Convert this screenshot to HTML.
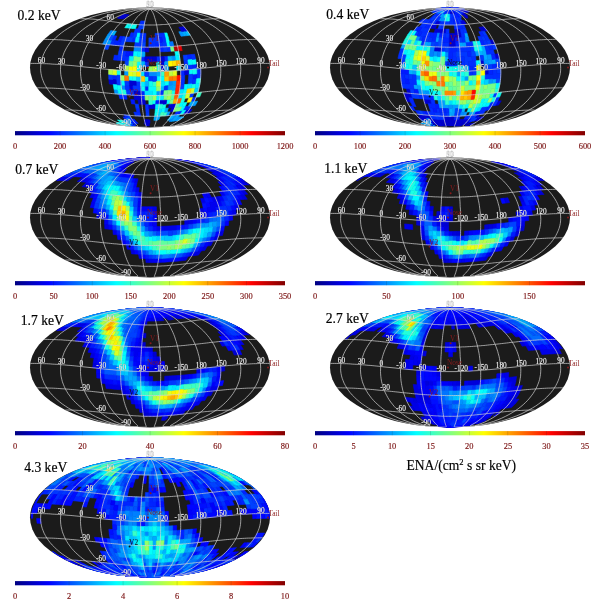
<!DOCTYPE html><html><head><meta charset="utf-8"><title>ENA maps</title><style>html,body{margin:0;padding:0;background:#fff}svg{display:block}text{font-family:"Liberation Serif","Times New Roman",serif}</style></head><body>
<svg width="600" height="600" viewBox="0 0 600 600">
<defs><linearGradient id="jet" x1="0" x2="1" y1="0" y2="0"><stop offset="0.0000" stop-color="#000080"/><stop offset="0.0312" stop-color="#00009f"/><stop offset="0.0625" stop-color="#0000bf"/><stop offset="0.0938" stop-color="#0000df"/><stop offset="0.1250" stop-color="#0000ff"/><stop offset="0.1562" stop-color="#0020ff"/><stop offset="0.1875" stop-color="#0040ff"/><stop offset="0.2188" stop-color="#0060ff"/><stop offset="0.2500" stop-color="#0080ff"/><stop offset="0.2812" stop-color="#009fff"/><stop offset="0.3125" stop-color="#00bfff"/><stop offset="0.3438" stop-color="#00dfff"/><stop offset="0.3750" stop-color="#00ffff"/><stop offset="0.4062" stop-color="#20ffdf"/><stop offset="0.4375" stop-color="#40ffbf"/><stop offset="0.4688" stop-color="#60ff9f"/><stop offset="0.5000" stop-color="#80ff80"/><stop offset="0.5312" stop-color="#9fff60"/><stop offset="0.5625" stop-color="#bfff40"/><stop offset="0.5938" stop-color="#dfff20"/><stop offset="0.6250" stop-color="#ffff00"/><stop offset="0.6562" stop-color="#ffdf00"/><stop offset="0.6875" stop-color="#ffbf00"/><stop offset="0.7188" stop-color="#ff9f00"/><stop offset="0.7500" stop-color="#ff8000"/><stop offset="0.7812" stop-color="#ff6000"/><stop offset="0.8125" stop-color="#ff4000"/><stop offset="0.8438" stop-color="#ff2000"/><stop offset="0.8750" stop-color="#ff0000"/><stop offset="0.9062" stop-color="#df0000"/><stop offset="0.9375" stop-color="#bf0000"/><stop offset="0.9688" stop-color="#9f0000"/><stop offset="1.0000" stop-color="#800000"/></linearGradient>
<clipPath id="el"><ellipse cx="0" cy="0" rx="120.0" ry="60.0"/></clipPath>
<path id="grid" d="M-24.8 58.7L-24.9 58.2L-27.3 57.3L-30.4 56.1L-33.5 54.8L-36.6 53.4L-39.5 51.8L-42.3 50.2L-44.9 48.4L-47.4 46.6L-49.7 44.8L-51.9 42.8L-54 40.8L-55.9 38.8L-57.6 36.6L-59.3 34.5L-60.8 32.3L-62.2 30.1L-63.4 27.8L-64.6 25.5L-65.6 23.2L-66.5 20.9L-67.3 18.5L-67.9 16.1L-68.5 13.7L-68.9 11.3L-69.2 8.8L-69.4 6.4L-69.5 3.9L-69.4 1.5L-69.3 -1L-69 -3.5L-68.6 -5.9L-68.1 -8.4L-67.5 -10.8L-66.7 -13.2L-65.9 -15.6L-64.9 -18L-63.8 -20.4L-62.6 -22.8L-61.2 -25.1L-59.8 -27.4L-58.2 -29.7L-56.5 -31.9L-54.6 -34.1L-52.6 -36.2L-50.5 -38.4L-48.2 -40.4L-45.8 -42.4L-43.2 -44.4L-40.4 -46.3L-37.5 -48.1L-34.4 -49.9L-31 -51.5L-27.4 -53.1L-23.6 -54.6L-19.4 -55.9L-14.8 -57.1L-9.9 -58L-4.8 -58.6L0 -58.7M-24.8 58.7L-29.1 57.8L-33.9 56.7L-38.6 55.4L-43 53.9L-47.1 52.4L-51 50.7L-54.6 49L-58 47.2L-61.3 45.3L-64.3 43.4L-67.1 41.4L-69.7 39.3L-72.1 37.2L-74.4 35.1L-76.5 32.9L-78.5 30.7L-80.2 28.4L-81.9 26.1L-83.3 23.8L-84.6 21.5L-85.7 19.1L-86.7 16.7L-87.6 14.3L-88.2 11.9L-88.8 9.4L-89.2 7L-89.4 4.5L-89.5 2.1L-89.4 -0.4L-89.2 -2.9L-88.8 -5.3L-88.3 -7.8L-87.6 -10.2L-86.7 -12.6L-85.8 -15.1L-84.6 -17.5L-83.3 -19.9L-81.9 -22.2L-80.3 -24.6L-78.5 -26.9L-76.6 -29.2L-74.5 -31.4L-72.2 -33.6L-69.8 -35.8L-67.2 -37.9L-64.4 -40L-61.4 -42L-58.2 -44L-54.8 -45.9L-51.2 -47.8L-47.3 -49.6L-43.2 -51.3L-38.7 -52.9L-33.9 -54.4L-28.7 -55.8L-23 -57.1L-16.7 -58.1L-10 -58.9L-4.1 -59.2L0 -58.7M-24.8 58.7L-32.5 57.6L-39.3 56.3L-45.5 54.9L-51.2 53.4L-56.5 51.8L-61.4 50.1L-66 48.3L-70.2 46.5L-74.2 44.6L-78 42.6L-81.5 40.6L-84.7 38.5L-87.8 36.4L-90.6 34.2L-93.2 32L-95.6 29.7L-97.8 27.5L-99.8 25.2L-101.6 22.8L-103.2 20.5L-104.6 18.1L-105.9 15.7L-106.9 13.2L-107.8 10.8L-108.5 8.4L-109 5.9L-109.3 3.4L-109.4 1L-109.3 -1.5L-109.1 -4L-108.6 -6.4L-108 -8.9L-107.2 -11.3L-106.2 -13.7L-105 -16.2L-103.6 -18.6L-102.1 -20.9L-100.3 -23.3L-98.4 -25.6L-96.2 -27.9L-93.9 -30.2L-91.3 -32.4L-88.6 -34.6L-85.6 -36.8L-82.4 -38.9L-79 -41L-75.3 -43L-71.4 -45L-67.2 -46.9L-62.8 -48.7L-58 -50.5L-52.8 -52.1L-47.3 -53.7L-41.3 -55.2L-34.6 -56.6L-27.2 -57.8L-18.5 -58.9L-8.1 -59.7L-1.7 -59.5L0 -58.7M24.8 58.7L32.7 57.6L39.6 56.3L45.9 54.9L51.7 53.4L57.1 51.8L62 50.1L66.7 48.3L71 46.5L75 44.5L78.8 42.6L82.4 40.5L85.7 38.5L88.8 36.3L91.6 34.2L94.3 32L96.7 29.7L98.9 27.4L101 25.1L102.8 22.8L104.4 20.4L105.9 18L107.1 15.6L108.2 13.2L109.1 10.8L109.8 8.3L110.3 5.9L110.6 3.4L110.7 0.9L110.6 -1.5L110.4 -4L109.9 -6.4L109.3 -8.9L108.5 -11.3L107.5 -13.8L106.3 -16.2L104.9 -18.6L103.3 -21L101.6 -23.3L99.6 -25.7L97.4 -28L95.1 -30.2L92.5 -32.5L89.7 -34.7L86.7 -36.8L83.5 -39L80 -41L76.3 -43L72.3 -45L68.1 -46.9L63.6 -48.7L58.8 -50.5L53.6 -52.2L47.9 -53.8L41.8 -55.2L35.1 -56.6L27.6 -57.9L18.8 -58.9L8 -59.7L1.5 -59.6L0 -58.7M24.8 58.7L29.4 57.8L34.3 56.6L39.1 55.3L43.6 53.9L47.8 52.3L51.7 50.7L55.4 48.9L58.9 47.1L62.2 45.2L65.2 43.3L68.1 41.3L70.7 39.3L73.2 37.2L75.5 35L77.7 32.8L79.6 30.6L81.4 28.3L83.1 26L84.5 23.7L85.9 21.4L87 19L88 16.6L88.9 14.2L89.6 11.8L90.1 9.3L90.5 6.9L90.7 4.4L90.8 2L90.7 -0.5L90.5 -3L90.1 -5.4L89.6 -7.9L88.9 -10.3L88 -12.7L87 -15.2L85.9 -17.6L84.6 -20L83.1 -22.3L81.5 -24.7L79.7 -27L77.7 -29.2L75.6 -31.5L73.3 -33.7L70.8 -35.9L68.2 -38L65.3 -40.1L62.3 -42.1L59.1 -44.1L55.6 -46L51.9 -47.9L48 -49.6L43.8 -51.3L39.3 -52.9L34.4 -54.5L29.1 -55.9L23.2 -57.1L16.8 -58.2L10 -59L4 -59.2L0 -58.7M24.8 58.7L25.2 58.2L27.8 57.2L31 56.1L34.2 54.8L37.3 53.3L40.3 51.7L43.1 50.1L45.8 48.3L48.3 46.5L50.7 44.6L52.9 42.7L55 40.7L57 38.6L58.8 36.5L60.4 34.4L62 32.2L63.4 30L64.7 27.7L65.8 25.4L66.9 23.1L67.8 20.7L68.6 18.4L69.3 16L69.8 13.5L70.2 11.1L70.6 8.7L70.7 6.2L70.8 3.8L70.8 1.3L70.6 -1.1L70.3 -3.6L69.9 -6L69.4 -8.5L68.8 -10.9L68 -13.4L67.1 -15.8L66.1 -18.2L65 -20.5L63.8 -22.9L62.4 -25.2L60.9 -27.5L59.3 -29.8L57.5 -32L55.6 -34.2L53.6 -36.4L51.4 -38.5L49.1 -40.5L46.6 -42.5L44 -44.5L41.2 -46.4L38.2 -48.2L35 -50L31.6 -51.6L27.9 -53.2L23.9 -54.6L19.7 -56L15 -57.2L10 -58.1L4.8 -58.7L0 -58.7M24.8 58.7L20.5 58.6L20.5 58L22.1 57.1L24.2 55.9L26.3 54.6L28.4 53.1L30.5 51.5L32.4 49.9L34.2 48.1L35.9 46.3L37.6 44.4L39.1 42.4L40.5 40.4L41.8 38.4L43 36.2L44.2 34.1L45.2 31.9L46.1 29.7L47 27.4L47.8 25.1L48.5 22.8L49 20.4L49.6 18L50 15.6L50.3 13.2L50.6 10.8L50.7 8.4L50.8 5.9L50.8 3.5L50.7 1L50.5 -1.5L50.3 -3.9L49.9 -6.4L49.5 -8.8L49 -11.3L48.3 -13.7L47.7 -16.1L46.9 -18.5L46 -20.9L45.1 -23.2L44 -25.5L42.9 -27.8L41.6 -30.1L40.3 -32.3L38.9 -34.5L37.4 -36.6L35.7 -38.8L34 -40.8L32.2 -42.8L30.2 -44.8L28.1 -46.6L25.9 -48.4L23.5 -50.2L20.9 -51.8L18.2 -53.4L15.2 -54.8L11.9 -56.1L8.4 -57.3L4.4 -58.2L0 -58.7M24.8 58.7L16 59.2L12.8 58.9L13 58.1L14.2 57.1L15.5 55.8L16.7 54.4L18 52.9L19.2 51.3L20.3 49.6L21.4 47.8L22.4 45.9L23.3 44L24.2 42L25 40L25.8 37.9L26.5 35.8L27.2 33.6L27.7 31.4L28.3 29.2L28.8 26.9L29.2 24.6L29.6 22.2L29.9 19.9L30.2 17.5L30.4 15.1L30.6 12.6L30.7 10.2L30.7 7.8L30.7 5.3L30.7 2.9L30.6 0.4L30.5 -2.1L30.3 -4.5L30 -7L29.7 -9.4L29.4 -11.9L29 -14.3L28.5 -16.7L28 -19.1L27.5 -21.5L26.8 -23.8L26.2 -26.1L25.4 -28.4L24.7 -30.7L23.8 -32.9L22.9 -35.1L21.9 -37.2L20.9 -39.3L19.8 -41.4L18.6 -43.4L17.4 -45.3L16.1 -47.2L14.6 -49L13.1 -50.7L11.5 -52.4L9.7 -53.9L7.7 -55.4L5.5 -56.7L3 -57.8L0 -58.7M24.8 58.7L13 59.5L4.6 59.7L4.3 58.9L4.7 57.8L5.2 56.6L5.7 55.2L6.1 53.7L6.6 52.1L7 50.5L7.3 48.7L7.7 46.9L8 45L8.4 43L8.6 41L8.9 38.9L9.2 36.8L9.4 34.6L9.6 32.4L9.8 30.2L10 27.9L10.1 25.6L10.3 23.3L10.4 20.9L10.5 18.6L10.6 16.2L10.6 13.7L10.7 11.3L10.7 8.9L10.7 6.4L10.7 4L10.7 1.5L10.6 -1L10.5 -3.4L10.5 -5.9L10.4 -8.4L10.2 -10.8L10.1 -13.2L10 -15.7L9.8 -18.1L9.6 -20.5L9.4 -22.8L9.1 -25.2L8.9 -27.5L8.6 -29.7L8.3 -32L8 -34.2L7.7 -36.4L7.3 -38.5L7 -40.6L6.6 -42.6L6.1 -44.6L5.7 -46.5L5.2 -48.3L4.6 -50.1L4.1 -51.8L3.5 -53.4L2.8 -54.9L2 -56.3L1.1 -57.6L0 -58.7M-24.8 58.7L-12.9 59.6L-4 59.7L-3.8 58.9L-4.1 57.9L-4.6 56.6L-5 55.2L-5.4 53.8L-5.7 52.2L-6.1 50.5L-6.4 48.7L-6.7 46.9L-7 45L-7.3 43L-7.6 41L-7.8 39L-8 36.8L-8.2 34.7L-8.4 32.5L-8.6 30.2L-8.7 28L-8.9 25.7L-9 23.3L-9.1 21L-9.2 18.6L-9.2 16.2L-9.3 13.8L-9.3 11.3L-9.3 8.9L-9.4 6.4L-9.3 4L-9.3 1.5L-9.3 -0.9L-9.2 -3.4L-9.2 -5.9L-9.1 -8.3L-9 -10.8L-8.8 -13.2L-8.7 -15.6L-8.6 -18L-8.4 -20.4L-8.2 -22.8L-8 -25.1L-7.8 -27.4L-7.5 -29.7L-7.3 -32L-7 -34.2L-6.7 -36.3L-6.4 -38.5L-6.1 -40.5L-5.7 -42.6L-5.4 -44.5L-5 -46.5L-4.5 -48.3L-4.1 -50.1L-3.6 -51.8L-3 -53.4L-2.4 -54.9L-1.8 -56.3L-1 -57.6L0 -58.7M-24.8 58.7L-15.7 59.2L-12.2 59L-12.4 58.2L-13.5 57.1L-14.7 55.9L-16 54.5L-17.2 52.9L-18.3 51.3L-19.4 49.6L-20.4 47.9L-21.4 46L-22.3 44.1L-23.2 42.1L-23.9 40.1L-24.7 38L-25.3 35.9L-26 33.7L-26.5 31.5L-27 29.2L-27.5 27L-27.9 24.7L-28.3 22.3L-28.6 20L-28.9 17.6L-29.1 15.2L-29.2 12.7L-29.3 10.3L-29.4 7.9L-29.4 5.4L-29.4 3L-29.3 0.5L-29.1 -2L-29 -4.4L-28.7 -6.9L-28.4 -9.3L-28.1 -11.8L-27.7 -14.2L-27.3 -16.6L-26.8 -19L-26.3 -21.4L-25.7 -23.7L-25 -26L-24.3 -28.3L-23.6 -30.6L-22.8 -32.8L-21.9 -35L-21 -37.2L-20 -39.3L-19 -41.3L-17.8 -43.3L-16.7 -45.2L-15.4 -47.1L-14 -48.9L-12.6 -50.7L-11 -52.3L-9.3 -53.9L-7.4 -55.3L-5.3 -56.6L-2.9 -57.8L0 -58.7M-24.8 58.7L-20.2 58.7L-20 58.1L-21.5 57.2L-23.5 56L-25.6 54.6L-27.7 53.2L-29.6 51.6L-31.5 50L-33.3 48.2L-35 46.4L-36.5 44.5L-38 42.5L-39.4 40.5L-40.7 38.5L-41.9 36.4L-43 34.2L-44 32L-44.9 29.8L-45.7 27.5L-46.5 25.2L-47.2 22.9L-47.7 20.5L-48.2 18.2L-48.6 15.8L-49 13.4L-49.2 10.9L-49.4 8.5L-49.5 6L-49.5 3.6L-49.4 1.1L-49.2 -1.3L-48.9 -3.8L-48.6 -6.2L-48.2 -8.7L-47.7 -11.1L-47.1 -13.5L-46.4 -16L-45.7 -18.4L-44.8 -20.7L-43.9 -23.1L-42.9 -25.4L-41.8 -27.7L-40.6 -30L-39.3 -32.2L-37.9 -34.4L-36.4 -36.5L-34.8 -38.6L-33.2 -40.7L-31.4 -42.7L-29.4 -44.6L-27.4 -46.5L-25.2 -48.3L-22.9 -50.1L-20.4 -51.7L-17.8 -53.3L-14.9 -54.8L-11.7 -56.1L-8.2 -57.2L-4.3 -58.2L0 -58.7M-84.7 42.5L-83.5 42.5L-82.2 42.5L-81 42.5L-79.7 42.5L-78.4 42.6L-77.1 42.6L-75.8 42.7L-74.4 42.7L-73.1 42.8L-71.7 42.9L-70.3 43L-68.9 43L-67.5 43.1L-66.1 43.2L-64.7 43.3L-63.3 43.5L-61.9 43.6L-60.4 43.7L-59 43.8L-57.5 44L-56.1 44.1L-54.6 44.2L-53.2 44.4L-51.7 44.5L-50.2 44.7L-48.7 44.9L-47.3 45L-45.8 45.2L-44.3 45.3L-42.8 45.5L-41.4 45.7L-39.9 45.8L-38.4 46L-36.9 46.2L-35.4 46.3L-34 46.5L-32.5 46.7L-31 46.8L-29.6 47L-28.1 47.1L-26.7 47.3L-25.2 47.4L-23.8 47.6L-22.4 47.7L-20.9 47.8L-19.5 47.9L-18.1 48.1L-16.7 48.2L-15.2 48.3L-13.8 48.4L-12.4 48.4L-11 48.5L-9.7 48.6L-8.3 48.7L-6.9 48.7L-5.5 48.8L-4.1 48.8L-2.8 48.8L-1.4 48.8L0 48.8L1.4 48.8L2.8 48.8L4.1 48.8L5.5 48.8L6.9 48.7L8.3 48.7L9.7 48.6L11 48.5L12.4 48.4L13.8 48.4L15.2 48.3L16.7 48.2L18.1 48.1L19.5 47.9L20.9 47.8L22.4 47.7L23.8 47.6L25.2 47.4L26.7 47.3L28.1 47.1L29.6 47L31 46.8L32.5 46.7L34 46.5L35.4 46.3L36.9 46.2L38.4 46L39.9 45.8L41.4 45.7L42.8 45.5L44.3 45.3L45.8 45.2L47.3 45L48.7 44.9L50.2 44.7L51.7 44.5L53.2 44.4L54.6 44.2L56.1 44.1L57.5 44L59 43.8L60.4 43.7L61.9 43.6L63.3 43.5L64.7 43.3L66.1 43.2L67.5 43.1L68.9 43L70.3 43L71.7 42.9L73.1 42.8L74.4 42.7L75.8 42.7L77.1 42.6L78.4 42.6L79.7 42.5L81 42.5L82.2 42.5L83.5 42.5L84.7 42.5M-112.9 20.3L-111.1 20.3L-109.3 20.3L-107.5 20.4L-105.7 20.4L-103.8 20.4L-102 20.5L-100.2 20.6L-98.3 20.6L-96.5 20.7L-94.6 20.8L-92.7 20.9L-90.9 21L-89 21.2L-87.1 21.3L-85.2 21.4L-83.3 21.6L-81.5 21.7L-79.6 21.9L-77.7 22L-75.8 22.2L-73.9 22.4L-72 22.6L-70.1 22.8L-68.1 22.9L-66.2 23.1L-64.3 23.3L-62.4 23.5L-60.5 23.7L-58.6 23.9L-56.7 24.1L-54.8 24.3L-52.9 24.5L-51 24.7L-49 25L-47.1 25.2L-45.2 25.3L-43.3 25.5L-41.4 25.7L-39.5 25.9L-37.6 26.1L-35.7 26.3L-33.8 26.4L-31.9 26.6L-30 26.8L-28.1 26.9L-26.3 27.1L-24.4 27.2L-22.5 27.3L-20.6 27.4L-18.7 27.6L-16.8 27.7L-15 27.7L-13.1 27.8L-11.2 27.9L-9.3 28L-7.5 28L-5.6 28L-3.7 28.1L-1.9 28.1L0 28.1L1.9 28.1L3.7 28.1L5.6 28L7.5 28L9.3 28L11.2 27.9L13.1 27.8L15 27.7L16.8 27.7L18.7 27.6L20.6 27.4L22.5 27.3L24.4 27.2L26.3 27.1L28.1 26.9L30 26.8L31.9 26.6L33.8 26.4L35.7 26.3L37.6 26.1L39.5 25.9L41.4 25.7L43.3 25.5L45.2 25.3L47.1 25.2L49 25L51 24.7L52.9 24.5L54.8 24.3L56.7 24.1L58.6 23.9L60.5 23.7L62.4 23.5L64.3 23.3L66.2 23.1L68.1 22.9L70.1 22.8L72 22.6L73.9 22.4L75.8 22.2L77.7 22L79.6 21.9L81.5 21.7L83.3 21.6L85.2 21.4L87.1 21.3L89 21.2L90.9 21L92.7 20.9L94.6 20.8L96.5 20.7L98.3 20.6L100.2 20.6L102 20.5L103.8 20.4L105.7 20.4L107.5 20.4L109.3 20.3L111.1 20.3L112.9 20.3M-119.7 -4.1L-117.7 -4.1L-115.7 -4.1L-113.7 -4.1L-111.7 -4L-109.7 -4L-107.7 -3.9L-105.7 -3.8L-103.7 -3.8L-101.7 -3.7L-99.8 -3.6L-97.8 -3.4L-95.8 -3.3L-93.8 -3.2L-91.8 -3.1L-89.8 -2.9L-87.8 -2.7L-85.8 -2.6L-83.9 -2.4L-81.9 -2.2L-79.9 -2.1L-77.9 -1.9L-75.9 -1.7L-73.9 -1.5L-71.9 -1.3L-69.9 -1.1L-68 -0.9L-66 -0.6L-64 -0.4L-62 -0.2L-60 0L-58 0.2L-56 0.4L-54 0.6L-52 0.9L-50 1.1L-48 1.3L-46 1.5L-44 1.7L-42 1.9L-40 2.1L-38 2.2L-36 2.4L-34 2.6L-32 2.7L-30 2.9L-28 3.1L-26 3.2L-24 3.3L-22 3.4L-20 3.6L-18 3.7L-16 3.8L-14 3.8L-12 3.9L-10 4L-8 4L-6 4.1L-4 4.1L-2 4.1L0 4.1L2 4.1L4 4.1L6 4.1L8 4L10 4L12 3.9L14 3.8L16 3.8L18 3.7L20 3.6L22 3.4L24 3.3L26 3.2L28 3.1L30 2.9L32 2.7L34 2.6L36 2.4L38 2.2L40 2.1L42 1.9L44 1.7L46 1.5L48 1.3L50 1.1L52 0.9L54 0.6L56 0.4L58 0.2L60 0L62 -0.2L64 -0.4L66 -0.6L68 -0.9L69.9 -1.1L71.9 -1.3L73.9 -1.5L75.9 -1.7L77.9 -1.9L79.9 -2.1L81.9 -2.2L83.9 -2.4L85.8 -2.6L87.8 -2.7L89.8 -2.9L91.8 -3.1L93.8 -3.2L95.8 -3.3L97.8 -3.4L99.8 -3.6L101.7 -3.7L103.7 -3.8L105.7 -3.8L107.7 -3.9L109.7 -4L111.7 -4L113.7 -4.1L115.7 -4.1L117.7 -4.1L119.7 -4.1M-106 -28.1L-104.2 -28.1L-102.3 -28.1L-100.5 -28L-98.6 -28L-96.8 -28L-95 -27.9L-93.2 -27.8L-91.4 -27.7L-89.6 -27.7L-87.9 -27.6L-86.1 -27.4L-84.3 -27.3L-82.6 -27.2L-80.8 -27.1L-79.1 -26.9L-77.4 -26.8L-75.6 -26.6L-73.9 -26.4L-72.2 -26.3L-70.4 -26.1L-68.7 -25.9L-67 -25.7L-65.3 -25.5L-63.5 -25.3L-61.8 -25.1L-60.1 -25L-58.4 -24.7L-56.6 -24.5L-54.9 -24.3L-53.2 -24.1L-51.4 -23.9L-49.7 -23.7L-48 -23.5L-46.2 -23.3L-44.5 -23.1L-42.7 -22.9L-41 -22.8L-39.2 -22.6L-37.5 -22.4L-35.7 -22.2L-33.9 -22L-32.2 -21.9L-30.4 -21.7L-28.6 -21.6L-26.9 -21.4L-25.1 -21.3L-23.3 -21.2L-21.5 -21L-19.7 -20.9L-17.9 -20.8L-16.2 -20.7L-14.4 -20.6L-12.6 -20.6L-10.8 -20.5L-9 -20.4L-7.2 -20.4L-5.4 -20.4L-3.6 -20.3L-1.8 -20.3L0 -20.3L1.8 -20.3L3.6 -20.3L5.4 -20.4L7.2 -20.4L9 -20.4L10.8 -20.5L12.6 -20.6L14.4 -20.6L16.2 -20.7L17.9 -20.8L19.7 -20.9L21.5 -21L23.3 -21.2L25.1 -21.3L26.9 -21.4L28.6 -21.6L30.4 -21.7L32.2 -21.9L33.9 -22L35.7 -22.2L37.5 -22.4L39.2 -22.6L41 -22.8L42.7 -22.9L44.5 -23.1L46.2 -23.3L48 -23.5L49.7 -23.7L51.4 -23.9L53.2 -24.1L54.9 -24.3L56.6 -24.5L58.4 -24.7L60.1 -25L61.8 -25.1L63.5 -25.3L65.3 -25.5L67 -25.7L68.7 -25.9L70.4 -26.1L72.2 -26.3L73.9 -26.4L75.6 -26.6L77.4 -26.8L79.1 -26.9L80.8 -27.1L82.6 -27.2L84.3 -27.3L86.1 -27.4L87.9 -27.6L89.6 -27.7L91.4 -27.7L93.2 -27.8L95 -27.9L96.8 -28L98.6 -28L100.5 -28L102.3 -28.1L104.2 -28.1L106 -28.1M-69.7 -48.8L-68.4 -48.8L-67 -48.8L-65.7 -48.8L-64.4 -48.8L-63.2 -48.7L-61.9 -48.7L-60.7 -48.6L-59.5 -48.5L-58.3 -48.4L-57.2 -48.4L-56 -48.3L-54.9 -48.2L-53.8 -48.1L-52.7 -47.9L-51.6 -47.8L-50.5 -47.7L-49.4 -47.6L-48.3 -47.4L-47.2 -47.3L-46.2 -47.1L-45.1 -47L-44 -46.8L-42.9 -46.7L-41.9 -46.5L-40.8 -46.3L-39.7 -46.2L-38.6 -46L-37.6 -45.8L-36.5 -45.7L-35.4 -45.5L-34.3 -45.3L-33.2 -45.2L-32.1 -45L-30.9 -44.9L-29.8 -44.7L-28.7 -44.5L-27.6 -44.4L-26.4 -44.2L-25.3 -44.1L-24.1 -44L-23 -43.8L-21.8 -43.7L-20.6 -43.6L-19.4 -43.5L-18.2 -43.3L-17.1 -43.2L-15.9 -43.1L-14.7 -43L-13.5 -43L-12.2 -42.9L-11 -42.8L-9.8 -42.7L-8.6 -42.7L-7.4 -42.6L-6.1 -42.6L-4.9 -42.5L-3.7 -42.5L-2.5 -42.5L-1.2 -42.5L0 -42.5L1.2 -42.5L2.5 -42.5L3.7 -42.5L4.9 -42.5L6.1 -42.6L7.4 -42.6L8.6 -42.7L9.8 -42.7L11 -42.8L12.2 -42.9L13.5 -43L14.7 -43L15.9 -43.1L17.1 -43.2L18.2 -43.3L19.4 -43.5L20.6 -43.6L21.8 -43.7L23 -43.8L24.1 -44L25.3 -44.1L26.4 -44.2L27.6 -44.4L28.7 -44.5L29.8 -44.7L30.9 -44.9L32.1 -45L33.2 -45.2L34.3 -45.3L35.4 -45.5L36.5 -45.7L37.6 -45.8L38.6 -46L39.7 -46.2L40.8 -46.3L41.9 -46.5L42.9 -46.7L44 -46.8L45.1 -47L46.2 -47.1L47.2 -47.3L48.3 -47.4L49.4 -47.6L50.5 -47.7L51.6 -47.8L52.7 -47.9L53.8 -48.1L54.9 -48.2L56 -48.3L57.2 -48.4L58.3 -48.4L59.5 -48.5L60.7 -48.6L61.9 -48.7L63.2 -48.7L64.4 -48.8L65.7 -48.8L67 -48.8L68.4 -48.8L69.7 -48.8"/>
</defs>
<rect width="600" height="600" fill="#fff"/>
<g transform="translate(150 67.5)">
<ellipse cx="0" cy="0" rx="120.0" ry="60.0" fill="#1b1b1b"/>
<g clip-path="url(#el)"><g transform="scale(0.1)" stroke-width="6" stroke-linejoin="round">
<path fill="#0000c7" stroke="#0000c7" d="M-249 -494l-23 0 14-12 15-11 15-11 19 0-14 11-14 11zM-15 558l-14 0 3 9 3 9 4 7 10 0-2-7-2-9z"/>
<path fill="#0000d1" stroke="#0000d1" d="M-272 -494l-23 0 15-12 16-11 17-11 19 0-15 11-15 11zM-295 -494l-23 0 17-12 17-11 18-11 19 0-17 11-16 11zM0 528l-19 0 1 11 2 10 1 9 15 0 0-9 0-10zM-19 528l-19 0 3 11 3 10 3 9 14 0-1-9-2-10zM-38 528l-19 0 4 11 4 10 5 9 15 0-3-9-3-10z"/>
<path fill="#00a8ff" stroke="#00a8ff" d="M340 494l-22 0-17 12-17 11-18 11 19 0 19-11 19-11zM295 494l-23 0-14 12-15 11-15 11 19 0 17-11 16-11zM91 494l-23 0-3 12-4 11-4 11 19 0 5-11 5-11zM68 494l-23 0-2 12-2 11-3 11 19 0 4-11 4-11z"/>
<path fill="#0094ff" stroke="#0094ff" d="M318 494l-23 0-15 12-16 11-17 11 19 0 18-11 17-11zM-247 528l-19 0 19 11 20 10 22 9 14 0-20-9-18-10zM-235 558l-14 0 27 9 30 9 33 7 10 0-31-7-29-9zM-249 558l-15 0 29 9 32 9 35 7 9 0-33-7-30-9z"/>
<path fill="#008aff" stroke="#008aff" d="M272 494l-23 0-12 12-14 11-14 11 19 0 15-11 15-11zM249 494l-22 0-12 12-12 11-13 11 19 0 14-11 14-11zM-264 558l-15 0 31 9 34 9 37 7 9 0-35-7-32-9z"/>
<path fill="#00b2ff" stroke="#00b2ff" d="M227 494l-23 0-10 12-11 11-12 11 19 0 13-11 12-11z"/>
<path fill="#0042ff" stroke="#0042ff" d="M-204 494l-23 0 12 12 12 11 13 11 19 0-12-11-11-11z"/>
<path fill="#009eff" stroke="#009eff" d="M-227 494l-22 0 12 12 14 11 14 11 19 0-13-11-12-11zM-228 528l-19 0 18 11 18 10 20 9 15 0-18-9-18-10zM-266 528l-19 0 20 11 22 10 23 9 15 0-22-9-20-10z"/>
<path fill="#0024ff" stroke="#0024ff" d="M-249 494l-23 0 14 12 15 11 15 11 19 0-14-11-14-11zM-152 528l-19 0 12 11 13 10 14 9 15 0-13-9-11-10zM-171 528l-19 0 14 11 14 10 15 9 15 0-14-9-13-10zM-220 558l-15 0 26 9 29 9 31 7 9 0-29-7-27-9z"/>
<path fill="#002eff" stroke="#002eff" d="M-190 528l-19 0 15 11 16 10 17 9 14 0-15-9-14-10z"/>
<path fill="#001aff" stroke="#001aff" d="M-209 528l-19 0 16 11 18 10 18 9 15 0-17-9-16-10z"/>
<path fill="#38ffc7" stroke="#38ffc7" d="M-285 528l-19 0 22 11 23 10 24 9 15 0-23-9-22-10z"/>
<path fill="#0ffff0" stroke="#0ffff0" d="M-304 528l-19 0 23 11 25 10 26 9 14 0-24-9-23-10z"/>
<path fill="#0000db" stroke="#0000db" d="M-29 558l-15 0 5 9 5 9 6 7 9 0-4-7-3-9zM-44 558l-15 0 7 9 7 9 8 7 9 0-6-7-5-9z"/>
<path fill="#00bdff" stroke="#00bdff" d="M-279 558l-14 0 32 9 36 9 38 7 10 0-37-7-34-9z"/>
<path fill="#1affe5" stroke="#1affe5" d="M-293 558l-15 0 34 9 37 9 41 7 9 0-38-7-36-9z"/>
<path fill="#00dbff" stroke="#00dbff" d="M-308 558l-15 0 36 9 39 9 43 7 9 0-41-7-37-9z"/>
<path fill="#05fffa" stroke="#05fffa" d="M-323 558l-14 0 37 9 41 9 44 7 10 0-43-7-39-9z"/>
<path fill="#0024ff" stroke="#0024ff" d="M-169 584l-5 0-6-1-5 0-7-6-11-7-12-8 7 1 7 1 6 1 11 7 10 7zM-137 547l-8-1-7-1-8 0-8-10-8-11-7-11 8 1 9 1 8 1 7 10 7 11zM-160 545l-7-1-8-1-8-1-9-10-9-10-8-11 8 1 9 1 9 0 7 11 8 11zM-206 540l-8-1-7-1-8-1-11-10-11-11-11-11 9 1 9 1 9 1 9 11 10 11zM-209 511l-26-3-27-35 29 3zM301 469l-29 3 24-38 31-3zM-101 449l-30-2-10-39 33 1zM-48 326l-36-1-3-45 37 1zM-229 318l-36-3-10-45 38 2zM-50 281l-37-1-3-47 39 1zM-13 235l-38-1-1-47 39 0zM-332 124l-40-3-2-49 40 4zM347 74l-40 4 0-49 40-4zM467 14l-40 4-3-49 39-4zM417 -80l-39 3-8-48 38-4zM183 -62l-39 2-3-49 38-2zM-52 -58l-40-1 2-49 39 1zM-326 -72l-39-3 8-49 38 3zM-166 -111l-39-2 6-48 37 2zM137 -158l-37 1-4-48 36-1zM-50 -156l-37 0 3-48 36 1zM-273 -166l-37-3 12-48 35 3zM96 -205l-36 1-3-47 34-1zM-298 -217l-36-3 16-46 34 3zM-334 -220l-35-3 18-47 33 4zM-148 -254l-35-2 11-45 32 1zM-351 -270l-34-3 23-45 31 3zM-172 -301l-32-3 14-44 30 2z"/>
<path fill="#0094ff" stroke="#0094ff" d="M-185 583l-5-1-5 0-5-1-9-6-12-7-14-8 7 1 6 0 7 1 12 8 11 7zM-195 565l-6-1-7-1-7-1-13-8-12-10-13-9 8 1 8 0 8 1 11 10 12 9zM261 534l-8 1-8 1-8 0 12-10 11-10 11-12 8 0 9-1 9-1-12 11-12 10zM244 507l-26 3 25-35 29-3zM100 279l-38 1 2-46 39-1zM-313 267l-38-4-9-46 38 3zM261 -67l-39 3-5-49 39-3zM341 -316l-31 3-22-44 28-3z"/>
<path fill="#008aff" stroke="#008aff" d="M-200 581l-5-1-5 0-5-1-11-6-14-7-15-9 6 1 7 1 7 1 14 8 12 7zM214 539l-8 1-8 1-8 1 10-11 9-10 9-11 9-1 8-1 9-1-10 11-10 11zM-244 226l-39-3-6-47 40 3zM223 180l-40 2 3-48 40-2zM67 90l-40 0 0-49 40-1zM27 90l-40 0 0-49 40 0zM387 22l-40 3-3-49 40-3zM-87 -156l-37-2 4-47 36 1zM-124 -158l-38-1 6-48 36 2zM-439 -231l-35-4 23-46 33 4zM-393 -322l-31-4 31-43 29 4z"/>
<path fill="#00bdff" stroke="#00bdff" d="M-215 579l-5 0-5-1-5 0-13-7-16-8-16-8 6 1 7 1 7 0 15 9 14 7zM141 232l-38 1 2-47 39-2zM403 -323l-31 4-27-44 29-3z"/>
<path fill="#1affe5" stroke="#1affe5" d="M-230 578l-5-1-5-1-5 0-15-7-18-8-18-8 7 1 7 0 7 1 16 8 16 8zM152 407l-33 2 7-42 35-2zM335 352l-35 3 14-44 37-3zM351 308l-37 3 12-45 37-4zM250 272l-38 2 6-46 39-3zM451 208l-39 4 8-48 40-4z"/>
<path fill="#00dbff" stroke="#00dbff" d="M-245 576l-4-1-5 0-5-1-18-7-19-8-20-9 7 1 7 1 6 1 18 8 18 8zM101 486l-28 1 7-37 31-2zM-53 90l-40-1 0-49 40 1z"/>
<path fill="#05fffa" stroke="#05fffa" d="M-259 574l-5 0-4-1-5 0-20-8-21-8-21-9 6 1 7 1 6 0 20 9 19 8zM80 450l-30 0 4-39 32-1zM351 391l-34 3 18-42 36-4zM195 363l-34 2 7-44 37-2zM57 369l-34 0 1-43 36-1zM363 262l-37 4 9-47 38-3zM62 280l-37 1 1-47 38 0zM-275 270l-38-3-9-47 39 3zM64 234l-38 0 0-47 39 0zM26 234l-39 1 0-48 39 0zM183 182l-39 2 2-48 40-2zM-249 179l-40-3-3-49 40 3zM-13 139l-40 0 0-49 40 0zM-173 135l-39-2-2-49 40 2zM428 67l-40 4-1-49 40-4zM-93 40l-41-1 1-50 40 2zM463 -35l-39 4-7-49 39-4zM106 -10l-40 1-1-49 40-1zM294 -119l-38 3-8-48 37-3zM194 -256l-34 2-9-46 32-2zM183 -302l-32 2-11-45 30-1z"/>
<path fill="#0000c7" stroke="#0000c7" d="M-6 580l-6 0-6-1-6 0-1-8-2-9-1-9 7 0 7 0 7 0 0 10 1 9zM-125 278l-37-1-5-47 39 2zM-328 173l-40-4-4-48 40 3zM-271 -486l-6-1-7-1-6-1 18-12 19-11 20-11 4 1 5 1 5 1-18 11-18 11z"/>
<path fill="#0000db" stroke="#0000db" d="M-24 579l-5 0-6 0-6 0-3-8-3-9-3-10 7 1 8 0 7 0 1 9 2 9zM-167 230l-38-2-5-47 40 2zM147 38l-40 2-1-50 40-1zM146 -11l-40 1-1-49 39-1zM26 -58l-39 0 0-49 39 0zM374 -366l-29 3-31-42 26-3z"/>
<path fill="#002eff" stroke="#002eff" d="M-135 571l-7 0-6-1-7-1-9-8-9-9-10-10 8 1 8 1 7 1 8 9 9 9zM272 472l-29 3 22-38 31-3zM-92 486l-28-1-11-38 30 2zM-120 485l-28-2-14-37 31 1zM391 424l-32 4 25-41 34-3zM359 428l-32 3 24-40 33-4zM-10 451l-30 0-3-40 32 0zM-11 411l-32 0-3-42 35 1zM442 341l-36 4 18-45 37-3zM-265 315l-37-3-11-45 38 3zM137 278l-37 1 3-46 38-1zM180 230l-39 2 3-48 39-2zM-205 228l-39-2-5-47 39 2zM460 160l-40 4 5-48 41-4zM341 171l-39 4 4-49 40-3zM506 108l-40 4 2-49 40-4zM346 123l-40 3 1-48 40-4zM27 139l-40 0 0-49 40 0zM508 59l-40 4-1-49 40-4zM427 18l-40 4-3-49 40-4zM384 -27l-40 3-5-49 39-4zM-13 -8l-40-1 1-49 39 0zM456 -84l-39 4-9-49 38-4zM105 -59l-40 1-1-49 38-1zM-209 -64l-39-2 5-49 38 2zM-248 -66l-39-3 6-49 38 3zM-287 -69l-39-3 7-49 38 3zM-243 -115l-38-3 8-48 37 3zM211 -162l-37 2-6-48 35-2zM132 -206l-36 1-5-47 35-1zM60 -204l-36 1-1-47 34-1zM24 -203l-36 0 1-47 34 0zM-369 -223l-35-4 19-46 34 3zM160 -254l-34 1-7-46 32-1zM57 -251l-34 1-1-46 32-1zM-46 -251l-34 0 5-46 32 1zM151 -300l-32 1-9-44 30-2zM119 -299l-33 2-6-45 30-1zM-43 -296l-32-1 5-45 30 1zM-75 -297l-33-1 8-45 30 1zM-100 -343l-30-1 11-43 27 1zM-130 -344l-30-2 14-42 27 1zM-57 -426l-25-1 11-38 21 0zM-82 -427l-24-1 14-38 21 1z"/>
<path fill="#001aff" stroke="#001aff" d="M-155 569l-6-1-7 0-7-1-10-8-11-10-10-9 8 1 8 1 7 0 10 10 9 9zM92 368l-35 1 3-44 36-1zM-149 366l-35-2-9-44 37 2zM466 112l-41 4 3-49 40-4zM-205 -113l-38-2 7-48 37 2zM126 -253l-35 1-5-45 33-2zM-284 -263l-34-3 19-46 31 3z"/>
<path fill="#009eff" stroke="#009eff" d="M-175 567l-6-1-7-1-7 0-11-9-12-9-11-10 8 1 7 1 8 1 10 9 11 10zM-215 562l-7-1-6 0-7-1-14-9-14-9-14-10 8 1 8 1 8 1 13 9 12 10zM-183 542l-7 0-8-1-8-1-10-10-10-11-9-11 8 1 9 1 9 1 8 11 9 10zM185 480l-28 2 15-37 30-2zM452 380l-34 4 24-43 35-4zM218 228l-38 2 3-48 40-2zM262 178l-39 2 3-48 40-3zM-214 84l-40-2 0-50 40 3zM186 -13l-40 2-2-49 39-2zM-404 -227l-35-4 21-46 33 4zM-418 -277l-33-4 27-45 31 4z"/>
<path fill="#38ffc7" stroke="#38ffc7" d="M-235 560l-7-1-7-1-6-1-15-8-16-10-14-10 8 1 8 1 7 1 14 10 14 9zM157 482l-28 2 12-37 31-2zM498 293l-37 4 17-46 38-4zM65 187l-39 0 1-48 39-1zM147 87l-40 2 0-49 40-2z"/>
<path fill="#0ffff0" stroke="#0ffff0" d="M-255 557l-7 0-7-1-6-1-17-9-16-10-16-10 8 1 8 1 8 1 14 10 16 10zM73 487l-27 1 4-38 30 0zM-51 234l-39-1-2-47 40 1zM-283 223l-39-3-6-47 39 3zM500 156l-40 4 6-48 40-4zM26 187l-39 0 0-48 40 0zM-133 137l-40-2-1-49 40 2zM468 63l-40 4-1-49 40-4zM-294 79l-40-3 0-50 40 4zM-146 -388l-27-2 18-41 24 2zM-173 -390l-27-3 22-40 23 2zM-227 -395l-26-3 27-40 24 3z"/>
<path fill="#00a8ff" stroke="#00a8ff" d="M284 531l-7 1-8 1-8 1 12-11 12-10 12-11 9-1 9-1 9-1-13 11-13 11zM237 536l-8 1-8 1-7 1 10-10 10-11 10-11 9-1 9-1 9-1-11 12-11 10zM271 504l-27 3 28-35 29-3zM90 520l-24 1 7-34 28-1zM66 521l-25 1 5-34 27-1zM172 445l-31 2 11-40 32-2zM418 384l-34 3 22-42 36-4zM257 225l-39 3 5-48 39-2zM107 89l-40 1 0-50 40 0zM187 36l-40 2-1-49 40-2zM-51 -107l-39-1 3-48 37 0zM372 -319l-31 3-25-44 29-3z"/>
<path fill="#0000d1" stroke="#0000d1" d="M-7 553l-7 0-7 0-7 0-2-10-1-10-2-11 8 0 9 1 8 0 0 10 1 11zM-28 553l-7 0-8 0-7-1-2-9-3-11-2-10 8 0 8 0 8 0 2 11 1 10zM389 459l-30 4 32-39 32-3zM359 463l-29 3 29-38 32-4zM233 440l-31 3 15-40 33-3zM250 400l-33 3 13-42 35-3zM217 403l-33 2 11-42 35-2zM54 411l-32 0 1-42 34 0zM22 411l-33 0 0-41 34-1zM161 365l-35 2 6-44 36-2zM126 367l-34 1 4-44 36-1zM-46 369l-34-1-4-43 36 1zM-80 368l-35-1-5-43 36 1zM-84 325l-36-1-5-46 38 2zM-120 324l-36-2-6-45 37 1zM-87 280l-38-2-3-46 38 1zM-131 185l-39-2-3-48 40 2zM-170 183l-40-2-2-48 39 2zM-368 169l-39-3-5-49 40 4zM388 71l-41 3 0-49 40-3zM144 -60l-39 1-3-49 39-1zM65 -58l-39 0 0-49 38 0zM-13 -58l-39 0 1-49 38 0zM-12 -155l-38-1 2-47 36 0zM345 -363l-29 3-28-42 26-3zM-290 -489l-6-1-6-1-6-1 19-12 20-11 22-10 4 1 5 0 5 1-20 11-19 11zM-308 -492l-6-1-6-1-6-1 21-12 21-11 23-10 4 1 5 1 5 1-22 10-20 11z"/>
<path fill="#00b2ff" stroke="#00b2ff" d="M218 510l-26 3 22-35 29-3zM-13 187l-39 0-1-48 40 0zM-53 -9l-40 0 1-50 40 1zM222 -64l-39 2-4-49 38-2zM-362 -318l-31-4 29-43 28 3z"/>
<path fill="#0042ff" stroke="#0042ff" d="M-183 513l-26-2-24-35 29 3zM-212 -14l-40-3 4-49 39 2zM-420 -180l-37-4 18-47 35 4zM-48 -203l-36-1 4-47 34 0zM-64 -385l-28-1 10-41 25 1z"/>
<path fill="#00faff" stroke="#00faff" d="M330 466l-29 3 26-38 32-3zM327 431l-31 3 21-40 34-3zM141 447l-30 1 8-39 33-2zM317 394l-33 3 16-42 35-3zM373 216l-38 3 6-48 40-3zM-322 220l-38-3-8-48 40 4zM146 136l-40 1 1-48 40-2zM106 137l-40 1 1-48 40-1zM424 -31l-40 4-6-50 39-3zM-93 -9l-40-2 2-49 39 1zM-128 -109l-38-2 4-48 38 1zM203 -210l-35 2-8-46 34-2zM-108 -298l-32-2 10-44 30 1zM-200 -393l-27-2 25-40 24 2z"/>
<path fill="#42ffbd" stroke="#42ffbd" d="M129 484l-28 2 10-38 30-1z"/>
<path fill="#0038ff" stroke="#0038ff" d="M-9 488l-28 0-3-37 30 0zM-108 409l-33-1-8-42 34 1zM424 300l-36 4 13-45 39-4zM-162 277l-38-2-5-47 38 2zM-200 275l-37-3-7-46 39 2zM335 219l-39 3 6-47 39-4zM-90 233l-38-1-3-47 39 1zM-128 232l-39-2-3-47 39 2zM420 164l-39 4 4-48 40-4zM-92 186l-39-1-2-48 40 1zM-210 181l-39-2-3-49 40 3zM-289 176l-39-3-4-49 40 3zM425 116l-40 4 3-49 40-4zM66 138l-39 1 0-49 40 0zM-292 127l-40-3-2-48 40 3zM-372 121l-40-4-2-49 40 4zM-13 90l-40 0 0-49 40 0zM378 -77l-39 4-7-49 38-3zM-281 -118l-38-3 9-48 37 3zM174 -160l-37 2-5-48 36-2zM168 -208l-36 2-6-47 34-1zM-84 -204l-36-1 6-47 34 1zM-120 -205l-36-2 8-47 34 2zM-263 -214l-35-3 14-46 34 3zM91 -252l-34 1-3-46 32 0zM23 -250l-34 0 0-46 33 0zM-80 -251l-34-1 6-46 33 1zM-183 -256l-34-2 13-46 32 3zM-217 -258l-33-2 14-46 32 2zM-250 -260l-34-3 16-46 32 3zM86 -297l-32 0-4-44 30-1zM-140 -300l-32-1 12-45 30 2zM-92 -386l-27-1 13-41 24 1z"/>
<path fill="#80ff80" stroke="#80ff80" d="M296 434l-31 3 19-40 33-3zM265 437l-32 3 17-40 34-3zM230 361l-35 2 10-44 36-2zM168 321l-36 2 5-45 38-2zM-92 -59l-39-1 3-49 38 1zM-131 -60l-39-2 4-49 38 2z"/>
<path fill="#00e5ff" stroke="#00e5ff" d="M111 448l-31 2 6-40 33-1zM314 311l-37 3 11-45 38-3zM326 266l-38 3 8-47 39-3zM25 281l-37 0-1-46 39-1zM-12 281l-38 0-1-47 38 1zM144 184l-39 2 1-49 40-1zM-114 -252l-34-2 8-46 32 2z"/>
<path fill="#57ffa8" stroke="#57ffa8" d="M284 397l-34 3 15-42 35-3zM241 317l-36 2 7-45 38-2z"/>
<path fill="#24ffdb" stroke="#24ffdb" d="M119 409l-33 1 6-42 34-1zM-237 272l-38-2-8-47 39 3zM107 40l-40 0-1-49 40-1z"/>
<path fill="#00f0ff" stroke="#00f0ff" d="M86 410l-32 1 3-42 35-1zM132 323l-36 1 4-45 37-1zM96 324l-36 1 2-45 38-1zM490 204l-39 4 9-48 40-4zM412 212l-39 4 8-48 39-4zM-52 187l-40-1-1-48 40 1zM307 29l-40 2-2-49 40-3zM300 -70l-39 3-5-49 38-3zM-170 -62l-39-2 4-49 39 2zM-90 -108l-38-1 4-49 37 2z"/>
<path fill="#fffa00" stroke="#fffa00" d="M406 345l-35 3 17-44 36-4zM-174 37l-40-2 2-49 40 2zM225 -15l-39 2-3-49 39-2z"/>
<path fill="#ff6100" stroke="#ff6100" d="M300 355l-35 3 12-44 37-3zM277 314l-36 3 9-45 38-3z"/>
<path fill="#ffa800" stroke="#ffa800" d="M265 358l-35 3 11-44 36-3z"/>
<path fill="#2effd1" stroke="#2effd1" d="M23 369l-34 1-1-44 36 0z"/>
<path fill="#d1ff2e" stroke="#d1ff2e" d="M388 304l-37 4 12-46 38-3zM440 255l-39 4 11-47 39-4z"/>
<path fill="#a8ff57" stroke="#a8ff57" d="M205 319l-37 2 7-45 37-2z"/>
<path fill="#9eff61" stroke="#9eff61" d="M60 325l-36 1 1-45 37-1zM-252 130l-40-3-2-48 40 3zM27 41l-40 0 0-49 40 0zM-133 -11l-39-1 2-50 39 2z"/>
<path fill="#61ff9e" stroke="#61ff9e" d="M24 326l-36 0 0-45 37 0z"/>
<path fill="#8aff75" stroke="#8aff75" d="M-12 326l-36 0-2-45 38 0zM212 274l-37 2 5-46 38-2z"/>
<path fill="#00d1ff" stroke="#00d1ff" d="M478 251l-38 4 11-47 39-4z"/>
<path fill="#ffdb00" stroke="#ffdb00" d="M401 259l-38 3 10-46 39-4z"/>
<path fill="#ff2400" stroke="#ff2400" d="M288 269l-38 3 7-47 39-3zM296 222l-39 3 5-47 40-3z"/>
<path fill="#75ff8a" stroke="#75ff8a" d="M175 276l-38 2 4-46 39-2zM248 -164l-37 2-8-48 36-2z"/>
<path fill="#94ff6b" stroke="#94ff6b" d="M103 233l-39 1 1-47 40-1z"/>
<path fill="#ff2e00" stroke="#ff2e00" d="M302 175l-40 3 4-49 40-3z"/>
<path fill="#c7ff38" stroke="#c7ff38" d="M105 186l-40 1 1-49 40-1zM-134 88l-40-2 0-49 40 2z"/>
<path fill="#ff0f00" stroke="#ff0f00" d="M306 126l-40 3 1-48 40-3z"/>
<path fill="#ff8000" stroke="#ff8000" d="M266 129l-40 3 1-49 40-2z"/>
<path fill="#ff7500" stroke="#ff7500" d="M226 132l-40 2 1-49 40-2zM-212 133l-40-3-2-48 40 2z"/>
<path fill="#ffc700" stroke="#ffc700" d="M186 134l-40 2 1-49 40-2zM-53 139l-40-1 0-49 40 1z"/>
<path fill="#00c7ff" stroke="#00c7ff" d="M-93 138l-40-1-1-49 41 1z"/>
<path fill="#e5ff1a" stroke="#e5ff1a" d="M267 81l-40 2 0-49 40-3zM-174 86l-40-2 0-49 40 2z"/>
<path fill="#bdff42" stroke="#bdff42" d="M227 83l-40 2 0-49 40-2zM67 40l-40 1 0-49 39-1z"/>
<path fill="#ff9e00" stroke="#ff9e00" d="M187 85l-40 2 0-49 40-2z"/>
<path fill="#ffe500" stroke="#ffe500" d="M-93 89l-41-1 0-49 41 1zM265 -18l-40 3-3-49 39-3z"/>
<path fill="#dbff24" stroke="#dbff24" d="M-334 76l-40-4 0-49 40 3z"/>
<path fill="#b3ff4c" stroke="#b3ff4c" d="M-374 72l-40-4 0-49 40 4zM-214 35l-40-3 2-49 40 3z"/>
<path fill="#faff05" stroke="#faff05" d="M-134 39l-40-2 2-49 39 1z"/>
<path fill="#ffb300" stroke="#ffb300" d="M305 -21l-40 3-4-49 39-3z"/>
<path fill="#6bff94" stroke="#6bff94" d="M-172 -12l-40-2 3-50 39 2z"/>
<path fill="#e50000" stroke="#e50000" d="M322 -170l-37 3-10-48 35-3z"/>
<path fill="#b30000" stroke="#b30000" d="M285 -167l-37 3-9-48 36-3z"/>
<path fill="#0075ff" stroke="#0075ff" d="M239 -212l-36 2-9-46 34-3z"/>
<path fill="#004dff" stroke="#004dff" d="M-385 -273l-33-4 25-45 31 4z"/>
</g></g>
<use href="#grid" fill="none" stroke="#d6d6d6" stroke-width="0.7" clip-path="url(#el)"/>
<g font-size="7.3"><text x="-108.5" y="-4.2" text-anchor="middle" fill="#fff" stroke="#666" stroke-width="0.3" paint-order="stroke">60</text>
<text x="-88.6" y="-3.1" text-anchor="middle" fill="#fff" stroke="#666" stroke-width="0.3" paint-order="stroke">30</text>
<text x="-68.7" y="-1.2" text-anchor="middle" fill="#fff" stroke="#666" stroke-width="0.3" paint-order="stroke">0</text>
<text x="-48.8" y="0.9" text-anchor="middle" fill="#fff" stroke="#666" stroke-width="0.3" paint-order="stroke">-30</text>
<text x="-28.8" y="2.8" text-anchor="middle" fill="#fff" stroke="#666" stroke-width="0.3" paint-order="stroke">-60</text>
<text x="-8.7" y="3.8" text-anchor="middle" fill="#fff" stroke="#666" stroke-width="0.3" paint-order="stroke">-90</text>
<text x="11.3" y="3.8" text-anchor="middle" fill="#fff" stroke="#666" stroke-width="0.3" paint-order="stroke">-120</text>
<text x="31.3" y="2.7" text-anchor="middle" fill="#fff" stroke="#666" stroke-width="0.3" paint-order="stroke">-150</text>
<text x="51.3" y="0.8" text-anchor="middle" fill="#fff" stroke="#666" stroke-width="0.3" paint-order="stroke">180</text>
<text x="71.2" y="-1.3" text-anchor="middle" fill="#fff" stroke="#666" stroke-width="0.3" paint-order="stroke">150</text>
<text x="91.1" y="-3.2" text-anchor="middle" fill="#fff" stroke="#666" stroke-width="0.3" paint-order="stroke">120</text>
<text x="111" y="-4.2" text-anchor="middle" fill="#fff" stroke="#666" stroke-width="0.3" paint-order="stroke">90</text>
<text x="-39.8" y="-47.3" text-anchor="middle" fill="#fff" stroke="#666" stroke-width="0.3" paint-order="stroke">60</text>
<text x="-60.6" y="-26.1" text-anchor="middle" fill="#fff" stroke="#666" stroke-width="0.3" paint-order="stroke">30</text>
<text x="-65" y="22.2" text-anchor="middle" fill="#fff" stroke="#666" stroke-width="0.3" paint-order="stroke">-30</text>
<text x="-49.1" y="43.8" text-anchor="middle" fill="#fff" stroke="#666" stroke-width="0.3" paint-order="stroke">-60</text>
<text x="0" y="-60.2" text-anchor="middle" fill="#fff" stroke="#666" stroke-width="0.3" paint-order="stroke">90</text>
<text x="-24" y="57.8" text-anchor="middle" fill="#fff" stroke="#666" stroke-width="0.3" paint-order="stroke">-90</text>
<circle cx="0.6" cy="-24.2" r="1" fill="#8b1a1a"/>
<text x="0.1" y="-26.2" text-anchor="start" fill="#8b1a1a">V1</text>
<circle cx="-2" cy="0" r="1" fill="#8b1a1a"/>
<text x="-3" y="-2.5" text-anchor="start" fill="#8b1a1a">Nose</text>
<circle cx="-20.4" cy="29" r="1" fill="#8b1a1a"/>
<text x="-20.9" y="27.5" text-anchor="start" fill="#8b1a1a">V2</text>
<circle cx="118" cy="0" r="1" fill="#8b1a1a"/>
<text x="118.2" y="-2" text-anchor="start" fill="#8b1a1a">Tail</text></g>
</g>
<text x="17.5" y="19.5" font-size="13.6" fill="#000" stroke="#000" stroke-width="0.2">0.2 keV</text>
<rect x="15" y="131.1" width="270" height="4.2" fill="url(#jet)"/>
<rect x="59.8" y="131.1" width="0.5" height="4.2" fill="#222" fill-opacity="0.3"/>
<rect x="104.8" y="131.1" width="0.5" height="4.2" fill="#222" fill-opacity="0.3"/>
<rect x="149.8" y="131.1" width="0.5" height="4.2" fill="#222" fill-opacity="0.3"/>
<rect x="194.8" y="131.1" width="0.5" height="4.2" fill="#222" fill-opacity="0.3"/>
<rect x="239.8" y="131.1" width="0.5" height="4.2" fill="#222" fill-opacity="0.3"/>
<g font-size="8.4" fill="#7a1212" stroke="#7a1212" stroke-width="0.15"><text x="15" y="148.5" text-anchor="middle">0</text><text x="60" y="148.5" text-anchor="middle">200</text><text x="105" y="148.5" text-anchor="middle">400</text><text x="150" y="148.5" text-anchor="middle">600</text><text x="195" y="148.5" text-anchor="middle">800</text><text x="240" y="148.5" text-anchor="middle">1000</text><text x="285" y="148.5" text-anchor="middle">1200</text></g>
<g transform="translate(450 67.5)">
<ellipse cx="0" cy="0" rx="120.0" ry="60.0" fill="#1b1b1b"/>
<g clip-path="url(#el)"><g transform="scale(0.1)" stroke-width="6" stroke-linejoin="round">
<path fill="#0000d1" stroke="#0000d1" d="M181 -494l-22 0-8-12-9-11-9-11 19 0 10 11 10 11zM57 -528l-19 0-3-11-3-10-3-9 15 0 5 9 4 10zM38 -528l-19 0-1-11-2-10-1-9 14 0 3 9 3 10zM19 -528l-19 0 0-11 0-10 0-9 15 0 1 9 2 10zM176 -558l-15 0-18-9-19-9-21-7 9 0 23 7 21 9zM161 -558l-14 0-17-9-17-9-20-7 10 0 21 7 19 9zM132 -558l-15 0-13-9-14-9-15-7 9 0 17 7 16 9zM117 -558l-14 0-12-9-12-9-14-7 10 0 15 7 14 9zM318 494l-23 0-15 12-16 11-17 11 19 0 18-11 17-11zM23 494l-23 0 0 12 0 11 0 11 19 0 1-11 2-11zM0 494l-23 0 1 12 2 11 1 11 19 0 0-11 0-11zM-23 494l-22 0 2 12 2 11 3 11 19 0-1-11-2-11zM-45 494l-23 0 3 12 4 11 4 11 19 0-3-11-2-11zM-249 494l-23 0 14 12 15 11 15 11 19 0-14-11-14-11zM-295 494l-23 0 17 12 17 11 18 11 19 0-17-11-16-11zM228 528l-19 0-15 11-16 10-17 9 15 0 18-9 18-10zM209 528l-19 0-14 11-14 10-15 9 14 0 17-9 16-10zM190 528l-19 0-12 11-13 10-14 9 15 0 15-9 14-10zM171 528l-19 0-11 11-11 10-13 9 15 0 14-9 13-10zM152 528l-19 0-10 11-10 10-10 9 14 0 13-9 11-10zM133 528l-19 0-8 11-9 10-9 9 15 0 10-9 10-10zM114 528l-19 0-7 11-7 10-8 9 15 0 9-9 9-10zM95 528l-19 0-5 11-6 10-6 9 14 0 8-9 7-10zM76 528l-19 0-4 11-4 10-5 9 15 0 6-9 6-10zM57 528l-19 0-3 11-3 10-3 9 15 0 5-9 4-10zM38 528l-19 0-1 11-2 10-1 9 14 0 3-9 3-10zM19 528l-19 0 0 11 0 10 0 9 15 0 1-9 2-10zM-38 528l-19 0 4 11 4 10 5 9 15 0-3-9-3-10zM-57 528l-19 0 5 11 6 10 6 9 15 0-5-9-4-10zM-76 528l-19 0 7 11 7 10 8 9 14 0-6-9-6-10zM-95 528l-19 0 8 11 9 10 9 9 15 0-8-9-7-10zM-114 528l-19 0 10 11 10 10 10 9 15 0-9-9-9-10zM-133 528l-19 0 11 11 11 10 13 9 14 0-10-9-10-10zM-152 528l-19 0 12 11 13 10 14 9 15 0-13-9-11-10zM-171 528l-19 0 14 11 14 10 15 9 15 0-14-9-13-10zM-190 528l-19 0 15 11 16 10 17 9 14 0-15-9-14-10zM161 558l-14 0-17 9-17 9-20 7 10 0 21-7 19-9zM132 558l-15 0-13 9-14 9-15 7 9 0 17-7 16-9zM117 558l-14 0-12 9-12 9-14 7 10 0 15-7 14-9zM103 558l-15 0-10 9-10 9-12 7 9 0 14-7 12-9zM88 558l-15 0-8 9-9 9-9 7 9 0 12-7 10-9zM73 558l-14 0-7 9-7 9-8 7 10 0 9-7 9-9zM59 558l-15 0-5 9-5 9-6 7 9 0 8-7 7-9zM44 558l-15 0-3 9-3 9-4 7 9 0 6-7 5-9zM29 558l-14 0-2 9-2 9-2 7 10 0 4-7 3-9zM15 558l-15 0 0 9 0 9 0 7 9 0 2-7 2-9zM0 558l-15 0 2 9 2 9 2 7 9 0 0-7 0-9zM-29 558l-15 0 5 9 5 9 6 7 9 0-4-7-3-9zM-44 558l-15 0 7 9 7 9 8 7 9 0-6-7-5-9zM-117 558l-15 0 15 9 16 9 17 7 9 0-15-7-14-9zM-132 558l-15 0 17 9 17 9 20 7 9 0-17-7-16-9zM-147 558l-14 0 18 9 19 9 21 7 10 0-20-7-17-9zM-220 558l-15 0 26 9 29 9 31 7 9 0-29-7-27-9z"/>
<path fill="#0038ff" stroke="#0038ff" d="M113 -494l-22 0-5-12-5-11-5-11 19 0 6 11 7 11zM45 -494l-22 0-1-12-2-11-1-11 19 0 3 11 2 11zM-113 -494l-23 0 7-12 7-11 8-11 19 0-6 11-7 11zM95 -528l-19 0-5-11-6-10-6-9 14 0 8 9 7 10zM-19 -528l-19 0 3-11 3-10 3-9 14 0-1 9-2 10zM-57 -528l-19 0 5-11 6-10 6-9 15 0-5 9-4 10zM-15 -558l-14 0 3-9 3-9 4-7 10 0-2 7-2 9zM-73 -558l-15 0 10-9 10-9 12-7 9 0-9 7-9 9zM-117 -558l-15 0 15-9 16-9 17-7 9 0-15 7-14 9zM-132 -558l-15 0 17-9 17-9 20-7 9 0-17 7-16 9zM-147 -558l-14 0 18-9 19-9 21-7 10 0-20 7-17 9zM131 -583l-10 0-28-7-34-6-59-4 63 4 37 6zM121 -583l-9 0-26-7-32-6-54-4 59 4 34 6zM112 -583l-9 0-24-7-29-6-50-4 54 4 32 6zM103 -583l-10 0-22-7-26-6-45-4 50 4 29 6zM93 -583l-9 0-20-7-23-6-41-4 45 4 26 6zM84 -583l-9 0-18-7-21-6-36-4 41 4 23 6zM75 -583l-10 0-15-7-18-6-32-4 36 4 21 6zM65 -583l-9 0-13-7-16-6-27-4 32 4 18 6zM56 -583l-9 0-11-7-13-6-23-4 27 4 16 6zM9 -583l-9 0 0-7 0-6 0-4 5 4 2 6zM-28 -583l-9 0 8-7 11-6 18-4-14 4-7 6zM-56 -583l-9 0 15-7 18-6 32-4-27 4-16 6zM-65 -583l-10 0 18-7 21-6 36-4-32 4-18 6zM-75 -583l-9 0 20-7 23-6 41-4-36 4-21 6zM-84 -583l-9 0 22-7 26-6 45-4-41 4-23 6zM-93 -583l-10 0 24-7 29-6 50-4-45 4-26 6zM-103 -583l-9 0 26-7 32-6 54-4-50 4-29 6zM-112 -583l-9 0 28-7 34-6 59-4-54 4-32 6zM295 494l-23 0-14 12-15 11-15 11 19 0 17-11 16-11zM204 494l-23 0-9 12-10 11-10 11 19 0 12-11 11-11zM-68 494l-23 0 5 12 5 11 5 11 19 0-4-11-4-11zM-113 494l-23 0 7 12 7 11 8 11 19 0-6-11-7-11zM-181 494l-23 0 10 12 11 11 12 11 19 0-10-11-10-11z"/>
<path fill="#002eff" stroke="#002eff" d="M91 -494l-23 0-3-12-4-11-4-11 19 0 5 11 5 11zM-136 -494l-23 0 8-12 9-11 9-11 19 0-8 11-7 11zM-159 -494l-22 0 9-12 10-11 10-11 19 0-9 11-9 11zM152 -528l-19 0-10-11-10-10-10-9 14 0 13 9 11 10zM133 -528l-19 0-8-11-9-10-9-9 15 0 10 9 10 10zM0 -528l-19 0 1-11 2-10 1-9 15 0 0 9 0 10zM103 -558l-15 0-10-9-10-9-12-7 9 0 14 7 12 9zM73 -558l-14 0-7-9-7-9-8-7 10 0 9 7 9 9zM59 -558l-15 0-5-9-5-9-6-7 9 0 8 7 7 9zM44 -558l-15 0-3-9-3-9-4-7 9 0 6 7 5 9zM0 -558l-15 0 2-9 2-9 2-7 9 0 0 7 0 9zM-29 -558l-15 0 5-9 5-9 6-7 9 0-4 7-3 9zM-44 -558l-15 0 7-9 7-9 8-7 9 0-6 7-5 9zM-88 -558l-15 0 12-9 12-9 14-7 9 0-12 7-10 9zM-103 -558l-14 0 13-9 14-9 15-7 10 0-14 7-12 9zM-161 -558l-15 0 20-9 21-9 23-7 9 0-21 7-19 9zM28 -583l-9 0-5-7-5-6-9-4 14 4 7 6zM0 -583l-9 0 2-7 2-6 5-4 0 4 0 6zM-19 -583l-9 0 7-7 7-6 14-4-9 4-5 6zM-37 -583l-10 0 11-7 13-6 23-4-18 4-11 6zM-47 -583l-9 0 13-7 16-6 27-4-23 4-13 6zM-121 -583l-10 0 31-7 37-6 63-4-59 4-34 6zM-131 -583l-9 0 33-7 39-6 68-4-63 4-37 6zM-140 -583l-9 0 35-7 42-6 72-4-68 4-39 6zM272 494l-23 0-12 12-14 11-14 11 19 0 15-11 15-11zM249 494l-22 0-12 12-12 11-13 11 19 0 14-11 14-11zM227 494l-23 0-10 12-11 11-12 11 19 0 13-11 12-11zM-91 494l-22 0 5 12 7 11 6 11 19 0-5-11-5-11zM-136 494l-23 0 8 12 9 11 9 11 19 0-8-11-7-11zM-159 494l-22 0 9 12 10 11 10 11 19 0-9-11-9-11z"/>
<path fill="#0024ff" stroke="#0024ff" d="M68 -494l-23 0-2-12-2-11-3-11 19 0 4 11 4 11zM76 -528l-19 0-4-11-4-10-5-9 15 0 6 9 6 10zM-38 -528l-19 0 4-11 4-10 5-9 15 0-3 9-3 10zM88 -558l-15 0-8-9-9-9-9-7 9 0 12 7 10 9zM29 -558l-14 0-2-9-2-9-2-7 10 0 4 7 3 9zM149 -583l-9 0-33-7-39-6-68-4 72 4 42 6zM140 -583l-9 0-31-7-37-6-63-4 68 4 39 6zM47 -583l-10 0-8-7-11-6-18-4 23 4 13 6zM37 -583l-9 0-7-7-7-6-14-4 18 4 11 6zM-9 -583l-10 0 5-7 5-6 9-4-5 4-2 6zM91 494l-23 0-3 12-4 11-4 11 19 0 5-11 5-11zM68 494l-23 0-2 12-2 11-3 11 19 0 4-11 4-11z"/>
<path fill="#0042ff" stroke="#0042ff" d="M23 -494l-23 0 0-12 0-11 0-11 19 0 1 11 2 11zM114 -528l-19 0-7-11-7-10-8-9 15 0 9 9 9 10zM15 -558l-15 0 0-9 0-9 0-7 9 0 2 7 2 9z"/>
<path fill="#00dbff" stroke="#00dbff" d="M0 -494l-23 0 1-12 2-11 1-11 19 0 0 11 0 11z"/>
<path fill="#1affe5" stroke="#1affe5" d="M-23 -494l-22 0 2-12 2-11 3-11 19 0-1 11-2 11zM-45 -494l-23 0 3-12 4-11 4-11 19 0-3 11-2 11z"/>
<path fill="#009eff" stroke="#009eff" d="M-68 -494l-23 0 5-12 5-11 5-11 19 0-4 11-4 11zM-266 528l-19 0 20 11 22 10 23 9 15 0-22-9-20-10zM-235 558l-14 0 27 9 30 9 33 7 10 0-31-7-29-9zM-249 558l-15 0 29 9 32 9 35 7 9 0-33-7-30-9z"/>
<path fill="#00a8ff" stroke="#00a8ff" d="M-91 -494l-22 0 5-12 7-11 6-11 19 0-5 11-5 11zM-76 -528l-19 0 7-11 7-10 8-9 14 0-6 9-6 10zM-95 -528l-19 0 8-11 9-10 9-9 15 0-8 9-7 10zM-114 -528l-19 0 10-11 10-10 10-9 15 0-9 9-9 10zM-247 528l-19 0 19 11 20 10 22 9 14 0-20-9-18-10zM-264 558l-15 0 31 9 34 9 37 7 9 0-35-7-32-9zM-279 558l-14 0 32 9 36 9 38 7 10 0-37-7-34-9z"/>
<path fill="#0094ff" stroke="#0094ff" d="M-133 -528l-19 0 11-11 11-10 13-9 14 0-10 9-10 10z"/>
<path fill="#0000db" stroke="#0000db" d="M147 -558l-15 0-15-9-16-9-17-7 9 0 20 7 17 9zM-272 494l-23 0 15 12 16 11 17 11 19 0-15-11-15-11zM-209 528l-19 0 16 11 18 10 18 9 15 0-17-9-16-10zM249 558l-14 0-26 9-29 9-31 7 10 0 33-7 30-9zM-103 558l-14 0 13 9 14 9 15 7 10 0-14-7-12-9z"/>
<path fill="#001aff" stroke="#001aff" d="M-59 -558l-14 0 8-9 9-9 9-7 10 0-8 7-7 9zM19 -583l-10 0-2-7-2-6-5-4 9 4 5 6zM181 494l-22 0-8 12-9 11-9 11 19 0 10-11 10-11z"/>
<path fill="#0000c7" stroke="#0000c7" d="M340 494l-22 0-17 12-17 11-18 11 19 0 19-11 19-11zM45 494l-22 0-1 12-2 11-1 11 19 0 3-11 2-11zM-204 494l-23 0 12 12 12 11 13 11 19 0-12-11-11-11zM0 528l-19 0 1 11 2 10 1 9 15 0 0-9 0-10zM-19 528l-19 0 3 11 3 10 3 9 14 0-1-9-2-10zM147 558l-15 0-15 9-16 9-17 7 9 0 20-7 17-9zM-15 558l-14 0 3 9 3 9 4 7 10 0-2-7-2-9zM-59 558l-14 0 8 9 9 9 9 7 10 0-8-7-7-9zM-73 558l-15 0 10 9 10 9 12 7 9 0-9-7-9-9zM-88 558l-15 0 12 9 12 9 14 7 9 0-12-7-10-9z"/>
<path fill="#008aff" stroke="#008aff" d="M-227 494l-22 0 12 12 14 11 14 11 19 0-13-11-12-11z"/>
<path fill="#00b2ff" stroke="#00b2ff" d="M-228 528l-19 0 18 11 18 10 20 9 15 0-18-9-18-10z"/>
<path fill="#0000db" stroke="#0000db" d="M190 582l-5 1-5 0-6 1 6-6 10-6 11-8 7-1 7-1 7-1-13 8-11 7zM-78 576l-6 0-6-1-7 0-6-8-6-9-6-9 7 0 8 1 7 0 5 10 5 8zM-155 569l-6-1-7 0-7-1-10-8-11-10-10-9 8 1 8 1 7 0 10 10 9 9zM-229 537l-8-1-8 0-8-1-12-11-12-10-11-11 9 1 8 0 9 1 11 11 11 11zM163 -432l-24 2-19-38 20-2zM139 -430l-25 2-15-39 21-1zM180 -555l-3 1-3 0-3 1-25-8-26-8-28-7 1 0 1-1 1-1 30 7 28 8zM47 -535l-4 1-4 0-4 0-5-10-5-10-5-9 3 0 2-1 3 0 7 9 6 10z"/>
<path fill="#0000d1" stroke="#0000d1" d="M-169 584l-5 0-6-1-5 0-7-6-11-7-12-8 7 1 7 1 6 1 11 7 10 7zM181 566l-6 1-7 1-7 0 10-8 10-9 9-9 8-1 8-1 8-1-11 10-11 9zM161 568l-6 1-7 1-6 1 8-9 9-9 8-9 8-1 8-1 7 0-9 9-10 9zM142 571l-7 0-6 1-7 1 8-9 7-9 8-9 7-1 8 0 7-1-8 9-9 9zM103 574l-6 1-7 0-6 1 5-8 6-9 5-9 8-1 7 0 7-1-6 9-7 9zM84 576l-6 0-6 1-6 0 4-8 4-9 4-9 8 0 7-1 7 0-5 9-6 9zM66 577l-7 1-6 0-6 0 4-8 3-8 3-10 7 0 7-1 7 0-4 9-4 9zM47 578l-6 1-6 0-6 0 2-8 2-9 2-9 8 0 7-1 7 0-3 10-3 8zM29 579l-5 0-6 0-6 1 1-9 0-8 1-10 7 0 7 0 7 0-2 9-2 9zM12 580l-6 0-6 0-6 0 0-8-1-9 0-10 7 0 7 0 7 0-1 10 0 8zM-24 579l-5 0-6 0-6 0-3-8-3-9-3-10 7 1 8 0 7 0 1 9 2 9zM-97 575l-6-1-6 0-7-1-7-8-7-9-7-9 7 0 8 1 7 1 6 9 6 9zM-116 573l-6 0-7-1-6-1-8-8-9-9-8-9 8 0 7 1 8 1 7 9 7 9zM-135 571l-7 0-6-1-7-1-9-8-9-9-10-10 8 1 8 1 7 1 8 9 9 9zM261 534l-8 1-8 1-8 0 12-10 11-10 11-12 8 0 9-1 9-1-12 11-12 10zM190 542l-7 0-8 1-8 1 9-10 8-11 8-10 9-1 8-1 9-1-9 11-9 10zM167 544l-7 1-8 0-7 1 7-10 7-10 7-11 9-1 8-1 9 0-8 10-8 11zM145 546l-8 1-7 0-8 1 7-10 6-10 6-11 8-1 9 0 8-1-7 11-7 10zM122 548l-7 1-7 0-8 1 6-10 5-11 5-10 8-1 8 0 9-1-6 11-6 10zM100 550l-7 0-7 1-8 0 5-10 4-10 3-11 9 0 8-1 9 0-5 10-5 11zM78 551l-7 0-7 1-7 0 3-10 3-10 3-11 8 0 8 0 8-1-3 11-4 10zM57 552l-7 0-7 1-8 0 2-10 2-10 2-11 8 0 8 0 9-1-3 11-3 10zM35 553l-7 0-7 0-7 0 1-9 1-11 0-10 9-1 8 0 8 0-2 11-2 10zM14 553l-7 0-7 0-7 0 0-9-1-11 0-10 8 0 8 0 8 0 0 10-1 11zM-28 553l-7 0-8 0-7-1-2-9-3-11-2-10 8 0 8 0 8 0 2 11 1 10zM-50 552l-7 0-7 0-7-1-4-9-4-11-3-10 8 0 8 0 9 1 2 10 3 11zM-71 551l-7 0-8 0-7-1-5-10-5-10-4-11 8 1 9 0 8 1 3 10 4 11zM-93 550l-7 0-8-1-7 0-6-10-6-11-5-10 8 0 8 1 9 0 4 11 5 10zM-115 549l-7-1-8-1-7 0-7-10-7-11-7-10 9 0 8 1 9 1 5 10 6 11zM-137 547l-8-1-7-1-8 0-8-10-8-11-7-11 8 1 9 1 8 1 7 10 7 11zM-160 545l-7-1-8-1-8-1-9-10-9-10-8-11 8 1 9 1 9 0 7 11 8 11zM-206 540l-8-1-7-1-8-1-11-10-11-11-11-11 9 1 9 1 9 1 9 11 10 11zM-253 535l-8-1-8-1-8-1-13-10-13-11-12-11 9 1 9 1 9 1 11 11 12 10zM271 504l-27 3 28-35 29-3zM16 523l-24 0-1-35 27 0zM-8 523l-25-1-4-34 28 0zM-33 522l-24 0-7-35 27 1zM-209 511l-26-3-27-35 29 3zM-235 508l-27-3-29-35 29 3zM-262 505l-26-2-32-36 29 3zM486 376l-34 4 25-43 36-4zM-184 364l-35-3-10-43 36 2zM-219 361l-34-2-12-44 36 3zM-394 346l-36-4-19-44 37 4zM-375 305l-37-3-15-46 38 4zM-412 302l-37-4-16-46 38 4zM-389 260l-38-4-11-47 39 4zM388 71l-41 3 0-49 40-3zM344 -24l-39 3-5-49 39-3zM495 -88l-39 4-10-49 37-4zM-87 -156l-37-2 4-47 36 1zM-124 -158l-38-1 6-48 36 2zM60 -204l-36 1-1-47 34-1zM24 -203l-36 0 1-47 34 0zM57 -251l-34 1-1-46 32-1zM23 -250l-34 0 0-46 33 0zM119 -299l-33 2-6-45 30-1zM86 -297l-32 0-4-44 30-1zM54 -297l-32 1-2-45 30 0zM374 -366l-29 3-31-42 26-3zM80 -342l-30 1-4-43 27-1zM-40 -341l-30-1 6-43 27 1zM-70 -342l-30-1 8-43 28 1zM-100 -343l-30-1 11-43 27 1zM-130 -344l-30-2 14-42 27 1zM-146 -388l-27-2 18-41 24 2zM-173 -390l-27-3 22-40 23 2zM-106 -428l-25-1 18-39 21 2zM-131 -429l-24-2 22-38 20 1zM179 -513l-5 0-5 1-6 1-13-11-15-10-15-10 4-1 3-1 4 0 17 10 16 10zM163 -511l-5 1-5 0-6 1-12-11-13-11-13-10 3 0 4-1 4 0 15 10 15 10zM197 -560l-3 1-3 1-2 1-29-9-30-7-32-6 1-1 1-1 34 6 32 7zM189 -557l-3 0-3 1-3 1-27-8-28-8-30-7 1 0 1-1 1 0 32 6 30 7zM171 -553l-3 1-3 1-3 1-23-9-25-8-26-7 1-1 2 0 1-1 28 7 26 8zM162 -550l-3 0-4 1-3 1-21-9-23-8-24-8 1 0 2-1 1 0 26 7 25 8zM152 -548l-3 0-4 1-3 1-20-9-21-9-22-7 1-1 2 0 2-1 24 8 23 8zM142 -546l-4 0-3 1-4 1-18-10-19-8-20-8 1-1 2 0 2 0 22 7 21 9zM60 -536l-4 1-4 0-5 0-6-10-6-10-7-9 2 0 2 0 3 0 9 9 8 9zM35 -534l-5 0-4 0-4 0-3-10-3-10-3-9 2 0 3 0 2 0 5 9 5 10zM22 -534l-5 0-4 1-4 0-1-11-2-9-1-10 3 0 2 0 3 0 3 9 3 10zM9 -533l-5 0-4 0-4 0 0-11 1-9 0-10 3 0 3 0 2 0 1 10 2 9z"/>
<path fill="#009eff" stroke="#009eff" d="M-185 583l-5-1-5 0-5-1-9-6-12-7-14-8 7 1 6 0 7 1 12 8 11 7zM-215 562l-7-1-6 0-7-1-14-9-14-9-14-10 8 1 8 1 8 1 13 9 12 10zM46 488l-28 0 2-37 30-1zM50 450l-30 1 2-40 32 0zM86 410l-32 1 3-42 35-1zM54 411l-32 0 1-42 34 0zM-11 411l-32 0-3-42 35 1zM-43 411l-33-1-4-42 34 1zM-76 410l-32-1-7-42 35 1zM-46 369l-34-1-4-43 36 1zM-80 368l-35-1-5-43 36 1zM-237 272l-38-2-8-47 39 3zM-283 223l-39-3-6-47 39 3zM107 89l-40 1 0-50 40 0zM-334 76l-40-4 0-49 40 3zM424 -31l-40 4-6-50 39-3zM294 -119l-38 3-8-48 37-3zM168 -208l-36 2-6-47 34-1zM-191 -209l-36-2 10-47 34 2zM-114 -252l-34-2 8-46 32 2zM-92 -466l-21-2 21-36 17 2zM-58 -501l-6-1-6 0-5 0 6-12 6-11 7-10 4 0 5 0 4 1-5 10-5 11zM-75 -502l-6-1-6 0-5-1 7-11 8-11 9-10 4 0 4 0 4 1-7 10-6 11z"/>
<path fill="#00a8ff" stroke="#00a8ff" d="M-200 581l-5-1-5 0-5-1-11-6-14-7-15-9 6 1 7 1 7 1 14 8 12 7zM-215 579l-5 0-5-1-5 0-13-7-16-8-16-8 6 1 7 1 7 0 15 9 14 7zM-195 565l-6-1-7-1-7-1-13-8-12-10-13-9 8 1 8 0 8 1 11 10 12 9zM243 475l-29 3 19-38 32-3zM214 478l-29 2 17-37 31-3zM18 488l-27 0-1-37 30 0zM-322 220l-38-3-8-48 40 4zM460 160l-40 4 5-48 41-4zM463 -35l-39 4-7-49 39-4zM106 -10l-40 1-1-49 40-1zM378 -77l-39 4-7-49 38-3zM370 -125l-38 3-10-48 37-4zM359 -174l-37 4-12-48 35-3zM-457 -184l-36-4 19-47 35 4zM132 -206l-36 1-5-47 35-1zM-227 -211l-36-3 13-46 33 2zM183 -302l-32 2-11-45 30-1zM-92 -504l-6 0-6-1-5 0 9-11 9-11 10-10 4 0 4 0 5 1-9 10-8 11zM-68 -536l-5-1-4 0-4 0 11-10 11-10 12-8 3 0 2 0 2 0-10 9-10 10zM-81 -537l-4-1-4 0-4-1 12-9 13-10 15-8 2 0 2 0 2 1-12 8-11 10zM-93 -539l-4 0-4-1-4 0 14-10 15-9 16-8 2 0 3 0 2 1-15 8-13 10zM-105 -540l-4-1-3 0-4-1 15-9 17-9 18-8 2 0 2 0 2 1-16 8-15 9z"/>
<path fill="#0000c7" stroke="#0000c7" d="M122 573l-6 0-7 1-6 0 6-8 7-9 6-9 8-1 7 0 8-1-8 9-7 9zM-6 580l-6 0-6-1-6 0-1-8-2-9-1-9 7 0 7 0 7 0 0 10 1 9zM-41 579l-6-1-6 0-6 0-4-8-4-9-4-10 7 1 7 0 7 0 3 10 3 9zM-59 578l-7-1-6 0-6-1-5-8-5-8-5-10 7 1 8 0 7 0 4 10 4 9zM284 531l-7 1-8 1-8 1 12-11 12-10 12-11 9-1 9-1 9-1-13 11-13 11zM-7 553l-7 0-7 0-7 0-2-10-1-10-2-11 8 0 9 1 8 0 0 10 1 11zM41 522l-25 1 2-35 28 0zM-183 513l-26-2-24-35 29 3zM451 -232l-35 4-20-46 33-4zM22 -296l-33 0 1-45 30 0zM345 -363l-29 3-28-42 26-3zM110 -343l-30 1-7-43 28-1z"/>
<path fill="#00b2ff" stroke="#00b2ff" d="M-175 567l-6-1-7-1-7 0-11-9-12-9-11-10 8 1 7 1 8 1 10 9 11 10zM141 447l-30 1 8-39 33-2zM20 451l-30 0-1-40 33 0zM-374 72l-40-4 0-49 40 4zM-454 15l-40-4 5-49 39 4zM-13 -58l-39 0 1-49 38 0zM332 -122l-38 3-9-48 37-3z"/>
<path fill="#0038ff" stroke="#0038ff" d="M237 536l-8 1-8 1-7 1 10-10 10-11 10-11 9-1 9-1 9-1-11 12-11 10zM244 507l-26 3 25-35 29-3zM192 513l-26 2 19-35 29-2zM-57 522l-25-1-10-35 28 1zM-107 519l-25-1-16-35 28 2zM-158 516l-25-3-21-34 28 2zM101 486l-28 1 7-37 31-2zM73 487l-27 1 4-38 30 0zM-9 488l-28 0-3-37 30 0zM-92 486l-28-1-11-38 30 2zM-120 485l-28-2-14-37 31 1zM111 448l-31 2 6-40 33-1zM461 297l-37 3 16-45 38-4zM-302 312l-37-3-12-46 38 4zM-339 309l-36-4-14-45 38 3zM-351 263l-38-3-10-47 39 4zM-372 121l-40-4-2-49 40 4zM508 59l-40 4-1-49 40-4zM267 81l-40 2 0-49 40-3zM427 18l-40 4-3-49 40-4zM387 22l-40 3-3-49 40-3zM186 -13l-40 2-2-49 39-2zM-450 -34l-39-4 7-49 39 4zM339 -73l-39 3-6-49 38-3zM222 -64l-39 2-4-49 38-2zM183 -62l-39 2-3-49 38-2zM105 -59l-40 1-1-49 38-1zM-443 -83l-39-4 11-48 38 4zM179 -111l-38 2-4-49 37-2zM141 -109l-39 1-2-49 37-1zM469 -185l-37 4-16-47 35-4zM248 -164l-37 2-8-48 36-2zM416 -228l-35 4-19-47 34-3zM-120 -205l-36-2 8-47 34 2zM362 -271l-33 4-19-46 31-3zM126 -253l-35 1-5-45 33-2zM-217 -258l-33-2 14-46 32 2zM-284 -263l-34-3 19-46 31 3zM372 -319l-31 3-25-44 29-3zM-11 -296l-32 0 3-45 30 0zM-331 -315l-31-3 26-44 29 3zM170 -346l-30 1-12-42 27-2zM-92 -386l-27-1 13-41 24 1zM114 -428l-24 1-12-39 21-1zM-8 -425l-25 0 5-39 21 0zM-33 -425l-24-1 7-39 22 1zM-226 -438l-23-3 35-37 20 2zM99 -467l-21 1-14-36 17-1zM14 -464l-21 0 1-36 18 0zM115 -506l-6 1-5 0-6 1-8-11-8-11-9-11 4 0 4 0 4-1 10 11 10 10zM46 -501l-5 0-6 0-6 1-2-12-3-11-2-11 4 0 4 0 5 0 4 11 4 11zM-109 -505l-6-1-5 0-6-1 11-11 11-10 11-11 4 1 4 0 4 1-10 10-9 11zM85 -538l-4 1-4 0-4 0-10-10-10-9-11-9 2 0 3 0 2-1 13 9 12 9zM-17 -534l-5 0-4 0-4 0 4-10 4-10 4-9 3 0 2 0 3 0-3 9-2 10zM-30 -534l-5 0-4 0-4 0 5-11 6-9 7-10 2 1 3 0 2 0-4 9-4 10zM-56 -535l-4-1-4 0-4 0 8-10 10-10 10-9 3 1 2 0 3 0-9 9-8 10zM-138 -546l-4 0-3-1-4-1 21-9 22-8 24-7 2 0 1 1 2 0-22 8-20 8zM-159 -550l-3 0-3-1-3-1 24-9 26-7 27-7 2 0 1 1 1 0-25 7-24 8zM-168 -552l-3-1-3-1-3 0 26-9 28-7 29-7 1 1 1 0 1 1-27 7-26 7zM-177 -554l-3-1-3-1-3-1 28-8 30-7 31-7 1 1 1 0 1 1-29 7-28 7zM-102 -586l0-1 41-3 34 0 27 3-29-2-34 0zM-100 -589l0-1 1 0 1-1 43-2 32 2 23 4-25-4-33-1zM-98 -591l1 0 1-1 1 0 45-2 30 2 20 5-23-4-32-2zM-91 -594l2 0 1-1 2 0 49-1 23 3 14 6-17-5-27-3zM81 -598l-3 0-1 0-1 0-61 0-10 5-5 6 1-6 3-5zM94 -593l1 1 1 0 1 1-44-2-31 1-22 5 19-5 29-2zM97 -591l1 0 1 1 1 0-43-2-32 1-25 4 22-5 31-1zM49 -566l-2 1-3 0-2 0-12-8-14-8-16-6 19 6 16 7zM-18 -563l-2 0-3 0-2-1 7-8 8-8 10-7-7 7-6 8zM-72 -570l-2 0-1-1-2 0 23-7 26-5 28-4-26 4-24 6zM-97 -579l-1 0-1-1 34-5 33-2 32 0-32 0-33 3z"/>
<path fill="#002eff" stroke="#002eff" d="M214 539l-8 1-8 1-8 1 10-11 9-10 9-11 9-1 8-1 9-1-10 11-10 11zM218 510l-26 3 22-35 29-3zM-82 521l-25-2-13-34 28 1zM-132 518l-26-2-18-35 28 2zM330 466l-29 3 26-38 32-3zM301 469l-29 3 24-38 31-3zM-37 488l-27-1-6-37 30 1zM-64 487l-28-1-9-37 31 1zM-148 483l-28-2-16-38 30 3zM-176 481l-28-2-19-38 31 2zM359 428l-32 3 24-40 33-4zM327 431l-31 3 21-40 34-3zM-10 451l-30 0-3-40 32 0zM-101 449l-30-2-10-39 33 1zM-162 446l-30-3-14-40 33 3zM452 380l-34 4 24-43 35-4zM477 337l-35 4 19-44 37-4zM-149 366l-35-2-9-44 37 2zM-193 320l-36-2-8-46 37 3zM-229 318l-36-3-10-45 38 2zM-265 315l-37-3-11-45 38 3zM-360 217l-39-4-8-47 39 3zM-399 213l-39-4-9-47 40 4zM-438 209l-39-4-9-47 39 4zM-328 173l-40-4-4-48 40 3zM-368 169l-39-3-5-49 40 4zM506 108l-40 4 2-49 40-4zM466 112l-41 4 3-49 40-4zM425 116l-40 4 3-49 40-4zM385 120l-39 3 1-49 41-3zM-332 124l-40-3-2-49 40 4zM-412 117l-40-4-2-49 40 4zM468 63l-40 4-1-49 40-4zM227 83l-40 2 0-49 40-2zM507 10l-40 4-4-49 40-4zM267 31l-40 3-2-49 40-3zM265 -18l-40 3-3-49 39-3zM225 -15l-39 2-3-49 39-2zM146 -11l-40 1-1-49 39-1zM66 -9l-39 1-1-50 39 0zM27 -8l-40 0 0-50 39 0zM-13 -8l-40-1 1-49 39 0zM261 -67l-39 3-5-49 39-3zM144 -60l-39 1-3-49 39-1zM65 -58l-39 0 0-49 38 0zM-482 -87l-39-4 12-49 38 5zM446 -133l-38 4-12-48 36-4zM408 -129l-38 4-11-49 37-3zM64 -107l-38 0-1-48 37-1zM-471 -135l-38-5 16-48 36 4zM396 -177l-37 3-14-47 36-3zM211 -162l-37 2-6-48 35-2zM174 -160l-37 2-5-48 36-2zM137 -158l-37 1-4-48 36-1zM100 -157l-38 1-2-48 36-1zM-50 -156l-37 0 3-48 36 1zM381 -224l-36 3-16-46 33-4zM239 -212l-36 2-9-46 34-3zM203 -210l-35 2-8-46 34-2zM-12 -203l-36 0 2-48 35 1zM-48 -203l-36-1 4-47 34 0zM-263 -214l-35-3 14-46 34 3zM396 -274l-34 3-21-45 31-3zM329 -267l-34 3-17-46 32-3zM160 -254l-34 1-7-46 32-1zM-183 -256l-34-2 13-46 32 3zM151 -300l-32 1-9-44 30-2zM-43 -296l-32-1 5-45 30 1zM-204 -304l-32-2 17-44 29 2zM-236 -306l-32-3 19-44 30 3zM-268 -309l-31-3 21-44 29 3zM140 -345l-30 2-9-43 27-1zM-10 -341l-30 0 3-43 28 0zM-219 -350l-30-3 22-42 27 2zM-249 -353l-29-3 25-42 26 3zM-278 -356l-29-3 27-42 27 3zM-336 -362l-28-3 32-42 26 3zM155 -389l-27 2-14-41 25-2zM73 -385l-27 1-5-41 25-1zM-64 -385l-28-1 10-41 25 1zM-253 -398l-27-3 31-40 23 3zM-280 -401l-26-3 34-39 23 2zM41 -425l-25 0-2-39 21 0zM16 -425l-24 0 1-39 21 0zM-57 -426l-25-1 11-38 21 0zM-82 -427l-24-1 14-38 21 1zM-155 -431l-23-2 24-38 21 2zM-178 -433l-24-2 28-38 20 2zM-249 -441l-23-2 39-38 19 3zM-272 -443l-22-3 42-37 19 2zM120 -468l-21 1-18-36 17-1zM35 -464l-21 0-2-36 17 0zM-113 -468l-20-1 24-36 17 1zM-133 -469l-21-2 28-36 17 2zM-154 -471l-20-2 32-35 16 1zM81 -503l-6 1-5 0-6 0-5-11-6-11-6-11 5 0 4 0 4-1 7 11 7 11zM29 -500l-6 0-6 0-5 0-1-12-1-11-1-10 4 0 4-1 5 0 2 11 3 11zM-126 -507l-5 0-6-1-5 0 12-11 12-11 13-10 4 0 4 1 4 0-11 11-11 10zM-142 -508l-5-1-6-1-5 0 13-11 14-11 15-10 4 1 3 0 4 1-13 10-12 11zM-158 -510l-5-1-6-1-5-1 15-10 15-11 17-10 3 1 4 1 4 0-15 10-14 11zM131 -544l-4 0-3 1-4 1-16-10-17-9-19-8 2 0 2-1 2 0 20 8 19 8zM120 -542l-4 0-4 1-3 0-15-9-15-9-17-9 2 0 2 0 2-1 19 8 17 9zM-4 -533l-5 0-4 0-4-1 2-10 2-10 3-9 2 0 3 0 2 0 0 10-1 9zM-149 -548l-3 0-3-1-4-1 23-9 24-8 25-7 2 1 1 0 2 1-24 7-22 8zM-186 -557l-3 0-2-1-3-1 30-8 32-7 33-6 1 1 1 0-31 7-30 7zM-99 -580l-1-1-1-1 36-4 34-2 31 1-32 0-33 2zM-101 -582l0-1-1 0 0-1 37-4 35-1 30 2-31-1-34 2zM-95 -592l1-1 2 0 1-1 47-1 27 3 17 5-20-5-30-2zM-86 -595l1-1 2 0 2-1 53 0 18 4 10 6-14-6-23-3zM-77 -598l1 0-1 0-1 0 70 0 5 5 3 6-7-6-11-5zM80 -597l1 0 2 1 2 0-51-1-21 4-13 6 9-6 16-4zM85 -596l1 1 2 0 1 1-47-2-26 4-16 5 13-6 21-4zM100 -590l0 1 1 0 0 1-40-3-34 1-27 3 25-4 32-1zM101 -588l1 1 0 1-39-3-34-1-29 3 27-3 34-1zM102 -584l0 1-1 0-36-4-34-1-31 1 30-2 34 1zM101 -583l0 1-1 1-35-4-33-3-32 1 31-1 34 1zM100 -581l-1 1-1 1-33-5-33-3-32 0 32-1 33 3zM98 -579l-1 0-1 1-1 0-31-5-32-3-32-1 32 0 33 3zM95 -578l-1 1-1 1-1 0-30-6-31-3-31-2 32 1 32 3zM92 -576l-1 1-2 0-1 1-28-6-29-5-31-2 31 2 31 3zM88 -574l-1 0-2 1-1 0-26-6-28-5-30-3 31 2 29 5zM84 -573l-2 1-2 0-1 1-24-7-27-5-28-4 30 3 28 5zM79 -571l-2 0-2 0-1 1-23-7-24-6-27-4 28 4 27 5zM68 -569l-2 1-2 0-2 0-19-7-20-7-23-5 25 5 23 6zM62 -568l-2 1-2 0-3 0-16-7-18-7-21-6 23 5 20 7zM55 -567l-2 1-2 0-2 0-14-8-16-7-19-6 21 6 18 7zM42 -565l-2 0-3 1-2 0-10-9-12-7-13-7 16 6 14 8zM20 -563l-2 0-3 0-2 0-4-9-4-8-5-7 8 7 6 8zM-3 -563l-2 0-3 0-2 0 3-9 3-8 4-7-1 7-1 8zM-25 -564l-3 0-2 0-2 0 9-9 10-7 13-7-10 7-8 8zM-40 -565l-2 0-2 0-3 0 14-9 15-7 18-6-15 6-13 8zM-47 -565l-2-1-2 0-2 0 15-8 18-7 20-6-18 6-15 7zM-53 -566l-2-1-3 0-2 0 18-8 20-7 22-5-20 6-18 7zM-66 -568l-2-1-2 0-2-1 22-7 24-6 26-4-24 5-22 6zM-77 -571l-2 0-1-1-2 0 25-7 28-5 29-3-28 4-26 5zM-82 -572l-2-1-1 0-2-1 28-6 29-5 30-2-29 3-28 5zM-91 -575l-1-1-1 0-1-1 31-5 31-4 32-1-31 2-31 4z"/>
<path fill="#008aff" stroke="#008aff" d="M-183 542l-7 0-8-1-8-1-10-10-10-11-9-11 8 1 9 1 9 1 8 11 9 10zM129 484l-28 2 10-38 30-1zM-275 270l-38-3-9-47 39 3zM-292 127l-40-3-2-48 40 3zM-13 -107l-38 0 1-49 38 1zM-318 -266l-33-4 20-45 32 3zM-108 -298l-32-2 10-44 30 1z"/>
<path fill="#001aff" stroke="#001aff" d="M166 515l-25 2 16-35 28-2zM272 472l-29 3 22-38 31-3zM-204 479l-29-3-21-38 31 3zM-131 447l-31-1-11-40 32 2zM-108 409l-33-1-8-42 34 1zM-313 267l-38-4-9-46 38 3zM-407 166l-40-4-5-49 40 4zM-414 68l-40-4 0-49 40 4zM-454 64l-41-4 1-49 40 4zM91 -252l-34 1-3-46 32 0zM-75 -297l-33-1 8-45 30 1zM-307 -359l-29-3 30-42 26 3zM90 -427l-24 1-9-39 21-1zM98 -504l-6 0-5 1-6 0-7-11-7-11-7-11 4 0 4 0 5-1 9 11 8 11zM76 -598l1 0 1 1 2 0-55 0-16 4-9 6 5-6 10-5zM-60 -567l-2-1-2 0-2 0 20-8 22-6 24-5-22 5-20 7z"/>
<path fill="#0024ff" stroke="#0024ff" d="M90 520l-24 1 7-34 28-1zM66 521l-25 1 5-34 27-1zM-233 476l-29-3-23-38 31 3zM-291 470l-29-3-28-38 31 3zM391 424l-32 4 25-41 34-3zM-40 451l-30-1-6-40 33 1zM-70 450l-31-1-7-40 32 1zM-348 429l-32-4-27-40 34 3zM418 384l-34 3 22-42 36-4zM-141 408l-32-2-11-42 35 2zM-173 406l-33-3-13-42 35 3zM-339 392l-34-4-21-42 35 3zM-359 349l-35-3-18-44 37 3zM-156 322l-37-2-7-45 38 2zM-447 162l-39-4-6-49 40 4zM-452 113l-40-4-3-49 41 4zM428 67l-40 4-1-49 40-4zM467 14l-40 4-3-49 39-4zM227 34l-40 2-1-49 39-2zM456 -84l-39 4-9-49 38-4zM26 -58l-39 0 0-49 39 0zM217 -113l-38 2-5-49 37-2zM26 -107l-39 0 1-48 37 0zM432 -181l-36 4-15-47 35-4zM62 -156l-37 1-1-48 36-1zM25 -155l-37 0 0-48 36 0zM345 -221l-35 3-15-46 34-3zM96 -205l-36 1-3-47 34-1zM-11 -250l-35-1 3-45 32 0zM-46 -251l-34 0 5-46 32 1zM-148 -254l-35-2 11-45 32 1zM-250 -260l-34-3 16-46 32 3zM341 -316l-31 3-22-44 28-3zM-140 -300l-32-1 12-45 30 2zM-172 -301l-32-3 14-44 30 2zM-299 -312l-32-3 24-44 29 3zM128 -387l-27 1-11-41 24-1zM101 -386l-28 1-7-41 24-1zM-200 -393l-27-2 25-40 24 2zM-227 -395l-26-3 27-40 24 3zM66 -426l-25 1-6-39 22-1zM-202 -435l-24-3 32-38 20 3zM-294 -446l-23-4 46-36 19 3zM78 -466l-21 1-11-36 18-1zM57 -465l-22 1-6-36 17-1zM-194 -476l-20-2 40-35 16 3zM64 -502l-6 1-6 0-6 0-3-11-4-11-4-11 4 0 4 0 4-1 6 11 6 11zM97 -539l-4 0-4 1-4 0-11-10-12-9-13-9 2 0 2 0 2-1 15 9 14 9zM73 -537l-5 1-4 0-4 0-8-10-8-9-9-9 2 0 3-1 2 0 11 9 10 9zM-43 -534l-4-1-5 0-4 0 7-10 8-10 9-9 2 0 2 0 3 0-7 10-6 9zM-127 -544l-4 0-4-1-3-1 19-9 20-8 22-8 2 0 1 1 2 0-20 8-18 9zM-102 -584l0-1 0-1 39-3 34 0 29 2-30-2-35 1zM-81 -597l1 0 2 0 1-1 59 0 11 5 7 6-10-6-18-4zM-78 -598l-3 0 166 0-4 0-77 0-3 5-1 6-3-6-5-5zM89 -594l2 0 1 1 2 0-46-1-29 2-19 5 16-5 26-4zM102 -586l0 1 0 1-38-4-34-1-30 2 29-3 34 1zM74 -570l-2 0-2 1-2 0-20-7-23-6-25-5 27 4 24 6zM35 -564l-3 0-2 0-2 0-8-8-9-8-11-7 13 7 12 7zM28 -564l-3 0-2 1-3 0-6-9-6-8-8-7 11 7 9 8zM5 -563l-2 0-3 0-3 0 1-9 1-8 1-7 2 7 2 8zM-10 -563l-3 0-2 0-3 0 5-9 6-8 7-7-4 7-3 8zM-87 -574l-1 0-1-1-2 0 29-6 31-4 31-2-30 2-29 5zM-94 -577l-1-1-1 0-1-1 32-5 33-3 32 0-32 1-31 4z"/>
<path fill="#0094ff" stroke="#0094ff" d="M157 482l-28 2 12-37 31-2zM22 411l-33 0 0-41 34-1zM-200 275l-37-3-7-46 39 2zM420 164l-39 4 4-48 40-4zM186 134l-40 2 1-49 40-2zM384 -27l-40 3-5-49 39-4zM417 -80l-39 3-8-48 38-4zM-128 -109l-38-2 4-48 38 1zM194 -256l-34 2-9-46 32-2zM-50 -465l-21 0 13-36 17 0zM-71 -465l-21-1 17-36 17 1zM-116 -542l-4 0-4-1-3-1 17-9 18-9 20-8 2 1 2 0 2 1-18 8-17 9z"/>
<path fill="#0042ff" stroke="#0042ff" d="M-262 473l-29-3-26-38 32 3zM80 450l-30 0 4-39 32-1zM500 156l-40 4 6-48 40-4zM503 -39l-40 4-7-49 39-4zM256 -116l-39 3-6-49 37-2zM102 -108l-38 1-2-49 38-1zM-12 -155l-38-1 2-47 36 0zM-156 -207l-35-2 8-47 35 2zM-174 -473l-20-3 36-34 16 2zM12 -500l-6 0-6 0-6 0 1-12 0-11 1-10 4 0 4 0 5 0 1 10 1 11zM109 -541l-4 1-4 0-4 1-13-10-14-9-15-9 3 0 2 0 2-1 17 9 15 9zM-102 -587l1-1 0-1 1 0 42-3 33 1 25 4-27-3-34 0zM13 -563l-3 0-2 0-3 0-1-9-2-8-2-7 5 7 4 8zM-32 -564l-3 0-2 0-3-1 12-8 13-8 15-6-13 7-10 7z"/>
<path fill="#00dbff" stroke="#00dbff" d="M296 434l-31 3 19-40 33-3zM23 369l-34 1-1-44 36 0zM-334 -220l-35-3 18-47 33 4zM-6 -500l-6 0-5 0-6 0 2-12 2-11 2-11 4 1 4 0 5 0-1 10 0 11z"/>
<path fill="#00faff" stroke="#00faff" d="M265 437l-32 3 17-40 34-3zM351 391l-34 3 18-42 36-4zM184 405l-32 2 9-42 34-2zM335 352l-35 3 14-44 37-3zM-205 228l-39-2-5-47 39 2zM27 90l-40 0 0-49 40 0zM305 -21l-40 3-4-49 39-3zM-170 -62l-39-2 4-49 39 2zM-404 -79l-39-4 10-48 38 3zM-51 -107l-39-1 3-48 37 0zM-357 -124l-38-4 12-48 36 4zM322 -170l-37 3-10-48 35-3zM-362 -318l-31-4 29-43 28 3z"/>
<path fill="#80ff80" stroke="#80ff80" d="M233 440l-31 3 15-40 33-3zM351 308l-37 3 12-45 37-4zM-50 281l-37-1-3-47 39 1zM103 233l-39 1 1-47 40-1zM226 132l-40 2 1-49 40-2zM-53 90l-40-1 0-49 40 1zM-174 37l-40-2 2-49 40 2zM-294 30l-40-4 3-49 40 3zM-93 -9l-40-2 2-49 39 1zM-133 -11l-39-1 2-50 39 2zM-383 -176l-37-4 16-47 35 4zM-351 -270l-34-3 23-45 31 3zM-385 -273l-33-4 25-45 31 4z"/>
<path fill="#00f0ff" stroke="#00f0ff" d="M202 443l-30 2 12-40 33-2zM384 387l-33 4 20-43 35-3zM341 171l-39 4 4-49 40-3zM223 180l-40 2 3-48 40-2zM-289 176l-39-3-4-49 40 3zM-433 -131l-38-4 14-49 37 4zM-236 -163l-37-3 10-48 36 3zM-310 -169l-37-3 13-48 36 3zM310 -218l-35 3-13-46 33-3zM-393 -322l-31-4 31-43 29 4zM-28 -464l-22-1 9-36 18 1z"/>
<path fill="#0ffff0" stroke="#0ffff0" d="M317 394l-33 3 16-42 35-3zM442 341l-36 4 18-45 37-3zM498 293l-37 4 17-46 38-4zM-87 280l-38-2-3-46 38 1zM-244 226l-39-3-6-47 40 3zM-249 179l-40-3-3-49 40 3zM147 87l-40 2 0-49 40-2zM-294 79l-40-3 0-50 40 4zM147 38l-40 2-1-50 40-1zM67 40l-40 1 0-49 39-1zM-205 -113l-38-2 7-48 37 2zM-395 -128l-38-3 13-49 37 4z"/>
<path fill="#38ffc7" stroke="#38ffc7" d="M284 397l-34 3 15-42 35-3z"/>
<path fill="#61ff9e" stroke="#61ff9e" d="M250 400l-33 3 13-42 35-3zM-291 -20l-40-3 5-49 39 3zM-369 -223l-35-4 19-46 34 3z"/>
<path fill="#b3ff4c" stroke="#b3ff4c" d="M217 403l-33 2 11-42 35-2z"/>
<path fill="#24ffdb" stroke="#24ffdb" d="M152 407l-33 2 7-42 35-2zM-120 324l-36-2-6-45 37 1zM-374 23l-40-4 4-49 39 4zM-410 -30l-40-4 7-49 39 4zM275 -215l-36 3-11-47 34-2zM-298 -217l-36-3 16-46 34 3zM-418 -277l-33-4 27-45 31 4z"/>
<path fill="#00e5ff" stroke="#00e5ff" d="M119 409l-33 1 6-42 34-1zM146 136l-40 1 1-48 40-2zM-131 -60l-39-2 4-49 38 2zM-404 -227l-35-4 21-46 33 4z"/>
<path fill="#9eff61" stroke="#9eff61" d="M406 345l-35 3 17-44 36-4zM230 361l-35 2 10-44 36-2zM161 365l-35 2 6-44 36-2zM65 187l-39 0 1-48 39-1zM-170 183l-40-2-2-48 39 2zM66 138l-39 1 0-49 40 0zM-252 130l-40-3-2-48 40 3zM-172 -12l-40-2 3-50 39 2z"/>
<path fill="#1affe5" stroke="#1affe5" d="M371 348l-36 4 16-44 37-4zM424 300l-36 4 13-45 39-4zM-48 326l-36-1-3-45 37 1zM-167 230l-38-2-5-47 40 2zM346 123l-40 3 1-48 40-4zM67 90l-40 0 0-49 40-1zM27 41l-40 0 0-49 40 0zM-13 41l-40 0 0-50 40 1zM-371 -26l-39-4 6-49 39 4zM-365 -75l-39-4 9-49 38 4zM285 -167l-37 3-9-48 36-3zM-439 -231l-35-4 23-46 33 4zM-7 -464l-21 0 5-36 17 0zM-23 -500l-6 0-6-1-6 0 4-11 3-11 4-11 4 0 4 0 5 0-2 11-2 11zM-41 -501l-5 0-6 0-6 0 5-12 5-11 5-10 4 0 4 0 5 0-4 11-3 11z"/>
<path fill="#bdff42" stroke="#bdff42" d="M300 355l-35 3 12-44 37-3zM-13 235l-38-1-1-47 39 0z"/>
<path fill="#d1ff2e" stroke="#d1ff2e" d="M265 358l-35 3 11-44 36-3zM-209 -64l-39-2 5-49 38 2zM-326 -72l-39-3 8-49 38 3z"/>
<path fill="#6bff94" stroke="#6bff94" d="M195 363l-34 2 7-44 37-2zM326 266l-38 3 8-47 39-3zM335 219l-39 3 6-47 39-4zM64 234l-38 0 0-47 39 0zM-51 234l-39-1-2-47 40 1zM26 187l-39 0 0-48 40 0zM266 129l-40 3 1-49 40-2zM-134 39l-40-2 2-49 39 1z"/>
<path fill="#94ff6b" stroke="#94ff6b" d="M126 367l-34 1 4-44 36-1zM288 269l-38 3 7-47 39-3zM373 216l-38 3 6-48 40-3zM183 182l-39 2 2-48 40-2zM27 139l-40 0 0-49 40 0zM-93 138l-40-1-1-49 41 1zM-93 40l-41-1 1-50 40 2z"/>
<path fill="#2effd1" stroke="#2effd1" d="M92 368l-35 1 3-44 36-1zM-11 370l-35-1-2-43 36 0zM478 251l-38 4 11-47 39-4zM262 178l-39 2 3-48 40-3zM187 85l-40 2 0-49 40-2zM-199 -161l-37-2 9-48 36 2z"/>
<path fill="#05fffa" stroke="#05fffa" d="M57 369l-34 0 1-43 36-1zM-125 278l-37-1-5-47 39 2zM-162 277l-38-2-5-47 38 2zM490 204l-39 4 9-48 40-4zM106 137l-40 1 1-48 40-1zM107 40l-40 0-1-49 40-1zM-414 19l-40-4 4-49 40 4zM-92 -59l-39-1 3-49 38 1zM-273 -166l-37-3 12-48 35 3z"/>
<path fill="#8aff75" stroke="#8aff75" d="M388 304l-37 4 12-46 38-3zM440 255l-39 4 11-47 39-4zM-131 185l-39-2-3-48 40 2zM-13 90l-40 0 0-49 40 0zM-214 35l-40-3 2-49 40 3z"/>
<path fill="#a8ff57" stroke="#a8ff57" d="M314 311l-37 3 11-45 38-3zM96 324l-36 1 2-45 38-1zM24 326l-36 0 0-45 37 0zM-53 41l-40-1 0-49 40 0zM-319 -121l-38-3 10-48 37 3z"/>
<path fill="#dbff24" stroke="#dbff24" d="M277 314l-36 3 9-45 38-3z"/>
<path fill="#ff2400" stroke="#ff2400" d="M241 317l-36 2 7-45 38-2z"/>
<path fill="#ffa800" stroke="#ffa800" d="M205 319l-37 2 7-45 37-2zM175 276l-38 2 4-46 39-2z"/>
<path fill="#ffc700" stroke="#ffc700" d="M168 321l-36 2 5-45 38-2z"/>
<path fill="#ffb300" stroke="#ffb300" d="M132 323l-36 1 4-45 37-1zM302 175l-40 3 4-49 40-3z"/>
<path fill="#57ffa8" stroke="#57ffa8" d="M60 325l-36 1 1-45 37-1zM-12 326l-36 0-2-45 38 0zM26 234l-39 1 0-48 39 0zM144 184l-39 2 1-49 40-1zM-13 187l-39 0-1-48 40 0zM307 78l-40 3 0-50 40-2z"/>
<path fill="#00d1ff" stroke="#00d1ff" d="M-84 325l-36-1-5-46 38 2zM381 168l-40 3 5-48 39-3z"/>
<path fill="#75ff8a" stroke="#75ff8a" d="M401 259l-38 3 10-46 39-4zM363 262l-37 4 9-47 38-3zM451 208l-39 4 8-48 40-4zM412 212l-39 4 8-48 39-4zM257 225l-39 3 5-48 39-2zM218 228l-38 2 3-48 40-2zM180 230l-39 2 3-48 39-2zM-90 233l-38-1-3-47 39 1zM-128 232l-39-2-3-47 39 2zM105 186l-40 1 1-49 40-1zM-210 181l-39-2-3-49 40 3zM-93 89l-41-1 0-49 41 1zM-53 -9l-40 0 1-50 40 1zM-331 -23l-40-3 6-49 39 3zM-52 -58l-40-1 2-49 39 1zM-347 -172l-36-4 14-47 35 3zM-420 -180l-37-4 18-47 35 4z"/>
<path fill="#ff0500" stroke="#ff0500" d="M250 272l-38 2 6-46 39-3z"/>
<path fill="#ff9e00" stroke="#ff9e00" d="M212 274l-37 2 5-46 38-2zM62 280l-37 1 1-47 38 0z"/>
<path fill="#ffe500" stroke="#ffe500" d="M137 278l-37 1 3-46 38-1z"/>
<path fill="#4dffb2" stroke="#4dffb2" d="M100 279l-38 1 2-46 39-1z"/>
<path fill="#ff8a00" stroke="#ff8a00" d="M25 281l-37 0-1-46 39-1zM-12 281l-38 0-1-47 38 1zM-254 82l-40-3 0-49 40 2z"/>
<path fill="#f0ff0f" stroke="#f0ff0f" d="M296 222l-39 3 5-47 40-3zM-134 88l-40-2 0-49 40 2zM307 29l-40 2-2-49 40-3zM-252 -17l-39-3 4-49 39 3zM-287 -69l-39-3 7-49 38 3z"/>
<path fill="#c7ff38" stroke="#c7ff38" d="M141 232l-38 1 2-47 39-2z"/>
<path fill="#ff7500" stroke="#ff7500" d="M-52 187l-40-1-1-48 40 1zM-173 135l-39-2-2-49 40 2z"/>
<path fill="#ff8000" stroke="#ff8000" d="M-92 186l-39-1-2-48 40 1zM-53 139l-40-1 0-49 40 1z"/>
<path fill="#faff05" stroke="#faff05" d="M306 126l-40 3 1-48 40-3zM347 74l-40 4 0-49 40-4z"/>
<path fill="#e5ff1a" stroke="#e5ff1a" d="M-13 139l-40 0 0-49 40 0zM-174 86l-40-2 0-49 40 2zM-254 32l-40-2 3-50 39 3zM-281 -118l-38-3 9-48 37 3z"/>
<path fill="#ff6b00" stroke="#ff6b00" d="M-133 137l-40-2-1-49 40 2z"/>
<path fill="#ffdb00" stroke="#ffdb00" d="M-212 133l-40-3-2-48 40 2z"/>
<path fill="#ff6100" stroke="#ff6100" d="M-214 84l-40-2 0-50 40 3z"/>
<path fill="#00bdff" stroke="#00bdff" d="M187 36l-40 2-1-49 40-2z"/>
<path fill="#00c7ff" stroke="#00c7ff" d="M-334 26l-40-3 3-49 40 3z"/>
<path fill="#ff9400" stroke="#ff9400" d="M-212 -14l-40-3 4-49 39 2z"/>
<path fill="#ffd100" stroke="#ffd100" d="M-248 -66l-39-3 6-49 38 3z"/>
<path fill="#0080ff" stroke="#0080ff" d="M-90 -108l-38-1 4-49 37 2zM-166 -111l-39-2 6-48 37 2zM-162 -159l-37-2 8-48 35 2z"/>
<path fill="#fffa00" stroke="#fffa00" d="M-243 -115l-38-3 8-48 37 3z"/>
<path fill="#004dff" stroke="#004dff" d="M-84 -204l-36-1 6-47 34 1zM-80 -251l-34-1 6-46 33 1z"/>
</g></g>
<use href="#grid" fill="none" stroke="#d6d6d6" stroke-width="0.7" clip-path="url(#el)"/>
<g font-size="7.3"><text x="-108.5" y="-4.2" text-anchor="middle" fill="#fff" stroke="#666" stroke-width="0.3" paint-order="stroke">60</text>
<text x="-88.6" y="-3.1" text-anchor="middle" fill="#fff" stroke="#666" stroke-width="0.3" paint-order="stroke">30</text>
<text x="-68.7" y="-1.2" text-anchor="middle" fill="#fff" stroke="#666" stroke-width="0.3" paint-order="stroke">0</text>
<text x="-48.8" y="0.9" text-anchor="middle" fill="#fff" stroke="#666" stroke-width="0.3" paint-order="stroke">-30</text>
<text x="-28.8" y="2.8" text-anchor="middle" fill="#fff" stroke="#666" stroke-width="0.3" paint-order="stroke">-60</text>
<text x="-8.7" y="3.8" text-anchor="middle" fill="#fff" stroke="#666" stroke-width="0.3" paint-order="stroke">-90</text>
<text x="11.3" y="3.8" text-anchor="middle" fill="#fff" stroke="#666" stroke-width="0.3" paint-order="stroke">-120</text>
<text x="31.3" y="2.7" text-anchor="middle" fill="#fff" stroke="#666" stroke-width="0.3" paint-order="stroke">-150</text>
<text x="51.3" y="0.8" text-anchor="middle" fill="#fff" stroke="#666" stroke-width="0.3" paint-order="stroke">180</text>
<text x="71.2" y="-1.3" text-anchor="middle" fill="#fff" stroke="#666" stroke-width="0.3" paint-order="stroke">150</text>
<text x="91.1" y="-3.2" text-anchor="middle" fill="#fff" stroke="#666" stroke-width="0.3" paint-order="stroke">120</text>
<text x="111" y="-4.2" text-anchor="middle" fill="#fff" stroke="#666" stroke-width="0.3" paint-order="stroke">90</text>
<text x="-39.8" y="-47.3" text-anchor="middle" fill="#fff" stroke="#666" stroke-width="0.3" paint-order="stroke">60</text>
<text x="-60.6" y="-26.1" text-anchor="middle" fill="#fff" stroke="#666" stroke-width="0.3" paint-order="stroke">30</text>
<text x="-65" y="22.2" text-anchor="middle" fill="#fff" stroke="#666" stroke-width="0.3" paint-order="stroke">-30</text>
<text x="-49.1" y="43.8" text-anchor="middle" fill="#fff" stroke="#666" stroke-width="0.3" paint-order="stroke">-60</text>
<text x="0" y="-60.2" text-anchor="middle" fill="#fff" stroke="#666" stroke-width="0.3" paint-order="stroke">90</text>
<text x="-24" y="57.8" text-anchor="middle" fill="#fff" stroke="#666" stroke-width="0.3" paint-order="stroke">-90</text>
<circle cx="0.6" cy="-24.2" r="1" fill="#8b1a1a"/>
<text x="0.1" y="-26.2" text-anchor="start" fill="#8b1a1a">V1</text>
<circle cx="-2" cy="0" r="1" fill="#111"/>
<text x="-3" y="-2.5" text-anchor="start" fill="#111">Nose</text>
<circle cx="-20.4" cy="29" r="1" fill="#111"/>
<text x="-20.9" y="27.5" text-anchor="start" fill="#111">V2</text>
<circle cx="118" cy="0" r="1" fill="#8b1a1a"/>
<text x="118.2" y="-2" text-anchor="start" fill="#8b1a1a">Tail</text></g>
</g>
<text x="326.3" y="18.8" font-size="13.6" fill="#000" stroke="#000" stroke-width="0.2">0.4 keV</text>
<rect x="315" y="131.1" width="270" height="4.2" fill="url(#jet)"/>
<rect x="359.8" y="131.1" width="0.5" height="4.2" fill="#222" fill-opacity="0.3"/>
<rect x="404.8" y="131.1" width="0.5" height="4.2" fill="#222" fill-opacity="0.3"/>
<rect x="449.8" y="131.1" width="0.5" height="4.2" fill="#222" fill-opacity="0.3"/>
<rect x="494.8" y="131.1" width="0.5" height="4.2" fill="#222" fill-opacity="0.3"/>
<rect x="539.8" y="131.1" width="0.5" height="4.2" fill="#222" fill-opacity="0.3"/>
<g font-size="8.4" fill="#7a1212" stroke="#7a1212" stroke-width="0.15"><text x="315" y="148.5" text-anchor="middle">0</text><text x="360" y="148.5" text-anchor="middle">100</text><text x="405" y="148.5" text-anchor="middle">200</text><text x="450" y="148.5" text-anchor="middle">300</text><text x="495" y="148.5" text-anchor="middle">400</text><text x="540" y="148.5" text-anchor="middle">500</text><text x="585" y="148.5" text-anchor="middle">600</text></g>
<g transform="translate(150 217.5)">
<ellipse cx="0" cy="0" rx="120.0" ry="60.0" fill="#1b1b1b"/>
<g clip-path="url(#el)"><g transform="scale(0.1)" stroke-width="6" stroke-linejoin="round">
<path fill="#0038ff" stroke="#0038ff" d="M680 -494l-22 0-34-12-36-11-37-11 19 0 38 11 37 11zM658 -494l-23 0-33-12-34-11-36-11 19 0 37 11 36 11zM-352 -558l-15 0 41-9 44-9 49-7 9 0-47 7-42 9zM-367 -558l-14 0 42-9 46-9 50-7 10 0-49 7-44 9z"/>
<path fill="#001aff" stroke="#001aff" d="M635 -494l-23 0-31-12-33-11-35-11 19 0 36 11 34 11zM570 -528l-19 0-40-11-41-10-45-9 15 0 46 9 43 10zM551 -528l-19 0-38-11-40-10-43-9 14 0 45 9 41 10zM-381 -558l-15 0 44-9 48-9 52-7 9 0-50 7-46 9z"/>
<path fill="#0000fa" stroke="#0000fa" d="M612 -494l-22 0-31-12-32-11-33-11 19 0 35 11 33 11zM-272 -494l-23 0 15-12 16-11 17-11 19 0-15 11-15 11zM532 -528l-19 0-37-11-39-10-41-9 15 0 43 9 40 10zM-247 -528l-19 0 19-11 20-10 22-9 14 0-20 9-18 10zM-264 -558l-15 0 31-9 34-9 37-7 9 0-35 7-32 9z"/>
<path fill="#0000e6" stroke="#0000e6" d="M590 -494l-23 0-29-12-31-11-32-11 19 0 33 11 32 11zM513 -528l-19 0-36-11-37-10-40-9 15 0 41 9 39 10zM-228 -528l-19 0 18-11 18-10 20-9 15 0-18 9-18 10zM425 -558l-14 0-46-9-49-9-55-7 10 0 56 7 51 9zM-205 -558l-15 0 24-9 27-9 29-7 9 0-27 7-25 9zM-220 -558l-15 0 26-9 29-9 31-7 9 0-29 7-27 9zM-187 -583l-9 0 46-7 55-6 95-4-90 4-53 6zM-196 -583l-9 0 48-7 58-6 99-4-95 4-55 6zM-205 -583l-10 0 51-7 60-6 104-4-99 4-58 6z"/>
<path fill="#0000db" stroke="#0000db" d="M-249 -494l-23 0 14-12 15-11 15-11 19 0-14 11-14 11zM-209 -528l-19 0 16-11 18-10 18-9 15 0-17 9-16 10zM411 -558l-15 0-44-9-48-9-52-7 9 0 55 7 49 9zM396 -558l-15 0-42-9-46-9-50-7 9 0 52 7 48 9zM-176 -558l-15 0 22-9 22-9 26-7 9 0-23 7-21 9zM-191 -558l-14 0 22-9 25-9 27-7 10 0-26 7-22 9zM-235 -558l-14 0 27-9 30-9 33-7 10 0-31 7-29 9zM-215 -583l-9 0 53-7 63-6 108-4-104 4-60 6zM-224 -583l-9 0 55-7 65-6 113-4-108 4-63 6zM-233 -583l-10 0 57-7 69-6 117-4-113 4-65 6zM-243 -583l-9 0 59-7 71-6 122-4-117 4-69 6zM-252 -583l-9 0 61-7 74-6 126-4-122 4-71 6z"/>
<path fill="#0005ff" stroke="#0005ff" d="M-295 -494l-23 0 17-12 17-11 18-11 19 0-17 11-16 11zM-266 -528l-19 0 20-11 22-10 23-9 15 0-22 9-20 10zM440 -558l-15 0-47-9-51-9-56-7 9 0 58 7 53 9zM-425 -558l-15 0 49-9 53-9 58-7 9 0-56 7-51 9z"/>
<path fill="#002eff" stroke="#002eff" d="M-318 -494l-22 0 17-12 19-11 19-11 19 0-18 11-17 11zM-342 -528l-19 0 26-11 27-10 29-9 15 0-28 9-25 10z"/>
<path fill="#004dff" stroke="#004dff" d="M-340 -494l-23 0 19-12 19-11 21-11 19 0-19 11-19 11zM-361 -528l-19 0 27-11 29-10 31-9 14 0-29 9-27 10zM-279 -558l-14 0 32-9 36-9 38-7 10 0-37 7-34 9zM-308 -558l-15 0 36-9 39-9 43-7 9 0-41 7-37 9zM-323 -558l-14 0 37-9 41-9 44-7 10 0-43 7-39 9z"/>
<path fill="#0061ff" stroke="#0061ff" d="M-363 -494l-23 0 20-12 21-11 22-11 19 0-21 11-19 11zM-658 -494l-22 0 35-12 37-11 38-11 19 0-37 11-36 11zM-494 -528l-19 0 37-11 39-10 41-9 15 0-40 9-37 10zM-513 -528l-19 0 38-11 40-10 43-9 15 0-41 9-39 10z"/>
<path fill="#006bff" stroke="#006bff" d="M-386 -494l-22 0 21-12 22-11 23-11 19 0-22 11-21 11z"/>
<path fill="#0080ff" stroke="#0080ff" d="M-408 -494l-23 0 22-12 24-11 24-11 19 0-23 11-22 11zM-431 -494l-23 0 24-12 24-11 26-11 19 0-24 11-24 11zM-590 -494l-22 0 31-12 33-11 35-11 19 0-33 11-32 11zM-612 -494l-23 0 33-12 34-11 36-11 19 0-35 11-33 11z"/>
<path fill="#00bdff" stroke="#00bdff" d="M-454 -494l-22 0 24-12 26-11 27-11 19 0-26 11-24 11zM-476 -494l-23 0 26-12 27-11 28-11 19 0-27 11-26 11z"/>
<path fill="#00a8ff" stroke="#00a8ff" d="M-499 -494l-23 0 27-12 29-11 29-11 19 0-28 11-27 11zM-380 -528l-19 0 29-11 30-10 32-9 15 0-31 9-29 10zM-399 -528l-19 0 30-11 32-10 33-9 15 0-32 9-30 10zM-418 -528l-19 0 31-11 33-10 36-9 14 0-33 9-32 10zM-437 -528l-19 0 33-11 34-10 37-9 15 0-36 9-33 10z"/>
<path fill="#009eff" stroke="#009eff" d="M-522 -494l-22 0 28-12 29-11 31-11 19 0-29 11-29 11zM-544 -494l-23 0 29-12 31-11 32-11 19 0-31 11-29 11zM-567 -494l-23 0 31-12 32-11 33-11 19 0-32 11-31 11z"/>
<path fill="#0075ff" stroke="#0075ff" d="M-635 -494l-23 0 34-12 36-11 37-11 19 0-36 11-34 11zM-475 -528l-19 0 36-11 37-10 40-9 14 0-38 9-36 10z"/>
<path fill="#000fff" stroke="#000fff" d="M-285 -528l-19 0 22-11 23-10 24-9 15 0-23 9-22 10zM-304 -528l-19 0 23-11 25-10 26-9 14 0-24 9-23 10zM-396 -558l-15 0 46-9 49-9 55-7 9 0-52 7-48 9zM-411 -558l-14 0 47-9 51-9 56-7 10 0-55 7-49 9z"/>
<path fill="#0024ff" stroke="#0024ff" d="M-323 -528l-19 0 25-11 25-10 28-9 15 0-26 9-25 10z"/>
<path fill="#0094ff" stroke="#0094ff" d="M-456 -528l-19 0 34-11 36-10 38-9 15 0-37 9-34 10z"/>
<path fill="#0057ff" stroke="#0057ff" d="M-532 -528l-19 0 40-11 41-10 45-9 14 0-43 9-40 10z"/>
<path fill="#0042ff" stroke="#0042ff" d="M-551 -528l-19 0 41-11 43-10 46-9 15 0-45 9-41 10zM-293 -558l-15 0 34-9 37-9 41-7 9 0-38 7-36 9zM-337 -558l-15 0 39-9 42-9 47-7 9 0-44 7-41 9z"/>
<path fill="#0000f0" stroke="#0000f0" d="M-249 -558l-15 0 29-9 32-9 35-7 9 0-33 7-30 9zM-149 -583l-10 0 38-7 44-6 77-4-72 4-42 6zM-159 -583l-9 0 40-7 47-6 81-4-77 4-44 6zM-168 -583l-9 0 41-7 50-6 86-4-81 4-47 6zM-177 -583l-10 0 44-7 53-6 90-4-86 4-50 6z"/>
<path fill="#0000db" stroke="#0000db" d="M359 428l-32 3 24-40 33-4zM-10 451l-30 0-3-40 32 0zM486 376l-34 4 25-43 36-4zM549 329l-36 4 23-44 37-4zM-149 366l-35-2-9-44 37 2zM610 281l-37 4 19-46 39-4zM669 231l-38 4 16-47 39-4zM725 180l-39 4 12-49 40-4zM-412 117l-40-4-2-49 40 4zM388 71l-41 3 0-49 40-3zM547 6l-40 4-4-49 39-4zM-494 11l-40-4 5-49 40 4zM542 -43l-39 4-8-49 38-4zM973 -183l-39 2-30-47 37-2zM709 -162l-38 4-21-47 36-4zM978 -232l-12 0-13 1-12 1-12-16-13-16-14-15 12 0 12-1 12 0 14 15 14 15zM-566 -196l-36-4 24-47 35 4zM974 -280l-12 1-12 0-12 1-15-16-16-15-17-15 12 0 11 0 12-1 17 15 17 15zM-84 -204l-36-1 6-47 34 1zM-647 -304l-33-4 43-44 30 4zM995 -326l-11 0-12 0-12 0-19-14-20-15-21-14 11 0 12 0 11-1 21 15 21 14zM-698 -358l-31-3 57-42 28 3zM-824 -367l-10 0-11-1-11 0 21-14 22-14 23-14 10 0 10 1 10 0-22 14-21 14zM-130 -344l-30-2 14-42 27 1zM669 -447l-9 0-9 1-9 0-25-12-26-13-27-12 8-1 8 0 7-1 29 12 27 13zM-271 -486l-6-1-7-1-6-1 18-12 19-11 20-11 4 1 5 1 5 1-18 11-18 11zM437 -553l-7 0-6 0-6 1-44-10-47-9-51-8 4 0 4 0 5 0 53 8 49 9zM-233 -523l-5-1-5 0-4-1 22-11 23-9 25-9 3 0 3 1 3 1-23 9-22 10zM-194 -559l-3-1-2-1-3 0 32-8 34-7 35-6 1 1 1 1-33 6-32 7zM-202 -561l-2-1-3-1-2-1 34-8 36-6 37-6 0 1 1 0 0 1-35 6-34 7zM-216 -566l-3-1-2-1-2 0 38-8 41-6 42-5 0 1-40 6-38 6zM-272 -578l-4-1-4 0-4 0 59-8 67-6 81-5-1 1-2 0-1 0-72 5-63 6zM-284 -579l-5 0-5 0-5-1 61-7 70-6 90-5 1 0 1 0-1 0-81 5-67 6z"/>
<path fill="#0000e6" stroke="#0000e6" d="M327 431l-31 3 21-40 34-3zM20 451l-30 0-1-40 33 0zM452 380l-34 4 24-43 35-4zM-76 410l-32-1-7-42 35 1zM-193 320l-36-2-8-46 37 3zM-328 173l-40-4-4-48 40 3zM266 129l-40 3 1-49 40-2zM226 132l-40 2 1-49 40-2zM186 134l-40 2 1-49 40-2zM106 137l-40 1 1-48 40-1zM428 67l-40 4-1-49 40-4zM865 -26l-40 3-8-49 39-4zM896 -79l-40 3-14-48 38-3zM65 -58l-39 0 0-49 38 0zM671 -158l-37 4-20-47 36-4zM559 -145l-38 4-16-48 37-4zM-114 -252l-34-2 8-46 32 2zM-667 -355l-31-3 54-42 28 3zM-856 -368l-11 0-11-1-11 0 22-14 22-14 24-14 11 0 10 1 10 0-23 14-22 14zM-889 -369l-11 0-11 0-12 0 23-15 23-14 25-13 10 0 11 0 10 0-24 14-22 14zM711 -406l-10 1-10 1-9 1-21-14-22-13-23-13 9-1 9-1 8-1 24 14 23 13zM611 -486l-8 0-8 1-8 0-29-12-31-11-33-11 7-1 7 0 6-1 34 12 32 11zM-272 -443l-22-3 42-37 19 2zM536 -522l-8 1-7 0-7 0-35-10-38-11-40-9 6-1 6 0 5 0 42 9 39 11zM456 -553l-6 0-7 0-6 0-46-9-49-9-53-8 5 0 5-1 5 0 55 8 50 9zM-247 -525l-5-1-5-1-4-1 24-10 25-10 26-9 3 1 3 1 3 1-25 9-23 9zM-209 -564l-3-1-2 0-2-1 36-8 38-6 40-6 0 1 0 1-37 6-36 6zM-261 -577l-4-1-3 0-4 0 56-8 63-6 72-5-2 1-2 0-1 1-64 4-58 6z"/>
<path fill="#0000fa" stroke="#0000fa" d="M296 434l-31 3 19-40 33-3zM111 448l-31 2 6-40 33-1zM513 333l-36 4 21-44 38-4zM-115 367l-34-1-7-44 36 2zM573 285l-37 4 18-46 38-4zM785 79l-40 4 3-49 40-4zM-372 121l-40-4-2-49 40 4zM468 63l-40 4-1-49 40-4zM587 1l-40 5-5-49 39-5zM67 40l-40 1 0-49 39-1zM726 -113l-38 4-17-49 38-4zM26 -58l-39 0 0-49 39 0zM-92 -59l-39-1 3-49 38 1zM746 -166l-37 4-23-47 36-4zM-546 -144l-38-4 18-48 37 4zM941 -230l-37 2-37-47 35-2zM578 -197l-36 4-22-47 35-4zM-87 -156l-37-2 4-47 36 1zM-578 -247l-34-4 30-46 33 4zM-582 -297l-32-3 38-45 30 4zM960 -326l-12 1-11 0-12 0-18-15-20-14-20-14 11-1 11 0 11 0 21 14 20 15zM-923 -369l-11-1 23-14 11 0zM-900 -384l-11 0 23-14 11 0zM-877 -398l-11 0 25-13 11 0zM945 -370l-11 0-23-14 12 0zM923 -384l-12 0-23-14 11 0zM899 -398l-11 0-25-13 11 0zM-140 -300l-32-1 12-45 30 2zM740 -408l-10 1-10 1-9 0-22-13-23-13-24-14 9 0 9-1 9 0 25 13 23 13zM-200 -393l-27-2 25-40 24 2zM-227 -395l-26-3 27-40 24 3zM-253 -398l-27-3 31-40 23 3zM636 -487l-8 0-9 0-8 1-31-12-32-11-34-12 7 0 7 0 8-1 35 11 33 12zM558 -522l-8 0-7 0-7 0-37-10-39-11-42-9 6-1 6 0 7 0 42 10 41 10zM-290 -489l-6-1-6-1-6-1 19-12 20-11 22-10 4 1 5 0 5 1-20 11-19 11zM-261 -528l-5-1-4-1-4-1 25-10 27-9 28-9 3 1 2 1 3 0-26 9-25 10zM-230 -571l-2 0-3-1-2-1 44-7 47-6 48-5-1 1-1 0 0 1-45 5-44 6zM-237 -573l-2 0-3-1-2 0 47-8 50-6 52-4-1 0-1 1-1 0-48 5-47 6z"/>
<path fill="#0005ff" stroke="#0005ff" d="M265 437l-32 3 17-40 34-3zM202 443l-30 2 12-40 33-2zM172 445l-31 2 11-40 32-2zM141 447l-30 1 8-39 33-2zM418 384l-34 3 22-42 36-4zM-43 411l-33-1-4-42 34 1zM686 184l-39 4 11-48 40-5zM738 131l-40 4 8-48 39-4zM306 126l-40 3 1-48 40-3zM66 138l-39 1 0-49 40 0zM27 90l-40 0 0-49 40 0zM825 -23l-39 4-8-49 39-4zM856 -76l-39 4-14-49 39-3zM581 -48l-39 5-9-49 39-5zM66 -9l-39 1-1-50 39 0zM-529 -42l-39-4 9-49 38 4zM611 -101l-39 4-13-48 37-4zM634 -154l-38 5-18-48 36-4zM-529 -192l-37-4 23-47 34 4zM762 -267l-35 4-37-46 33-3zM925 -325l-12 1-11 0-12 0-17-14-19-15-20-14 11-1 11 0 11 0 20 14 20 14zM934 -370l-11 1-12 0-11 0-22-14-23-14-24-14 11 0 10 0 11 0 25 13 23 14zM-672 -403l-10 0-9-1-10-1 21-13 23-14 23-13 9 1 9 1 8 0-22 14-22 13zM-730 -407l-10-1-10 0-10-1 24-13 24-13 25-13 9 0 9 1 9 0-24 13-24 14zM770 -409l-10 0-10 1-10 0-23-13-23-13-25-13 9-1 9 0 9-1 26 13 24 13zM-160 -346l-30-2 17-42 27 2zM723 -450l-9 0-9 1-9 0-27-13-28-12-30-12 8-1 9 0 8 0 30 12 30 12zM-280 -401l-26-3 34-39 23 2zM-308 -492l-6-1-6-1-6-1 21-12 21-11 23-10 4 1 5 1 5 1-22 10-20 11zM-274 -531l-5-1-4-1-5-1 28-10 28-9 30-8 3 0 2 1 3 1-28 9-27 9zM-450 -553l-6 0 47-10 6 0zM-403 -563l-6 0 50-9 6 1zM-353 -571l-6-1 55-8 5 0zM463 -553l-7 0-47-10 7 0zM416 -563l-7 0-50-9 6 0zM365 -572l-6 0-55-8 6 0z"/>
<path fill="#000fff" stroke="#000fff" d="M233 440l-31 3 15-40 33-3zM-156 322l-37-2-7-45 38 2zM631 235l-39 4 16-47 39-4zM346 123l-40 3 1-48 40-4zM508 59l-40 4-1-49 40-4zM-414 19l-40-4 4-49 40 4zM699 -60l-39 4-11-49 39-4zM880 -127l-38 3-21-49 38-3zM572 -97l-39 5-12-49 38-4zM897 -179l-38 3-28-47 37-3zM596 -149l-37 4-17-48 36-4zM902 -277l-11 1-12 0-12 1-14-15-15-15-15-15 11-1 11 0 11-1 17 15 15 15zM-120 -205l-36-2 8-47 34 2zM890 -324l-11 1-11 0-12 1-17-15-18-14-19-15 11 0 11-1 10 0 20 14 19 15zM789 -318l-33 3-48-44 31-2zM-148 -254l-35-2 11-45 32 1zM-607 -348l-30-4 49-42 28 3zM771 -364l-11 1-10 1-11 1-18-15-19-14-20-13 9-1 10-1 10-1 21 14 20 14zM-644 -400l-9-1-10-1-9-1 20-13 22-13 22-14 9 1 8 1 9 1-22 13-20 13zM-701 -405l-10-1-9 0-10-1 22-13 24-14 24-13 9 1 9 0 8 1-23 13-23 14zM-760 -409l-10 0-10-1-10 0 24-13 25-14 27-13 9 1 9 0 9 1-25 13-24 13zM800 -410l-10 0-10 0-10 1-24-14-24-13-26-13 9 0 9-1 9 0 27 13 26 13zM-317 -450l-22-3 49-36 19 3zM-288 -534l-4-1-4-1-5 0 29-10 31-9 32-9 2 1 3 1 2 1-30 8-28 9zM-430 -553l-7 0-6 0-7 0 47-10 50-8 54-9 5 1 5 0 5 0-53 8-48 9z"/>
<path fill="#0000f0" stroke="#0000f0" d="M80 450l-30 0 4-39 32-1zM50 450l-30 1 2-40 32 0zM-237 272l-38-2-8-47 39 3zM-283 223l-39-3-6-47 39 3zM146 136l-40 1 1-48 40-2zM828 26l-40 4-2-49 39-4zM67 90l-40 0 0-49 40-1zM-414 68l-40-4 0-49 40 4zM-454 15l-40-4 5-49 39 4zM660 -56l-39 4-10-49 38-4zM621 -52l-40 4-9-49 39-4zM919 -130l-39 3-21-49 38-3zM688 -109l-39 4-15-49 37-4zM649 -105l-38 4-15-48 38-5zM-13 -58l-39 0 1-49 38 0zM-52 -58l-40-1 2-49 39 1zM-559 -95l-39-4 14-49 38 4zM934 -181l-37 2-29-47 36-2zM-90 -108l-38-1 4-49 37 2zM758 -217l-36 4-29-47 34-3zM614 -201l-36 4-23-47 34-4zM938 -278l-12 0-12 1-12 0-14-15-15-15-17-15 12-1 11 0 11-1 17 15 16 15zM-614 -300l-33-4 40-44 31 3zM756 -315l-33 3-45-44 30-3zM-637 -352l-30-3 51-42 28 3zM739 -361l-31 2-55-42 29-2zM696 -449l-9 1-9 0-9 1-26-13-27-13-29-12 8 0 8-1 8 0 30 12 28 12zM-173 -390l-27-3 22-40 23 2zM-294 -446l-23-4 46-36 19 3zM-223 -568l-2-1-3-1-2-1 41-7 44-6 45-5-1 0 0 1-1 1-42 5-41 6zM-244 -574l-3-1-3 0-2-1 50-7 54-6 57-5-1 1-2 0-1 1-52 4-50 6zM-252 -576l-3 0-3-1-3 0 53-8 58-6 64-4-2 0-1 1-2 0-57 5-54 6z"/>
<path fill="#001aff" stroke="#001aff" d="M384 387l-33 4 20-43 35-3zM-11 411l-32 0-3-42 35 1zM-80 368l-35-1-5-43 36 1zM-200 275l-37-3-7-46 39 2zM-289 176l-39-3-4-49 40 3zM385 120l-39 3 1-49 41-3zM627 -3l-40 4-6-49 40-4zM27 41l-40 0 0-49 40 0zM-53 -9l-40 0 1-50 40 1zM-93 -9l-40-2 2-49 39 1zM-489 -38l-40-4 8-49 39 4zM765 -117l-39 4-17-49 37-4zM795 -220l-37 3-31-46 35-4zM797 -270l-35 3-39-45 33-3zM-543 -243l-35-4 29-46 33 4zM900 -369l-11 0-11 0-11 1-21-15-23-14-23-13 10-1 11 0 10 0 24 14 23 14zM834 -367l-10 0-11 1-11 0-20-14-20-14-22-14 10 0 10-1 10 0 22 14 22 14zM-306 -404l-26-3 38-39 22 3zM662 -488l-9 0-9 0-8 1-32-12-33-12-35-11 7 0 7 0 8 0 36 11 35 11zM581 -523l-8 0-8 1-7 0-38-11-41-10-42-10 6 0 7 0 6 0 44 9 42 11zM-413 -552l-5 0-6-1-6 0 45-9 48-9 53-8 4 0 4 0 4 1-50 8-47 8z"/>
<path fill="#002eff" stroke="#002eff" d="M351 391l-34 3 18-42 36-4zM22 411l-33 0 0-41 34-1zM745 83l-39 4 2-49 40-4zM-332 124l-40-3-2-49 40 4zM-374 72l-40-4 0-49 40 4zM778 -68l-39 4-13-49 39-4zM739 -64l-40 4-11-49 38-4zM27 -8l-40 0 0-50 39 0zM842 -124l-39 3-19-48 37-4zM859 -176l-38 3-26-47 36-3zM868 -226l-37 3-34-47 35-2zM831 -223l-36 3-33-47 35-3zM856 -322l-11 1-11 0-11 1-17-15-17-14-18-15 10 0 11-1 10-1 19 15 18 14zM-576 -345l-31-3 47-43 27 4zM-172 -301l-32-3 14-44 30 2zM-821 -411l-10 0-11 0-10 0 26-14 26-13 29-13 9 0 10 0 10 1-28 12-26 14zM831 -411l-10 0-11 0-10 1-24-14-26-13-27-13 10 0 9 0 10-1 28 13 26 14zM-190 -348l-29-2 19-43 27 3zM-332 -407l-25-3 40-40 23 4zM-326 -495l-6-1-6-1-6-2 22-11 23-11 25-10 4 1 4 1 5 1-23 10-21 11zM-313 -539l-5-1-4-1-4-1 32-9 34-9 37-8 2 0 2 1 3 1-34 8-33 9z"/>
<path fill="#004dff" stroke="#004dff" d="M317 394l-33 3 16-42 35-3zM-120 324l-36-2-6-45 37 1zM592 239l-38 4 15-47 39-4zM647 188l-39 4 11-48 39-4zM698 135l-40 5 8-49 40-4zM183 182l-39 2 2-48 40-2zM144 184l-39 2 1-49 40-1zM-13 139l-40 0 0-49 40 0zM748 34l-40 4-2-49 40-4zM-131 -60l-39-2 4-49 38 2zM-204 -304l-32-2 17-44 29 2zM-344 -499l-6-1-6-1-5-1 23-11 25-10 25-11 5 1 4 1 5 1-25 10-23 11zM-326 -542l-5 0-4-1-4-1 34-9 36-9 39-9 2 1 3 1 2 1-37 8-34 9zM-339 -544l-5-1-4 0-5-1 37-9 38-9 41-9 2 1 3 1 2 0-39 9-36 9zM-366 -548l-5-1-5 0-5-1 40-9 43-9 46-8 2 1 3 0 3 1-44 8-40 9z"/>
<path fill="#0061ff" stroke="#0061ff" d="M284 397l-34 3 15-42 35-3zM119 409l-33 1 6-42 34-1zM-11 370l-35-1-2-43 36 0zM-162 277l-38-2-5-47 38 2zM-205 228l-39-2-5-47 39 2zM302 175l-40 3 4-49 40-3zM65 187l-39 0 1-48 39-1zM-249 179l-40-3-3-49 40 3zM466 112l-41 4 3-49 40-4zM628 46l-40 5-1-50 40-4zM-53 90l-40-1 0-49 40 1zM-93 40l-41-1 1-50 40 2zM-482 -87l-39-4 12-49 38 5zM-191 -209l-36-2 10-47 34 2zM-516 -289l-33-4 33-44 31 4zM-236 -306l-32-3 19-44 30 3zM-336 -362l-28-3 32-42 26 3zM-608 -443l-8 0-9-1-9-1 25-13 26-12 26-12 8 0 7 1 8 1-26 12-24 13zM-660 -447l-9 0-9-1-9 0 27-13 28-13 29-12 8 1 8 0 7 1-28 12-26 12zM-742 -450l-10-1-10 0-9 0 29-13 31-12 32-12 9 0 8 0 9 0-31 12-30 13zM-771 -451l-10 0 29-13 10 0zM-742 -464l-10 0 31-12 10 0zM-711 -476l-10 0 33-12 9 0zM791 -451l-10 0-29-13 9 0zM761 -464l-9 0-31-12 9 0zM730 -476l-9 0-33-12 9 0zM-679 -488l-9 0 34-12 8 0zM-646 -500l-8 0 35-12 9 1zM-610 -511l-9-1 38-11 8 0zM697 -488l-9 0-34-12 9 0zM663 -500l-9 0-35-12 8 0zM627 -512l-8 0-38-11 8 0zM-361 -502l-6-1-6-1-6 0 25-12 26-10 27-10 5 0 4 1 4 1-25 11-25 10zM-528 -521l-8-1-7 0-7 0 38-11 39-10 43-10 6 0 6 1 5 0-40 10-39 10z"/>
<path fill="#006bff" stroke="#006bff" d="M250 400l-33 3 13-42 35-3zM668 42l-40 4-1-49 39-4zM-374 23l-40-4 4-49 39 4zM-133 -11l-39-1 2-50 39 2zM-162 -159l-37-2 8-48 35 2zM-516 -337l-30-4 41-43 28 4zM-582 -440l-9-1-8-1-9-1 24-12 24-13 26-12 7 1 8 0 7 1-24 13-24 12zM-634 -445l-8-1-9 0-9-1 26-13 26-12 28-12 8 0 8 1 7 1-26 12-26 12zM-383 -414l-25-3 47-39 22 3zM-408 -417l-25-4 50-38 22 3zM-379 -504l-6-1-6-1-5-1 26-11 28-11 29-10 4 1 4 1 4 1-27 10-26 10z"/>
<path fill="#0075ff" stroke="#0075ff" d="M217 403l-33 2 11-42 35-2zM498 293l-37 4 17-46 38-4zM554 243l-38 4 14-47 39-4zM-292 127l-40-3-2-48 40 3zM708 38l-40 4-2-49 40-4zM-443 -83l-39-4 11-48 38 4zM-471 -135l-38-5 16-48 36 4zM-268 -309l-31-3 21-44 29 3zM-364 -365l-29-4 36-41 25 3zM-653 -488l-9 0-8 0-9 0 33-12 36-11 37-12 8 1 7 0 8 0-36 11-34 11zM-383 -459l-21-4 60-36 18 4zM-508 -520l-6-1-7 0-7 0 36-11 39-10 40-10 6 0 6 1 5 0-39 10-37 10z"/>
<path fill="#0080ff" stroke="#0080ff" d="M184 405l-32 2 9-42 34-2zM152 407l-33 2 7-42 35-2zM658 140l-39 4 7-49 40-4zM341 171l-39 4 4-49 40-3zM706 87l-40 4 2-49 40-4zM506 108l-40 4 2-49 40-4zM-334 76l-40-4 0-49 40 3zM-474 -235l-35-4 25-46 33 4zM-250 -260l-34-3 16-46 32 3zM-533 -387l-27-4 53-40 24 3zM-557 -437l-9-1-8-1-8-1 22-13 24-12 24-13 7 1 7 1 8 1-24 12-22 13zM-603 -486l-8 0-8-1-9 0 32-12 33-11 35-11 7 0 7 0 6 1-33 11-32 11zM-628 -487l-8 0-8-1-9 0 33-12 34-11 36-11 7 0 7 0 8 1-35 11-33 11zM-396 -507l-6-1-6-1-6-1 28-11 29-10 31-11 4 1 4 1 5 1-29 10-28 11z"/>
<path fill="#0057ff" stroke="#0057ff" d="M86 410l-32 1 3-42 35-1zM442 341l-36 4 18-45 37-3zM746 -15l-40 4-7-49 40-4zM-410 -30l-40-4 7-49 39 4zM-493 -188l-36-4 20-47 35 4zM-217 -258l-33-2 14-46 32 2zM-546 -341l-30-4 43-42 28 3zM-560 -391l-28-3 56-40 25 3zM-714 -450l-9 0-10 0-9 0 28-13 30-13 31-12 9 0 8 1 8 0-30 12-29 13zM-357 -410l-26-4 44-39 22 3zM-550 -522l-8 0-7 0-8-1 39-10 41-11 43-9 7 0 6 0 7 0-43 10-39 10z"/>
<path fill="#0042ff" stroke="#0042ff" d="M54 411l-32 0 1-42 34 0zM-46 369l-34-1-4-43 36 1zM262 178l-39 2 3-48 40-3zM105 186l-40 1 1-49 40-1zM425 116l-40 4 3-49 40-4zM706 -11l-40 4-6-49 39-4zM-509 -140l-37-4 17-48 36 4zM-156 -207l-35-2 8-47 35 2zM-509 -239l-34-4 27-46 32 4zM-307 -359l-29-3 30-42 26 3zM-687 -448l-9-1-9 0-9-1 27-12 29-13 30-12 9 0 8 1 8 0-29 12-28 13zM781 -451l-10 0-9 0-10 0-29-12-30-13-31-12 8 0 9 0 9 0 33 12 31 12zM-361 -456l-22-3 57-36 18 3zM-573 -523l-8 0 39-10 8 0zM-534 -533l-8 0 42-11 7 0zM-493 -544l-7 0 44-9 6 0zM589 -523l-8 0-39-10 8 0zM550 -533l-8 0-42-11 8 0zM508 -544l-8 0-44-9 7 0zM-353 -546l-4-1-5 0-4-1 38-9 40-9 44-8 2 0 3 1 2 0-41 9-38 9zM-381 -550l-5 0-5-1-5 0 42-9 44-9 49-8 3 0 3 1 3 0-46 8-43 9z"/>
<path fill="#0024ff" stroke="#0024ff" d="M477 337l-35 4 19-44 37-4zM536 289l-38 4 18-46 38-4zM-244 226l-39-3-6-47 40 3zM27 139l-40 0 0-49 40 0zM788 30l-40 4-2-49 40-4zM548 55l-40 4-1-49 40-4zM-13 90l-40 0 0-49 40 0zM666 -7l-39 4-6-49 39-4zM-13 41l-40 0 0-50 40 1zM817 -72l-39 4-13-49 38-4zM-13 -8l-40-1 1-49 39 0zM-450 -34l-39-4 7-49 39 4zM784 -169l-38 3-24-47 36-4zM904 -228l-36 2-36-46 35-3zM867 -275l-35 3-43-46 34-2zM832 -272l-35 2-41-45 33-3zM823 -320l-34 2-50-43 32-3zM-549 -293l-33-4 36-44 30 4zM867 -368l-11 0-11 0-11 1-20-14-22-14-22-14 10-1 10 0 10 0 23 13 23 14zM802 -366l-10 1-11 1-10 0-19-14-20-14-21-14 9 0 10-1 10-1 22 14 20 14zM-616 -397l-28-3 62-40 25 3zM-790 -410l-10 0-10-1-11 0 25-13 26-14 28-12 9 0 10 0 9 0-27 13-25 14zM752 -451l-10 1-9 0-10 0-27-13-30-12-30-12 8-1 9 0 9 0 31 12 30 13zM-301 -536l-4-1-4-1-4-1 30-10 33-9 34-8 2 1 2 0 3 1-32 9-31 9z"/>
<path fill="#0094ff" stroke="#0094ff" d="M406 345l-35 3 17-44 36-4zM546 104l-40 4 2-49 40-4zM-457 -184l-36-4 19-47 35 4zM-331 -315l-31-3 26-44 29 3zM-485 -333l-31-4 39-43 28 4zM-449 -376l-28-4 44-41 25 4zM-488 -519l-6 0-7-1-7 0 36-11 37-10 39-10 5 0 5 1 5 0-37 10-36 11z"/>
<path fill="#00b2ff" stroke="#00b2ff" d="M371 348l-36 4 16-44 37-4zM461 297l-37 3 16-45 38-4zM516 247l-38 4 12-47 40-4zM626 95l-40 4 2-48 40-5zM-93 89l-41-1 0-49 41 1zM-371 -26l-39-4 6-49 39 4zM-404 -79l-39-4 10-48 38 3zM-284 -263l-34-3 19-46 31 3zM-362 -318l-31-4 29-43 28 3zM-458 -424l-25-4 57-38 22 3zM-469 -472l-7-1-7-1-7-1 24-12 25-12 27-11 6 1 6 1 6 1-26 11-24 12z"/>
<path fill="#00d1ff" stroke="#00d1ff" d="M335 352l-35 3 14-44 37-3zM569 196l-39 4 9-48 40-4zM141 232l-38 1 2-47 39-2zM619 144l-40 4 7-49 40-4zM-170 -62l-39-2 4-49 39 2zM-420 -180l-37-4 18-47 35 4zM-263 -214l-35-3 14-46 34 3zM-451 -281l-33-4 30-44 30 3z"/>
<path fill="#0ffff0" stroke="#0ffff0" d="M300 355l-35 3 12-44 37-3zM24 326l-36 0 0-45 37 0zM-87 280l-38-2-3-46 38 1zM500 156l-40 4 6-48 40-4zM-365 -75l-39-4 9-49 38 4zM-298 -217l-36-3 16-46 34 3z"/>
<path fill="#05fffa" stroke="#05fffa" d="M265 358l-35 3 11-44 36-3zM230 361l-35 2 10-44 36-2zM161 365l-35 2 6-44 36-2zM126 367l-34 1 4-44 36-1zM478 251l-38 4 11-47 39-4zM26 234l-39 1 0-48 39 0zM460 160l-40 4 5-48 41-4zM-205 -113l-38-2 7-48 37 2zM-404 -227l-35-4 21-46 33 4zM-351 -270l-34-3 23-45 31 3z"/>
<path fill="#1affe5" stroke="#1affe5" d="M195 363l-34 2 7-44 37-2zM-93 138l-40-1-1-49 41 1zM-172 -12l-40-2 3-50 39 2z"/>
<path fill="#00e5ff" stroke="#00e5ff" d="M92 368l-35 1 3-44 36-1zM-236 -163l-37-3 10-48 36 3z"/>
<path fill="#00bdff" stroke="#00bdff" d="M57 369l-34 0 1-43 36-1zM-48 326l-36-1-3-45 37 1zM-252 130l-40-3-2-48 40 3zM-483 -428l-24-3 60-38 21 3zM-490 -475l-8-1-7-1-7-1 25-12 27-11 28-12 6 1 6 1 6 1-27 11-25 12zM-512 -478l-7-1-8 0-7-1 27-12 28-12 29-11 6 1 6 1 6 0-28 12-27 11z"/>
<path fill="#009eff" stroke="#009eff" d="M23 369l-34 1-1-44 36 0zM608 192l-39 4 10-48 40-4zM381 168l-40 3 5-48 39-3zM666 91l-40 4 2-49 40-4zM586 99l-40 5 2-49 40-4zM-166 -111l-39-2 6-48 37 2zM-433 -131l-38-4 14-49 37 4zM-199 -161l-37-2 9-48 36 2zM-505 -384l-28-3 50-41 25 4zM-477 -380l-28-4 47-40 25 3zM-507 -431l-25-3 63-38 22 3zM-433 -421l-25-3 54-39 21 4zM-426 -466l-7-1-7-1-7-1 21-12 23-12 24-11 6 0 6 1 6 1-23 12-21 12zM-447 -469l-7-1-8-1-7-1 23-12 24-12 26-11 5 1 6 1 6 1-24 11-23 12zM-557 -482l-7-1-8-1-8 0 30-12 30-12 32-11 7 1 6 0 7 1-31 11-30 12zM-580 -484l-7-1-8 0-8-1 30-12 32-11 33-11 7 0 7 1 6 0-32 11-30 12zM-414 -510l-6-1-6-1-6-1 30-10 30-11 33-10 4 1 4 1 5 0-31 11-29 10z"/>
<path fill="#2effd1" stroke="#2effd1" d="M424 300l-36 4 13-45 39-4zM-383 -176l-37-4 16-47 35 4z"/>
<path fill="#57ffa8" stroke="#57ffa8" d="M388 304l-37 4 12-46 38-3zM96 324l-36 1 2-45 38-1zM250 272l-38 2 6-46 39-3zM212 274l-37 2 5-46 38-2zM25 281l-37 0-1-46 39-1zM-254 82l-40-3 0-49 40 2zM-174 37l-40-2 2-49 40 2zM-331 -23l-40-3 6-49 39 3zM-243 -115l-38-3 8-48 37 3z"/>
<path fill="#61ff9e" stroke="#61ff9e" d="M351 308l-37 3 12-45 37-4zM175 276l-38 2 4-46 39-2zM137 278l-37 1 3-46 38-1zM412 212l-39 4 8-48 39-4zM373 216l-38 3 6-48 40-3zM-357 -124l-38-4 12-48 36 4z"/>
<path fill="#9eff61" stroke="#9eff61" d="M314 311l-37 3 11-45 38-3zM401 259l-38 3 10-46 39-4zM-214 84l-40-2 0-50 40 3zM-294 30l-40-4 3-49 40 3z"/>
<path fill="#a8ff57" stroke="#a8ff57" d="M277 314l-36 3 9-45 38-3zM326 266l-38 3 8-47 39-3zM-310 -169l-37-3 13-48 36 3z"/>
<path fill="#80ff80" stroke="#80ff80" d="M241 317l-36 2 7-45 38-2zM168 321l-36 2 5-45 38-2zM132 323l-36 1 4-45 37-1zM440 255l-39 4 11-47 39-4zM288 269l-38 3 7-47 39-3zM-131 185l-39-2-3-48 40 2zM-347 -172l-36-4 14-47 35 3z"/>
<path fill="#94ff6b" stroke="#94ff6b" d="M205 319l-37 2 7-45 37-2zM-174 86l-40-2 0-49 40 2zM-209 -64l-39-2 5-49 38 2z"/>
<path fill="#38ffc7" stroke="#38ffc7" d="M60 325l-36 1 1-45 37-1zM490 204l-39 4 9-48 40-4zM335 219l-39 3 6-47 39-4zM-170 183l-40-2-2-48 39 2zM-212 133l-40-3-2-48 40 2zM-134 88l-40-2 0-49 40 2z"/>
<path fill="#00dbff" stroke="#00dbff" d="M-12 326l-36 0-2-45 38 0zM257 225l-39 3 5-48 39-2zM103 233l-39 1 1-47 40-1zM579 148l-40 4 7-48 40-5zM420 164l-39 4 4-48 40-4z"/>
<path fill="#008aff" stroke="#008aff" d="M-84 325l-36-1-5-46 38 2zM26 187l-39 0 0-48 40 0zM-227 -211l-36-3 13-46 33 2zM-484 -285l-32-4 31-44 31 4zM-299 -312l-32-3 24-44 29 3zM-532 -434l-9-1-8-1-8-1 21-13 22-13 24-12 7 1 7 1 7 1-22 12-21 13zM-404 -463l-8-1-7-1-7-1 21-12 21-12 23-12 5 1 6 1 6 1-21 12-20 12z"/>
<path fill="#dbff24" stroke="#dbff24" d="M363 262l-37 4 9-47 38-3zM-212 -14l-40-3 4-49 39 2z"/>
<path fill="#6bff94" stroke="#6bff94" d="M100 279l-38 1 2-46 39-1zM62 280l-37 1 1-47 38 0zM451 208l-39 4 8-48 40-4zM-92 186l-39-1-2-48 40 1zM-273 -166l-37-3 12-48 35 3z"/>
<path fill="#42ffbd" stroke="#42ffbd" d="M-12 281l-38 0-1-47 38 1zM-50 281l-37-1-3-47 39 1zM-334 -220l-35-3 18-47 33 4zM-369 -223l-35-4 19-46 34 3z"/>
<path fill="#00c7ff" stroke="#00c7ff" d="M-125 278l-37-1-5-47 39 2zM218 228l-38 2 3-48 40-2zM180 230l-39 2 3-48 39-2zM-167 230l-38-2-5-47 40 2zM-210 181l-39-2-3-49 40 3zM-134 39l-40-2 2-49 39 1zM-439 -231l-35-4 23-46 33 4zM-393 -322l-31-4 31-43 29 4zM-424 -326l-30-3 33-43 28 3z"/>
<path fill="#00f0ff" stroke="#00f0ff" d="M530 200l-40 4 10-48 39-4zM64 234l-38 0 0-47 39 0zM539 152l-39 4 6-48 40-4zM-334 26l-40-3 3-49 40 3zM-395 -128l-38-3 13-49 37 4z"/>
<path fill="#00faff" stroke="#00faff" d="M296 222l-39 3 5-47 40-3zM-52 187l-40-1-1-48 40 1zM-294 79l-40-3 0-50 40 4zM-318 -266l-33-4 20-45 32 3zM-385 -273l-33-4 25-45 31 4zM-418 -277l-33-4 27-45 31 4z"/>
<path fill="#24ffdb" stroke="#24ffdb" d="M-13 235l-38-1-1-47 39 0zM-128 232l-39-2-3-47 39 2z"/>
<path fill="#4dffb2" stroke="#4dffb2" d="M-51 234l-39-1-2-47 40 1zM-90 233l-38-1-3-47 39 1z"/>
<path fill="#0038ff" stroke="#0038ff" d="M223 180l-40 2 3-48 40-2zM588 51l-40 4-1-49 40-5zM786 -19l-40 4-7-49 39-4zM-53 41l-40-1 0-49 40 0zM803 -121l-38 4-19-49 38-3zM-521 -91l-38-4 13-49 37 4zM821 -173l-37 4-26-48 37-3zM-128 -109l-38-2 4-48 38 1zM-124 -158l-38-1 6-48 36 2zM-183 -256l-34-2 13-46 32 3zM-588 -394l-28-3 59-40 25 3zM-852 -411l-11 0 26-14 11 0zM-826 -425l-11 0 27-13 10 0zM-800 -438l-10 0 29-13 10 0zM874 -411l-11 0-26-14 10 0zM847 -425l-10 0-27-13 10 0zM820 -438l-10 0-29-13 10 0zM863 -411l-11 0-10 0-11 0-25-13-26-14-28-13 10 0 9 0 10 0 29 13 27 13zM-219 -350l-30-3 22-42 27 2zM-249 -353l-29-3 25-42 26 3zM-278 -356l-29-3 27-42 27 3zM688 -488l-9 0-9 0-8 0-33-12-35-11-36-11 7 0 8-1 8 0 38 11 35 12zM-339 -453l-22-3 53-36 18 3zM-396 -551l-5 0-6-1-6 0 44-10 47-8 50-8 4 0 3 0 4 1-49 8-44 9z"/>
<path fill="#00a8ff" stroke="#00a8ff" d="M-13 187l-39 0-1-48 40 0zM-53 139l-40-1 0-49 40 1zM-454 -329l-31-4 36-43 28 4zM-393 -369l-28-3 38-42 26 4zM-421 -372l-28-4 41-41 25 3zM-534 -480l-8-1-7-1-8 0 28-12 30-12 31-11 6 1 6 0 6 1-29 11-28 12zM-432 -513l-6 0-6-1-6-1 31-11 32-10 34-10 5 1 4 0 5 1-33 10-30 11zM-450 -515l-6-1-6 0-6-1 32-11 34-10 36-10 4 1 5 0 4 1-34 10-32 10zM-468 -517l-7-1-6 0-7-1 34-10 36-11 37-10 5 1 5 0 5 1-36 10-34 10z"/>
<path fill="#8aff75" stroke="#8aff75" d="M-133 137l-40-2-1-49 40 2zM-173 135l-39-2-2-49 40 2z"/>
<path fill="#faff05" stroke="#faff05" d="M-214 35l-40-3 2-49 40 3z"/>
<path fill="#f0ff0f" stroke="#f0ff0f" d="M-254 32l-40-2 3-50 39 3z"/>
<path fill="#ffb300" stroke="#ffb300" d="M-252 -17l-39-3 4-49 39 3z"/>
<path fill="#ffdb00" stroke="#ffdb00" d="M-291 -20l-40-3 5-49 39 3z"/>
<path fill="#fff000" stroke="#fff000" d="M-248 -66l-39-3 6-49 38 3z"/>
<path fill="#ffc700" stroke="#ffc700" d="M-287 -69l-39-3 7-49 38 3z"/>
<path fill="#b3ff4c" stroke="#b3ff4c" d="M-326 -72l-39-3 8-49 38 3z"/>
<path fill="#c7ff38" stroke="#c7ff38" d="M-281 -118l-38-3 9-48 37 3z"/>
<path fill="#bdff42" stroke="#bdff42" d="M-319 -121l-38-3 10-48 37 3z"/>
</g></g>
<use href="#grid" fill="none" stroke="#d6d6d6" stroke-width="0.7" clip-path="url(#el)"/>
<g font-size="7.3"><text x="-108.5" y="-4.2" text-anchor="middle" fill="#fff" stroke="#666" stroke-width="0.3" paint-order="stroke">60</text>
<text x="-88.6" y="-3.1" text-anchor="middle" fill="#fff" stroke="#666" stroke-width="0.3" paint-order="stroke">30</text>
<text x="-68.7" y="-1.2" text-anchor="middle" fill="#fff" stroke="#666" stroke-width="0.3" paint-order="stroke">0</text>
<text x="-48.8" y="0.9" text-anchor="middle" fill="#fff" stroke="#666" stroke-width="0.3" paint-order="stroke">-30</text>
<text x="-28.8" y="2.8" text-anchor="middle" fill="#fff" stroke="#666" stroke-width="0.3" paint-order="stroke">-60</text>
<text x="-8.7" y="3.8" text-anchor="middle" fill="#fff" stroke="#666" stroke-width="0.3" paint-order="stroke">-90</text>
<text x="11.3" y="3.8" text-anchor="middle" fill="#fff" stroke="#666" stroke-width="0.3" paint-order="stroke">-120</text>
<text x="31.3" y="2.7" text-anchor="middle" fill="#fff" stroke="#666" stroke-width="0.3" paint-order="stroke">-150</text>
<text x="51.3" y="0.8" text-anchor="middle" fill="#fff" stroke="#666" stroke-width="0.3" paint-order="stroke">180</text>
<text x="71.2" y="-1.3" text-anchor="middle" fill="#fff" stroke="#666" stroke-width="0.3" paint-order="stroke">150</text>
<text x="91.1" y="-3.2" text-anchor="middle" fill="#fff" stroke="#666" stroke-width="0.3" paint-order="stroke">120</text>
<text x="111" y="-4.2" text-anchor="middle" fill="#fff" stroke="#666" stroke-width="0.3" paint-order="stroke">90</text>
<text x="-39.8" y="-47.3" text-anchor="middle" fill="#fff" stroke="#666" stroke-width="0.3" paint-order="stroke">60</text>
<text x="-60.6" y="-26.1" text-anchor="middle" fill="#fff" stroke="#666" stroke-width="0.3" paint-order="stroke">30</text>
<text x="-65" y="22.2" text-anchor="middle" fill="#fff" stroke="#666" stroke-width="0.3" paint-order="stroke">-30</text>
<text x="-49.1" y="43.8" text-anchor="middle" fill="#fff" stroke="#666" stroke-width="0.3" paint-order="stroke">-60</text>
<text x="0" y="-60.2" text-anchor="middle" fill="#fff" stroke="#666" stroke-width="0.3" paint-order="stroke">90</text>
<text x="-24" y="57.8" text-anchor="middle" fill="#fff" stroke="#666" stroke-width="0.3" paint-order="stroke">-90</text>
<circle cx="0.6" cy="-24.2" r="1" fill="#8b1a1a"/>
<text x="0.1" y="-26.2" text-anchor="start" fill="#8b1a1a">V1</text>
<circle cx="-2" cy="0" r="1" fill="#8b1a1a"/>
<text x="-3" y="-2.5" text-anchor="start" fill="#8b1a1a">Nose</text>
<circle cx="-20.4" cy="29" r="1" fill="#111"/>
<text x="-20.9" y="27.5" text-anchor="start" fill="#111">V2</text>
<circle cx="118" cy="0" r="1" fill="#8b1a1a"/>
<text x="118.2" y="-2" text-anchor="start" fill="#8b1a1a">Tail</text></g>
</g>
<text x="15.3" y="174.2" font-size="13.6" fill="#000" stroke="#000" stroke-width="0.2">0.7 keV</text>
<rect x="15" y="281.1" width="270" height="4.2" fill="url(#jet)"/>
<rect x="53.3" y="281.1" width="0.5" height="4.2" fill="#222" fill-opacity="0.3"/>
<rect x="91.9" y="281.1" width="0.5" height="4.2" fill="#222" fill-opacity="0.3"/>
<rect x="130.5" y="281.1" width="0.5" height="4.2" fill="#222" fill-opacity="0.3"/>
<rect x="169" y="281.1" width="0.5" height="4.2" fill="#222" fill-opacity="0.3"/>
<rect x="207.6" y="281.1" width="0.5" height="4.2" fill="#222" fill-opacity="0.3"/>
<rect x="246.2" y="281.1" width="0.5" height="4.2" fill="#222" fill-opacity="0.3"/>
<g font-size="8.4" fill="#7a1212" stroke="#7a1212" stroke-width="0.15"><text x="15" y="298.5" text-anchor="middle">0</text><text x="53.6" y="298.5" text-anchor="middle">50</text><text x="92.1" y="298.5" text-anchor="middle">100</text><text x="130.7" y="298.5" text-anchor="middle">150</text><text x="169.3" y="298.5" text-anchor="middle">200</text><text x="207.9" y="298.5" text-anchor="middle">250</text><text x="246.4" y="298.5" text-anchor="middle">300</text><text x="285" y="298.5" text-anchor="middle">350</text></g>
<g transform="translate(450 217.5)">
<ellipse cx="0" cy="0" rx="120.0" ry="60.0" fill="#1b1b1b"/>
<g clip-path="url(#el)"><g transform="scale(0.1)" stroke-width="6" stroke-linejoin="round">
<path fill="#0005ff" stroke="#0005ff" d="M680 -494l-22 0-34-12-36-11-37-11 19 0 38 11 37 11zM658 -494l-23 0-33-12-34-11-36-11 19 0 37 11 36 11zM-551 -528l-19 0 41-11 43-10 46-9 15 0-45 9-41 10zM-352 -558l-15 0 41-9 44-9 49-7 9 0-47 7-42 9zM-367 -558l-14 0 42-9 46-9 50-7 10 0-49 7-44 9z"/>
<path fill="#0000f0" stroke="#0000f0" d="M635 -494l-23 0-31-12-33-11-35-11 19 0 36 11 34 11zM-249 -494l-23 0 14-12 15-11 15-11 19 0-14 11-14 11zM-381 -558l-15 0 44-9 48-9 52-7 9 0-50 7-46 9z"/>
<path fill="#0000db" stroke="#0000db" d="M-227 -494l-22 0 12-12 14-11 14-11 19 0-13 11-12 11zM-209 -528l-19 0 16-11 18-10 18-9 15 0-17 9-16 10zM-205 -558l-15 0 24-9 27-9 29-7 9 0-27 7-25 9zM-220 -558l-15 0 26-9 29-9 31-7 9 0-29 7-27 9zM-235 -558l-14 0 27-9 30-9 33-7 10 0-31 7-29 9zM-249 -558l-15 0 29-9 32-9 35-7 9 0-33 7-30 9zM-264 -558l-15 0 31-9 34-9 37-7 9 0-35 7-32 9z"/>
<path fill="#000fff" stroke="#000fff" d="M-272 -494l-23 0 15-12 16-11 17-11 19 0-15 11-15 11zM-266 -528l-19 0 20-11 22-10 23-9 15 0-22 9-20 10z"/>
<path fill="#0024ff" stroke="#0024ff" d="M-295 -494l-23 0 17-12 17-11 18-11 19 0-17 11-16 11zM-285 -528l-19 0 22-11 23-10 24-9 15 0-23 9-22 10zM-304 -528l-19 0 23-11 25-10 26-9 14 0-24 9-23 10z"/>
<path fill="#004dff" stroke="#004dff" d="M-318 -494l-22 0 17-12 19-11 19-11 19 0-18 11-17 11zM-279 -558l-14 0 32-9 36-9 38-7 10 0-37 7-34 9zM-293 -558l-15 0 34-9 37-9 41-7 9 0-38 7-36 9z"/>
<path fill="#008aff" stroke="#008aff" d="M-340 -494l-23 0 19-12 19-11 21-11 19 0-19 11-19 11zM-590 -494l-22 0 31-12 33-11 35-11 19 0-33 11-32 11z"/>
<path fill="#0094ff" stroke="#0094ff" d="M-363 -494l-23 0 20-12 21-11 22-11 19 0-21 11-19 11z"/>
<path fill="#009eff" stroke="#009eff" d="M-386 -494l-22 0 21-12 22-11 23-11 19 0-22 11-21 11z"/>
<path fill="#00b2ff" stroke="#00b2ff" d="M-408 -494l-23 0 22-12 24-11 24-11 19 0-23 11-22 11zM-431 -494l-23 0 24-12 24-11 26-11 19 0-24 11-24 11z"/>
<path fill="#0080ff" stroke="#0080ff" d="M-454 -494l-22 0 24-12 26-11 27-11 19 0-26 11-24 11zM-476 -494l-23 0 26-12 27-11 28-11 19 0-27 11-26 11zM-544 -494l-23 0 29-12 31-11 32-11 19 0-31 11-29 11zM-567 -494l-23 0 31-12 32-11 33-11 19 0-32 11-31 11zM-437 -528l-19 0 33-11 34-10 37-9 15 0-36 9-33 10z"/>
<path fill="#0075ff" stroke="#0075ff" d="M-499 -494l-23 0 27-12 29-11 29-11 19 0-28 11-27 11zM-612 -494l-23 0 33-12 34-11 36-11 19 0-35 11-33 11z"/>
<path fill="#006bff" stroke="#006bff" d="M-522 -494l-22 0 28-12 29-11 31-11 19 0-29 11-29 11zM-456 -528l-19 0 34-11 36-10 38-9 15 0-37 9-34 10z"/>
<path fill="#0061ff" stroke="#0061ff" d="M-635 -494l-23 0 34-12 36-11 37-11 19 0-36 11-34 11z"/>
<path fill="#002eff" stroke="#002eff" d="M-658 -494l-22 0 35-12 37-11 38-11 19 0-37 11-36 11zM-532 -528l-19 0 40-11 41-10 45-9 14 0-43 9-40 10zM-308 -558l-15 0 36-9 39-9 43-7 9 0-41 7-37 9zM-323 -558l-14 0 37-9 41-9 44-7 10 0-43 7-39 9z"/>
<path fill="#0000e6" stroke="#0000e6" d="M570 -528l-19 0-40-11-41-10-45-9 15 0 46 9 43 10zM551 -528l-19 0-38-11-40-10-43-9 14 0 45 9 41 10zM-228 -528l-19 0 18-11 18-10 20-9 15 0-18 9-18 10zM-396 -558l-15 0 46-9 49-9 55-7 9 0-52 7-48 9zM-411 -558l-14 0 47-9 51-9 56-7 10 0-55 7-49 9z"/>
<path fill="#0000fa" stroke="#0000fa" d="M-247 -528l-19 0 19-11 20-10 22-9 14 0-20 9-18 10z"/>
<path fill="#0038ff" stroke="#0038ff" d="M-323 -528l-19 0 25-11 25-10 28-9 15 0-26 9-25 10zM-342 -528l-19 0 26-11 27-10 29-9 15 0-28 9-25 10z"/>
<path fill="#0057ff" stroke="#0057ff" d="M-361 -528l-19 0 27-11 29-10 31-9 14 0-29 9-27 10zM-475 -528l-19 0 36-11 37-10 40-9 14 0-38 9-36 10z"/>
<path fill="#00bdff" stroke="#00bdff" d="M-380 -528l-19 0 29-11 30-10 32-9 15 0-31 9-29 10z"/>
<path fill="#00a8ff" stroke="#00a8ff" d="M-399 -528l-19 0 30-11 32-10 33-9 15 0-32 9-30 10zM-418 -528l-19 0 31-11 33-10 36-9 14 0-33 9-32 10z"/>
<path fill="#0042ff" stroke="#0042ff" d="M-494 -528l-19 0 37-11 39-10 41-9 15 0-40 9-37 10zM-513 -528l-19 0 38-11 40-10 43-9 15 0-41 9-39 10z"/>
<path fill="#0000d1" stroke="#0000d1" d="M-191 -558l-14 0 22-9 25-9 27-7 10 0-26 7-22 9z"/>
<path fill="#001aff" stroke="#001aff" d="M-337 -558l-15 0 39-9 42-9 47-7 9 0-44 7-41 9z"/>
<path fill="#0000d1" stroke="#0000d1" d="M359 428l-32 3 24-40 33-4zM-40 451l-30-1-6-40 33 1zM738 131l-40 4 8-48 39-4zM105 186l-40 1 1-49 40-1zM385 120l-39 3 1-49 41-3zM-13 90l-40 0 0-49 40 0zM-294 79l-40-3 0-50 40 4zM-93 -9l-40-2 2-49 39 1zM-371 -26l-39-4 6-49 39 4zM-170 -62l-39-2 4-49 39 2zM762 -267l-35 4-37-46 33-3zM-923 -369l-11-1 23-14 11 0zM-900 -384l-11 0 23-14 11 0zM-877 -398l-11 0 25-13 11 0zM945 -370l-11 0-23-14 12 0zM923 -384l-12 0-23-14 11 0zM899 -398l-11 0-25-13 11 0zM-701 -405l-10-1-9 0-10-1 22-13 24-14 24-13 9 1 9 0 8 1-23 13-23 14zM-730 -407l-10-1-10 0-10-1 24-13 24-13 25-13 9 0 9 1 9 0-24 13-24 14zM-202 -561l-2-1-3-1-2-1 34-8 36-6 37-6 0 1 1 0 0 1-35 6-34 7z"/>
<path fill="#0000e6" stroke="#0000e6" d="M327 431l-31 3 21-40 34-3zM296 434l-31 3 19-40 33-3zM20 451l-30 0-1-40 33 0zM-76 410l-32-1-7-42 35 1zM513 333l-36 4 21-44 38-4zM-115 367l-34-1-7-44 36 2zM573 285l-37 4 18-46 38-4zM-156 322l-37-2-7-45 38 2zM-249 179l-40-3-3-49 40 3zM745 83l-39 4 2-49 40-4zM466 112l-41 4 3-49 40-4zM-372 121l-40-4-2-49 40 4zM-412 117l-40-4-2-49 40 4zM628 46l-40 5-1-50 40-4zM-93 89l-41-1 0-49 41 1zM825 -23l-39 4-8-49 39-4zM-134 39l-40-2 2-49 39 1zM856 -76l-39 4-14-49 39-3zM739 -64l-40 4-11-49 38-4zM-404 -79l-39-4 10-48 38 3zM925 -325l-12 1-11 0-12 0-17-14-19-15-20-14 11-1 11 0 11 0 20 14 20 14zM-549 -293l-33-4 36-44 30 4zM-576 -345l-31-3 47-43 27 4zM934 -370l-11 1-12 0-11 0-22-14-23-14-24-14 11 0 10 0 11 0 25 13 23 14zM771 -364l-11 1-10 1-11 1-18-15-19-14-20-13 9-1 10-1 10-1 21 14 20 14zM-760 -409l-10 0-10-1-10 0 24-13 25-14 27-13 9 1 9 0 9 1-25 13-24 13zM-272 -443l-22-3 42-37 19 2zM581 -523l-8 0-8 1-7 0-38-11-41-10-42-10 6 0 7 0 6 0 44 9 42 11zM-430 -553l-7 0-6 0-7 0 47-10 50-8 54-9 5 1 5 0 5 0-53 8-48 9zM-247 -525l-5-1-5-1-4-1 24-10 25-10 26-9 3 1 3 1 3 1-25 9-23 9z"/>
<path fill="#0000fa" stroke="#0000fa" d="M265 437l-32 3 17-40 34-3zM233 440l-31 3 15-40 33-3zM202 443l-30 2 12-40 33-2zM172 445l-31 2 11-40 32-2zM111 448l-31 2 6-40 33-1zM384 387l-33 4 20-43 35-3zM477 337l-35 4 19-44 37-4zM698 135l-40 5 8-49 40-4zM223 180l-40 2 3-48 40-2zM-53 139l-40-1 0-49 40 1zM-252 130l-40-3-2-48 40 3zM-53 41l-40-1 0-49 40 0zM897 -179l-38 3-28-47 37-3zM-433 -131l-38-4 14-49 37 4zM904 -228l-36 2-36-46 35-3zM902 -277l-11 1-12 0-12 1-14-15-15-15-15-15 11-1 11 0 11-1 17 15 15 15zM797 -270l-35 3-39-45 33-3zM-509 -239l-34-4 27-46 32 4zM-588 -394l-28-3 59-40 25 3zM-280 -401l-26-3 34-39 23 2zM-261 -528l-5-1-4-1-4-1 25-10 27-9 28-9 3 1 2 1 3 0-26 9-25 10z"/>
<path fill="#0000f0" stroke="#0000f0" d="M141 447l-30 1 8-39 33-2zM-200 275l-37-3-7-46 39 2zM26 187l-39 0 0-48 40 0zM788 30l-40 4-2-49 40-4zM706 -11l-40 4-6-49 39-4zM-294 30l-40-4 3-49 40 3zM27 -8l-40 0 0-50 39 0zM880 -127l-38 3-21-49 38-3zM765 -117l-39 4-17-49 37-4zM-52 -58l-40-1 2-49 39 1zM-205 -113l-38-2 7-48 37 2zM758 -217l-36 4-29-47 34-3zM-227 -211l-36-3 13-46 33 2zM789 -318l-33 3-48-44 31-2zM900 -369l-11 0-11 0-11 1-21-15-23-14-23-13 10-1 11 0 10 0 24 14 23 14zM-790 -410l-10 0-10-1-11 0 25-13 26-14 28-12 9 0 10 0 9 0-27 13-25 14zM770 -409l-10 0-10 1-10 0-23-13-23-13-25-13 9-1 9 0 9-1 26 13 24 13zM723 -450l-9 0-9 1-9 0-27-13-28-12-30-12 8-1 9 0 8 0 30 12 30 12zM662 -488l-9 0-9 0-8 1-32-12-33-12-35-11 7 0 7 0 8 0 36 11 35 11zM-271 -486l-6-1-7-1-6-1 18-12 19-11 20-11 4 1 5 1 5 1-18 11-18 11zM-413 -552l-5 0-6-1-6 0 45-9 48-9 53-8 4 0 4 0 4 1-50 8-47 8z"/>
<path fill="#0005ff" stroke="#0005ff" d="M80 450l-30 0 4-39 32-1zM50 450l-30 1 2-40 32 0zM-43 411l-33-1-4-42 34 1zM302 175l-40 3 4-49 40-3zM262 178l-39 2 3-48 40-3zM748 34l-40 4-2-49 40-4zM668 42l-40 4-1-49 39-4zM746 -15l-40 4-7-49 40-4zM-13 41l-40 0 0-50 40 1zM-172 -12l-40-2 3-50 39 2zM559 -145l-38 4-16-48 37-4zM-457 -184l-36-4 19-47 35 4zM890 -324l-11 1-11 0-12 1-17-15-18-14-19-15 11 0 11-1 10 0 20 14 19 15zM-546 -341l-30-4 43-42 28 3zM802 -366l-10 1-11 1-10 0-19-14-20-14-21-14 9 0 10-1 10-1 22 14 20 14zM-821 -411l-10 0-11 0-10 0 26-14 26-13 29-13 9 0 10 0 10 1-28 12-26 14zM800 -410l-10 0-10 0-10 1-24-14-24-13-26-13 9 0 9-1 9 0 27 13 26 13zM688 -488l-9 0-9 0-8 0-33-12-35-11-36-11 7 0 8-1 8 0 38 11 35 12zM-573 -523l-8 0 39-10 8 0zM-534 -533l-8 0 42-11 7 0zM-493 -544l-7 0 44-9 6 0zM589 -523l-8 0-39-10 8 0zM550 -533l-8 0-42-11 8 0zM508 -544l-8 0-44-9 7 0zM-396 -551l-5 0-6-1-6 0 44-10 47-8 50-8 4 0 3 0 4 1-49 8-44 9z"/>
<path fill="#0000db" stroke="#0000db" d="M-10 451l-30 0-3-40 32 0zM418 384l-34 3 22-42 36-4zM631 235l-39 4 16-47 39-4zM686 184l-39 4 11-48 40-5zM-244 226l-39-3-6-47 40 3zM183 182l-39 2 2-48 40-2zM65 187l-39 0 1-48 39-1zM425 116l-40 4 3-49 40-4zM-13 139l-40 0 0-49 40 0zM-53 90l-40-1 0-49 40 1zM27 41l-40 0 0-49 40 0zM-93 40l-41-1 1-50 40 2zM26 -58l-39 0 0-49 39 0zM746 -166l-37 4-23-47 36-4zM596 -149l-37 4-17-48 36-4zM-471 -135l-38-5 16-48 36 4zM941 -230l-37 2-37-47 35-2zM-493 -188l-36-4 20-47 35 4zM938 -278l-12 0-12 1-12 0-14-15-15-15-17-15 12-1 11 0 11-1 17 15 16 15zM-543 -243l-35-4 29-46 33 4zM-607 -348l-30-4 49-42 28 3zM-236 -306l-32-3 19-44 30 3zM-616 -397l-28-3 62-40 25 3zM740 -408l-10 1-10 1-9 0-22-13-23-13-24-14 9 0 9-1 9 0 25 13 23 13zM-249 -353l-29-3 25-42 26 3zM-253 -398l-27-3 31-40 23 3zM-252 -483l-7-1-6-1-6-1 16-12 18-11 18-11 5 1 5 1 5 1-17 11-16 11zM-233 -523l-5-1-5 0-4-1 22-11 23-9 25-9 3 0 3 1 3 1-23 9-22 10zM-209 -564l-3-1-2 0-2-1 36-8 38-6 40-6 0 1 0 1-37 6-36 6zM-216 -566l-3-1-2-1-2 0 38-8 41-6 42-5 0 1-40 6-38 6zM-223 -568l-2-1-3-1-2-1 41-7 44-6 45-5-1 0 0 1-1 1-42 5-41 6zM-230 -571l-2 0-3-1-2-1 44-7 47-6 48-5-1 1-1 0 0 1-45 5-44 6zM-237 -573l-2 0-3-1-2 0 47-8 50-6 52-4-1 0-1 1-1 0-48 5-47 6z"/>
<path fill="#0024ff" stroke="#0024ff" d="M351 391l-34 3 18-42 36-4zM-11 411l-32 0-3-42 35 1zM442 341l-36 4 18-45 37-3zM-120 324l-36-2-6-45 37 1zM-205 228l-39-2-5-47 39 2zM-93 138l-40-1-1-49 41 1zM-254 82l-40-3 0-49 40 2zM-13 -8l-40-1 1-49 39 0zM803 -121l-38 4-19-49 38-3zM784 -169l-38 3-24-47 36-4zM868 -226l-37 3-34-47 35-2zM831 -223l-36 3-33-47 35-3zM-474 -235l-35-4 25-46 33 4zM-516 -337l-30-4 41-43 28 4zM863 -411l-11 0-10 0-11 0-25-13-26-14-28-13 10 0 9 0 10 0 29 13 27 13zM-634 -445l-8-1-9 0-9-1 26-13 26-12 28-12 8 0 8 1 7 1-26 12-26 12zM-306 -404l-26-3 38-39 22 3zM-308 -492l-6-1-6-1-6-1 21-12 21-11 23-10 4 1 5 1 5 1-22 10-20 11zM-288 -534l-4-1-4-1-5 0 29-10 31-9 32-9 2 1 3 1 2 1-30 8-28 9z"/>
<path fill="#0038ff" stroke="#0038ff" d="M317 394l-33 3 16-42 35-3zM-162 277l-38-2-5-47 38 2zM-291 -20l-40-3 5-49 39 3zM821 -173l-37 4-26-48 37-3zM-395 -128l-38-3 13-49 37 4zM-557 -437l-9-1-8-1-8-1 22-13 24-12 24-13 7 1 7 1 8 1-24 12-22 13zM-301 -536l-4-1-4-1-4-1 30-10 33-9 34-8 2 1 2 0 3 1-32 9-31 9zM-313 -539l-5-1-4-1-4-1 32-9 34-9 37-8 2 0 2 1 3 1-34 8-33 9z"/>
<path fill="#006bff" stroke="#006bff" d="M284 397l-34 3 15-42 35-3zM217 403l-33 2 11-42 35-2zM498 293l-37 4 17-46 38-4zM460 160l-40 4 5-48 41-4zM-212 133l-40-3-2-48 40 2zM-326 -72l-39-3 8-49 38 3zM-284 -263l-34-3 19-46 31 3zM-557 -482l-7-1-8-1-8 0 30-12 30-12 32-11 7 1 6 0 7 1-31 11-30 12zM-488 -519l-6 0-7-1-7 0 36-11 37-10 39-10 5 0 5 1 5 0-37 10-36 11z"/>
<path fill="#0075ff" stroke="#0075ff" d="M250 400l-33 3 13-42 35-3zM54 411l-32 0 1-42 34 0zM-84 325l-36-1-5-46 38 2zM-133 137l-40-2-1-49 40 2zM-248 -66l-39-3 6-49 38 3zM-299 -312l-32-3 24-44 29 3zM-332 -407l-25-3 40-40 23 4zM-534 -480l-8-1-7-1-8 0 28-12 30-12 31-11 6 1 6 0 6 1-29 11-28 12zM-628 -487l-8 0-8-1-9 0 33-12 34-11 36-11 7 0 7 0 8 1-35 11-33 11z"/>
<path fill="#0057ff" stroke="#0057ff" d="M184 405l-32 2 9-42 34-2zM-52 187l-40-1-1-48 40 1zM-263 -214l-35-3 14-46 34 3zM-439 -231l-35-4 23-46 33 4zM-307 -359l-29-3 30-42 26 3zM-508 -520l-6-1-7 0-7 0 36-11 39-10 40-10 6 0 6 1 5 0-39 10-37 10zM-326 -542l-5 0-4-1-4-1 34-9 36-9 39-9 2 1 3 1 2 1-37 8-34 9z"/>
<path fill="#004dff" stroke="#004dff" d="M152 407l-33 2 7-42 35-2zM22 411l-33 0 0-41 34-1zM64 234l-38 0 0-47 39 0zM420 164l-39 4 4-48 40-4zM-210 181l-39-2-3-49 40 3zM-212 -14l-40-3 4-49 39 2zM-243 -115l-38-3 8-48 37 3zM-420 -180l-37-4 18-47 35 4zM-687 -448l-9-1-9 0-9-1 27-12 29-13 30-12 9 0 8 1 8 0-29 12-28 13zM-742 -450l-10-1-10 0-9 0 29-13 31-12 32-12 9 0 8 0 9 0-31 12-30 13zM-326 -495l-6-1-6-1-6-2 22-11 23-11 25-10 4 1 4 1 5 1-23 10-21 11zM-339 -544l-5-1-4 0-5-1 37-9 38-9 41-9 2 1 3 1 2 0-39 9-36 9zM-353 -546l-4-1-5 0-4-1 38-9 40-9 44-8 2 0 3 1 2 0-41 9-38 9z"/>
<path fill="#0080ff" stroke="#0080ff" d="M119 409l-33 1 6-42 34-1zM554 243l-38 4 14-47 39-4zM608 192l-39 4 10-48 40-4zM218 228l-38 2 3-48 40-2zM26 234l-39 1 0-48 39 0zM-505 -384l-28-3 50-41 25 4zM-507 -431l-25-3 63-38 22 3zM-490 -475l-8-1-7-1-7-1 25-12 27-11 28-12 6 1 6 1 6 1-27 11-25 12zM-512 -478l-7-1-8 0-7-1 27-12 28-12 29-11 6 1 6 1 6 0-28 12-27 11zM-580 -484l-7-1-8 0-8-1 30-12 32-11 33-11 7 0 7 1 6 0-32 11-30 12zM-468 -517l-7-1-6 0-7-1 34-10 36-11 37-10 5 1 5 0 5 1-36 10-34 10z"/>
<path fill="#0094ff" stroke="#0094ff" d="M86 410l-32 1 3-42 35-1zM-11 370l-35-1-2-43 36 0zM296 222l-39 3 5-47 40-3zM-357 -124l-38-4 12-48 36 4zM-336 -362l-28-3 32-42 26 3zM-469 -472l-7-1-7-1-7-1 24-12 25-12 27-11 6 1 6 1 6 1-26 11-24 12zM-361 -502l-6-1-6-1-6 0 25-12 26-10 27-10 5 0 4 1 4 1-25 11-25 10z"/>
<path fill="#0061ff" stroke="#0061ff" d="M406 345l-35 3 17-44 36-4zM-46 369l-34-1-4-43 36 1zM-174 86l-40-2 0-49 40 2zM-214 84l-40-2 0-50 40 3zM-214 35l-40-3 2-49 40 3zM-252 -17l-39-3 4-49 39 3zM-485 -333l-31-4 39-43 28 4zM-532 -434l-9-1-8-1-8-1 21-13 22-13 24-12 7 1 7 1 7 1-22 12-21 13zM-653 -488l-9 0-8 0-9 0 33-12 36-11 37-12 8 1 7 0 8 0-36 11-34 11zM-339 -453l-22-3 53-36 18 3z"/>
<path fill="#00a8ff" stroke="#00a8ff" d="M371 348l-36 4 16-44 37-4zM579 148l-40 4 7-48 40-5zM-483 -428l-24-3 60-38 21 3zM-357 -410l-26-4 44-39 22 3zM-450 -515l-6-1-6 0-6-1 32-11 34-10 36-10 4 1 5 0 4 1-34 10-32 10z"/>
<path fill="#00dbff" stroke="#00dbff" d="M335 352l-35 3 14-44 37-3zM373 216l-38 3 6-48 40-3zM-131 185l-39-2-3-48 40 2zM-319 -121l-38-3 10-48 37 3zM-418 -277l-33-4 27-45 31 4zM-404 -463l-8-1-7-1-7-1 21-12 21-12 23-12 5 1 6 1 6 1-21 12-20 12z"/>
<path fill="#38ffc7" stroke="#38ffc7" d="M300 355l-35 3 12-44 37-3zM265 358l-35 3 11-44 36-3zM-12 281l-38 0-1-47 38 1zM530 200l-40 4 10-48 39-4zM490 204l-39 4 9-48 40-4z"/>
<path fill="#2effd1" stroke="#2effd1" d="M230 361l-35 2 10-44 36-2zM-12 326l-36 0-2-45 38 0zM25 281l-37 0-1-46 39-1zM-50 281l-37-1-3-47 39 1z"/>
<path fill="#24ffdb" stroke="#24ffdb" d="M195 363l-34 2 7-44 37-2zM161 365l-35 2 6-44 36-2zM-90 233l-38-1-3-47 39 1zM-334 -220l-35-3 18-47 33 4z"/>
<path fill="#75ff8a" stroke="#75ff8a" d="M126 367l-34 1 4-44 36-1zM92 368l-35 1 3-44 36-1zM24 326l-36 0 0-45 37 0z"/>
<path fill="#42ffbd" stroke="#42ffbd" d="M57 369l-34 0 1-43 36-1z"/>
<path fill="#00faff" stroke="#00faff" d="M23 369l-34 1-1-44 36 0zM100 279l-38 1 2-46 39-1zM-310 -169l-37-3 13-48 36 3zM-347 -172l-36-4 14-47 35 3zM-408 -417l-25-4 50-38 22 3z"/>
<path fill="#001aff" stroke="#001aff" d="M-80 368l-35-1-5-43 36 1zM536 289l-38 4 18-46 38-4zM592 239l-38 4 15-47 39-4zM647 188l-39 4 11-48 39-4zM141 232l-38 1 2-47 39-2zM-13 187l-39 0-1-48 40 0zM546 104l-40 4 2-49 40-4zM-134 88l-40-2 0-49 40 2zM-209 -64l-39-2 5-49 38 2zM-365 -75l-39-4 9-49 38 4zM795 -220l-37 3-31-46 35-4zM-236 -163l-37-3 10-48 36 3zM867 -275l-35 3-43-46 34-2zM832 -272l-35 2-41-45 33-3zM856 -322l-11 1-11 0-11 1-17-15-17-14-18-15 10 0 11-1 10-1 19 15 18 14zM823 -320l-34 2-50-43 32-3zM-268 -309l-31-3 21-44 29 3zM-560 -391l-28-3 56-40 25 3zM-852 -411l-11 0 26-14 11 0zM-826 -425l-11 0 27-13 10 0zM-800 -438l-10 0 29-13 10 0zM874 -411l-11 0-26-14 10 0zM847 -425l-10 0-27-13 10 0zM820 -438l-10 0-29-13 10 0zM-582 -440l-9-1-8-1-9-1 24-12 24-13 26-12 7 1 8 0 7 1-24 13-24 12zM-608 -443l-8 0-9-1-9-1 25-13 26-12 26-12 8 0 7 1 8 1-26 12-24 13zM-381 -550l-5 0-5-1-5 0 42-9 44-9 49-8 3 0 3 1 3 0-46 8-43 9z"/>
<path fill="#00b2ff" stroke="#00b2ff" d="M461 297l-37 3 16-45 38-4zM-13 235l-38-1-1-47 39 0zM-92 186l-39-1-2-48 40 1zM-383 -176l-37-4 16-47 35 4zM-477 -380l-28-4 47-40 25 3zM-383 -459l-21-4 60-36 18 4zM-396 -507l-6-1-6-1-6-1 28-11 29-10 31-11 4 1 4 1 5 1-29 10-28 11zM-414 -510l-6-1-6-1-6-1 30-10 30-11 33-10 4 1 4 1 5 0-31 11-29 10z"/>
<path fill="#0ffff0" stroke="#0ffff0" d="M424 300l-36 4 13-45 39-4zM175 276l-38 2 4-46 39-2zM62 280l-37 1 1-47 38 0zM-351 -270l-34-3 23-45 31 3z"/>
<path fill="#6bff94" stroke="#6bff94" d="M388 304l-37 4 12-46 38-3zM212 274l-37 2 5-46 38-2z"/>
<path fill="#a8ff57" stroke="#a8ff57" d="M351 308l-37 3 12-45 37-4zM168 321l-36 2 5-45 38-2zM326 266l-38 3 8-47 39-3z"/>
<path fill="#faff05" stroke="#faff05" d="M314 311l-37 3 11-45 38-3z"/>
<path fill="#dbff24" stroke="#dbff24" d="M277 314l-36 3 9-45 38-3z"/>
<path fill="#f0ff0f" stroke="#f0ff0f" d="M241 317l-36 2 7-45 38-2z"/>
<path fill="#e5ff1a" stroke="#e5ff1a" d="M205 319l-37 2 7-45 37-2z"/>
<path fill="#bdff42" stroke="#bdff42" d="M132 323l-36 1 4-45 37-1z"/>
<path fill="#b3ff4c" stroke="#b3ff4c" d="M96 324l-36 1 2-45 38-1zM363 262l-37 4 9-47 38-3z"/>
<path fill="#8aff75" stroke="#8aff75" d="M60 325l-36 1 1-45 37-1z"/>
<path fill="#00f0ff" stroke="#00f0ff" d="M-48 326l-36-1-3-45 37 1zM412 212l-39 4 8-48 39-4zM-51 234l-39-1-2-47 40 1zM-364 -365l-29-4 36-41 25 3zM-449 -376l-28-4 44-41 25 4z"/>
<path fill="#05fffa" stroke="#05fffa" d="M516 247l-38 4 12-47 40-4zM451 208l-39 4 8-48 40-4zM-393 -322l-31-4 31-43 29 4zM-393 -369l-28-3 38-42 26 4zM-421 -372l-28-4 41-41 25 3z"/>
<path fill="#61ff9e" stroke="#61ff9e" d="M478 251l-38 4 11-47 39-4z"/>
<path fill="#94ff6b" stroke="#94ff6b" d="M440 255l-39 4 11-47 39-4z"/>
<path fill="#9eff61" stroke="#9eff61" d="M401 259l-38 3 10-46 39-4z"/>
<path fill="#57ffa8" stroke="#57ffa8" d="M288 269l-38 3 7-47 39-3z"/>
<path fill="#4dffb2" stroke="#4dffb2" d="M250 272l-38 2 6-46 39-3z"/>
<path fill="#00e5ff" stroke="#00e5ff" d="M137 278l-37 1 3-46 38-1zM-87 280l-38-2-3-46 38 1zM-331 -315l-31-3 26-44 29 3zM-383 -414l-25-3 47-39 22 3zM-433 -421l-25-3 54-39 21 4z"/>
<path fill="#008aff" stroke="#008aff" d="M-125 278l-37-1-5-47 39 2zM257 225l-39 3 5-48 39-2zM-167 230l-38-2-5-47 40 2zM-451 -281l-33-4 30-44 30 3zM-603 -486l-8 0-8-1-9 0 32-12 33-11 35-11 7 0 7 0 6 1-33 11-32 11zM-361 -456l-22-3 57-36 18 3zM-344 -499l-6-1-6-1-5-1 23-11 25-10 25-11 5 1 4 1 5 1-25 10-23 11z"/>
<path fill="#00d1ff" stroke="#00d1ff" d="M569 196l-39 4 9-48 40-4zM-128 232l-39-2-3-47 39 2zM-318 -266l-33-4 20-45 32 3zM-424 -326l-30-3 33-43 28 3z"/>
<path fill="#00bdff" stroke="#00bdff" d="M335 219l-39 3 6-47 39-4zM539 152l-39 4 6-48 40-4zM-170 183l-40-2-2-48 39 2zM-404 -227l-35-4 21-46 33 4zM-458 -424l-25-4 57-38 22 3zM-432 -513l-6 0-6-1-6-1 31-11 32-10 34-10 5 1 4 0 5 1-33 10-30 11z"/>
<path fill="#0042ff" stroke="#0042ff" d="M180 230l-39 2 3-48 39-2zM658 140l-39 4 7-49 40-4zM666 91l-40 4 2-49 40-4zM626 95l-40 4 2-48 40-5zM-254 32l-40-2 3-50 39 3zM-484 -285l-32-4 31-44 31 4zM-533 -387l-27-4 53-40 24 3zM-714 -450l-9 0-10 0-9 0 28-13 30-13 31-12 9 0 8 1 8 0-30 12-29 13zM-771 -451l-10 0 29-13 10 0zM-742 -464l-10 0 31-12 10 0zM-711 -476l-10 0 33-12 9 0zM791 -451l-10 0-29-13 9 0zM761 -464l-9 0-31-12 9 0zM730 -476l-9 0-33-12 9 0zM-528 -521l-8-1-7 0-7 0 38-11 39-10 43-10 6 0 6 1 5 0-40 10-39 10z"/>
<path fill="#002eff" stroke="#002eff" d="M103 233l-39 1 1-47 40-1zM381 168l-40 3 5-48 39-3zM586 99l-40 5 2-49 40-4zM-174 37l-40-2 2-49 40 2zM859 -176l-38 3-26-47 36-3zM-660 -447l-9 0-9-1-9 0 27-13 28-13 29-12 8 1 8 0 7 1-28 12-26 12zM781 -451l-10 0-9 0-10 0-29-12-30-13-31-12 8 0 9 0 9 0 33 12 31 12zM-679 -488l-9 0 34-12 8 0zM-646 -500l-8 0 35-12 9 1zM-610 -511l-9-1 38-11 8 0zM697 -488l-9 0-34-12 9 0zM663 -500l-9 0-35-12 8 0zM627 -512l-8 0-38-11 8 0zM-317 -450l-22-3 49-36 19 3zM-550 -522l-8 0-7 0-8-1 39-10 41-11 43-9 7 0 6 0 7 0-43 10-39 10zM-366 -548l-5-1-5 0-5-1 40-9 43-9 46-8 2 1 3 0 3 1-44 8-40 9z"/>
<path fill="#009eff" stroke="#009eff" d="M619 144l-40 4 7-49 40-4zM500 156l-40 4 6-48 40-4zM-173 135l-39-2-2-49 40 2zM-287 -69l-39-3 7-49 38 3zM-273 -166l-37-3 12-48 35 3zM-454 -329l-31-4 36-43 28 4zM-447 -469l-7-1-8-1-7-1 23-12 24-12 26-11 5 1 6 1 6 1-24 11-23 12zM-379 -504l-6-1-6-1-5-1 26-11 28-11 29-10 4 1 4 1 4 1-27 10-26 10z"/>
<path fill="#000fff" stroke="#000fff" d="M341 171l-39 4 4-49 40-3zM706 87l-40 4 2-49 40-4zM506 108l-40 4 2-49 40-4zM708 38l-40 4-2-49 40-4zM786 -19l-40 4-7-49 39-4zM817 -72l-39 4-13-49 38-4zM778 -68l-39 4-13-49 39-4zM-53 -9l-40 0 1-50 40 1zM-331 -23l-40-3 6-49 39 3zM842 -124l-39 3-19-48 37-4zM-13 -58l-39 0 1-49 38 0zM-250 -260l-34-3 16-46 32 3zM-516 -289l-33-4 33-44 31 4zM867 -368l-11 0-11 0-11 1-20-14-22-14-22-14 10-1 10 0 10 0 23 13 23 14zM834 -367l-10 0-11 1-11 0-20-14-20-14-22-14 10 0 10-1 10 0 22 14 22 14zM831 -411l-10 0-11 0-10 1-24-14-26-13-27-13 10 0 9 0 10-1 28 13 26 14zM-278 -356l-29-3 27-42 27 3zM752 -451l-10 1-9 0-10 0-27-13-30-12-30-12 8-1 9 0 9 0 31 12 30 13zM-294 -446l-23-4 46-36 19 3zM-290 -489l-6-1-6-1-6-1 19-12 20-11 22-10 4 1 5 0 5 1-20 11-19 11zM-274 -531l-5-1-4-1-5-1 28-10 28-9 30-8 3 0 2 1 3 1-28 9-27 9z"/>
<path fill="#00c7ff" stroke="#00c7ff" d="M-281 -118l-38-3 9-48 37 3zM-298 -217l-36-3 16-46 34 3zM-426 -466l-7-1-7-1-7-1 21-12 23-12 24-11 6 0 6 1 6 1-23 12-21 12z"/>
<path fill="#1affe5" stroke="#1affe5" d="M-369 -223l-35-4 19-46 34 3zM-385 -273l-33-4 25-45 31 4zM-362 -318l-31-4 29-43 28 3z"/>
</g></g>
<use href="#grid" fill="none" stroke="#d6d6d6" stroke-width="0.7" clip-path="url(#el)"/>
<g font-size="7.3"><text x="-108.5" y="-4.2" text-anchor="middle" fill="#fff" stroke="#666" stroke-width="0.3" paint-order="stroke">60</text>
<text x="-88.6" y="-3.1" text-anchor="middle" fill="#fff" stroke="#666" stroke-width="0.3" paint-order="stroke">30</text>
<text x="-68.7" y="-1.2" text-anchor="middle" fill="#fff" stroke="#666" stroke-width="0.3" paint-order="stroke">0</text>
<text x="-48.8" y="0.9" text-anchor="middle" fill="#fff" stroke="#666" stroke-width="0.3" paint-order="stroke">-30</text>
<text x="-28.8" y="2.8" text-anchor="middle" fill="#fff" stroke="#666" stroke-width="0.3" paint-order="stroke">-60</text>
<text x="-8.7" y="3.8" text-anchor="middle" fill="#fff" stroke="#666" stroke-width="0.3" paint-order="stroke">-90</text>
<text x="11.3" y="3.8" text-anchor="middle" fill="#fff" stroke="#666" stroke-width="0.3" paint-order="stroke">-120</text>
<text x="31.3" y="2.7" text-anchor="middle" fill="#fff" stroke="#666" stroke-width="0.3" paint-order="stroke">-150</text>
<text x="51.3" y="0.8" text-anchor="middle" fill="#fff" stroke="#666" stroke-width="0.3" paint-order="stroke">180</text>
<text x="71.2" y="-1.3" text-anchor="middle" fill="#fff" stroke="#666" stroke-width="0.3" paint-order="stroke">150</text>
<text x="91.1" y="-3.2" text-anchor="middle" fill="#fff" stroke="#666" stroke-width="0.3" paint-order="stroke">120</text>
<text x="111" y="-4.2" text-anchor="middle" fill="#fff" stroke="#666" stroke-width="0.3" paint-order="stroke">90</text>
<text x="-39.8" y="-47.3" text-anchor="middle" fill="#fff" stroke="#666" stroke-width="0.3" paint-order="stroke">60</text>
<text x="-60.6" y="-26.1" text-anchor="middle" fill="#fff" stroke="#666" stroke-width="0.3" paint-order="stroke">30</text>
<text x="-65" y="22.2" text-anchor="middle" fill="#fff" stroke="#666" stroke-width="0.3" paint-order="stroke">-30</text>
<text x="-49.1" y="43.8" text-anchor="middle" fill="#fff" stroke="#666" stroke-width="0.3" paint-order="stroke">-60</text>
<text x="0" y="-60.2" text-anchor="middle" fill="#fff" stroke="#666" stroke-width="0.3" paint-order="stroke">90</text>
<text x="-24" y="57.8" text-anchor="middle" fill="#fff" stroke="#666" stroke-width="0.3" paint-order="stroke">-90</text>
<circle cx="0.6" cy="-24.2" r="1" fill="#8b1a1a"/>
<text x="0.1" y="-26.2" text-anchor="start" fill="#8b1a1a">V1</text>
<circle cx="-2" cy="0" r="1" fill="#8b1a1a"/>
<text x="-3" y="-2.5" text-anchor="start" fill="#8b1a1a">Nose</text>
<circle cx="-20.4" cy="29" r="1" fill="#8b1a1a"/>
<text x="-20.9" y="27.5" text-anchor="start" fill="#8b1a1a">V2</text>
<circle cx="118" cy="0" r="1" fill="#8b1a1a"/>
<text x="118.2" y="-2" text-anchor="start" fill="#8b1a1a">Tail</text></g>
</g>
<text x="324.2" y="173.4" font-size="13.6" fill="#000" stroke="#000" stroke-width="0.2">1.1 keV</text>
<rect x="315" y="281.1" width="270" height="4.2" fill="url(#jet)"/>
<rect x="386.2" y="281.1" width="0.5" height="4.2" fill="#222" fill-opacity="0.3"/>
<rect x="457.6" y="281.1" width="0.5" height="4.2" fill="#222" fill-opacity="0.3"/>
<rect x="529" y="281.1" width="0.5" height="4.2" fill="#222" fill-opacity="0.3"/>
<g font-size="8.4" fill="#7a1212" stroke="#7a1212" stroke-width="0.15"><text x="315" y="298.5" text-anchor="middle">0</text><text x="386.4" y="298.5" text-anchor="middle">50</text><text x="457.9" y="298.5" text-anchor="middle">100</text><text x="529.3" y="298.5" text-anchor="middle">150</text></g>
<g transform="translate(150 367.5)">
<ellipse cx="0" cy="0" rx="120.0" ry="60.0" fill="#1b1b1b"/>
<g clip-path="url(#el)"><g transform="scale(0.1)" stroke-width="6" stroke-linejoin="round">
<path fill="#008aff" stroke="#008aff" d="M680 -494l-22 0-34-12-36-11-37-11 19 0 38 11 37 11zM658 -494l-23 0-33-12-34-11-36-11 19 0 37 11 36 11zM-658 -494l-22 0 35-12 37-11 38-11 19 0-37 11-36 11zM-381 -558l-15 0 44-9 48-9 52-7 9 0-50 7-46 9z"/>
<path fill="#006bff" stroke="#006bff" d="M635 -494l-23 0-31-12-33-11-35-11 19 0 36 11 34 11zM-152 -528l-19 0 12-11 13-10 14-9 15 0-13 9-11 10zM-147 -558l-14 0 18-9 19-9 21-7 10 0-20 7-17 9zM-264 -558l-15 0 31-9 34-9 37-7 9 0-35 7-32 9zM-149 -583l-10 0 38-7 44-6 77-4-72 4-42 6z"/>
<path fill="#0038ff" stroke="#0038ff" d="M612 -494l-22 0-31-12-32-11-33-11 19 0 35 11 33 11zM-68 -494l-23 0 5-12 5-11 5-11 19 0-4 11-4 11zM-57 -528l-19 0 5-11 6-10 6-9 15 0-5 9-4 10zM-76 -528l-19 0 7-11 7-10 8-9 14 0-6 9-6 10zM-95 -528l-19 0 8-11 9-10 9-9 15 0-8 9-7 10zM-114 -528l-19 0 10-11 10-10 10-9 15 0-9 9-9 10zM411 -558l-15 0-44-9-48-9-52-7 9 0 55 7 49 9zM396 -558l-15 0-42-9-46-9-50-7 9 0 52 7 48 9zM0 -583l-9 0 2-7 2-6 5-4 0 4 0 6zM-9 -583l-10 0 5-7 5-6 9-4-5 4-2 6zM-19 -583l-9 0 7-7 7-6 14-4-9 4-5 6zM-37 -583l-10 0 11-7 13-6 23-4-18 4-11 6zM-47 -583l-9 0 13-7 16-6 27-4-23 4-13 6zM-121 -583l-10 0 31-7 37-6 63-4-59 4-34 6zM-131 -583l-9 0 33-7 39-6 68-4-63 4-37 6zM-140 -583l-9 0 35-7 42-6 72-4-68 4-39 6z"/>
<path fill="#0005ff" stroke="#0005ff" d="M590 -494l-23 0-29-12-31-11-32-11 19 0 33 11 32 11zM91 -494l-23 0-3-12-4-11-4-11 19 0 5 11 5 11zM45 -494l-22 0-1-12-2-11-1-11 19 0 3 11 2 11zM342 -528l-19 0-23-11-25-10-26-9 15 0 28 9 25 10zM247 -528l-19 0-16-11-18-10-18-9 15 0 20 9 18 10zM228 -528l-19 0-15-11-16-10-17-9 15 0 18 9 18 10zM152 -528l-19 0-10-11-10-10-10-9 14 0 13 9 11 10zM133 -528l-19 0-8-11-9-10-9-9 15 0 10 9 10 10zM205 -558l-14 0-22-9-22-9-26-7 10 0 27 7 25 9zM191 -558l-15 0-20-9-21-9-23-7 9 0 26 7 22 9zM176 -558l-15 0-18-9-19-9-21-7 9 0 23 7 21 9zM132 -558l-15 0-13-9-14-9-15-7 9 0 17 7 16 9zM29 -558l-14 0-2-9-2-9-2-7 10 0 4 7 3 9z"/>
<path fill="#0000f0" stroke="#0000f0" d="M567 -494l-23 0-28-12-29-11-31-11 19 0 32 11 31 11zM136 -494l-23 0-5-12-7-11-6-11 19 0 8 11 7 11zM399 -528l-19 0-27-11-29-10-31-9 15 0 32 9 30 10zM304 -528l-19 0-20-11-22-10-23-9 15 0 24 9 23 10zM285 -528l-19 0-19-11-20-10-22-9 15 0 23 9 22 10zM209 -528l-19 0-14-11-14-10-15-9 14 0 17 9 16 10zM190 -528l-19 0-12-11-13-10-14-9 15 0 15 9 14 10z"/>
<path fill="#0000db" stroke="#0000db" d="M544 -494l-22 0-27-12-29-11-29-11 19 0 31 11 29 11zM522 -494l-23 0-26-12-27-11-28-11 19 0 29 11 29 11zM386 -494l-23 0-19-12-19-11-21-11 19 0 22 11 21 11zM340 -494l-22 0-17-12-17-11-18-11 19 0 19 11 19 11zM318 -494l-23 0-15-12-16-11-17-11 19 0 18 11 17 11zM295 -494l-23 0-14-12-15-11-15-11 19 0 17 11 16 11zM272 -494l-23 0-12-12-14-11-14-11 19 0 15 11 15 11zM159 494l-23 0-7 12-7 11-8 11 19 0 9-11 9-11z"/>
<path fill="#0000d1" stroke="#0000d1" d="M499 -494l-23 0-24-12-26-11-27-11 19 0 28 11 27 11zM227 -494l-23 0-10-12-11-11-12-11 19 0 13 11 12 11zM204 -494l-23 0-9-12-10-11-10-11 19 0 12 11 11 11zM181 494l-22 0-8 12-9 11-9 11 19 0 10-11 10-11z"/>
<path fill="#0000e6" stroke="#0000e6" d="M454 -494l-23 0-22-12-24-11-24-11 19 0 26 11 24 11zM431 -494l-23 0-21-12-22-11-23-11 19 0 24 11 24 11zM408 -494l-22 0-20-12-21-11-22-11 19 0 23 11 22 11zM363 -494l-23 0-17-12-19-11-19-11 19 0 21 11 19 11z"/>
<path fill="#0000fa" stroke="#0000fa" d="M181 -494l-22 0-8-12-9-11-9-11 19 0 10 11 10 11zM159 -494l-23 0-7-12-7-11-8-11 19 0 9 11 9 11zM113 -494l-22 0-5-12-5-11-5-11 19 0 6 11 7 11zM68 -494l-23 0-2-12-2-11-3-11 19 0 4 11 4 11zM437 -528l-19 0-30-11-32-10-33-9 14 0 36 9 33 10zM418 -528l-19 0-29-11-30-10-32-9 15 0 33 9 32 10zM323 -528l-19 0-22-11-23-10-24-9 14 0 26 9 25 10zM266 -528l-19 0-18-11-18-10-20-9 14 0 22 9 20 10zM171 -528l-19 0-11-11-11-10-13-9 15 0 14 9 13 10z"/>
<path fill="#000fff" stroke="#000fff" d="M23 -494l-23 0 0-12 0-11 0-11 19 0 1 11 2 11zM0 -494l-23 0 1-12 2-11 1-11 19 0 0 11 0 11zM-23 -494l-22 0 2-12 2-11 3-11 19 0-1 11-2 11zM456 -528l-19 0-31-11-33-10-36-9 15 0 37 9 34 10zM380 -528l-19 0-26-11-27-10-29-9 14 0 31 9 29 10zM361 -528l-19 0-25-11-25-10-28-9 15 0 29 9 27 10zM114 -528l-19 0-7-11-7-10-8-9 15 0 9 9 9 10zM57 -528l-19 0-3-11-3-10-3-9 15 0 5 9 4 10zM38 -528l-19 0-1-11-2-10-1-9 14 0 3 9 3 10zM323 -558l-15 0-34-9-37-9-41-7 9 0 43 7 39 9zM308 -558l-15 0-32-9-36-9-38-7 9 0 41 7 37 9zM293 -558l-14 0-31-9-34-9-37-7 10 0 38 7 36 9zM279 -558l-15 0-29-9-32-9-35-7 9 0 37 7 34 9zM220 -558l-15 0-22-9-25-9-27-7 9 0 29 7 27 9zM161 -558l-14 0-17-9-17-9-20-7 10 0 21 7 19 9zM147 -558l-15 0-15-9-16-9-17-7 9 0 20 7 17 9zM196 -583l-9 0-44-7-53-6-90-4 95 4 55 6zM187 -583l-10 0-41-7-50-6-86-4 90 4 53 6zM177 -583l-9 0-40-7-47-6-81-4 86 4 50 6zM28 -583l-9 0-5-7-5-6-9-4 14 4 7 6z"/>
<path fill="#0024ff" stroke="#0024ff" d="M-45 -494l-23 0 3-12 4-11 4-11 19 0-3 11-2 11zM494 -528l-19 0-34-11-36-10-38-9 14 0 40 9 37 10zM475 -528l-19 0-33-11-34-10-37-9 15 0 38 9 36 10zM337 -558l-14 0-36-9-39-9-43-7 10 0 44 7 41 9zM235 -558l-15 0-24-9-27-9-29-7 9 0 31 7 29 9zM103 -558l-15 0-10-9-10-9-12-7 9 0 14 7 12 9zM44 -558l-15 0-3-9-3-9-4-7 9 0 6 7 5 9zM15 -558l-15 0 0-9 0-9 0-7 9 0 2 7 2 9zM-15 -558l-14 0 3-9 3-9 4-7 10 0-2 7-2 9zM-59 -558l-14 0 8-9 9-9 9-7 10 0-8 7-7 9zM-73 -558l-15 0 10-9 10-9 12-7 9 0-9 7-9 9zM-88 -558l-15 0 12-9 12-9 14-7 9 0-12 7-10 9zM9 -583l-9 0 0-7 0-6 0-4 5 4 2 6z"/>
<path fill="#0042ff" stroke="#0042ff" d="M-91 -494l-22 0 5-12 7-11 6-11 19 0-5 11-5 11zM513 -528l-19 0-36-11-37-10-40-9 15 0 41 9 39 10zM-103 -558l-14 0 13-9 14-9 15-7 10 0-14 7-12 9zM280 -583l-9 0-64-7-76-6-131-4 135 4 79 6zM271 -583l-10 0-61-7-74-6-126-4 131 4 76 6zM261 -583l-9 0-59-7-71-6-122-4 126 4 74 6zM252 -583l-9 0-57-7-69-6-117-4 122 4 71 6zM-56 -583l-9 0 15-7 18-6 32-4-27 4-16 6zM-65 -583l-10 0 18-7 21-6 36-4-32 4-18 6zM-75 -583l-9 0 20-7 23-6 41-4-36 4-21 6zM-84 -583l-9 0 22-7 26-6 45-4-41 4-23 6zM-93 -583l-10 0 24-7 29-6 50-4-45 4-26 6zM-103 -583l-9 0 26-7 32-6 54-4-50 4-29 6zM-112 -583l-9 0 28-7 34-6 59-4-54 4-32 6zM-261 -583l-10 0 64-7 76-6 131-4-126 4-74 6zM-271 -583l-9 0 66-7 79-6 135-4-131 4-76 6z"/>
<path fill="#0057ff" stroke="#0057ff" d="M-113 -494l-23 0 7-12 7-11 8-11 19 0-6 11-7 11zM-159 -494l-22 0 9-12 10-11 10-11 19 0-9 11-9 11zM532 -528l-19 0-37-11-39-10-41-9 15 0 43 9 40 10zM440 -558l-15 0-47-9-51-9-56-7 9 0 58 7 53 9zM-117 -558l-15 0 15-9 16-9 17-7 9 0-15 7-14 9zM-161 -558l-15 0 20-9 21-9 23-7 9 0-21 7-19 9zM-176 -558l-15 0 22-9 22-9 26-7 9 0-23 7-21 9zM-235 -558l-14 0 27-9 30-9 33-7 10 0-31 7-29 9zM-249 -558l-15 0 29-9 32-9 35-7 9 0-33 7-30 9zM-425 -558l-15 0 49-9 53-9 58-7 9 0-56 7-51 9zM-215 -583l-9 0 53-7 63-6 108-4-104 4-60 6zM-224 -583l-9 0 55-7 65-6 113-4-108 4-63 6zM-233 -583l-10 0 57-7 69-6 117-4-113 4-65 6z"/>
<path fill="#0061ff" stroke="#0061ff" d="M-136 -494l-23 0 8-12 9-11 9-11 19 0-8 11-7 11zM570 -528l-19 0-40-11-41-10-45-9 15 0 46 9 43 10zM551 -528l-19 0-38-11-40-10-43-9 14 0 45 9 41 10zM-132 -558l-15 0 17-9 17-9 20-7 9 0-17 7-16 9zM-191 -558l-14 0 22-9 25-9 27-7 10 0-26 7-22 9zM-205 -558l-15 0 24-9 27-9 29-7 9 0-27 7-25 9zM-220 -558l-15 0 26-9 29-9 31-7 9 0-29 7-27 9zM-159 -583l-9 0 40-7 47-6 81-4-77 4-44 6zM-168 -583l-9 0 41-7 50-6 86-4-81 4-47 6zM-177 -583l-10 0 44-7 53-6 90-4-86 4-50 6zM-187 -583l-9 0 46-7 55-6 95-4-90 4-53 6zM-196 -583l-9 0 48-7 58-6 99-4-95 4-55 6zM-205 -583l-10 0 51-7 60-6 104-4-99 4-58 6z"/>
<path fill="#0075ff" stroke="#0075ff" d="M-181 -494l-23 0 10-12 11-11 12-11 19 0-10 11-10 11zM-171 -528l-19 0 14-11 14-10 15-9 15 0-14 9-13 10zM-551 -528l-19 0 41-11 43-10 46-9 15 0-45 9-41 10zM-396 -558l-15 0 46-9 49-9 55-7 9 0-52 7-48 9zM-411 -558l-14 0 47-9 51-9 56-7 10 0-55 7-49 9z"/>
<path fill="#0094ff" stroke="#0094ff" d="M-204 -494l-23 0 12-12 12-11 13-11 19 0-12 11-11 11zM-227 -494l-22 0 12-12 14-11 14-11 19 0-13 11-12 11zM-190 -528l-19 0 15-11 16-10 17-9 14 0-15 9-14 10zM-352 -558l-15 0 41-9 44-9 49-7 9 0-47 7-42 9zM-367 -558l-14 0 42-9 46-9 50-7 10 0-49 7-44 9z"/>
<path fill="#00d1ff" stroke="#00d1ff" d="M-249 -494l-23 0 14-12 15-11 15-11 19 0-14 11-14 11zM-285 -528l-19 0 22-11 23-10 24-9 15 0-23 9-22 10zM-304 -528l-19 0 23-11 25-10 26-9 14 0-24 9-23 10zM-323 -528l-19 0 25-11 25-10 28-9 15 0-26 9-25 10zM-279 -558l-14 0 32-9 36-9 38-7 10 0-37 7-34 9z"/>
<path fill="#1affe5" stroke="#1affe5" d="M-272 -494l-23 0 15-12 16-11 17-11 19 0-15 11-15 11zM-399 -528l-19 0 30-11 32-10 33-9 15 0-32 9-30 10zM-418 -528l-19 0 31-11 33-10 36-9 14 0-33 9-32 10z"/>
<path fill="#38ffc7" stroke="#38ffc7" d="M-295 -494l-23 0 17-12 17-11 18-11 19 0-17 11-16 11z"/>
<path fill="#57ffa8" stroke="#57ffa8" d="M-318 -494l-22 0 17-12 19-11 19-11 19 0-18 11-17 11z"/>
<path fill="#8aff75" stroke="#8aff75" d="M-340 -494l-23 0 19-12 19-11 21-11 19 0-19 11-19 11z"/>
<path fill="#80ff80" stroke="#80ff80" d="M-363 -494l-23 0 20-12 21-11 22-11 19 0-21 11-19 11z"/>
<path fill="#61ff9e" stroke="#61ff9e" d="M-386 -494l-22 0 21-12 22-11 23-11 19 0-22 11-21 11zM-454 -494l-22 0 24-12 26-11 27-11 19 0-26 11-24 11z"/>
<path fill="#6bff94" stroke="#6bff94" d="M-408 -494l-23 0 22-12 24-11 24-11 19 0-23 11-22 11zM-431 -494l-23 0 24-12 24-11 26-11 19 0-24 11-24 11z"/>
<path fill="#0ffff0" stroke="#0ffff0" d="M-476 -494l-23 0 26-12 27-11 28-11 19 0-27 11-26 11z"/>
<path fill="#00c7ff" stroke="#00c7ff" d="M-499 -494l-23 0 27-12 29-11 29-11 19 0-28 11-27 11zM-544 -494l-23 0 29-12 31-11 32-11 19 0-31 11-29 11zM-567 -494l-23 0 31-12 32-11 33-11 19 0-32 11-31 11z"/>
<path fill="#00a8ff" stroke="#00a8ff" d="M-522 -494l-22 0 28-12 29-11 31-11 19 0-29 11-29 11zM-247 -528l-19 0 19-11 20-10 22-9 14 0-20 9-18 10zM-337 -558l-15 0 39-9 42-9 47-7 9 0-44 7-41 9z"/>
<path fill="#00e5ff" stroke="#00e5ff" d="M-590 -494l-22 0 31-12 33-11 35-11 19 0-33 11-32 11zM-612 -494l-23 0 33-12 34-11 36-11 19 0-35 11-33 11z"/>
<path fill="#009eff" stroke="#009eff" d="M-635 -494l-23 0 34-12 36-11 37-11 19 0-36 11-34 11z"/>
<path fill="#001aff" stroke="#001aff" d="M95 -528l-19 0-5-11-6-10-6-9 14 0 8 9 7 10zM76 -528l-19 0-4-11-4-10-5-9 15 0 6 9 6 10zM19 -528l-19 0 0-11 0-10 0-9 15 0 1 9 2 10zM0 -528l-19 0 1-11 2-10 1-9 15 0 0 9 0 10zM-19 -528l-19 0 3-11 3-10 3-9 14 0-1 9-2 10zM264 -558l-15 0-27-9-30-9-33-7 9 0 35 7 32 9zM249 -558l-14 0-26-9-29-9-31-7 10 0 33 7 30 9zM117 -558l-14 0-12-9-12-9-14-7 10 0 15 7 14 9zM88 -558l-15 0-8-9-9-9-9-7 9 0 12 7 10 9zM73 -558l-14 0-7-9-7-9-8-7 10 0 9 7 9 9zM59 -558l-15 0-5-9-5-9-6-7 9 0 8 7 7 9zM224 -583l-9 0-51-7-60-6-104-4 108 4 63 6zM215 -583l-10 0-48-7-58-6-99-4 104 4 60 6zM205 -583l-9 0-46-7-55-6-95-4 99 4 58 6zM168 -583l-9 0-38-7-44-6-77-4 81 4 47 6zM159 -583l-10 0-35-7-42-6-72-4 77 4 44 6zM149 -583l-9 0-33-7-39-6-68-4 72 4 42 6zM140 -583l-9 0-31-7-37-6-63-4 68 4 39 6zM131 -583l-10 0-28-7-34-6-59-4 63 4 37 6zM121 -583l-9 0-26-7-32-6-54-4 59 4 34 6zM112 -583l-9 0-24-7-29-6-50-4 54 4 32 6zM103 -583l-10 0-22-7-26-6-45-4 50 4 29 6zM93 -583l-9 0-20-7-23-6-41-4 45 4 26 6zM84 -583l-9 0-18-7-21-6-36-4 41 4 23 6zM75 -583l-10 0-15-7-18-6-32-4 36 4 21 6zM65 -583l-9 0-13-7-16-6-27-4 32 4 18 6zM56 -583l-9 0-11-7-13-6-23-4 27 4 16 6zM47 -583l-10 0-8-7-11-6-18-4 23 4 13 6zM37 -583l-9 0-7-7-7-6-14-4 18 4 11 6zM19 -583l-10 0-2-7-2-6-5-4 9 4 5 6z"/>
<path fill="#002eff" stroke="#002eff" d="M-38 -528l-19 0 4-11 4-10 5-9 15 0-3 9-3 10zM381 -558l-14 0-41-9-44-9-49-7 10 0 50 7 46 9zM367 -558l-15 0-39-9-42-9-47-7 9 0 49 7 44 9zM352 -558l-15 0-37-9-41-9-44-7 9 0 47 7 42 9zM0 -558l-15 0 2-9 2-9 2-7 9 0 0 7 0 9zM-29 -558l-15 0 5-9 5-9 6-7 9 0-4 7-3 9zM-44 -558l-15 0 7-9 7-9 8-7 9 0-6 7-5 9zM243 -583l-10 0-55-7-65-6-113-4 117 4 69 6zM233 -583l-9 0-53-7-63-6-108-4 113 4 65 6zM-28 -583l-9 0 8-7 11-6 18-4-14 4-7 6z"/>
<path fill="#004dff" stroke="#004dff" d="M-133 -528l-19 0 11-11 11-10 13-9 14 0-10 9-10 10zM425 -558l-14 0-46-9-49-9-55-7 10 0 56 7 51 9zM-243 -583l-9 0 59-7 71-6 122-4-117 4-69 6zM-252 -583l-9 0 61-7 74-6 126-4-122 4-71 6z"/>
<path fill="#00b2ff" stroke="#00b2ff" d="M-209 -528l-19 0 16-11 18-10 18-9 15 0-17 9-16 10zM-228 -528l-19 0 18-11 18-10 20-9 15 0-18 9-18 10zM-342 -528l-19 0 26-11 27-10 29-9 15 0-28 9-25 10zM-494 -528l-19 0 37-11 39-10 41-9 15 0-40 9-37 10zM-513 -528l-19 0 38-11 40-10 43-9 15 0-41 9-39 10zM-308 -558l-15 0 36-9 39-9 43-7 9 0-41 7-37 9zM-323 -558l-14 0 37-9 41-9 44-7 10 0-43 7-39 9z"/>
<path fill="#00bdff" stroke="#00bdff" d="M-266 -528l-19 0 20-11 22-10 23-9 15 0-22 9-20 10zM-361 -528l-19 0 27-11 29-10 31-9 14 0-29 9-27 10zM-475 -528l-19 0 36-11 37-10 40-9 14 0-38 9-36 10zM-293 -558l-15 0 34-9 37-9 41-7 9 0-38 7-36 9z"/>
<path fill="#2effd1" stroke="#2effd1" d="M-380 -528l-19 0 29-11 30-10 32-9 15 0-31 9-29 10z"/>
<path fill="#05fffa" stroke="#05fffa" d="M-437 -528l-19 0 33-11 34-10 37-9 15 0-36 9-33 10z"/>
<path fill="#00dbff" stroke="#00dbff" d="M-456 -528l-19 0 34-11 36-10 38-9 15 0-37 9-34 10z"/>
<path fill="#0080ff" stroke="#0080ff" d="M-532 -528l-19 0 40-11 41-10 45-9 14 0-43 9-40 10z"/>
<path fill="#0000d1" stroke="#0000d1" d="M166 515l-25 2 16-35 28-2zM-9 488l-28 0-3-37 30 0zM-37 488l-27-1-6-37 30 1zM610 281l-37 4 19-46 39-4zM186 134l-40 2 1-49 40-2zM748 34l-40 4-2-49 40-4zM880 -127l-38 3-21-49 38-3zM64 -107l-38 0-1-48 37-1zM-48 -203l-36-1 4-47 34 0zM-43 -296l-32-1 5-45 30 1zM682 -403l-10 0-9 1-10 1-20-13-20-14-22-13 8-1 9-1 8 0 23 13 22 13zM642 -446l-8 1-9 1-9 1-24-13-24-13-26-12 7-1 8 0 7-1 27 12 26 13zM542 -481l-8 1-7 1-8 0-26-12-27-11-28-11 6-1 6-1 6-1 30 12 28 11zM240 -482l-20 3-41-34 15-3zM220 -479l-19 3-38-35 16-2zM201 -476l-20 2-34-35 16-2zM140 -470l-20 2-22-36 17-2z"/>
<path fill="#0000db" stroke="#0000db" d="M141 517l-25 2 13-35 28-2zM330 466l-29 3 26-38 32-3zM423 421l-32 3 27-40 34-4zM-70 450l-31-1-7-40 32 1zM-108 409l-33-1-8-42 34 1zM-149 366l-35-2-9-44 37 2zM-193 320l-36-2-8-46 37 3zM-237 272l-38-2-8-47 39 3zM-399 213l-39-4-9-47 40 4zM346 123l-40 3 1-48 40-4zM266 129l-40 3 1-49 40-2zM226 132l-40 2 1-49 40-2zM27 139l-40 0 0-49 40 0zM508 59l-40 4-1-49 40-4zM67 40l-40 1 0-49 39-1zM-534 7l-39-4 5-49 39 4zM105 -59l-40 1-1-49 38-1zM-559 -95l-39-4 14-49 38 4zM25 -155l-37 0 0-48 36 0zM-716 -262l-35-4 39-45 32 3zM-712 -311l-33-3 47-44 31 3zM995 -326l-11 0-12 0-12 0-19-14-20-15-21-14 11 0 12 0 11-1 21 15 21 14zM756 -315l-33 3-45-44 30-3zM-856 -368l-11 0-11-1-11 0 22-14 22-14 24-14 11 0 10 1 10 0-23 14-22 14zM564 -483l-7 1-8 0-7 1-28-12-28-11-30-12 6 0 6-1 7-1 31 12 30 11zM-33 -425l-24-1 7-39 22 1zM367 -503l-6 1-5 1-6 1-23-11-23-11-25-10 4-1 5-1 4-1 26 11 25 10zM332 -496l-6 1-6 1-6 1-20-12-20-11-22-10 5-1 4-1 5-1 23 10 22 11zM314 -493l-6 1-6 1-6 1-19-12-19-11-20-11 5 0 4-1 5-1 22 10 20 11zM296 -490l-6 1-6 1-7 1-17-12-17-11-19-11 5-1 4-1 5-1 20 11 19 11zM99 -467l-21 1-14-36 17-1zM78 -466l-21 1-11-36 18-1z"/>
<path fill="#0000e6" stroke="#0000e6" d="M301 469l-29 3 24-38 31-3zM18 488l-27 0-1-37 30 0zM391 424l-32 4 25-41 34-3zM-40 451l-30-1-6-40 33 1zM486 376l-34 4 25-43 36-4zM549 329l-36 4 23-44 37-4zM669 231l-38 4 16-47 39-4zM631 235l-39 4 16-47 39-4zM-283 223l-39-3-6-47 39 3zM-322 220l-38-3-8-48 40 4zM-360 217l-39-4-8-47 39 3zM-447 162l-39-4-6-49 40 4zM306 126l-40 3 1-48 40-3zM-492 109l-40-4-3-49 40 4zM-13 90l-40 0 0-49 40 0zM147 38l-40 2-1-50 40-1zM27 41l-40 0 0-49 40 0zM66 -9l-39 1-1-50 39 0zM-529 -42l-39-4 9-49 38 4zM65 -58l-39 0 0-49 38 0zM934 -181l-37 2-29-47 36-2zM-584 -148l-37-4 19-48 36 4zM-638 -204l-36-4 27-47 35 4zM941 -230l-37 2-37-47 35-2zM758 -217l-36 4-29-47 34-3zM-647 -255l-34-4 34-45 33 4zM-681 -259l-35-3 36-46 33 4zM974 -280l-12 1-12 0-12 1-15-16-16-15-17-15 12 0 11 0 12-1 17 15 17 15zM-84 -204l-36-1 6-47 34 1zM-698 -358l-31-3 57-42 28 3zM-889 -369l-11 0-11 0-12 0 23-15 23-14 25-13 10 0 11 0 10 0-24 14-22 14zM-923 -369l-11-1 23-14 11 0zM-900 -384l-11 0 23-14 11 0zM-877 -398l-11 0 25-13 11 0zM945 -370l-11 0-23-14 12 0zM923 -384l-12 0-23-14 11 0zM899 -398l-11 0-25-13 11 0zM739 -361l-31 2-55-42 29-2zM-701 -405l-10-1-9 0-10-1 22-13 24-14 24-13 9 1 9 0 8 1-23 13-23 14zM420 -511l-6 1-6 1-6 1-27-11-28-11-29-10 4-1 4-1 5 0 31 10 30 10zM402 -508l-6 1-5 1-6 1-26-11-26-11-28-10 4-1 4-1 5-1 29 10 28 11zM385 -505l-6 1-6 0-6 1-24-11-25-10-26-11 4-1 5 0 4-1 28 10 26 11zM350 -500l-6 1-6 2-6 1-21-12-22-11-23-10 4-1 4-1 5-1 25 10 23 11zM120 -468l-21 1-18-36 17-1zM57 -465l-22 1-6-36 17-1zM35 -464l-21 0-2-36 17 0z"/>
<path fill="#0000f0" stroke="#0000f0" d="M272 472l-29 3 22-38 31-3zM73 487l-27 1 4-38 30 0zM46 488l-28 0 2-37 30-1zM359 428l-32 3 24-40 33-4zM-10 451l-30 0-3-40 32 0zM-76 410l-32-1-7-42 35 1zM-156 322l-37-2-7-45 38 2zM-200 275l-37-3-7-46 39 2zM-244 226l-39-3-6-47 40 3zM385 120l-39 3 1-49 41-3zM-495 60l-40-4 1-49 40 4zM107 40l-40 0-1-49 40-1zM-13 41l-40 0 0-50 40 1zM-53 41l-40-1 0-49 40 0zM919 -130l-39 3-21-49 38-3zM-128 -109l-38-2 4-48 38 1zM-12 -155l-38-1 2-47 36 0zM-50 -156l-37 0 3-48 36 1zM-87 -156l-37-2 4-47 36 1zM-124 -158l-38-1 6-48 36 2zM-602 -200l-36-4 26-47 34 4zM-80 -251l-34-1 6-46 33 1zM-672 -403l-10 0-9-1-10-1 21-13 23-14 23-13 9 1 9 1 8 0-22 14-22 13zM-730 -407l-10-1-10 0-10-1 24-13 24-13 25-13 9 0 9 1 9 0-24 13-24 14zM711 -406l-10 1-10 1-9 1-21-14-22-13-23-13 9-1 9-1 8-1 24 14 23 13zM669 -447l-9 0-9 1-9 0-25-12-26-13-27-12 8-1 8 0 7-1 29 12 27 13zM-64 -385l-28-1 10-41 25 1zM587 -485l-7 1-8 0-8 1-28-12-30-11-31-12 6 0 7-1 6 0 33 11 31 11zM438 -513l-6 0-6 1-6 1-28-11-30-10-31-10 4-1 4-1 5-1 33 10 31 11zM14 -464l-21 0 1-36 18 0zM292 -535l-4 1-5 1-4 1-26-10-28-9-28-9 2-1 3 0 2-1 31 8 29 10zM279 -532l-5 1-4 1-4 1-25-10-25-10-27-8 2-1 3-1 3-1 28 9 28 9zM224 -521l-5 1-5 1-5 1-18-11-19-10-20-9 3-1 4-1 3 0 22 9 20 10zM209 -518l-5 1-5 0-5 1-16-10-18-11-18-9 3-1 4-1 3 0 20 9 19 10zM131 -507l-5 0-6 1-5 0-10-11-10-10-10-11 4 0 4-1 4 0 12 10 11 11z"/>
<path fill="#0000fa" stroke="#0000fa" d="M243 475l-29 3 19-38 32-3zM214 478l-29 2 17-37 31-3zM129 484l-28 2 10-38 30-1zM101 486l-28 1 7-37 31-2zM327 431l-31 3 21-40 34-3zM452 380l-34 4 24-43 35-4zM-43 411l-33-1-4-42 34 1zM-115 367l-34-1-7-44 36 2zM573 285l-37 4 18-46 38-4zM647 188l-39 4 11-48 39-4zM698 135l-40 5 8-49 40-4zM-407 166l-40-4-5-49 40 4zM425 116l-40 4 3-49 40-4zM708 38l-40 4-2-49 40-4zM548 55l-40 4-1-49 40-4zM-53 90l-40-1 0-49 40 1zM-93 40l-41-1 1-50 40 2zM-494 11l-40-4 5-49 40 4zM146 -11l-40 1-1-49 39-1zM-93 -9l-40-2 2-49 39 1zM-131 -60l-39-2 4-49 38 2zM-521 -91l-38-4 13-49 37 4zM821 -173l-37 4-26-48 37-3zM-90 -108l-38-1 4-49 37 2zM-546 -144l-38-4 18-48 37 4zM-162 -159l-37-2 8-48 35 2zM797 -270l-35 3-39-45 33-3zM762 -267l-35 4-37-46 33-3zM-120 -205l-36-2 8-47 34 2zM-680 -308l-32-3 45-44 30 3zM960 -326l-12 1-11 0-12 0-18-15-20-14-20-14 11-1 11 0 11 0 21 14 20 15zM789 -318l-33 3-48-44 31-2zM-70 -342l-30-1 8-43 28 1zM-57 -426l-25-1 11-38 21 0zM475 -518l-7 1-6 1-6 0-31-10-33-11-35-10 5 0 4-1 5-1 36 10 35 11zM456 -516l-6 1-6 1-6 1-30-11-31-11-33-10 4 0 5-1 4-1 35 10 33 11zM-7 -464l-21 0 5-36 17 0zM305 -537l-4 1-5 0-4 1-28-9-29-10-31-8 3-1 2-1 3-1 32 9 31 9zM266 -529l-5 1-4 1-5 1-23-10-24-10-25-9 3-1 3-1 3 0 27 8 25 10zM238 -524l-5 1-4 1-5 1-20-10-20-10-22-9 3-1 3-1 3-1 24 9 22 10zM194 -516l-5 1-5 1-5 1-15-11-16-10-17-10 4-1 3-1 4 0 18 9 18 11zM179 -513l-5 0-5 1-6 1-13-11-15-10-15-10 4-1 3-1 4 0 17 10 16 10zM163 -511l-5 1-5 0-6 1-12-11-13-11-13-10 3 0 4-1 4 0 15 10 15 10zM147 -509l-5 1-5 0-6 1-11-11-11-11-12-10 4-1 4 0 4-1 13 10 13 11zM115 -506l-6 1-5 0-6 1-8-11-8-11-9-11 4 0 4 0 4-1 10 11 10 10zM98 -504l-6 0-5 1-6 0-7-11-7-11-7-11 4 0 4 0 5-1 9 11 8 11zM64 -502l-6 1-6 0-6 0-3-11-4-11-4-11 4 0 4 0 4-1 6 11 6 11z"/>
<path fill="#0005ff" stroke="#0005ff" d="M185 480l-28 2 15-37 30-2zM418 384l-34 3 22-42 36-4zM384 387l-33 4 20-43 35-3zM513 333l-36 4 21-44 38-4zM725 180l-39 4 12-49 40-4zM144 184l-39 2 1-49 40-1zM105 186l-40 1 1-49 40-1zM-289 176l-39-3-4-49 40 3zM-368 169l-39-3-5-49 40 4zM706 87l-40 4 2-49 40-4zM-13 139l-40 0 0-49 40 0zM-452 113l-40-4-3-49 41 4zM106 -10l-40 1-1-49 40-1zM27 -8l-40 0 0-50 39 0zM-53 -9l-40 0 1-50 40 1zM-133 -11l-39-1 2-50 39 2zM-489 -38l-40-4 8-49 39 4zM-92 -59l-39-1 3-49 38 1zM26 -107l-39 0 1-48 37 0zM-51 -107l-39-1 3-48 37 0zM904 -228l-36 2-36-46 35-3zM938 -278l-12 0-12 1-12 0-14-15-15-15-17-15 12-1 11 0 11-1 17 15 16 15zM832 -272l-35 2-41-45 33-3zM-114 -252l-34-2 8-46 32 2zM-667 -355l-31-3 54-42 28 3zM-75 -297l-33-1 8-45 30 1zM-760 -409l-10 0-10-1-10 0 24-13 25-14 27-13 9 1 9 0 9 1-25 13-24 13zM740 -408l-10 1-10 1-9 0-22-13-23-13-24-14 9 0 9-1 9 0 25 13 23 13zM611 -486l-8 0-8 1-8 0-29-12-31-11-33-11 7-1 7 0 6-1 34 12 32 11zM-28 -464l-22-1 9-36 18 1zM318 -540l-5 1-4 1-4 1-30-10-31-9-32-9 2 0 2-1 3-1 34 8 33 10zM252 -526l-5 1-4 1-5 0-21-10-22-10-24-9 3-1 3 0 3-1 25 9 24 10zM81 -503l-6 1-5 0-6 0-5-11-6-11-6-11 5 0 4 0 4-1 7 11 7 11zM46 -501l-5 0-6 0-6 1-2-12-3-11-2-11 4 0 4 0 5 0 4 11 4 11zM29 -500l-6 0-6 0-5 0-1-12-1-11-1-10 4 0 4-1 5 0 2 11 3 11zM204 -562l-2 1-3 0-2 1-31-8-32-7-34-6 1-1 0-1 36 6 35 7zM197 -560l-3 1-3 1-2 1-29-9-30-7-32-6 1-1 1-1 34 6 32 7zM171 -553l-3 1-3 1-3 1-23-9-25-8-26-7 1-1 2 0 1-1 28 7 26 8zM142 -546l-4 0-3 1-4 1-18-10-19-8-20-8 1-1 2 0 2 0 22 7 21 9zM131 -544l-4 0-3 1-4 1-16-10-17-9-19-8 2 0 2-1 2 0 20 8 19 8zM120 -542l-4 0-4 1-3 0-15-9-15-9-17-9 2 0 2 0 2-1 19 8 17 9zM47 -535l-4 1-4 0-4 0-5-10-5-10-5-9 3 0 2-1 3 0 7 9 6 10zM28 -564l-3 0-2 1-3 0-6-9-6-8-8-7 11 7 9 8z"/>
<path fill="#000fff" stroke="#000fff" d="M157 482l-28 2 12-37 31-2zM296 434l-31 3 19-40 33-3zM20 451l-30 0-1-40 33 0zM-80 368l-35-1-5-43 36 1zM686 184l-39 4 11-48 40-5zM-205 228l-39-2-5-47 39 2zM-328 173l-40-4-4-48 40 3zM466 112l-41 4 3-49 40-4zM588 51l-40 4-1-49 40-5zM26 -58l-39 0 0-49 39 0zM-482 -87l-39-4 12-49 38 5zM-166 -111l-39-2 6-48 37 2zM-509 -140l-37-4 17-48 36 4zM868 -226l-37 3-34-47 35-2zM-612 -251l-35-4 33-45 32 3zM902 -277l-11 1-12 0-12 1-14-15-15-15-15-15 11-1 11 0 11-1 17 15 15 15zM-647 -304l-33-4 43-44 30 4zM934 -370l-11 1-12 0-11 0-22-14-23-14-24-14 11 0 10 0 11 0 25 13 23 14zM771 -364l-11 1-10 1-11 1-18-15-19-14-20-13 9-1 10-1 10-1 21 14 20 14zM-92 -386l-27-1 13-41 24 1zM-82 -427l-24-1 14-38 21 1zM494 -519l-6 0-7 1-6 0-33-10-35-11-36-10 5 0 5-1 5 0 38 10 36 10zM371 -549l-5 1-4 1-5 0-37-9-39-9-42-8 3-1 2 0 3-1 44 8 41 9zM357 -547l-4 1-5 1-4 0-35-9-37-9-40-8 3-1 2-1 2 0 42 8 39 9zM344 -545l-5 1-4 1-4 1-33-10-35-9-38-8 3-1 2-1 2 0 40 8 37 9zM331 -542l-5 0-4 1-4 1-32-9-33-10-34-8 2-1 2 0 2-1 38 8 35 9zM12 -500l-6 0-6 0-6 0 1-12 0-11 1-10 4 0 4 0 5 0 1 10 1 11zM-6 -500l-6 0-5 0-6 0 2-12 2-11 2-11 4 1 4 0 5 0-1 10 0 11zM-23 -500l-6 0-6-1-6 0 4-11 3-11 4-11 4 0 4 0 5 0-2 11-2 11zM265 -578l-4 1-3 0-3 1-51-8-56-6-59-4-1-1-2 0-1-1 65 5 61 6zM232 -571l-2 0-2 1-3 1-39-8-42-6-43-5 0-1-1 0 0-1 46 5 44 6zM212 -565l-3 1-2 1-3 1-32-8-35-7-36-6 1 0 0-1 38 5 37 7zM189 -557l-3 0-3 1-3 1-27-8-28-8-30-7 1 0 1-1 1 0 32 6 30 7zM180 -555l-3 1-3 0-3 1-25-8-26-8-28-7 1 0 1-1 1-1 30 7 28 8zM152 -548l-3 0-4 1-3 1-20-9-21-9-22-7 1-1 2 0 2-1 24 8 23 8zM109 -541l-4 1-4 0-4 1-13-10-14-9-15-9 3 0 2 0 2-1 17 9 15 9zM97 -539l-4 0-4 1-4 0-11-10-12-9-13-9 2 0 2 0 2-1 15 9 14 9zM60 -536l-4 1-4 0-5 0-6-10-6-10-7-9 2 0 2 0 3 0 9 9 8 9zM35 -534l-5 0-4 0-4 0-3-10-3-10-3-9 2 0 3 0 2 0 5 9 5 10zM85 -596l1 1 2 0 1 1-47-2-26 4-16 5 13-6 21-4zM100 -590l0 1 1 0 0 1-40-3-34 1-27 3 25-4 32-1zM102 -584l0 1-1 0-36-4-34-1-31 1 30-2 34 1zM92 -576l-1 1-2 0-1 1-28-6-29-5-31-2 31 2 31 3zM-25 -564l-3 0-2 0-2 0 9-9 10-7 13-7-10 7-8 8z"/>
<path fill="#0024ff" stroke="#0024ff" d="M265 437l-32 3 17-40 34-3zM233 440l-31 3 15-40 33-3zM80 450l-30 0 4-39 32-1zM50 450l-30 1 2-40 32 0zM477 337l-35 4 19-44 37-4zM-120 324l-36-2-6-45 37 1zM-249 179l-40-3-3-49 40 3zM628 46l-40 5-1-50 40-4zM-93 89l-41-1 0-49 41 1zM-13 -107l-38 0 1-49 38 1zM925 -325l-12 1-11 0-12 0-17-14-19-15-20-14 11-1 11 0 11 0 20 14 20 14zM823 -320l-34 2-50-43 32-3zM-148 -254l-35-2 11-45 32 1zM-108 -298l-32-2 10-44 30 1zM-100 -343l-30-1 11-43 27 1zM514 -521l-6 1-7 0-7 1-34-11-36-10-38-10 5-1 5 0 5 0 40 9 38 11zM-71 -465l-21-1 17-36 17 1zM386 -550l-5 0-5 1-5 0-39-9-41-9-44-8 3 0 2-1 3 0 47 8 43 8zM-41 -501l-5 0-6 0-6 0 5-12 5-11 5-10 4 0 4 0 5 0-4 11-3 11zM219 -567l-3 1-2 1-2 0-35-7-37-7-38-5 0-1 0-1 40 5 40 7zM9 -533l-5 0-4 0-4 0 0-11 1-9 0-10 3 0 3 0 2 0 1 10 2 9zM-30 -534l-5 0-4 0-4 0 5-11 6-9 7-10 2 1 3 0 2 0-4 9-4 10zM-102 -584l0-1 0-1 39-3 34 0 29 2-30-2-35 1zM-102 -586l0-1 41-3 34 0 27 3-29-2-34 0zM81 -598l-3 0-1 0-1 0-61 0-10 5-5 6 1-6 3-5zM97 -591l1 0 1 1 1 0-43-2-32 1-25 4 22-5 31-1zM95 -578l-1 1-1 1-1 0-30-6-31-3-31-2 32 1 32 3zM84 -573l-2 1-2 0-1 1-24-7-27-5-28-4 30 3 28 5zM79 -571l-2 0-2 0-1 1-23-7-24-6-27-4 28 4 27 5zM49 -566l-2 1-3 0-2 0-12-8-14-8-16-6 19 6 16 7zM42 -565l-2 0-3 1-2 0-10-9-12-7-13-7 16 6 14 8zM20 -563l-2 0-3 0-2 0-4-9-4-8-5-7 8 7 6 8zM13 -563l-3 0-2 0-3 0-1-9-2-8-2-7 5 7 4 8zM5 -563l-2 0-3 0-3 0 1-9 1-8 1-7 2 7 2 8zM-18 -563l-2 0-3 0-2-1 7-8 8-8 10-7-7 7-6 8zM-60 -567l-2-1-2 0-2 0 20-8 22-6 24-5-22 5-20 7zM-72 -570l-2 0-1-1-2 0 23-7 26-5 28-4-26 4-24 6zM-77 -571l-2 0-1-1-2 0 25-7 28-5 29-3-28 4-26 5zM-97 -579l-1 0-1-1 34-5 33-2 32 0-32 0-33 3z"/>
<path fill="#0038ff" stroke="#0038ff" d="M202 443l-30 2 12-40 33-2zM172 445l-31 2 11-40 32-2zM111 448l-31 2 6-40 33-1zM536 289l-38 4 18-46 38-4zM262 178l-39 2 3-48 40-3zM223 180l-40 2 3-48 40-2zM666 91l-40 4 2-49 40-4zM506 108l-40 4 2-49 40-4zM-292 127l-40-3-2-48 40 3zM-450 -34l-39-4 7-49 39 4zM-13 -58l-39 0 1-49 38 0zM-471 -135l-38-5 16-48 36 4zM-191 -209l-36-2 10-47 34 2zM-543 -243l-35-4 29-46 33 4zM-582 -297l-32-3 38-45 30 4zM890 -324l-11 1-11 0-12 1-17-15-18-14-19-15 11 0 11-1 10 0 20 14 19 15zM856 -322l-11 1-11 0-11 1-17-15-17-14-18-15 10 0 11-1 10-1 19 15 18 14zM-183 -256l-34-2 13-46 32 3zM900 -369l-11 0-11 0-11 1-21-15-23-14-23-13 10-1 11 0 10 0 24 14 23 14zM770 -409l-10 0-10 1-10 0-23-13-23-13-25-13 9-1 9 0 9-1 26 13 24 13zM-130 -344l-30-2 14-42 27 1zM-634 -445l-8-1-9 0-9-1 26-13 26-12 28-12 8 0 8 1 7 1-26 12-26 12zM723 -450l-9 0-9 1-9 0-27-13-28-12-30-12 8-1 9 0 8 0 30 12 30 12zM-119 -387l-27-1 15-41 25 1zM636 -487l-8 0-9 0-8 1-31-12-32-11-34-12 7 0 7 0 8-1 35 11 33 12zM-92 -466l-21-2 21-36 17 2zM437 -553l-7 0-6 0-6 1-44-10-47-9-51-8 4 0 4 0 5 0 53 8 49 9zM-75 -502l-6-1-6 0-5-1 7-11 8-11 9-10 4 0 4 0 4 1-7 10-6 11zM-56 -535l-4-1-4 0-4 0 8-10 10-10 10-9 3 1 2 0 3 0-9 9-8 10zM-81 -537l-4-1-4 0-4-1 12-9 13-10 15-8 2 0 2 0 2 1-12 8-11 10zM-93 -539l-4 0-4-1-4 0 14-10 15-9 16-8 2 0 3 0 2 1-15 8-13 10zM-105 -540l-4-1-3 0-4-1 15-9 17-9 18-8 2 0 2 0 2 1-16 8-15 9zM-99 -580l-1-1-1-1 36-4 34-2 31 1-32 0-33 2zM-101 -582l0-1-1 0 0-1 37-4 35-1 30 2-31-1-34 2zM-95 -592l1-1 2 0 1-1 47-1 27 3 17 5-20-5-30-2zM-86 -595l1-1 2 0 2-1 53 0 18 4 10 6-14-6-23-3zM-81 -597l1 0 2 0 1-1 59 0 11 5 7 6-10-6-18-4zM-77 -598l1 0-1 0-1 0 70 0 5 5 3 6-7-6-11-5zM-78 -598l-3 0 166 0-4 0-77 0-3 5-1 6-3-6-5-5zM102 -586l0 1 0 1-38-4-34-1-30 2 29-3 34 1zM-87 -574l-1 0-1-1-2 0 29-6 31-4 31-2-30 2-29 5z"/>
<path fill="#002eff" stroke="#002eff" d="M141 447l-30 1 8-39 33-2zM351 391l-34 3 18-42 36-4zM-11 411l-32 0-3-42 35 1zM-46 369l-34-1-4-43 36 1zM26 187l-39 0 0-48 40 0zM-53 139l-40-1 0-49 40 1zM-332 124l-40-3-2-49 40 4zM-372 121l-40-4-2-49 40 4zM-412 117l-40-4-2-49 40 4zM-454 64l-41-4 1-49 40 4zM-134 39l-40-2 2-49 39 1zM-454 15l-40-4 5-49 39 4zM-170 -62l-39-2 4-49 39 2zM897 -179l-38 3-28-47 37-3zM795 -220l-37 3-31-46 35-4zM-529 -192l-37-4 23-47 34 4zM-637 -352l-30-3 51-42 28 3zM802 -366l-10 1-11 1-10 0-19-14-20-14-21-14 9 0 10-1 10-1 22 14 20 14zM-821 -411l-10 0-11 0-10 0 26-14 26-13 29-13 9 0 10 0 10 1-28 12-26 14zM-852 -411l-11 0 26-14 11 0zM-826 -425l-11 0 27-13 10 0zM-800 -438l-10 0 29-13 10 0zM874 -411l-11 0-26-14 10 0zM847 -425l-10 0-27-13 10 0zM820 -438l-10 0-29-13 10 0zM-106 -428l-25-1 18-39 21 2zM418 -552l-5 0-6 0-6 1-42-10-45-9-49-8 3 0 4 0 4-1 51 8 47 9zM401 -551l-5 0-5 0-5 1-41-10-43-8-47-8 3-1 3 0 4-1 49 8 45 9zM-58 -501l-6-1-6 0-5 0 6-12 6-11 7-10 4 0 5 0 4 1-5 10-5 11zM289 -579l-5 0-4 0-4 0-57-7-65-6-74-5-2 0-1-1-1 0 85 5 68 6zM-43 -534l-4-1-5 0-4 0 7-10 8-10 9-9 2 0 2 0 3 0-7 10-6 9zM-68 -536l-5-1-4 0-4 0 11-10 11-10 12-8 3 0 2 0 2 0-10 9-10 10zM-102 -587l1-1 0-1 1 0 42-3 33 1 25 4-27-3-34 0zM-91 -594l2 0 1-1 2 0 49-1 23 3 14 6-17-5-27-3zM98 -579l-1 0-1 1-1 0-31-5-32-3-32-1 32 0 33 3zM88 -574l-1 0-2 1-1 0-26-6-28-5-30-3 31 2 29 5zM-3 -563l-2 0-3 0-2 0 3-9 3-8 4-7-1 7-1 8zM-10 -563l-3 0-2 0-3 0 5-9 6-8 7-7-4 7-3 8zM-40 -565l-2 0-2 0-3 0 14-9 15-7 18-6-15 6-13 8zM-47 -565l-2-1-2 0-2 0 15-8 18-7 20-6-18 6-15 7zM-53 -566l-2-1-3 0-2 0 18-8 20-7 22-5-20 6-18 7zM-66 -568l-2-1-2 0-2-1 22-7 24-6 26-4-24 5-22 6zM-82 -572l-2-1-1 0-2-1 28-6 29-5 30-2-29 3-28 5zM-91 -575l-1-1-1 0-1-1 31-5 31-4 32-1-31 2-31 4zM-94 -577l-1-1-1 0-1-1 32-5 33-3 32 0-32 1-31 4z"/>
<path fill="#0057ff" stroke="#0057ff" d="M317 394l-33 3 16-42 35-3zM22 411l-33 0 0-41 34-1zM608 192l-39 4 10-48 40-4zM-210 181l-39-2-3-49 40 3zM-334 76l-40-4 0-49 40 3zM-374 72l-40-4 0-49 40 4zM-414 68l-40-4 0-49 40 4zM-414 19l-40-4 4-49 40 4zM-410 -30l-40-4 7-49 39 4zM867 -368l-11 0-11 0-11 1-20-14-22-14-22-14 10-1 10 0 10 0 23 13 23 14zM831 -411l-10 0-11 0-10 1-24-14-26-13-27-13 10 0 9 0 10-1 28 13 26 14zM800 -410l-10 0-10 0-10 1-24-14-24-13-26-13 9 0 9-1 9 0 27 13 26 13zM-660 -447l-9 0-9-1-9 0 27-13 28-13 29-12 8 1 8 0 7 1-28 12-26 12zM752 -451l-10 1-9 0-10 0-27-13-30-12-30-12 8-1 9 0 9 0 31 12 30 13zM-227 -395l-26-3 27-40 24 3zM-226 -438l-23-3 35-37 20 2zM558 -522l-8 0-7 0-7 0-37-10-39-11-42-9 6-1 6 0 7 0 42 10 41 10zM-113 -468l-20-1 24-36 17 1zM-133 -469l-21-2 28-36 17 2zM-450 -553l-6 0 47-10 6 0zM-403 -563l-6 0 50-9 6 1zM-353 -571l-6-1 55-8 5 0zM463 -553l-7 0-47-10 7 0zM416 -563l-7 0-50-9 6 0zM365 -572l-6 0-55-8 6 0zM-109 -505l-6-1-5 0-6-1 11-11 11-10 11-11 4 1 4 0 4 1-10 10-9 11zM-142 -508l-5-1-6-1-5 0 13-11 14-11 15-10 4 1 3 0 4 1-13 10-12 11zM-174 -513l-5 0-5-1-5-1 16-11 17-10 18-10 3 1 4 1 4 0-17 10-15 11zM-194 -559l-3-1-2-1-3 0 32-8 34-7 35-6 1 1 1 1-33 6-32 7zM-216 -566l-3-1-2-1-2 0 38-8 41-6 42-5 0 1-40 6-38 6zM-223 -568l-2-1-3-1-2-1 41-7 44-6 45-5-1 0 0 1-1 1-42 5-41 6zM-272 -578l-4-1-4 0-4 0 59-8 67-6 81-5-1 1-2 0-1 0-72 5-63 6zM-159 -550l-3 0-3-1-3-1 24-9 26-7 27-7 2 0 1 1 1 0-25 7-24 8zM-186 -557l-3 0-2-1-3-1 30-8 32-7 33-6 1 1 1 0-31 7-30 7z"/>
<path fill="#0075ff" stroke="#0075ff" d="M284 397l-34 3 15-42 35-3zM406 345l-35 3 17-44 36-4zM554 243l-38 4 14-47 39-4zM-174 37l-40-2 2-49 40 2zM-404 -79l-39-4 10-48 38 3zM-509 -239l-34-4 27-46 32 4zM-771 -451l-10 0 29-13 10 0zM-742 -464l-10 0 31-12 10 0zM-711 -476l-10 0 33-12 9 0zM791 -451l-10 0-29-13 9 0zM761 -464l-9 0-31-12 9 0zM730 -476l-9 0-33-12 9 0zM-573 -523l-8 0 39-10 8 0zM-534 -533l-8 0 42-11 7 0zM-493 -544l-7 0 44-9 6 0zM589 -523l-8 0-39-10 8 0zM550 -533l-8 0-42-11 8 0zM508 -544l-8 0-44-9 7 0zM-214 -478l-19-3 44-34 15 2zM-430 -553l-7 0-6 0-7 0 47-10 50-8 54-9 5 1 5 0 5 0-53 8-48 9zM-204 -517l-5-1-5-1-5-1 19-10 20-10 21-10 4 1 3 1 3 0-19 10-19 10z"/>
<path fill="#008aff" stroke="#008aff" d="M250 400l-33 3 13-42 35-3zM-457 -184l-36-4 19-47 35 4zM-516 -289l-33-4 33-44 31 4zM-714 -450l-9 0-10 0-9 0 28-13 30-13 31-12 9 0 8 1 8 0-30 12-29 13zM-280 -401l-26-3 34-39 23 2zM-679 -488l-9 0 34-12 8 0zM-646 -500l-8 0 35-12 9 1zM-610 -511l-9-1 38-11 8 0zM697 -488l-9 0-34-12 9 0zM663 -500l-9 0-35-12 8 0zM627 -512l-8 0-38-11 8 0zM688 -488l-9 0-9 0-8 0-33-12-35-11-36-11 7 0 8-1 8 0 38 11 35 12zM-413 -552l-5 0-6-1-6 0 45-9 48-9 53-8 4 0 4 0 4 1-50 8-47 8z"/>
<path fill="#00b2ff" stroke="#00b2ff" d="M217 403l-33 2 11-42 35-2zM119 409l-33 1 6-42 34-1zM335 352l-35 3 14-44 37-3zM180 230l-39 2 3-48 39-2zM-294 30l-40-4 3-49 40 3zM-250 -260l-34-3 16-46 32 3zM-557 -437l-9-1-8-1-8-1 22-13 24-12 24-13 7 1 7 1 8 1-24 12-22 13zM-272 -443l-22-3 42-37 19 2zM-528 -521l-8-1-7 0-7 0 38-11 39-10 43-10 6 0 6 1 5 0-40 10-39 10zM-313 -539l-5-1-4-1-4-1 32-9 34-9 37-8 2 0 2 1 3 1-34 8-33 9zM-366 -548l-5-1-5 0-5-1 40-9 43-9 46-8 2 1 3 0 3 1-44 8-40 9zM-233 -523l-5-1-5 0-4-1 22-11 23-9 25-9 3 0 3 1 3 1-23 9-22 10zM-247 -525l-5-1-5-1-4-1 24-10 25-10 26-9 3 1 3 1 3 1-25 9-23 9z"/>
<path fill="#00a8ff" stroke="#00a8ff" d="M184 405l-32 2 9-42 34-2zM461 297l-37 3 16-45 38-4zM-173 135l-39-2-2-49 40 2zM-474 -235l-35-4 25-46 33 4zM-268 -309l-31-3 21-44 29 3zM-557 -482l-7-1-8-1-8 0 30-12 30-12 32-11 7 1 6 0 7 1-31 11-30 12zM-381 -550l-5 0-5-1-5 0 42-9 44-9 49-8 3 0 3 1 3 0-46 8-43 9zM-261 -528l-5-1-4-1-4-1 25-10 27-9 28-9 3 1 2 1 3 0-26 9-25 10z"/>
<path fill="#00bdff" stroke="#00bdff" d="M152 407l-33 2 7-42 35-2zM23 369l-34 1-1-44 36 0zM-48 326l-36-1-3-45 37 1zM500 156l-40 4 6-48 40-4zM-131 185l-39-2-3-48 40 2zM-254 82l-40-3 0-49 40 2zM-278 -356l-29-3 27-42 27 3zM-508 -520l-6-1-7 0-7 0 36-11 39-10 40-10 6 0 6 1 5 0-39 10-37 10zM-274 -531l-5-1-4-1-5-1 28-10 28-9 30-8 3 0 2 1 3 1-28 9-27 9zM-326 -542l-5 0-4-1-4-1 34-9 36-9 39-9 2 1 3 1 2 1-37 8-34 9zM-353 -546l-4-1-5 0-4-1 38-9 40-9 44-8 2 0 3 1 2 0-41 9-38 9z"/>
<path fill="#0080ff" stroke="#0080ff" d="M86 410l-32 1 3-42 35-1zM619 144l-40 4 7-49 40-4zM420 164l-39 4 4-48 40-4zM586 99l-40 5 2-49 40-4zM-294 79l-40-3 0-50 40 4zM-371 -26l-39-4 6-49 39 4zM-433 -131l-38-4 14-49 37 4zM-588 -394l-28-3 59-40 25 3zM-742 -450l-10-1-10 0-9 0 29-13 31-12 32-12 9 0 8 0 9 0-31 12-30 13zM781 -451l-10 0-9 0-10 0-29-12-30-13-31-12 8 0 9 0 9 0 33 12 31 12zM-249 -441l-23-2 39-38 19 3zM-550 -522l-8 0-7 0-8-1 39-10 41-11 43-9 7 0 6 0 7 0-43 10-39 10z"/>
<path fill="#006bff" stroke="#006bff" d="M54 411l-32 0 1-42 34 0zM-11 370l-35-1-2-43 36 0zM498 293l-37 4 17-46 38-4zM546 104l-40 4 2-49 40-4zM-134 88l-40-2 0-49 40 2zM-334 26l-40-3 3-49 40 3zM-374 23l-40-4 4-49 39 4zM-227 -211l-36-3 13-46 33 2zM-576 -345l-31-3 47-43 27 4zM-249 -353l-29-3 25-42 26 3zM-582 -440l-9-1-8-1-9-1 24-12 24-13 26-12 7 1 8 0 7 1-24 13-24 12zM-687 -448l-9-1-9 0-9-1 27-12 29-13 30-12 9 0 8 1 8 0-29 12-28 13zM-253 -398l-27-3 31-40 23 3zM662 -488l-9 0-9 0-8 1-32-12-33-12-35-11 7 0 7 0 8 0 36 11 35 11zM-174 -473l-20-3 36-34 16 2zM-194 -476l-20-2 40-35 16 3zM-189 -515l-5-1-5-1-5 0 17-11 19-10 19-10 4 1 3 1 4 0-18 10-17 10zM-230 -571l-2 0-3-1-2-1 44-7 47-6 48-5-1 1-1 0 0 1-45 5-44 6zM-237 -573l-2 0-3-1-2 0 47-8 50-6 52-4-1 0-1 1-1 0-48 5-47 6zM-244 -574l-3-1-3 0-2-1 50-7 54-6 57-5-1 1-2 0-1 1-52 4-50 6zM-177 -554l-3-1-3-1-3-1 28-8 30-7 31-7 1 1 1 0 1 1-29 7-28 7z"/>
<path fill="#0042ff" stroke="#0042ff" d="M442 341l-36 4 18-45 37-3zM-167 230l-38-2-5-47 40 2zM341 171l-39 4 4-49 40-3zM-443 -83l-39-4 11-48 38 4zM-199 -161l-37-2 9-48 36 2zM-493 -188l-36-4 20-47 35 4zM834 -367l-10 0-11 1-11 0-20-14-20-14-22-14 10 0 10-1 10 0 22 14 22 14zM-140 -300l-32-1 12-45 30 2zM-172 -301l-32-3 14-44 30 2zM-204 -304l-32-2 17-44 29 2zM-616 -397l-28-3 62-40 25 3zM-160 -346l-30-2 17-42 27 2zM-608 -443l-8 0-9-1-9-1 25-13 26-12 26-12 8 0 7 1 8 1-26 12-24 13zM536 -522l-8 1-7 0-7 0-35-10-38-11-40-9 6-1 6 0 5 0 42 9 39 11zM-92 -504l-6 0-6-1-5 0 9-11 9-11 10-10 4 0 4 0 5 1-9 10-8 11zM-299 -580l-5 0 61-7 5 0zM-238 -587l-5 0 71-6 4 0zM-168 -593l-4 0 91-5 3 0zM-172 -593l349 0-92-5-166 0zM310 -580l-6 0-61-7 5 0zM248 -587l-5 0-71-6 5 0zM177 -593l-5 0-91-5 4 0zM304 -580l-5 0-5 1-5 0-60-8-68-6-85-5 1 0 1 0 3 0 91 5 71 6zM-138 -546l-4 0-3-1-4-1 21-9 22-8 24-7 2 0 1 1 2 0-22 8-20 8zM-149 -548l-3 0-3-1-4-1 23-9 24-8 25-7 2 1 1 0 2 1-24 7-22 8zM-100 -589l0-1 1 0 1-1 43-2 32 2 23 4-25-4-33-1zM-98 -591l1 0 1-1 1 0 45-2 30 2 20 5-23-4-32-2z"/>
<path fill="#0094ff" stroke="#0094ff" d="M371 348l-36 4 16-44 37-4zM141 232l-38 1 2-47 39-2zM103 233l-39 1 1-47 40-1zM-128 232l-39-2-3-47 39 2zM460 160l-40 4 5-48 41-4zM-52 187l-40-1-1-48 40 1zM-170 183l-40-2-2-48 39 2zM-209 -64l-39-2 5-49 38 2zM-546 -341l-30-4 43-42 28 3zM-233 -481l-19-2 48-34 15 2zM-252 -483l-7-1-6-1-6-1 16-12 18-11 18-11 5 1 5 1 5 1-17 11-16 11zM-396 -551l-5 0-6-1-6 0 44-10 47-8 50-8 4 0 3 0 4 1-49 8-44 9zM-219 -520l-5-1-5-1-4-1 20-10 22-10 23-9 3 1 3 1 3 0-21 10-20 10z"/>
<path fill="#05fffa" stroke="#05fffa" d="M300 355l-35 3 12-44 37-3zM-12 326l-36 0-2-45 38 0zM-291 -20l-40-3 5-49 39 3zM-248 -66l-39-3 6-49 38 3zM-307 -359l-29-3 30-42 26 3zM-468 -517l-7-1-6 0-7-1 34-10 36-11 37-10 5 1 5 0 5 1-36 10-34 10z"/>
<path fill="#4dffb2" stroke="#4dffb2" d="M265 358l-35 3 11-44 36-3zM388 304l-37 4 12-46 38-3zM-451 -281l-33-4 30-44 30 3zM-485 -333l-31-4 39-43 28 4z"/>
<path fill="#75ff8a" stroke="#75ff8a" d="M230 361l-35 2 10-44 36-2zM137 278l-37 1 3-46 38-1zM-287 -69l-39-3 7-49 38 3z"/>
<path fill="#8aff75" stroke="#8aff75" d="M195 363l-34 2 7-44 37-2zM-339 -453l-22-3 53-36 18 3zM-344 -499l-6-1-6-1-5-1 23-11 25-10 25-11 5 1 4 1 5 1-25 10-23 11z"/>
<path fill="#9eff61" stroke="#9eff61" d="M161 365l-35 2 6-44 36-2zM351 308l-37 3 12-45 37-4zM-281 -118l-38-3 9-48 37 3zM-447 -469l-7-1-8-1-7-1 23-12 24-12 26-11 5 1 6 1 6 1-24 11-23 12z"/>
<path fill="#6bff94" stroke="#6bff94" d="M126 367l-34 1 4-44 36-1zM25 281l-37 0-1-46 39-1zM-273 -166l-37-3 12-48 35 3zM-383 -176l-37-4 16-47 35 4zM-396 -507l-6-1-6-1-6-1 28-11 29-10 31-11 4 1 4 1 5 1-29 10-28 11z"/>
<path fill="#38ffc7" stroke="#38ffc7" d="M92 368l-35 1 3-44 36-1zM478 251l-38 4 11-47 39-4zM-12 281l-38 0-1-47 38 1zM451 208l-39 4 8-48 40-4zM-505 -384l-28-3 50-41 25 4zM-317 -450l-22-3 49-36 19 3zM-308 -492l-6-1-6-1-6-1 21-12 21-11 23-10 4 1 5 1 5 1-22 10-20 11z"/>
<path fill="#0ffff0" stroke="#0ffff0" d="M57 369l-34 0 1-43 36-1zM-90 233l-38-1-3-47 39 1zM-512 -478l-7-1-8 0-7-1 27-12 28-12 29-11 6 1 6 1 6 0-28 12-27 11z"/>
<path fill="#1affe5" stroke="#1affe5" d="M424 300l-36 4 13-45 39-4zM530 200l-40 4 10-48 39-4zM335 219l-39 3 6-47 39-4zM-252 -17l-39-3 4-49 39 3zM-420 -180l-37-4 18-47 35 4zM-439 -231l-35-4 23-46 33 4zM-299 -312l-32-3 24-44 29 3zM-450 -515l-6-1-6 0-6-1 32-11 34-10 36-10 4 1 5 0 4 1-34 10-32 10zM-290 -489l-6-1-6-1-6-1 19-12 20-11 22-10 4 1 5 0 5 1-20 11-19 11z"/>
<path fill="#f0ff0f" stroke="#f0ff0f" d="M314 311l-37 3 11-45 38-3zM132 323l-36 1 4-45 37-1zM-362 -318l-31-4 29-43 28 3zM-383 -459l-21-4 60-36 18 4z"/>
<path fill="#ffc700" stroke="#ffc700" d="M277 314l-36 3 9-45 38-3zM-385 -273l-33-4 25-45 31 4z"/>
<path fill="#ffa800" stroke="#ffa800" d="M241 317l-36 2 7-45 38-2zM-393 -369l-28-3 38-42 26 4z"/>
<path fill="#ffbd00" stroke="#ffbd00" d="M205 319l-37 2 7-45 37-2z"/>
<path fill="#fff000" stroke="#fff000" d="M168 321l-36 2 5-45 38-2zM250 272l-38 2 6-46 39-3zM-310 -169l-37-3 13-48 36 3zM-334 -220l-35-3 18-47 33 4zM-351 -270l-34-3 23-45 31 3zM-393 -322l-31-4 31-43 29 4zM-364 -365l-29-4 36-41 25 3z"/>
<path fill="#d1ff2e" stroke="#d1ff2e" d="M96 324l-36 1 2-45 38-1zM-361 -456l-22-3 57-36 18 3z"/>
<path fill="#b3ff4c" stroke="#b3ff4c" d="M60 325l-36 1 1-45 37-1zM-469 -472l-7-1-7-1-7-1 24-12 25-12 27-11 6 1 6 1 6 1-26 11-24 12z"/>
<path fill="#61ff9e" stroke="#61ff9e" d="M24 326l-36 0 0-45 37 0zM-326 -72l-39-3 8-49 38 3zM-284 -263l-34-3 19-46 31 3zM-490 -475l-8-1-7-1-7-1 25-12 27-11 28-12 6 1 6 1 6 1-27 11-25 12zM-379 -504l-6-1-6-1-5-1 26-11 28-11 29-10 4 1 4 1 4 1-27 10-26 10z"/>
<path fill="#0061ff" stroke="#0061ff" d="M-84 325l-36-1-5-46 38 2zM-125 278l-37-1-5-47 39 2zM381 168l-40 3 5-48 39-3zM-13 187l-39 0-1-48 40 0zM626 95l-40 4 2-48 40-5zM-93 138l-40-1-1-49 41 1zM-252 130l-40-3-2-48 40 3zM-205 -113l-38-2 7-48 37 2zM-236 -306l-32-3 19-44 30 3zM863 -411l-11 0-10 0-11 0-25-13-26-14-28-13 10 0 9 0 10 0 29 13 27 13zM-155 -431l-23-2 24-38 21 2zM-178 -433l-24-2 28-38 20 2zM-202 -435l-24-3 32-38 20 3zM581 -523l-8 0-8 1-7 0-38-11-41-10-42-10 6 0 7 0 6 0 44 9 42 11zM-154 -471l-20-2 32-35 16 1zM-126 -507l-5 0-6-1-5 0 12-11 12-11 13-10 4 0 4 1 4 0-11 11-11 10zM-158 -510l-5-1-6-1-5-1 15-10 15-11 17-10 3 1 4 1 4 0-15 10-14 11zM-202 -561l-2-1-3-1-2-1 34-8 36-6 37-6 0 1 1 0 0 1-35 6-34 7zM-209 -564l-3-1-2 0-2-1 36-8 38-6 40-6 0 1 0 1-37 6-36 6zM-252 -576l-3 0-3-1-3 0 53-8 58-6 64-4-2 0-1 1-2 0-57 5-54 6zM-261 -577l-4-1-3 0-4 0 56-8 63-6 72-5-2 1-2 0-1 1-64 4-58 6zM-168 -552l-3-1-3-1-3 0 26-9 28-7 29-7 1 1 1 0 1 1-27 7-26 7z"/>
<path fill="#001aff" stroke="#001aff" d="M592 239l-38 4 15-47 39-4zM-162 277l-38-2-5-47 38 2zM658 140l-39 4 7-49 40-4zM183 182l-39 2 2-48 40-2zM65 187l-39 0 1-48 39-1zM668 42l-40 4-1-49 39-4zM-13 -8l-40-1 1-49 39 0zM-52 -58l-40-1 2-49 39 1zM859 -176l-38 3-26-47 36-3zM831 -223l-36 3-33-47 35-3zM-566 -196l-36-4 24-47 35 4zM867 -275l-35 3-43-46 34-2zM-156 -207l-35-2 8-47 35 2zM-578 -247l-34-4 30-46 33 4zM-614 -300l-33-4 40-44 31 3zM-644 -400l-9-1-10-1-9-1 20-13 22-13 22-14 9 1 8 1 9 1-22 13-20 13zM-790 -410l-10 0-10-1-11 0 25-13 26-14 28-12 9 0 10 0 9 0-27 13-25 14zM696 -449l-9 1-9 0-9 1-26-13-27-13-29-12 8 0 8-1 8 0 30 12 28 12zM-50 -465l-21 0 13-36 17 0zM276 -579l-4 1-4 0-3 0-54-7-61-6-65-5-2 0-2-1-1 0 74 5 65 6zM255 -576l-3 0-2 1-3 0-48-7-52-6-53-5-2 0-1-1-2 0 59 4 56 6zM247 -575l-3 1-2 0-3 1-45-7-48-7-49-4-1-1-1 0-1-1 53 5 52 6zM239 -573l-2 0-2 1-3 1-42-8-44-6-46-5-1 0-1-1-1 0 49 4 48 7zM225 -569l-2 1-2 0-2 1-37-7-40-7-40-5 0-1-1-1 43 5 42 6zM162 -550l-3 0-4 1-3 1-21-9-23-8-24-8 1 0 2-1 1 0 26 7 25 8zM85 -538l-4 1-4 0-4 0-10-10-10-9-11-9 2 0 3 0 2-1 13 9 12 9zM73 -537l-5 1-4 0-4 0-8-10-8-9-9-9 2 0 3-1 2 0 11 9 10 9zM22 -534l-5 0-4 1-4 0-1-11-2-9-1-10 3 0 2 0 3 0 3 9 3 10zM-4 -533l-5 0-4 0-4-1 2-10 2-10 3-9 2 0 3 0 2 0 0 10-1 9zM-17 -534l-5 0-4 0-4 0 4-10 4-10 4-9 3 0 2 0 3 0-3 9-2 10zM76 -598l1 0 1 1 2 0-55 0-16 4-9 6 5-6 10-5zM80 -597l1 0 2 1 2 0-51-1-21 4-13 6 9-6 16-4zM89 -594l2 0 1 1 2 0-46-1-29 2-19 5 16-5 26-4zM94 -593l1 1 1 0 1 1-44-2-31 1-22 5 19-5 29-2zM101 -588l1 1 0 1-39-3-34-1-29 3 27-3 34-1zM101 -583l0 1-1 1-35-4-33-3-32 1 31-1 34 1zM100 -581l-1 1-1 1-33-5-33-3-32 0 32-1 33 3zM74 -570l-2 0-2 1-2 0-20-7-23-6-25-5 27 4 24 6zM68 -569l-2 1-2 0-2 0-19-7-20-7-23-5 25 5 23 6zM62 -568l-2 1-2 0-3 0-16-7-18-7-21-6 23 5 20 7zM55 -567l-2 1-2 0-2 0-14-8-16-7-19-6 21 6 18 7zM35 -564l-3 0-2 0-2 0-8-8-9-8-11-7 13 7 12 7zM-32 -564l-3 0-2 0-3-1 12-8 13-8 15-6-13 7-10 7z"/>
<path fill="#00dbff" stroke="#00dbff" d="M516 247l-38 4 12-47 40-4zM539 152l-39 4 6-48 40-4zM-212 -14l-40-3 4-49 39 2zM-516 -337l-30-4 41-43 28 4zM-560 -391l-28-3 56-40 25 3zM-488 -519l-6 0-7-1-7 0 36-11 37-10 39-10 5 0 5 1 5 0-37 10-36 11z"/>
<path fill="#80ff80" stroke="#80ff80" d="M440 255l-39 4 11-47 39-4zM-331 -315l-31-3 26-44 29 3zM-336 -362l-28-3 32-42 26 3zM-477 -380l-28-4 47-40 25 3zM-507 -431l-25-3 63-38 22 3zM-332 -407l-25-3 40-40 23 4zM-361 -502l-6-1-6-1-6 0 25-12 26-10 27-10 5 0 4 1 4 1-25 11-25 10z"/>
<path fill="#94ff6b" stroke="#94ff6b" d="M401 259l-38 3 10-46 39-4zM175 276l-38 2 4-46 39-2z"/>
<path fill="#e5ff1a" stroke="#e5ff1a" d="M363 262l-37 4 9-47 38-3zM212 274l-37 2 5-46 38-2zM-369 -223l-35-4 19-46 34 3zM-318 -266l-33-4 20-45 32 3zM-357 -410l-26-4 44-39 22 3zM-433 -421l-25-3 54-39 21 4z"/>
<path fill="#fffa00" stroke="#fffa00" d="M326 266l-38 3 8-47 39-3zM288 269l-38 3 7-47 39-3zM-424 -326l-30-3 33-43 28 3zM-404 -463l-8-1-7-1-7-1 21-12 21-12 23-12 5 1 6 1 6 1-21 12-20 12z"/>
<path fill="#57ffa8" stroke="#57ffa8" d="M100 279l-38 1 2-46 39-1zM62 280l-37 1 1-47 38 0zM-357 -124l-38-4 12-48 36 4zM-326 -495l-6-1-6-1-6-2 22-11 23-11 25-10 4 1 4 1 5 1-23 10-21 11z"/>
<path fill="#2effd1" stroke="#2effd1" d="M-50 281l-37-1-3-47 39 1zM-432 -513l-6 0-6-1-6-1 31-11 32-10 34-10 5 1 4 0 5 1-33 10-30 11z"/>
<path fill="#00c7ff" stroke="#00c7ff" d="M-87 280l-38-2-3-46 38 1zM579 148l-40 4 7-48 40-5zM-214 84l-40-2 0-50 40 3zM-331 -23l-40-3 6-49 39 3zM-236 -163l-37-3 10-48 36 3zM-534 -480l-8-1-7-1-8 0 28-12 30-12 31-11 6 1 6 0 6 1-29 11-28 12zM-580 -484l-7-1-8 0-8-1 30-12 32-11 33-11 7 0 7 1 6 0-32 11-30 12z"/>
<path fill="#00d1ff" stroke="#00d1ff" d="M569 196l-39 4 9-48 40-4zM26 234l-39 1 0-48 39 0zM-13 235l-38-1-1-47 39 0zM-92 186l-39-1-2-48 40 1zM-365 -75l-39-4 9-49 38 4zM-395 -128l-38-3 13-49 37 4zM-271 -486l-6-1-7-1-6-1 18-12 19-11 20-11 4 1 5 1 5 1-18 11-18 11zM-288 -534l-4-1-4-1-5 0 29-10 31-9 32-9 2 1 3 1 2 1-30 8-28 9zM-301 -536l-4-1-4-1-4-1 30-10 33-9 34-8 2 1 2 0 3 1-32 9-31 9zM-339 -544l-5-1-4 0-5-1 37-9 38-9 41-9 2 1 3 1 2 0-39 9-36 9z"/>
<path fill="#42ffbd" stroke="#42ffbd" d="M490 204l-39 4 9-48 40-4zM412 212l-39 4 8-48 39-4zM373 216l-38 3 6-48 40-3zM-414 -510l-6-1-6-1-6-1 30-10 30-11 33-10 4 1 4 1 5 0-31 11-29 10z"/>
<path fill="#00f0ff" stroke="#00f0ff" d="M296 222l-39 3 5-47 40-3zM218 228l-38 2 3-48 40-2zM-294 -446l-23-4 46-36 19 3z"/>
<path fill="#00e5ff" stroke="#00e5ff" d="M257 225l-39 3 5-48 39-2zM-214 35l-40-3 2-49 40 3zM-306 -404l-26-3 38-39 22 3zM-603 -486l-8 0-8-1-9 0 32-12 33-11 35-11 7 0 7 0 6 1-33 11-32 11zM-628 -487l-8 0-8-1-9 0 33-12 34-11 36-11 7 0 7 0 8 1-35 11-33 11z"/>
<path fill="#009eff" stroke="#009eff" d="M64 234l-38 0 0-47 39 0zM-133 137l-40-2-1-49 40 2zM-212 133l-40-3-2-48 40 2zM-174 86l-40-2 0-49 40 2zM-653 -488l-9 0-8 0-9 0 33-12 36-11 37-12 8 1 7 0 8 0-36 11-34 11z"/>
<path fill="#00faff" stroke="#00faff" d="M-51 234l-39-1-2-47 40 1zM-254 32l-40-2 3-50 39 3zM-243 -115l-38-3 8-48 37 3zM-263 -214l-35-3 14-46 34 3zM-484 -285l-32-4 31-44 31 4z"/>
<path fill="#004dff" stroke="#004dff" d="M302 175l-40 3 4-49 40-3zM-172 -12l-40-2 3-50 39 2zM-217 -258l-33-2 14-46 32 2zM-549 -293l-33-4 36-44 30 4zM-607 -348l-30-4 49-42 28 3zM-190 -348l-29-2 19-43 27 3zM-219 -350l-30-3 22-42 27 2zM-146 -388l-27-2 18-41 24 2zM-173 -390l-27-3 22-40 23 2zM-200 -393l-27-2 25-40 24 2zM-131 -429l-24-2 22-38 20 1zM456 -553l-6 0-7 0-6 0-46-9-49-9-53-8 5 0 5-1 5 0 55 8 50 9zM-284 -579l-5 0-5 0-5-1 61-7 70-6 90-5 1 0 1 0-1 0-81 5-67 6zM-116 -542l-4 0-4-1-3-1 17-9 18-9 20-8 2 1 2 0 2 1-18 8-17 9zM-127 -544l-4 0-4-1-3-1 19-9 20-8 22-8 2 0 1 1 2 0-20 8-18 9z"/>
<path fill="#dbff24" stroke="#dbff24" d="M-319 -121l-38-3 10-48 37 3zM-426 -466l-7-1-7-1-7-1 21-12 23-12 24-11 6 0 6 1 6 1-23 12-21 12z"/>
<path fill="#faff05" stroke="#faff05" d="M-347 -172l-36-4 14-47 35 3z"/>
<path fill="#c7ff38" stroke="#c7ff38" d="M-298 -217l-36-3 16-46 34 3zM-404 -227l-35-4 21-46 33 4z"/>
<path fill="#bdff42" stroke="#bdff42" d="M-418 -277l-33-4 27-45 31 4zM-454 -329l-31-4 36-43 28 4zM-483 -428l-24-3 60-38 21 3z"/>
<path fill="#24ffdb" stroke="#24ffdb" d="M-533 -387l-27-4 53-40 24 3zM-532 -434l-9-1-8-1-8-1 21-13 22-13 24-12 7 1 7 1 7 1-22 12-21 13z"/>
<path fill="#ff8a00" stroke="#ff8a00" d="M-421 -372l-28-4 41-41 25 3z"/>
<path fill="#ffdb00" stroke="#ffdb00" d="M-449 -376l-28-4 44-41 25 4z"/>
<path fill="#a8ff57" stroke="#a8ff57" d="M-458 -424l-25-4 57-38 22 3z"/>
<path fill="#ffd100" stroke="#ffd100" d="M-383 -414l-25-3 47-39 22 3z"/>
<path fill="#ffb300" stroke="#ffb300" d="M-408 -417l-25-4 50-38 22 3z"/>
</g></g>
<use href="#grid" fill="none" stroke="#d6d6d6" stroke-width="0.7" clip-path="url(#el)"/>
<g font-size="7.3"><text x="-108.5" y="-4.2" text-anchor="middle" fill="#fff" stroke="#666" stroke-width="0.3" paint-order="stroke">60</text>
<text x="-88.6" y="-3.1" text-anchor="middle" fill="#fff" stroke="#666" stroke-width="0.3" paint-order="stroke">30</text>
<text x="-68.7" y="-1.2" text-anchor="middle" fill="#fff" stroke="#666" stroke-width="0.3" paint-order="stroke">0</text>
<text x="-48.8" y="0.9" text-anchor="middle" fill="#fff" stroke="#666" stroke-width="0.3" paint-order="stroke">-30</text>
<text x="-28.8" y="2.8" text-anchor="middle" fill="#fff" stroke="#666" stroke-width="0.3" paint-order="stroke">-60</text>
<text x="-8.7" y="3.8" text-anchor="middle" fill="#fff" stroke="#666" stroke-width="0.3" paint-order="stroke">-90</text>
<text x="11.3" y="3.8" text-anchor="middle" fill="#fff" stroke="#666" stroke-width="0.3" paint-order="stroke">-120</text>
<text x="31.3" y="2.7" text-anchor="middle" fill="#fff" stroke="#666" stroke-width="0.3" paint-order="stroke">-150</text>
<text x="51.3" y="0.8" text-anchor="middle" fill="#fff" stroke="#666" stroke-width="0.3" paint-order="stroke">180</text>
<text x="71.2" y="-1.3" text-anchor="middle" fill="#fff" stroke="#666" stroke-width="0.3" paint-order="stroke">150</text>
<text x="91.1" y="-3.2" text-anchor="middle" fill="#fff" stroke="#666" stroke-width="0.3" paint-order="stroke">120</text>
<text x="111" y="-4.2" text-anchor="middle" fill="#fff" stroke="#666" stroke-width="0.3" paint-order="stroke">90</text>
<text x="-39.8" y="-47.3" text-anchor="middle" fill="#fff" stroke="#666" stroke-width="0.3" paint-order="stroke">60</text>
<text x="-60.6" y="-26.1" text-anchor="middle" fill="#fff" stroke="#666" stroke-width="0.3" paint-order="stroke">30</text>
<text x="-65" y="22.2" text-anchor="middle" fill="#fff" stroke="#666" stroke-width="0.3" paint-order="stroke">-30</text>
<text x="-49.1" y="43.8" text-anchor="middle" fill="#fff" stroke="#666" stroke-width="0.3" paint-order="stroke">-60</text>
<text x="0" y="-60.2" text-anchor="middle" fill="#fff" stroke="#666" stroke-width="0.3" paint-order="stroke">90</text>
<text x="-24" y="57.8" text-anchor="middle" fill="#fff" stroke="#666" stroke-width="0.3" paint-order="stroke">-90</text>
<circle cx="0.6" cy="-24.2" r="1" fill="#8b1a1a"/>
<text x="0.1" y="-26.2" text-anchor="start" fill="#8b1a1a">V1</text>
<circle cx="-2" cy="0" r="1" fill="#8b1a1a"/>
<text x="-3" y="-2.5" text-anchor="start" fill="#8b1a1a">Nose</text>
<circle cx="-20.4" cy="29" r="1" fill="#111"/>
<text x="-20.9" y="27.5" text-anchor="start" fill="#111">V2</text>
<circle cx="118" cy="0" r="1" fill="#8b1a1a"/>
<text x="118.2" y="-2" text-anchor="start" fill="#8b1a1a">Tail</text></g>
</g>
<text x="20.8" y="325.3" font-size="13.6" fill="#000" stroke="#000" stroke-width="0.2">1.7 keV</text>
<rect x="15" y="431.1" width="270" height="4.2" fill="url(#jet)"/>
<rect x="82.2" y="431.1" width="0.5" height="4.2" fill="#222" fill-opacity="0.3"/>
<rect x="149.8" y="431.1" width="0.5" height="4.2" fill="#222" fill-opacity="0.3"/>
<rect x="217.2" y="431.1" width="0.5" height="4.2" fill="#222" fill-opacity="0.3"/>
<g font-size="8.4" fill="#7a1212" stroke="#7a1212" stroke-width="0.15"><text x="15" y="448.5" text-anchor="middle">0</text><text x="82.5" y="448.5" text-anchor="middle">20</text><text x="150" y="448.5" text-anchor="middle">40</text><text x="217.5" y="448.5" text-anchor="middle">60</text><text x="285" y="448.5" text-anchor="middle">80</text></g>
<g transform="translate(450 367.5)">
<ellipse cx="0" cy="0" rx="120.0" ry="60.0" fill="#1b1b1b"/>
<g clip-path="url(#el)"><g transform="scale(0.1)" stroke-width="6" stroke-linejoin="round">
<path fill="#009eff" stroke="#009eff" d="M680 -494l-22 0-34-12-36-11-37-11 19 0 38 11 37 11zM658 -494l-23 0-33-12-34-11-36-11 19 0 37 11 36 11zM-475 -528l-19 0 36-11 37-10 40-9 14 0-38 9-36 10zM-279 -558l-14 0 32-9 36-9 38-7 10 0-37 7-34 9z"/>
<path fill="#0094ff" stroke="#0094ff" d="M635 -494l-23 0-31-12-33-11-35-11 19 0 36 11 34 11zM-228 -528l-19 0 18-11 18-10 20-9 15 0-18 9-18 10z"/>
<path fill="#0057ff" stroke="#0057ff" d="M612 -494l-22 0-31-12-32-11-33-11 19 0 35 11 33 11zM590 -494l-23 0-29-12-31-11-32-11 19 0 33 11 32 11zM-171 -528l-19 0 14-11 14-10 15-9 15 0-14 9-13 10zM-361 -528l-19 0 27-11 29-10 31-9 14 0-29 9-27 10zM-147 -558l-14 0 18-9 19-9 21-7 10 0-20 7-17 9z"/>
<path fill="#0042ff" stroke="#0042ff" d="M567 -494l-23 0-28-12-29-11-31-11 19 0 32 11 31 11zM544 -494l-22 0-27-12-29-11-29-11 19 0 31 11 29 11zM522 -494l-23 0-26-12-27-11-28-11 19 0 29 11 29 11zM437 -528l-19 0-30-11-32-10-33-9 14 0 36 9 33 10zM367 -558l-15 0-39-9-42-9-47-7 9 0 49 7 44 9zM352 -558l-15 0-37-9-41-9-44-7 9 0 47 7 42 9zM337 -558l-14 0-36-9-39-9-43-7 10 0 44 7 41 9zM323 -558l-15 0-34-9-37-9-41-7 9 0 43 7 39 9zM308 -558l-15 0-32-9-36-9-38-7 9 0 41 7 37 9zM-205 -558l-15 0 24-9 27-9 29-7 9 0-27 7-25 9zM-220 -558l-15 0 26-9 29-9 31-7 9 0-29 7-27 9zM-235 -558l-14 0 27-9 30-9 33-7 10 0-31 7-29 9zM-264 -558l-15 0 31-9 34-9 37-7 9 0-35 7-32 9zM-37 -583l-10 0 11-7 13-6 23-4-18 4-11 6zM-47 -583l-9 0 13-7 16-6 27-4-23 4-13 6zM-56 -583l-9 0 15-7 18-6 32-4-27 4-16 6zM-65 -583l-10 0 18-7 21-6 36-4-32 4-18 6zM-75 -583l-9 0 20-7 23-6 41-4-36 4-21 6zM-84 -583l-9 0 22-7 26-6 45-4-41 4-23 6zM-93 -583l-10 0 24-7 29-6 50-4-45 4-26 6zM-103 -583l-9 0 26-7 32-6 54-4-50 4-29 6zM-112 -583l-9 0 28-7 34-6 59-4-54 4-32 6zM-121 -583l-10 0 31-7 37-6 63-4-59 4-34 6zM-131 -583l-9 0 33-7 39-6 68-4-63 4-37 6zM-140 -583l-9 0 35-7 42-6 72-4-68 4-39 6zM-149 -583l-10 0 38-7 44-6 77-4-72 4-42 6zM91 494l-23 0-3 12-4 11-4 11 19 0 5-11 5-11z"/>
<path fill="#0038ff" stroke="#0038ff" d="M499 -494l-23 0-24-12-26-11-27-11 19 0 28 11 27 11zM408 -494l-22 0-20-12-21-11-22-11 19 0 23 11 22 11zM-181 -494l-23 0 10-12 11-11 12-11 19 0-10 11-10 11zM456 -528l-19 0-31-11-33-10-36-9 15 0 37 9 34 10zM381 -558l-14 0-41-9-44-9-49-7 10 0 50 7 46 9zM-249 -558l-15 0 29-9 32-9 35-7 9 0-33 7-30 9zM280 -583l-9 0-64-7-76-6-131-4 135 4 79 6zM-187 -583l-9 0 46-7 55-6 95-4-90 4-53 6zM-196 -583l-9 0 48-7 58-6 99-4-95 4-55 6zM-205 -583l-10 0 51-7 60-6 104-4-99 4-58 6zM-243 -583l-9 0 59-7 71-6 122-4-117 4-69 6zM-252 -583l-9 0 61-7 74-6 126-4-122 4-71 6zM-261 -583l-10 0 64-7 76-6 131-4-126 4-74 6zM-271 -583l-9 0 66-7 79-6 135-4-131 4-76 6zM59 558l-15 0-5 9-5 9-6 7 9 0 8-7 7-9zM44 558l-15 0-3 9-3 9-4 7 9 0 6-7 5-9zM29 558l-14 0-2 9-2 9-2 7 10 0 4-7 3-9z"/>
<path fill="#002eff" stroke="#002eff" d="M476 -494l-22 0-24-12-24-11-26-11 19 0 27 11 26 11zM431 -494l-23 0-21-12-22-11-23-11 19 0 24 11 24 11zM418 -528l-19 0-29-11-30-10-32-9 15 0 33 9 32 10zM152 -528l-19 0-10-11-10-10-10-9 14 0 13 9 11 10zM-152 -528l-19 0 12-11 13-10 14-9 15 0-13 9-11 10zM411 -558l-15 0-44-9-48-9-52-7 9 0 55 7 49 9zM396 -558l-15 0-42-9-46-9-50-7 9 0 52 7 48 9zM279 -558l-15 0-29-9-32-9-35-7 9 0 37 7 34 9zM-132 -558l-15 0 17-9 17-9 20-7 9 0-17 7-16 9zM-161 -558l-15 0 20-9 21-9 23-7 9 0-21 7-19 9zM271 -583l-10 0-61-7-74-6-126-4 131 4 76 6zM261 -583l-9 0-59-7-71-6-122-4 126 4 74 6zM252 -583l-9 0-57-7-69-6-117-4 122 4 71 6zM168 -583l-9 0-38-7-44-6-77-4 81 4 47 6zM159 -583l-10 0-35-7-42-6-72-4 77 4 44 6zM149 -583l-9 0-33-7-39-6-68-4 72 4 42 6zM140 -583l-9 0-31-7-37-6-63-4 68 4 39 6zM131 -583l-10 0-28-7-34-6-59-4 63 4 37 6zM121 -583l-9 0-26-7-32-6-54-4 59 4 34 6zM112 -583l-9 0-24-7-29-6-50-4 54 4 32 6zM103 -583l-10 0-22-7-26-6-45-4 50 4 29 6zM93 -583l-9 0-20-7-23-6-41-4 45 4 26 6zM84 -583l-9 0-18-7-21-6-36-4 41 4 23 6zM75 -583l-10 0-15-7-18-6-32-4 36 4 21 6zM65 -583l-9 0-13-7-16-6-27-4 32 4 18 6zM56 -583l-9 0-11-7-13-6-23-4 27 4 16 6zM47 -583l-10 0-8-7-11-6-18-4 23 4 13 6zM37 -583l-9 0-7-7-7-6-14-4 18 4 11 6zM-19 -583l-9 0 7-7 7-6 14-4-9 4-5 6zM-215 -583l-9 0 53-7 63-6 108-4-104 4-60 6zM-224 -583l-9 0 55-7 65-6 113-4-108 4-63 6zM-233 -583l-10 0 57-7 69-6 117-4-113 4-65 6zM181 494l-22 0-8 12-9 11-9 11 19 0 10-11 10-11zM68 494l-23 0-2 12-2 11-3 11 19 0 4-11 4-11zM76 528l-19 0-4 11-4 10-5 9 15 0 6-9 6-10zM57 528l-19 0-3 11-3 10-3 9 15 0 5-9 4-10zM38 528l-19 0-1 11-2 10-1 9 14 0 3-9 3-10zM147 558l-15 0-15 9-16 9-17 7 9 0 20-7 17-9zM15 558l-15 0 0 9 0 9 0 7 9 0 2-7 2-9zM0 558l-15 0 2 9 2 9 2 7 9 0 0-7 0-9zM93 583l-9 0-20 7-23 6-41 4 45-4 26-6zM84 583l-9 0-18 7-21 6-36 4 41-4 23-6zM75 583l-10 0-15 7-18 6-32 4 36-4 21-6zM65 583l-9 0-13 7-16 6-27 4 32-4 18-6zM56 583l-9 0-11 7-13 6-23 4 27-4 16-6zM47 583l-10 0-8 7-11 6-18 4 23-4 13-6z"/>
<path fill="#0024ff" stroke="#0024ff" d="M454 -494l-23 0-22-12-24-11-24-11 19 0 26 11 24 11zM361 -528l-19 0-25-11-25-10-28-9 15 0 29 9 27 10zM323 -528l-19 0-22-11-23-10-24-9 14 0 26 9 25 10zM-76 -528l-19 0 7-11 7-10 8-9 14 0-6 9-6 10zM-95 -528l-19 0 8-11 9-10 9-9 15 0-8 9-7 10zM264 -558l-15 0-27-9-30-9-33-7 9 0 35 7 32 9zM249 -558l-14 0-26-9-29-9-31-7 10 0 33 7 30 9zM161 -558l-14 0-17-9-17-9-20-7 10 0 21 7 19 9zM88 -558l-15 0-8-9-9-9-9-7 9 0 12 7 10 9zM44 -558l-15 0-3-9-3-9-4-7 9 0 6 7 5 9zM-29 -558l-15 0 5-9 5-9 6-7 9 0-4 7-3 9zM-44 -558l-15 0 7-9 7-9 8-7 9 0-6 7-5 9zM-88 -558l-15 0 12-9 12-9 14-7 9 0-12 7-10 9zM-117 -558l-15 0 15-9 16-9 17-7 9 0-15 7-14 9zM243 -583l-10 0-55-7-65-6-113-4 117 4 69 6zM233 -583l-9 0-53-7-63-6-108-4 113 4 65 6zM224 -583l-9 0-51-7-60-6-104-4 108 4 63 6zM215 -583l-10 0-48-7-58-6-99-4 104 4 60 6zM205 -583l-9 0-46-7-55-6-95-4 99 4 58 6zM28 -583l-9 0-5-7-5-6-9-4 14 4 7 6zM9 -583l-9 0 0-7 0-6 0-4 5 4 2 6zM0 -583l-9 0 2-7 2-6 5-4 0 4 0 6zM-9 -583l-10 0 5-7 5-6 9-4-5 4-2 6zM136 494l-23 0-5 12-7 11-6 11 19 0 8-11 7-11zM113 494l-22 0-5 12-5 11-5 11 19 0 6-11 7-11zM23 494l-23 0 0 12 0 11 0 11 19 0 1-11 2-11zM190 528l-19 0-12 11-13 10-14 9 15 0 15-9 14-10zM133 528l-19 0-8 11-9 10-9 9 15 0 10-9 10-10zM19 528l-19 0 0 11 0 10 0 9 15 0 1-9 2-10zM0 528l-19 0 1 11 2 10 1 9 15 0 0-9 0-10zM-19 528l-19 0 3 11 3 10 3 9 14 0-1-9-2-10zM-57 528l-19 0 5 11 6 10 6 9 15 0-5-9-4-10zM161 558l-14 0-17 9-17 9-20 7 10 0 21-7 19-9zM132 558l-15 0-13 9-14 9-15 7 9 0 17-7 16-9zM117 558l-14 0-12 9-12 9-14 7 10 0 15-7 14-9zM103 558l-15 0-10 9-10 9-12 7 9 0 14-7 12-9zM88 558l-15 0-8 9-9 9-9 7 9 0 12-7 10-9zM73 558l-14 0-7 9-7 9-8 7 10 0 9-7 9-9zM37 583l-9 0-7 7-7 6-14 4 18-4 11-6zM28 583l-9 0-5 7-5 6-9 4 14-4 7-6z"/>
<path fill="#001aff" stroke="#001aff" d="M386 -494l-23 0-19-12-19-11-21-11 19 0 22 11 21 11zM-68 -494l-23 0 5-12 5-11 5-11 19 0-4 11-4 11zM-91 -494l-22 0 5-12 7-11 6-11 19 0-5 11-5 11zM-136 -494l-23 0 8-12 9-11 9-11 19 0-8 11-7 11zM399 -528l-19 0-27-11-29-10-31-9 15 0 32 9 30 10zM380 -528l-19 0-26-11-27-10-29-9 14 0 31 9 29 10zM342 -528l-19 0-23-11-25-10-26-9 15 0 28 9 25 10zM209 -528l-19 0-14-11-14-10-15-9 14 0 17 9 16 10zM133 -528l-19 0-8-11-9-10-9-9 15 0 10 9 10 10zM235 -558l-15 0-24-9-27-9-29-7 9 0 31 7 29 9zM205 -558l-14 0-22-9-22-9-26-7 10 0 27 7 25 9zM191 -558l-15 0-20-9-21-9-23-7 9 0 26 7 22 9zM147 -558l-15 0-15-9-16-9-17-7 9 0 20 7 17 9zM73 -558l-14 0-7-9-7-9-8-7 10 0 9 7 9 9zM59 -558l-15 0-5-9-5-9-6-7 9 0 8 7 7 9zM29 -558l-14 0-2-9-2-9-2-7 10 0 4 7 3 9zM15 -558l-15 0 0-9 0-9 0-7 9 0 2 7 2 9zM-59 -558l-14 0 8-9 9-9 9-7 10 0-8 7-7 9zM19 -583l-10 0-2-7-2-6-5-4 9 4 5 6zM-28 -583l-9 0 8-7 11-6 18-4-14 4-7 6zM-159 -583l-9 0 40-7 47-6 81-4-77 4-44 6zM-168 -583l-9 0 41-7 50-6 86-4-81 4-47 6zM-177 -583l-10 0 44-7 53-6 90-4-86 4-50 6zM227 494l-23 0-10 12-11 11-12 11 19 0 13-11 12-11zM204 494l-23 0-9 12-10 11-10 11 19 0 12-11 11-11zM45 494l-22 0-1 12-2 11-1 11 19 0 3-11 2-11zM0 494l-23 0 1 12 2 11 1 11 19 0 0-11 0-11zM-23 494l-22 0 2 12 2 11 3 11 19 0-1-11-2-11zM-68 494l-23 0 5 12 5 11 5 11 19 0-4-11-4-11zM-91 494l-22 0 5 12 7 11 6 11 19 0-5-11-5-11zM114 528l-19 0-7 11-7 10-8 9 15 0 9-9 9-10zM-38 528l-19 0 4 11 4 10 5 9 15 0-3-9-3-10zM-76 528l-19 0 7 11 7 10 8 9 14 0-6-9-6-10zM-95 528l-19 0 8 11 9 10 9 9 15 0-8-9-7-10zM-15 558l-14 0 3 9 3 9 4 7 10 0-2-7-2-9zM-73 558l-15 0 10 9 10 9 12 7 9 0-9-7-9-9zM-88 558l-15 0 12 9 12 9 14 7 9 0-12-7-10-9z"/>
<path fill="#000fff" stroke="#000fff" d="M363 -494l-23 0-17-12-19-11-19-11 19 0 21 11 19 11zM340 -494l-22 0-17-12-17-11-18-11 19 0 19 11 19 11zM318 -494l-23 0-15-12-16-11-17-11 19 0 18 11 17 11zM295 -494l-23 0-14-12-15-11-15-11 19 0 17 11 16 11zM272 -494l-23 0-12-12-14-11-14-11 19 0 15 11 15 11zM249 -494l-22 0-12-12-12-11-13-11 19 0 14 11 14 11zM136 -494l-23 0-5-12-7-11-6-11 19 0 8 11 7 11zM113 -494l-22 0-5-12-5-11-5-11 19 0 6 11 7 11zM-159 -494l-22 0 9-12 10-11 10-11 19 0-9 11-9 11zM304 -528l-19 0-20-11-22-10-23-9 15 0 24 9 23 10zM247 -528l-19 0-16-11-18-10-18-9 15 0 20 9 18 10zM228 -528l-19 0-15-11-16-10-17-9 15 0 18 9 18 10zM114 -528l-19 0-7-11-7-10-8-9 15 0 9 9 9 10zM19 -528l-19 0 0-11 0-10 0-9 15 0 1 9 2 10zM0 -528l-19 0 1-11 2-10 1-9 15 0 0 9 0 10zM-57 -528l-19 0 5-11 6-10 6-9 15 0-5 9-4 10zM-114 -528l-19 0 10-11 10-10 10-9 15 0-9 9-9 10zM293 -558l-14 0-31-9-34-9-37-7 10 0 38 7 36 9zM220 -558l-15 0-22-9-25-9-27-7 9 0 29 7 27 9zM176 -558l-15 0-18-9-19-9-21-7 9 0 23 7 21 9zM-15 -558l-14 0 3-9 3-9 4-7 10 0-2 7-2 9zM-73 -558l-15 0 10-9 10-9 12-7 9 0-9 7-9 9zM-103 -558l-14 0 13-9 14-9 15-7 10 0-14 7-12 9zM196 -583l-9 0-44-7-53-6-90-4 95 4 55 6zM187 -583l-10 0-41-7-50-6-86-4 90 4 53 6zM177 -583l-9 0-40-7-47-6-81-4 86 4 50 6zM295 494l-23 0-14 12-15 11-15 11 19 0 17-11 16-11zM159 494l-23 0-7 12-7 11-8 11 19 0 9-11 9-11zM95 528l-19 0-5 11-6 10-6 9 14 0 8-9 7-10zM-59 558l-14 0 8 9 9 9 9 7 10 0-8-7-7-9zM121 583l-9 0-26 7-32 6-54 4 59-4 34-6zM112 583l-9 0-24 7-29 6-50 4 54-4 32-6zM103 583l-10 0-22 7-26 6-45 4 50-4 29-6zM-9 583l-10 0 5 7 5 6 9 4-5-4-2-6zM-19 583l-9 0 7 7 7 6 14 4-9-4-5-6zM-28 583l-9 0 8 7 11 6 18 4-14-4-7-6z"/>
<path fill="#0000fa" stroke="#0000fa" d="M227 -494l-23 0-10-12-11-11-12-11 19 0 13 11 12 11zM91 -494l-23 0-3-12-4-11-4-11 19 0 5 11 5 11zM23 -494l-23 0 0-12 0-11 0-11 19 0 1 11 2 11zM-23 -494l-22 0 2-12 2-11 3-11 19 0-1 11-2 11zM285 -528l-19 0-19-11-20-10-22-9 15 0 23 9 22 10zM76 -528l-19 0-4-11-4-10-5-9 15 0 6 9 6 10zM57 -528l-19 0-3-11-3-10-3-9 15 0 5 9 4 10zM38 -528l-19 0-1-11-2-10-1-9 14 0 3 9 3 10zM-38 -528l-19 0 4-11 4-10 5-9 15 0-3 9-3 10zM117 -558l-14 0-12-9-12-9-14-7 10 0 15 7 14 9zM318 494l-23 0-15 12-16 11-17 11 19 0 18-11 17-11zM304 528l-19 0-20 11-22 10-23 9 15 0 24-9 23-10zM-114 528l-19 0 10 11 10 10 10 9 15 0-9-9-9-10zM176 558l-15 0-18 9-19 9-21 7 9 0 23-7 21-9zM-117 558l-15 0 15 9 16 9 17 7 9 0-15-7-14-9zM-132 558l-15 0 17 9 17 9 20 7 9 0-17-7-16-9zM-147 558l-14 0 18 9 19 9 21 7 10 0-20-7-17-9zM131 583l-10 0-28 7-34 6-59 4 63-4 37-6z"/>
<path fill="#0000db" stroke="#0000db" d="M204 -494l-23 0-9-12-10-11-10-11 19 0 12 11 11 11zM408 494l-22 0-20 12-21 11-22 11 19 0 23-11 22-11zM-249 494l-23 0 14 12 15 11 15 11 19 0-14-11-14-11zM-272 494l-23 0 15 12 16 11 17 11 19 0-15-11-15-11zM361 528l-19 0-25 11-25 10-28 9 15 0 29-9 27-10zM342 528l-19 0-23 11-25 10-26 9 15 0 28-9 25-10zM-209 528l-19 0 16 11 18 10 18 9 15 0-17-9-16-10zM264 558l-15 0-27 9-30 9-33 7 9 0 35-7 32-9z"/>
<path fill="#0000f0" stroke="#0000f0" d="M181 -494l-22 0-8-12-9-11-9-11 19 0 10 11 10 11zM-45 -494l-23 0 3-12 4-11 4-11 19 0-3 11-2 11zM171 -528l-19 0-11-11-11-10-13-9 15 0 14 9 13 10zM363 494l-23 0-17 12-19 11-19 11 19 0 21-11 19-11zM340 494l-22 0-17 12-17 11-18 11 19 0 19-11 19-11zM-181 494l-23 0 10 12 11 11 12 11 19 0-10-11-10-11zM-204 494l-23 0 12 12 12 11 13 11 19 0-12-11-11-11zM323 528l-19 0-22 11-23 10-24 9 14 0 26-9 25-10zM285 528l-19 0-19 11-20 10-22 9 15 0 23-9 22-10zM266 528l-19 0-18 11-18 10-20 9 14 0 22-9 20-10zM-133 528l-19 0 11 11 11 10 13 9 14 0-10-9-10-10zM-152 528l-19 0 12 11 13 10 14 9 15 0-13-9-11-10zM-171 528l-19 0 14 11 14 10 15 9 15 0-14-9-13-10zM249 558l-14 0-26 9-29 9-31 7 10 0 33-7 30-9zM205 558l-14 0-22 9-22 9-26 7 10 0 27-7 25-9zM191 558l-15 0-20 9-21 9-23 7 9 0 26-7 22-9zM-84 583l-9 0 22 7 26 6 45 4-41-4-23-6zM-93 583l-10 0 24 7 29 6 50 4-45-4-26-6zM-103 583l-9 0 26 7 32 6 54 4-50-4-29-6z"/>
<path fill="#0005ff" stroke="#0005ff" d="M159 -494l-23 0-7-12-7-11-8-11 19 0 9 11 9 11zM68 -494l-23 0-2-12-2-11-3-11 19 0 4 11 4 11zM45 -494l-22 0-1-12-2-11-1-11 19 0 3 11 2 11zM0 -494l-23 0 1-12 2-11 1-11 19 0 0 11 0 11zM-113 -494l-23 0 7-12 7-11 8-11 19 0-6 11-7 11zM266 -528l-19 0-18-11-18-10-20-9 14 0 22 9 20 10zM190 -528l-19 0-12-11-13-10-14-9 15 0 15 9 14 10zM95 -528l-19 0-5-11-6-10-6-9 14 0 8 9 7 10zM-19 -528l-19 0 3-11 3-10 3-9 14 0-1 9-2 10zM-133 -528l-19 0 11-11 11-10 13-9 14 0-10 9-10 10zM132 -558l-15 0-13-9-14-9-15-7 9 0 17 7 16 9zM103 -558l-15 0-10-9-10-9-12-7 9 0 14 7 12 9zM0 -558l-15 0 2-9 2-9 2-7 9 0 0 7 0 9zM272 494l-23 0-12 12-14 11-14 11 19 0 15-11 15-11zM249 494l-22 0-12 12-12 11-13 11 19 0 14-11 14-11zM-45 494l-23 0 3 12 4 11 4 11 19 0-3-11-2-11zM-113 494l-23 0 7 12 7 11 8 11 19 0-6-11-7-11zM-136 494l-23 0 8 12 9 11 9 11 19 0-8-11-7-11zM-159 494l-22 0 9 12 10 11 10 11 19 0-9-11-9-11zM209 528l-19 0-14 11-14 10-15 9 14 0 17-9 16-10zM-29 558l-15 0 5 9 5 9 6 7 9 0-4-7-3-9zM-44 558l-15 0 7 9 7 9 8 7 9 0-6-7-5-9zM-103 558l-14 0 13 9 14 9 15 7 10 0-14-7-12-9zM19 583l-10 0-2 7-2 6-5 4 9-4 5-6zM9 583l-9 0 0 7 0 6 0 4 5-4 2-6zM0 583l-9 0 2 7 2 6 5 4 0-4 0-6zM-37 583l-10 0 11 7 13 6 23 4-18-4-11-6zM-47 583l-9 0 13 7 16 6 27 4-23-4-13-6z"/>
<path fill="#004dff" stroke="#004dff" d="M-204 -494l-23 0 12-12 12-11 13-11 19 0-12 11-11 11zM440 -558l-15 0-47-9-51-9-56-7 9 0 58 7 53 9zM425 -558l-14 0-46-9-49-9-55-7 10 0 56 7 51 9zM-176 -558l-15 0 22-9 22-9 26-7 9 0-23 7-21 9zM-191 -558l-14 0 22-9 25-9 27-7 10 0-26 7-22 9zM-396 -558l-15 0 46-9 49-9 55-7 9 0-52 7-48 9zM-411 -558l-14 0 47-9 51-9 56-7 10 0-55 7-49 9zM-425 -558l-15 0 49-9 53-9 58-7 9 0-56 7-51 9zM171 528l-19 0-11 11-11 10-13 9 15 0 14-9 13-10zM152 528l-19 0-10 11-10 10-10 9 14 0 13-9 11-10z"/>
<path fill="#008aff" stroke="#008aff" d="M-227 -494l-22 0 12-12 14-11 14-11 19 0-13 11-12 11zM-266 -528l-19 0 20-11 22-10 23-9 15 0-22 9-20 10zM-323 -528l-19 0 25-11 25-10 28-9 15 0-26 9-25 10zM-551 -528l-19 0 41-11 43-10 46-9 15 0-45 9-41 10zM-337 -558l-15 0 39-9 42-9 47-7 9 0-44 7-41 9z"/>
<path fill="#00c7ff" stroke="#00c7ff" d="M-249 -494l-23 0 14-12 15-11 15-11 19 0-14 11-14 11zM-494 -528l-19 0 37-11 39-10 41-9 15 0-40 9-37 10zM-513 -528l-19 0 38-11 40-10 43-9 15 0-41 9-39 10z"/>
<path fill="#00bdff" stroke="#00bdff" d="M-272 -494l-23 0 15-12 16-11 17-11 19 0-15 11-15 11zM-295 -494l-23 0 17-12 17-11 18-11 19 0-17 11-16 11zM-590 -494l-22 0 31-12 33-11 35-11 19 0-33 11-32 11z"/>
<path fill="#00faff" stroke="#00faff" d="M-318 -494l-22 0 17-12 19-11 19-11 19 0-18 11-17 11zM-437 -528l-19 0 33-11 34-10 37-9 15 0-36 9-33 10z"/>
<path fill="#61ff9e" stroke="#61ff9e" d="M-340 -494l-23 0 19-12 19-11 21-11 19 0-19 11-19 11z"/>
<path fill="#42ffbd" stroke="#42ffbd" d="M-363 -494l-23 0 20-12 21-11 22-11 19 0-21 11-19 11z"/>
<path fill="#2effd1" stroke="#2effd1" d="M-386 -494l-22 0 21-12 22-11 23-11 19 0-22 11-21 11zM-454 -494l-22 0 24-12 26-11 27-11 19 0-26 11-24 11zM-476 -494l-23 0 26-12 27-11 28-11 19 0-27 11-26 11z"/>
<path fill="#38ffc7" stroke="#38ffc7" d="M-408 -494l-23 0 22-12 24-11 24-11 19 0-23 11-22 11zM-431 -494l-23 0 24-12 24-11 26-11 19 0-24 11-24 11z"/>
<path fill="#00f0ff" stroke="#00f0ff" d="M-499 -494l-23 0 27-12 29-11 29-11 19 0-28 11-27 11zM-612 -494l-23 0 33-12 34-11 36-11 19 0-35 11-33 11z"/>
<path fill="#00d1ff" stroke="#00d1ff" d="M-522 -494l-22 0 28-12 29-11 31-11 19 0-29 11-29 11zM-544 -494l-23 0 29-12 31-11 32-11 19 0-31 11-29 11zM-567 -494l-23 0 31-12 32-11 33-11 19 0-32 11-31 11zM-456 -528l-19 0 34-11 36-10 38-9 15 0-37 9-34 10z"/>
<path fill="#05fffa" stroke="#05fffa" d="M-635 -494l-23 0 34-12 36-11 37-11 19 0-36 11-34 11z"/>
<path fill="#00a8ff" stroke="#00a8ff" d="M-658 -494l-22 0 35-12 37-11 38-11 19 0-37 11-36 11zM-285 -528l-19 0 22-11 23-10 24-9 15 0-23 9-22 10zM-304 -528l-19 0 23-11 25-10 26-9 14 0-24 9-23 10zM-308 -558l-15 0 36-9 39-9 43-7 9 0-41 7-37 9zM-323 -558l-14 0 37-9 41-9 44-7 10 0-43 7-39 9z"/>
<path fill="#0075ff" stroke="#0075ff" d="M570 -528l-19 0-40-11-41-10-45-9 15 0 46 9 43 10zM551 -528l-19 0-38-11-40-10-43-9 14 0 45 9 41 10zM532 -528l-19 0-37-11-39-10-41-9 15 0 43 9 40 10zM-190 -528l-19 0 15-11 16-10 17-9 14 0-15 9-14 10z"/>
<path fill="#006bff" stroke="#006bff" d="M513 -528l-19 0-36-11-37-10-40-9 15 0 41 9 39 10zM-209 -528l-19 0 16-11 18-10 18-9 15 0-17 9-16 10z"/>
<path fill="#0061ff" stroke="#0061ff" d="M494 -528l-19 0-34-11-36-10-38-9 14 0 40 9 37 10zM475 -528l-19 0-33-11-34-10-37-9 15 0 38 9 36 10zM-247 -528l-19 0 19-11 20-10 22-9 14 0-20 9-18 10z"/>
<path fill="#0080ff" stroke="#0080ff" d="M-342 -528l-19 0 26-11 27-10 29-9 15 0-28 9-25 10zM-352 -558l-15 0 41-9 44-9 49-7 9 0-47 7-42 9zM-367 -558l-14 0 42-9 46-9 50-7 10 0-49 7-44 9zM-381 -558l-15 0 44-9 48-9 52-7 9 0-50 7-46 9z"/>
<path fill="#1affe5" stroke="#1affe5" d="M-380 -528l-19 0 29-11 30-10 32-9 15 0-31 9-29 10z"/>
<path fill="#0ffff0" stroke="#0ffff0" d="M-399 -528l-19 0 30-11 32-10 33-9 15 0-32 9-30 10zM-418 -528l-19 0 31-11 33-10 36-9 14 0-33 9-32 10z"/>
<path fill="#00b2ff" stroke="#00b2ff" d="M-532 -528l-19 0 40-11 41-10 45-9 14 0-43 9-40 10zM-293 -558l-15 0 34-9 37-9 41-7 9 0-38 7-36 9z"/>
<path fill="#0000e6" stroke="#0000e6" d="M386 494l-23 0-19 12-19 11-21 11 19 0 22-11 21-11zM-227 494l-22 0 12 12 14 11 14 11 19 0-13-11-12-11zM247 528l-19 0-16 11-18 10-18 9 15 0 20-9 18-10zM228 528l-19 0-15 11-16 10-17 9 15 0 18-9 18-10zM-190 528l-19 0 15 11 16 10 17 9 14 0-15-9-14-10zM235 558l-15 0-24 9-27 9-29 7 9 0 31-7 29-9zM220 558l-15 0-22 9-25 9-27 7 9 0 29-7 27-9zM-56 583l-9 0 15 7 18 6 32 4-27-4-16-6zM-65 583l-10 0 18 7 21 6 36 4-32-4-18-6zM-75 583l-9 0 20 7 23 6 41 4-36-4-21-6zM-112 583l-9 0 28 7 34 6 59 4-54-4-32-6zM-121 583l-10 0 31 7 37 6 63 4-59-4-34-6z"/>
<path fill="#0000db" stroke="#0000db" d="M205 580l-5 1-5 1-5 0 8-6 11-7 13-8 6 0 7-1 7-1-14 8-13 7zM-106 591l-6 0-5-1-5 0 0-5-6-6-7-8 6 1 7 1 6 0 7 7 4 7zM302 552l-6 1-7 1-7 0 17-9 17-9 16-11 8-1 8 0 8-1-18 10-17 10zM282 554l-7 1-6 1-7 1 16-9 15-10 15-10 8-1 8-1 8-1-16 11-17 9zM-155 569l-6-1-7 0-7-1-10-8-11-10-10-9 8 1 8 1 7 0 10 10 9 9zM356 523l-8 1-8 0-8 1 16-10 15-11 15-12 9-1 9-1 9-1-16 12-16 11zM-206 540l-8-1-7-1-8-1-11-10-11-11-11-11 9 1 9 1 9 1 9 11 10 11zM-229 537l-8-1-8 0-8-1-12-11-12-10-11-11 9 1 8 0 9 1 11 11 11 11zM458 483l-9 1-9 1-9 1 17-12 15-12 15-12 10-1 9-1 10-2-15 13-17 12zM478 450l-30 3 38-39 32-4zM614 401l-32 3 39-42 34-3zM582 404l-32 3 38-42 33-3zM-348 429l-32-4-27-40 34 3zM655 359l-34 3 34-44 36-3zM655 318l-35 4 27-45 37-4zM620 322l-36 4 26-45 37-4zM-324 353l-35-4-16-44 36 4zM-394 346l-36-4-19-44 37 4zM684 273l-37 4 22-46 38-4zM-193 320l-36-2-8-46 37 3zM-229 318l-36-3-10-45 38 2zM-265 315l-37-3-11-45 38 3zM707 227l-38 4 17-47 39-4zM-313 267l-38-4-9-46 38 3zM647 188l-39 4 11-48 39-4zM-322 220l-38-3-8-48 40 4zM658 140l-39 4 7-49 40-4zM619 144l-40 4 7-49 40-4zM302 175l-40 3 4-49 40-3zM262 178l-39 2 3-48 40-3zM223 180l-40 2 3-48 40-2zM105 186l-40 1 1-49 40-1zM-210 181l-39-2-3-49 40 3zM-93 89l-41-1 0-49 41 1zM-294 79l-40-3 0-50 40 4zM1114 -139l-13 1-13 0-13 0-8-16-8-16-10-16 13 0 13-1 13 0 10 16 9 16zM1127 -187l-13 0-13 0-13 0-11-16-11-15-12-16 12 0 13 0 13-1 12 16 12 16zM821 -173l-37 4-26-48 37-3zM-243 -115l-38-3 8-48 37 3zM758 -217l-36 4-29-47 34-3zM-493 -188l-36-4 20-47 35 4zM-1036 -281l-12 0 17-15 12 0zM-1019 -296l-12 0 17-15 12 0zM-1002 -311l-12 0 19-15 11 0zM1060 -281l-12 0-17-15 13 0zM1044 -296l-13 0-17-15 12 0zM1026 -311l-12 0-19-15 12 0zM60 -204l-36 1-1-47 34-1zM-12 -203l-36 0 2-48 35 1zM-578 -247l-34-4 30-46 33 4zM-948 -325l-12-1-12 0-12 0 20-15 20-14 21-14 12 0 11 0 11 0-21 14-19 15zM-250 -260l-34-3 16-46 32 3zM-760 -363l-11-1-10 0-11-1 20-14 20-14 22-14 10 1 9 0 10 1-21 14-19 14zM-792 -365l-10-1-11 0-11-1 21-14 21-14 22-14 10 1 10 0 10 1-22 14-20 14zM617 -349l-31 3-44-42 28-4zM-219 -350l-30-3 22-42 27 2zM416 -418l-25 3-45-39 22-3zM391 -415l-25 4-42-40 22-3zM366 -411l-26 3-38-40 22-3zM314 -405l-26 3-31-39 22-3zM209 -393l-27 2-19-41 23-2zM182 -391l-27 2-16-41 24-2zM128 -387l-27 1-11-41 24-1zM101 -386l-28 1-7-41 24-1zM46 -384l-28 0-2-41 25 0zM-64 -385l-28-1 10-41 25 1zM-92 -386l-27-1 13-41 24 1zM220 -479l-19 3-38-35 16-2zM201 -476l-20 2-34-35 16-2z"/>
<path fill="#0000f0" stroke="#0000f0" d="M190 582l-5 1-5 0-6 1 6-6 10-6 11-8 7-1 7-1 7-1-13 8-11 7zM159 586l-5 0-5 1-6 0 2-5 7-6 9-8 7 0 7-1 6-1-10 8-8 6zM143 587l-5 1-5 1-5 0 0-5 6-6 8-7 6-1 7-1 6-1-9 8-7 6zM-57 596l-6-1-5 0-6-1 4-4-3-6-5-8 6 1 6 0 7 1 3 7 2 6zM262 557l-7 0-6 1-7 1 14-9 14-9 14-10 8-1 8-1 8-1-15 10-15 10zM222 561l-7 1-7 1-7 1 12-9 12-9 12-10 8 0 8-1 8-1-13 10-13 9zM308 528l-8 1-8 1-8 1 14-10 13-11 13-11 9-2 9-1 9-1-14 12-14 11zM284 531l-7 1-8 1-8 1 12-11 12-10 12-11 9-1 9-1 9-1-13 11-13 11zM-115 549l-7-1-8-1-7 0-7-10-7-11-7-10 9 0 8 1 9 1 5 10 6 11zM-137 547l-8-1-7-1-8 0-8-10-8-11-7-11 8 1 9 1 8 1 7 10 7 11zM-160 545l-7-1-8-1-8-1-9-10-9-10-8-11 8 1 9 1 9 0 7 11 8 11zM351 495l-27 4 35-36 30-4zM-158 516l-25-3-21-34 28 2zM-183 513l-26-2-24-35 29 3zM448 453l-29 3 35-39 32-3zM-120 485l-28-2-14-37 31 1zM-176 481l-28-2-19-38 31 2zM-204 479l-29-3-21-38 31 3zM-223 441l-31-3-19-40 34 3zM554 369l-34 3 29-43 35-3zM-173 406l-33-3-13-42 35 3zM-239 401l-34-3-15-42 35 3zM647 277l-37 4 21-46 38-4zM631 235l-39 4 16-47 39-4zM-200 275l-37-3-7-46 39 2zM-205 228l-39-2-5-47 39 2zM-283 223l-39-3-6-47 39 3zM26 187l-39 0 0-48 40 0zM546 104l-40 4 2-49 40-4zM-292 127l-40-3-2-48 40 3zM-214 35l-40-3 2-49 40 3zM-374 23l-40-4 4-49 39 4zM-331 -23l-40-3 6-49 39 3zM-326 -72l-39-3 8-49 38 3zM859 -176l-38 3-26-47 36-3zM-12 -155l-38-1 2-47 36 0zM-457 -184l-36-4 19-47 35 4zM762 -267l-35 4-37-46 33-3zM24 -203l-36 0 1-47 34 0zM-263 -214l-35-3 14-46 34 3zM-614 -300l-33-4 40-44 31 3zM-637 -352l-30-3 51-42 28 3zM-824 -367l-10 0-11-1-11 0 21-14 22-14 23-14 10 0 10 1 10 0-22 14-21 14zM570 -392l-28 4-51-41 25-3zM-119 -387l-27-1 15-41 25 1zM-146 -388l-27-2 18-41 24 2zM279 -444l-22 3-37-38 20-3zM233 -439l-23 3-29-38 20-2zM163 -432l-24 2-19-38 20-2zM139 -430l-25 2-15-39 21-1zM140 -470l-20 2-22-36 17-2zM78 -466l-21 1-11-36 18-1zM-7 -464l-21 0 5-36 17 0zM-28 -464l-22-1 9-36 18 1zM-113 -468l-20-1 24-36 17 1zM194 -516l-5 1-5 1-5 1-15-11-16-10-17-10 4-1 3-1 4 0 18 9 18 11zM179 -513l-5 0-5 1-6 1-13-11-15-10-15-10 4-1 3-1 4 0 17 10 16 10zM163 -511l-5 1-5 0-6 1-12-11-13-11-13-10 3 0 4-1 4 0 15 10 15 10zM-41 -501l-5 0-6 0-6 0 5-12 5-11 5-10 4 0 4 0 5 0-4 11-3 11zM152 -548l-3 0-4 1-3 1-20-9-21-9-22-7 1-1 2 0 2-1 24 8 23 8z"/>
<path fill="#0000e6" stroke="#0000e6" d="M174 584l-5 0-5 1-5 1 4-6 8-6 10-8 7-1 7 0 6-1-11 8-10 6zM-40 597l-6 0-6-1-5 0 3-5-2-6-3-7 6 0 6 0 6 1 2 7 2 6zM-74 594l-5 0-6-1-5 0 3-5-4-6-6-7 7 0 6 1 6 0 5 8 3 6zM-90 593l-6-1-5 0-5-1 1-4-4-7-7-7 7 1 6 0 6 1 6 7 4 6zM201 564l-6 1-7 0-7 1 11-8 11-9 11-10 7-1 8-1 8-1-12 10-12 9zM181 566l-6 1-7 1-7 0 10-8 10-9 9-9 8-1 8-1 8-1-11 10-11 9zM-135 571l-7 0-6-1-7-1-9-8-9-9-10-10 8 1 8 1 7 1 8 9 9 9zM332 525l-8 1-8 1-8 1 15-10 14-11 14-12 9-1 9-1 9-1-15 12-15 11zM-183 542l-7 0-8-1-8-1-10-10-10-11-9-11 8 1 9 1 9 1 8 11 9 10zM405 489l-27 3 41-36 29-3zM-209 511l-26-3-27-35 29 3zM-233 476l-29-3-23-38 31 3zM550 407l-32 3 36-41 34-4zM518 410l-32 4 34-42 34-3zM-285 435l-32-3-22-40 33 3zM-317 432l-31-3-25-41 34 4zM621 362l-33 3 32-43 35-4zM588 365l-34 4 30-43 36-4zM-306 395l-33-3-20-43 35 4zM-339 392l-34-4-21-42 35 3zM584 326l-35 3 24-44 37-4zM-184 364l-35-3-10-43 36 2zM-219 361l-34-2-12-44 36 3zM-253 359l-35-3-14-44 37 3zM-288 356l-36-3-15-44 37 3zM-359 349l-35-3-18-44 37 3zM-302 312l-37-3-12-46 38 4zM669 231l-38 4 16-47 39-4zM-275 270l-38-3-9-47 39 3zM183 182l-39 2 2-48 40-2zM65 187l-39 0 1-48 39-1zM-170 183l-40-2-2-48 39 2zM586 99l-40 5 2-49 40-4zM506 108l-40 4 2-49 40-4zM227 34l-40 2-1-49 39-2zM-254 32l-40-2 3-50 39 3zM-414 19l-40-4 4-49 40 4zM-291 -20l-40-3 5-49 39 3zM-410 -30l-40-4 7-49 39 4zM1075 -138l-13 1-13 0-13 0-8-16-8-16-9-16 13 0 12-1 13 0 10 16 8 16zM1036 -137l-13 1-13 1-13 0-8-16-8-16-8-16 12-1 13 0 13-1 9 16 8 16zM997 -135l-39 2-24-48 39-2zM958 -133l-39 3-22-49 37-2zM-365 -75l-39-4 9-49 38 4zM26 -107l-39 0 1-48 37 0zM-433 -131l-38-4 14-49 37 4zM1092 -235l-13 1-13 0-12 0-14-16-14-15-15-16 12 0 13 0 12 0 15 15 15 16zM62 -156l-37 1-1-48 36-1zM-647 -304l-33-4 43-44 30 4zM690 -309l-32 4-41-44 30-4zM-698 -358l-31-3 57-42 28 3zM586 -346l-30 4-42-43 28-3zM-236 -306l-32-3 19-44 30 3zM514 -385l-28 4-45-41 25-3zM441 -422l-25 4-48-39 22-4zM340 -408l-26 3-35-39 23-4zM155 -389l-27 2-14-41 25-2zM-173 -390l-27-3 22-40 23 2zM368 -457l-22 3-50-36 18-3zM324 -451l-22 3-43-36 18-3zM257 -441l-24 2-32-37 19-3zM210 -436l-24 2-25-38 20-2zM41 -425l-25 0-2-39 21 0zM16 -425l-24 0 1-39 21 0zM-8 -425l-25 0 5-39 21 0zM181 -474l-20 2-30-35 16-2zM120 -468l-21 1-18-36 17-1zM99 -467l-21 1-14-36 17-1zM-50 -465l-21 0 13-36 17 0zM-133 -469l-21-2 28-36 17 2z"/>
<path fill="#0000fa" stroke="#0000fa" d="M128 589l-6 1-5 0-5 1-2-5 5-6 7-7 7-1 6-1 7 0-8 7-6 6zM112 591l-6 0-5 1-5 0-3-4 4-6 6-8 6 0 7-1 6 0-7 7-5 6zM96 592l-6 1-5 0-6 1-3-5 3-6 5-7 6-1 7 0 6-1-6 8-4 6zM242 559l-7 1-7 1-6 0 13-8 13-9 13-10 8-1 8-1 7-1-14 10-14 9zM-97 575l-6-1-6 0-7-1-7-8-7-9-7-9 7 0 8 1 7 1 6 9 6 9zM-116 573l-6 0-7-1-6-1-8-8-9-9-8-9 8 0 7 1 8 1 7 9 7 9zM261 534l-8 1-8 1-8 0 12-10 11-10 11-12 8 0 9-1 9-1-12 11-12 10zM-93 550l-7 0-8-1-7 0-6-10-6-11-5-10 8 0 8 1 9 0 4 11 5 10zM324 499l-27 3 33-36 29-3zM-148 483l-28-2-16-38 30 3zM486 414l-32 3 32-41 34-4zM-131 447l-31-1-11-40 32 2zM-254 438l-31-3-21-40 33 3zM-141 408l-32-2-11-42 35 2zM-273 398l-33-3-18-42 36 3zM610 281l-37 4 19-46 39-4zM-237 272l-38-2-8-47 39 3zM608 192l-39 4 10-48 40-4zM-244 226l-39-3-6-47 40 3zM579 148l-40 4 7-48 40-5zM-13 187l-39 0-1-48 40 0zM-52 187l-40-1-1-48 40 1zM-131 185l-39-2-3-48 40 2zM-249 179l-40-3-3-49 40 3zM-289 176l-39-3-4-49 40 3zM-93 138l-40-1-1-49 41 1zM-134 88l-40-2 0-49 40 2zM-134 39l-40-2 2-49 39 1zM-371 -26l-39-4 6-49 39 4zM-287 -69l-39-3 7-49 38 3zM1088 -187l-13 0-13 1-13 0-10-16-11-16-12-15 12-1 13 0 13 0 12 16 11 15zM897 -179l-38 3-28-47 37-3zM-357 -124l-38-4 12-48 36 4zM-395 -128l-38-3 13-49 37 4zM795 -220l-37 3-31-46 35-4zM1048 -281l-12 0-13 0-12 0-16-15-17-15-18-15 12 0 12 0 11 0 19 15 17 15zM-543 -243l-35-4 29-46 33 4zM-984 -326l-11 0 19-15 12 0zM-964 -341l-12 0 21-14 11 0zM-944 -355l-11 0 21-15 11 1zM1007 -326l-12 0-19-15 12 0zM988 -341l-12 0-21-14 12 0zM967 -355l-12 0-21-15 11 0zM-667 -355l-31-3 54-42 28 3zM-856 -368l-11 0-11-1-11 0 22-14 22-14 24-14 11 0 10 1 10 0-23 14-22 14zM-889 -369l-11 0-11 0-12 0 23-15 23-14 25-13 10 0 11 0 10 0-24 14-22 14zM647 -353l-30 4-47-43 27-3zM542 -388l-28 3-48-40 25-4zM466 -425l-25 3-51-39 22-3zM390 -461l-22 4-54-36 18-3zM346 -454l-22 3-47-36 19-3zM302 -448l-23 4-39-38 19-2zM114 -428l-24 1-12-39 21-1zM66 -426l-25 1-6-39 22-1zM-33 -425l-24-1 7-39 22 1zM-106 -428l-25-1 18-39 21 2zM-131 -429l-24-2 22-38 20 1zM-155 -431l-23-2 24-38 21 2zM240 -482l-20 3-41-34 15-3zM57 -465l-22 1-6-36 17-1zM35 -464l-21 0-2-36 17 0zM14 -464l-21 0 1-36 18 0zM279 -532l-5 1-4 1-4 1-25-10-25-10-27-8 2-1 3-1 3-1 28 9 28 9zM98 -504l-6 0-5 1-6 0-7-11-7-11-7-11 4 0 4 0 5-1 9 11 8 11zM81 -503l-6 1-5 0-6 0-5-11-6-11-6-11 5 0 4 0 4-1 7 11 7 11zM12 -500l-6 0-6 0-6 0 1-12 0-11 1-10 4 0 4 0 5 0 1 10 1 11zM-23 -500l-6 0-6-1-6 0 4-11 3-11 4-11 4 0 4 0 5 0-2 11-2 11zM162 -550l-3 0-4 1-3 1-21-9-23-8-24-8 1 0 2-1 1 0 26 7 25 8zM73 -537l-5 1-4 0-4 0-8-10-8-9-9-9 2 0 3-1 2 0 11 9 10 9zM60 -536l-4 1-4 0-5 0-6-10-6-10-7-9 2 0 2 0 3 0 9 9 8 9zM35 -534l-5 0-4 0-4 0-3-10-3-10-3-9 2 0 3 0 2 0 5 9 5 10zM9 -533l-5 0-4 0-4 0 0-11 1-9 0-10 3 0 3 0 2 0 1 10 2 9zM-30 -534l-5 0-4 0-4 0 5-11 6-9 7-10 2 1 3 0 2 0-4 9-4 10zM-43 -534l-4-1-5 0-4 0 7-10 8-10 9-9 2 0 2 0 3 0-7 10-6 9zM-102 -586l0-1 41-3 34 0 27 3-29-2-34 0zM79 -571l-2 0-2 0-1 1-23-7-24-6-27-4 28 4 27 5z"/>
<path fill="#000fff" stroke="#000fff" d="M79 594l-5 0-6 1-5 0-4-4 3-6 4-8 6 0 6-1 6 0-5 7-3 6zM-6 598l-5 0-6 0-6 0 2-5-1-6-2-8 6 0 6 1 6 0 1 7 0 6zM-41 579l-6-1-6 0-6 0-4-8-4-9-4-10 7 1 7 0 7 0 3 10 3 9zM237 536l-8 1-8 1-7 1 10-10 10-11 10-11 9-1 9-1 9-1-11 12-11 10zM78 551l-7 0-7 1-7 0 3-10 3-10 3-11 8 0 8 0 8-1-3 11-4 10zM141 517l-25 2 13-35 28-2zM419 456l-30 3 34-38 31-4zM389 459l-30 4 32-39 32-3zM330 466l-29 3 26-38 32-3zM-70 450l-31-1-7-40 32 1zM-101 449l-30-2-10-39 33 1zM-192 443l-31-2-16-40 33 2zM486 376l-34 4 25-43 36-4zM-108 409l-33-1-8-42 34 1zM-115 367l-34-1-7-44 36 2zM-149 366l-35-2-9-44 37 2zM573 285l-37 4 18-46 38-4zM592 239l-38 4 15-47 39-4zM-162 277l-38-2-5-47 38 2zM341 171l-39 4 4-49 40-3zM-252 130l-40-3-2-48 40 3zM-254 82l-40-3 0-49 40 2zM1011 -185l-13 1-13 0-12 1-10-16-11-16-11-15 12-1 13-1 12 0 12 16 11 15zM-420 -180l-37-4 18-47 35 4zM797 -270l-35 3-39-45 33-3zM-509 -239l-34-4 27-46 32 4zM-582 -297l-32-3 38-45 30 4zM-607 -348l-30-4 49-42 28 3zM708 -359l-30 3-53-42 28-3zM-644 -400l-9-1-10-1-9-1 20-13 22-13 22-14 9 1 8 1 9 1-22 13-20 13zM682 -403l-10 0-9 1-10 1-20-13-20-14-22-13 8-1 9-1 8 0 23 13 22 13zM597 -395l-27 3-54-40 25-3zM616 -443l-8 0-9 1-8 1-23-13-24-12-25-13 8 0 7-1 8-1 26 12 24 13zM516 -432l-25 3-58-38 21-3zM350 -500l-6 1-6 2-6 1-21-12-22-11-23-10 4-1 4-1 5-1 25 10 23 11zM332 -496l-6 1-6 1-6 1-20-12-20-11-22-10 5-1 4-1 5-1 23 10 22 11zM314 -493l-6 1-6 1-6 1-19-12-19-11-20-11 5 0 4-1 5-1 22 10 20 11zM296 -490l-6 1-6 1-7 1-17-12-17-11-19-11 5-1 4-1 5-1 20 11 19 11zM259 -484l-19 2-46-34 15-2zM357 -547l-4 1-5 1-4 0-35-9-37-9-40-8 3-1 2-1 2 0 42 8 39 9zM292 -535l-4 1-5 1-4 1-26-10-28-9-28-9 2-1 3 0 2-1 31 8 29 10zM252 -526l-5 1-4 1-5 0-21-10-22-10-24-9 3-1 3 0 3-1 25 9 24 10zM238 -524l-5 1-4 1-5 1-20-10-20-10-22-9 3-1 3-1 3-1 24 9 22 10zM131 -507l-5 0-6 1-5 0-10-11-10-10-10-11 4 0 4-1 4 0 12 10 11 11zM115 -506l-6 1-5 0-6 1-8-11-8-11-9-11 4 0 4 0 4-1 10 11 10 10zM29 -500l-6 0-6 0-5 0-1-12-1-11-1-10 4 0 4-1 5 0 2 11 3 11zM-142 -508l-5-1-6-1-5 0 13-11 14-11 15-10 4 1 3 0 4 1-13 10-12 11zM-174 -513l-5 0-5-1-5-1 16-11 17-10 18-10 3 1 4 1 4 0-17 10-15 11zM265 -578l-4 1-3 0-3 1-51-8-56-6-59-4-1-1-2 0-1-1 65 5 61 6zM212 -565l-3 1-2 1-3 1-32-8-35-7-36-6 1 0 0-1 38 5 37 7zM197 -560l-3 1-3 1-2 1-29-9-30-7-32-6 1-1 1-1 34 6 32 7zM109 -541l-4 1-4 0-4 1-13-10-14-9-15-9 3 0 2 0 2-1 17 9 15 9zM97 -539l-4 0-4 1-4 0-11-10-12-9-13-9 2 0 2 0 2-1 15 9 14 9zM22 -534l-5 0-4 1-4 0-1-11-2-9-1-10 3 0 2 0 3 0 3 9 3 10zM-4 -533l-5 0-4 0-4-1 2-10 2-10 3-9 2 0 3 0 2 0 0 10-1 9zM-56 -535l-4-1-4 0-4 0 8-10 10-10 10-9 3 1 2 0 3 0-9 9-8 10zM-105 -540l-4-1-3 0-4-1 15-9 17-9 18-8 2 0 2 0 2 1-16 8-15 9zM-127 -544l-4 0-4-1-3-1 19-9 20-8 22-8 2 0 1 1 2 0-20 8-18 9zM-149 -548l-3 0-3-1-4-1 23-9 24-8 25-7 2 1 1 0 2 1-24 7-22 8zM101 -583l0 1-1 1-35-4-33-3-32 1 31-1 34 1zM100 -581l-1 1-1 1-33-5-33-3-32 0 32-1 33 3zM92 -576l-1 1-2 0-1 1-28-6-29-5-31-2 31 2 31 3zM49 -566l-2 1-3 0-2 0-12-8-14-8-16-6 19 6 16 7zM20 -563l-2 0-3 0-2 0-4-9-4-8-5-7 8 7 6 8zM5 -563l-2 0-3 0-3 0 1-9 1-8 1-7 2 7 2 8zM-18 -563l-2 0-3 0-2-1 7-8 8-8 10-7-7 7-6 8zM-72 -570l-2 0-1-1-2 0 23-7 26-5 28-4-26 4-24 6zM-82 -572l-2-1-1 0-2-1 28-6 29-5 30-2-29 3-28 5zM-91 -575l-1-1-1 0-1-1 31-5 31-4 32-1-31 2-31 4z"/>
<path fill="#002eff" stroke="#002eff" d="M63 595l-6 1-5 0-6 1-3-5 1-6 3-8 6 0 6 0 7-1-4 8-3 6zM46 597l-6 0-6 0-5 1-3-5 2-6 1-8 6 0 6 0 6-1-3 8-1 6zM122 573l-6 0-7 1-6 0 6-8 7-9 6-9 8-1 7 0 8-1-8 9-7 9zM12 580l-6 0-6 0-6 0 0-8-1-9 0-10 7 0 7 0 7 0-1 10 0 8zM57 552l-7 0-7 1-8 0 2-10 2-10 2-11 8 0 8 0 9-1-3 11-3 10zM35 553l-7 0-7 0-7 0 1-9 1-11 0-10 9-1 8 0 8 0-2 11-2 10zM166 515l-25 2 16-35 28-2zM66 521l-25 1 5-34 27-1zM214 478l-29 2 17-37 31-3zM157 482l-28 2 12-37 31-2zM129 484l-28 2 10-38 30-1zM73 487l-27 1 4-38 30 0zM46 488l-28 0 2-37 30-1zM-9 488l-28 0-3-37 30 0zM-37 488l-27-1-6-37 30 1zM-64 487l-28-1-9-37 31 1zM391 424l-32 4 25-41 34-3zM296 434l-31 3 19-40 33-3zM-10 451l-30 0-3-40 32 0zM418 384l-34 3 22-42 36-4zM384 387l-33 4 20-43 35-3zM-43 411l-33-1-4-42 34 1zM257 225l-39 3 5-48 39-2zM103 233l-39 1 1-47 40-1zM-128 232l-39-2-3-47 39 2zM500 156l-40 4 6-48 40-4zM420 164l-39 4 4-48 40-4zM941 -230l-37 2-37-47 35-2zM-347 -172l-36-4 14-47 35 3zM974 -280l-12 1-12 0-12 1-15-16-16-15-17-15 12 0 11 0 12-1 17 15 17 15zM-474 -235l-35-4 25-46 33 4zM678 -356l-31 3-50-42 28-3zM-616 -397l-28-3 62-40 25 3zM519 -479l-7 1-7 1-7 1-25-12-26-12-27-11 6-1 6-1 6 0 28 11 27 11zM454 -470l-7 1-7 1-7 1-21-12-22-12-23-12 6-1 6 0 6-1 24 11 23 12zM456 -516l-6 1-6 1-6 1-30-11-31-11-33-10 4 0 5-1 4-1 35 10 33 11zM402 -508l-6 1-5 1-6 1-26-11-26-11-28-10 4-1 4-1 5-1 29 10 28 11zM-174 -473l-20-3 36-34 16 2zM437 -553l-7 0-6 0-6 1-44-10-47-9-51-8 4 0 4 0 5 0 53 8 49 9zM-189 -515l-5-1-5-1-5 0 17-11 19-10 19-10 4 1 3 1 4 0-18 10-17 10zM-272 -578l-4-1-4 0-4 0 59-8 67-6 81-5-1 1-2 0-1 0-72 5-63 6zM304 -580l-5 0-5 1-5 0-60-8-68-6-85-5 1 0 1 0 3 0 91 5 71 6zM255 -576l-3 0-2 1-3 0-48-7-52-6-53-5-2 0-1-1-2 0 59 4 56 6zM247 -575l-3 1-2 0-3 1-45-7-48-7-49-4-1-1-1 0-1-1 53 5 52 6zM232 -571l-2 0-2 1-3 1-39-8-42-6-43-5 0-1-1 0 0-1 46 5 44 6zM131 -544l-4 0-3 1-4 1-16-10-17-9-19-8 2 0 2-1 2 0 20 8 19 8zM-68 -536l-5-1-4 0-4 0 11-10 11-10 12-8 3 0 2 0 2 0-10 9-10 10zM-168 -552l-3-1-3-1-3 0 26-9 28-7 29-7 1 1 1 0 1 1-27 7-26 7zM-186 -557l-3 0-2-1-3-1 30-8 32-7 33-6 1 1 1 0-31 7-30 7zM-99 -580l-1-1-1-1 36-4 34-2 31 1-32 0-33 2zM-86 -595l1-1 2 0 2-1 53 0 18 4 10 6-14-6-23-3zM89 -594l2 0 1 1 2 0-46-1-29 2-19 5 16-5 26-4zM94 -593l1 1 1 0 1 1-44-2-31 1-22 5 19-5 29-2zM97 -591l1 0 1 1 1 0-43-2-32 1-25 4 22-5 31-1zM-53 -566l-2-1-3 0-2 0 18-8 20-7 22-5-20 6-18 7zM-97 -579l-1 0-1-1 34-5 33-2 32 0-32 0-33 3z"/>
<path fill="#0024ff" stroke="#0024ff" d="M29 598l-6 0-6 0-6 0-1-5 1-6 1-7 6-1 6 0 5 0-1 8-2 6zM142 571l-7 0-6 1-7 1 8-9 7-9 8-9 7-1 8 0 7-1-8 9-9 9zM103 574l-6 1-7 0-6 1 5-8 6-9 5-9 8-1 7 0 7-1-6 9-7 9zM84 576l-6 0-6 1-6 0 4-8 4-9 4-9 8 0 7-1 7 0-5 9-6 9zM66 577l-7 1-6 0-6 0 4-8 3-8 3-10 7 0 7-1 7 0-4 9-4 9zM167 544l-7 1-8 0-7 1 7-10 7-10 7-11 9-1 8-1 9 0-8 10-8 11zM122 548l-7 1-7 0-8 1 6-10 5-11 5-10 8-1 8 0 9-1-6 11-6 10zM14 553l-7 0-7 0-7 0 0-9-1-11 0-10 8 0 8 0 8 0 0 10-1 11zM-7 553l-7 0-7 0-7 0-2-10-1-10-2-11 8 0 9 1 8 0 0 10 1 11zM-50 552l-7 0-7 0-7-1-4-9-4-11-3-10 8 0 8 0 9 1 2 10 3 11zM271 504l-27 3 28-35 29-3zM116 519l-26 1 11-34 28-2zM16 523l-24 0-1-35 27 0zM185 480l-28 2 15-37 30-2zM-80 368l-35-1-5-43 36 1zM536 289l-38 4 18-46 38-4zM569 196l-39 4 9-48 40-4zM539 152l-39 4 6-48 40-4zM381 168l-40 3 5-48 39-3zM-92 186l-39-1-2-48 40 1zM831 -223l-36 3-33-47 35-3zM960 -326l-12 1-11 0-12 0-18-15-20-14-20-14 11-1 11 0 11 0 21 14 20 15zM-549 -293l-33-4 36-44 30 4zM-760 -409l-10 0-10-1-10 0 24-13 25-14 27-13 9 1 9 0 9 1-25 13-24 13zM625 -398l-28 3-56-40 25-3zM541 -435l-25 3-62-38 22-3zM498 -476l-8 1-7 1-7 1-24-12-24-12-26-11 6-1 6-1 6-1 27 11 26 12zM476 -473l-7 1-7 1-8 1-22-12-23-12-24-11 6-1 5-1 6-1 26 11 24 12zM420 -511l-6 1-6 1-6 1-27-11-28-11-29-10 4-1 4-1 5 0 31 10 30 10zM331 -542l-5 0-4 1-4 1-32-9-33-10-34-8 2-1 2 0 2-1 38 8 35 9zM305 -537l-4 1-5 0-4 1-28-9-29-10-31-8 3-1 2-1 3-1 32 9 31 9zM289 -579l-5 0-4 0-4 0-57-7-65-6-74-5-2 0-1-1-1 0 85 5 68 6zM276 -579l-4 1-4 0-3 0-54-7-61-6-65-5-2 0-2-1-1 0 74 5 65 6zM225 -569l-2 1-2 0-2 1-37-7-40-7-40-5 0-1-1-1 43 5 42 6zM189 -557l-3 0-3 1-3 1-27-8-28-8-30-7 1 0 1-1 1 0 32 6 30 7zM-81 -537l-4-1-4 0-4-1 12-9 13-10 15-8 2 0 2 0 2 1-12 8-11 10zM-93 -539l-4 0-4-1-4 0 14-10 15-9 16-8 2 0 3 0 2 1-15 8-13 10zM-159 -550l-3 0-3-1-3-1 24-9 26-7 27-7 2 0 1 1 1 0-25 7-24 8zM-81 -597l1 0 2 0 1-1 59 0 11 5 7 6-10-6-18-4zM-77 -598l1 0-1 0-1 0 70 0 5 5 3 6-7-6-11-5zM81 -598l-3 0-1 0-1 0-61 0-10 5-5 6 1-6 3-5zM80 -597l1 0 2 1 2 0-51-1-21 4-13 6 9-6 16-4zM85 -596l1 1 2 0 1 1-47-2-26 4-16 5 13-6 21-4zM100 -590l0 1 1 0 0 1-40-3-34 1-27 3 25-4 32-1zM102 -586l0 1 0 1-38-4-34-1-30 2 29-3 34 1zM74 -570l-2 0-2 1-2 0-20-7-23-6-25-5 27 4 24 6zM42 -565l-2 0-3 1-2 0-10-9-12-7-13-7 16 6 14 8zM-25 -564l-3 0-2 0-2 0 9-9 10-7 13-7-10 7-8 8zM-40 -565l-2 0-2 0-3 0 14-9 15-7 18-6-15 6-13 8zM-47 -565l-2-1-2 0-2 0 15-8 18-7 20-6-18 6-15 7zM-77 -571l-2 0-1-1-2 0 25-7 28-5 29-3-28 4-26 5z"/>
<path fill="#0005ff" stroke="#0005ff" d="M11 598l-5 0-6 0-6 0 1-5 0-6-1-7 6 0 6 0 6 0-1 7-1 6zM-23 598l-6 0-5-1-6 0 3-5-2-6-2-7 6 0 6 0 5 0 2 8 1 6zM161 568l-6 1-7 1-6 1 8-9 9-9 8-9 8-1 8-1 7 0-9 9-10 9zM-24 579l-5 0-6 0-6 0-3-8-3-9-3-10 7 1 8 0 7 0 1 9 2 9zM-78 576l-6 0-6-1-7 0-6-8-6-9-6-9 7 0 8 1 7 0 5 10 5 8zM214 539l-8 1-8 1-8 1 10-11 9-10 9-11 9-1 8-1 9-1-10 11-10 11zM378 492l-27 3 38-36 30-3zM297 502l-26 2 30-35 29-3zM-33 522l-24 0-7-35 27 1zM-107 519l-25-1-16-35 28 2zM-132 518l-26-2-18-35 28 2zM359 463l-29 3 29-38 32-4zM454 417l-31 4 29-41 34-4zM-162 446l-30-3-14-40 33 3zM520 372l-34 4 27-43 36-4zM-76 410l-32-1-7-42 35 1zM-206 403l-33-2-14-42 34 2zM-167 230l-38-2-5-47 40 2zM-133 137l-40-2-1-49 40 2zM-173 135l-39-2-2-49 40 2zM-212 133l-40-3-2-48 40 2zM-174 86l-40-2 0-49 40 2zM-214 84l-40-2 0-50 40 3zM-174 37l-40-2 2-49 40 2zM1049 -186l-13 0-12 1-13 0-10-16-11-15-12-16 13-1 12 0 13 0 12 15 11 16zM973 -183l-39 2-30-47 37-2zM934 -181l-37 2-29-47 36-2zM-281 -118l-38-3 9-48 37 3zM-319 -121l-38-3 10-48 37 3zM1054 -234l-13 0-13 0-12 1-13-16-14-15-15-16 13 0 12 0 12-1 15 16 14 15zM25 -155l-37 0 0-48 36 0zM-273 -166l-37-3 12-48 35 3zM1011 -281l-12 1-12 0-13 0-15-15-17-15-17-15 12 0 11 0 12-1 18 15 17 15zM723 -312l-33 3-43-44 31-3zM-672 -403l-10 0-9-1-10-1 21-13 23-14 23-13 9 1 9 1 8 0-22 14-22 13zM653 -401l-9 1-9 1-10 1-19-14-20-13-20-13 8-1 8-1 9-1 22 13 20 14zM491 -429l-25 4-54-39 21-3zM-200 -393l-27-2 25-40 24 2zM186 -434l-23 2-23-38 21-2zM90 -427l-24 1-9-39 21-1zM-57 -426l-25-1 11-38 21 0zM-82 -427l-24-1 14-38 21 1zM277 -487l-6 1-6 1-6 1-16-12-16-11-18-11 5-1 5-1 5-1 19 11 17 11zM161 -472l-21 2-25-36 16-1zM-71 -465l-21-1 17-36 17 1zM-92 -466l-21-2 21-36 17 2zM266 -529l-5 1-4 1-5 1-23-10-24-10-25-9 3-1 3-1 3 0 27 8 25 10zM209 -518l-5 1-5 0-5 1-16-10-18-11-18-9 3-1 4-1 3 0 20 9 19 10zM147 -509l-5 1-5 0-6 1-11-11-11-11-12-10 4-1 4 0 4-1 13 10 13 11zM64 -502l-6 1-6 0-6 0-3-11-4-11-4-11 4 0 4 0 4-1 6 11 6 11zM46 -501l-5 0-6 0-6 1-2-12-3-11-2-11 4 0 4 0 5 0 4 11 4 11zM-6 -500l-6 0-5 0-6 0 2-12 2-11 2-11 4 1 4 0 5 0-1 10 0 11zM-58 -501l-6-1-6 0-5 0 6-12 6-11 7-10 4 0 5 0 4 1-5 10-5 11zM-109 -505l-6-1-5 0-6-1 11-11 11-10 11-11 4 1 4 0 4 1-10 10-9 11zM171 -553l-3 1-3 1-3 1-23-9-25-8-26-7 1-1 2 0 1-1 28 7 26 8zM142 -546l-4 0-3 1-4 1-18-10-19-8-20-8 1-1 2 0 2 0 22 7 21 9zM85 -538l-4 1-4 0-4 0-10-10-10-9-11-9 2 0 3 0 2-1 13 9 12 9zM47 -535l-4 1-4 0-4 0-5-10-5-10-5-9 3 0 2-1 3 0 7 9 6 10zM-17 -534l-5 0-4 0-4 0 4-10 4-10 4-9 3 0 2 0 3 0-3 9-2 10zM-116 -542l-4 0-4-1-3-1 17-9 18-9 20-8 2 1 2 0 2 1-18 8-17 9zM-102 -587l1-1 0-1 1 0 42-3 33 1 25 4-27-3-34 0zM101 -588l1 1 0 1-39-3-34-1-29 3 27-3 34-1zM102 -584l0 1-1 0-36-4-34-1-31 1 30-2 34 1zM88 -574l-1 0-2 1-1 0-26-6-28-5-30-3 31 2 29 5zM84 -573l-2 1-2 0-1 1-24-7-27-5-28-4 30 3 28 5zM35 -564l-3 0-2 0-2 0-8-8-9-8-11-7 13 7 12 7zM-3 -563l-2 0-3 0-2 0 3-9 3-8 4-7-1 7-1 8zM-10 -563l-3 0-2 0-3 0 5-9 6-8 7-7-4 7-3 8zM-66 -568l-2-1-2 0-2-1 22-7 24-6 26-4-24 5-22 6zM-87 -574l-1 0-1-1-2 0 29-6 31-4 31-2-30 2-29 5z"/>
<path fill="#0038ff" stroke="#0038ff" d="M47 578l-6 1-6 0-6 0 2-8 2-9 2-9 8 0 7-1 7 0-3 10-3 8zM29 579l-5 0-6 0-6 1 1-9 0-8 1-10 7 0 7 0 7 0-2 9-2 9zM272 472l-29 3 22-38 31-3zM359 428l-32 3 24-40 33-4zM265 437l-32 3 17-40 34-3zM20 451l-30 0-1-40 33 0zM-40 451l-30-1-6-40 33 1zM-11 411l-32 0-3-42 35 1zM477 337l-35 4 19-44 37-4zM-84 325l-36-1-5-46 38 2zM141 232l-38 1 2-47 39-2zM904 -228l-36 2-36-46 35-3zM868 -226l-37 3-34-47 35-2zM-383 -176l-37-4 16-47 35 4zM-576 -345l-31-3 47-43 27 4zM-588 -394l-28-3 59-40 25 3zM-821 -411l-10 0-11 0-10 0 26-14 26-13 29-13 9 0 10 0 10 1-28 12-26 14zM-249 -353l-29-3 25-42 26 3zM591 -441l-9 1-8 1-8 1-22-13-23-13-23-12 7-1 7-1 7-1 25 13 24 12zM566 -438l-9 1-8 1-8 1-21-13-22-13-22-12 7-1 7-1 8-1 23 12 23 13zM542 -481l-8 1-7 1-8 0-26-12-27-11-28-11 6-1 6-1 6-1 30 12 28 11zM494 -519l-6 0-7 1-6 0-33-10-35-11-36-10 5 0 5-1 5 0 38 10 36 10zM385 -505l-6 1-6 0-6 1-24-11-25-10-26-11 4-1 5 0 4-1 28 10 26 11zM-194 -476l-20-2 40-35 16 3zM-214 -478l-19-3 44-34 15 2zM418 -552l-5 0-6 0-6 1-42-10-45-9-49-8 3 0 4 0 4-1 51 8 47 9zM-223 -568l-2-1-3-1-2-1 41-7 44-6 45-5-1 0 0 1-1 1-42 5-41 6zM-261 -577l-4-1-3 0-4 0 56-8 63-6 72-5-2 1-2 0-1 1-64 4-58 6zM-284 -579l-5 0-5 0-5-1 61-7 70-6 90-5 1 0 1 0-1 0-81 5-67 6zM-299 -580l-5 0 61-7 5 0zM-238 -587l-5 0 71-6 4 0zM-168 -593l-4 0 91-5 3 0zM-172 -593l349 0-92-5-166 0zM310 -580l-6 0-61-7 5 0zM248 -587l-5 0-71-6 5 0zM177 -593l-5 0-91-5 4 0zM-78 -598l-3 0 166 0-4 0-77 0-3 5-1 6-3-6-5-5zM98 -579l-1 0-1 1-1 0-31-5-32-3-32-1 32 0 33 3zM95 -578l-1 1-1 1-1 0-30-6-31-3-31-2 32 1 32 3zM-32 -564l-3 0-2 0-3-1 12-8 13-8 15-6-13 7-10 7zM-94 -577l-1-1-1 0-1-1 32-5 33-3 32 0-32 1-31 4z"/>
<path fill="#001aff" stroke="#001aff" d="M-6 580l-6 0-6-1-6 0-1-8-2-9-1-9 7 0 7 0 7 0 0 10 1 9zM-59 578l-7-1-6 0-6-1-5-8-5-8-5-10 7 1 8 0 7 0 4 10 4 9zM190 542l-7 0-8 1-8 1 9-10 8-11 8-10 9-1 8-1 9-1-9 11-9 10zM100 550l-7 0-7 1-8 0 5-10 4-10 3-11 9 0 8-1 9 0-5 10-5 11zM-28 553l-7 0-8 0-7-1-2-9-3-11-2-10 8 0 8 0 8 0 2 11 1 10zM-71 551l-7 0-8 0-7-1-5-10-5-10-4-11 8 1 9 0 8 1 3 10 4 11zM244 507l-26 3 25-35 29-3zM218 510l-26 3 22-35 29-3zM192 513l-26 2 19-35 29-2zM41 522l-25 1 2-35 28 0zM-8 523l-25-1-4-34 28 0zM-57 522l-25-1-10-35 28 1zM-82 521l-25-2-13-34 28 1zM243 475l-29 3 19-38 32-3zM-92 486l-28-1-11-38 30 2zM423 421l-32 3 27-40 34-4zM452 380l-34 4 24-43 35-4zM549 329l-36 4 23-44 37-4zM513 333l-36 4 21-44 38-4zM-120 324l-36-2-6-45 37 1zM-156 322l-37-2-7-45 38 2zM-125 278l-37-1-5-47 39 2zM64 234l-38 0 0-47 39 0zM1016 -233l-13 0-12 0-13 1-12-16-14-15-14-15 12-1 12 0 12-1 15 16 14 15zM995 -326l-11 0-12 0-12 0-19-14-20-15-21-14 11 0 12 0 11-1 21 15 21 14zM756 -315l-33 3-45-44 30-3zM-923 -369l-11-1 23-14 11 0zM-900 -384l-11 0 23-14 11 0zM-877 -398l-11 0 25-13 11 0zM945 -370l-11 0-23-14 12 0zM923 -384l-12 0-23-14 11 0zM899 -398l-11 0-25-13 11 0zM-701 -405l-10-1-9 0-10-1 22-13 24-14 24-13 9 1 9 0 8 1-23 13-23 14zM-730 -407l-10-1-10 0-10-1 24-13 24-13 25-13 9 0 9 1 9 0-24 13-24 14zM433 -467l-7 1-7 1-7 1-20-12-21-12-21-12 6-1 5-1 6-1 23 12 22 12zM412 -464l-22 3-58-35 18-4zM-178 -433l-24-2 28-38 20 2zM438 -513l-6 0-6 1-6 1-28-11-30-10-31-10 4-1 4-1 5-1 33 10 31 11zM367 -503l-6 1-5 1-6 1-23-11-23-11-25-10 4-1 5-1 4-1 26 11 25 10zM-154 -471l-20-2 32-35 16 1zM344 -545l-5 1-4 1-4 1-33-10-35-9-38-8 3-1 2-1 2 0 40 8 37 9zM318 -540l-5 1-4 1-4 1-30-10-31-9-32-9 2 0 2-1 3-1 34 8 33 10zM224 -521l-5 1-5 1-5 1-18-11-19-10-20-9 3-1 4-1 3 0 22 9 20 10zM-75 -502l-6-1-6 0-5-1 7-11 8-11 9-10 4 0 4 0 4 1-7 10-6 11zM-92 -504l-6 0-6-1-5 0 9-11 9-11 10-10 4 0 4 0 5 1-9 10-8 11zM-126 -507l-5 0-6-1-5 0 12-11 12-11 13-10 4 0 4 1 4 0-11 11-11 10zM-158 -510l-5-1-6-1-5-1 15-10 15-11 17-10 3 1 4 1 4 0-15 10-14 11zM-252 -576l-3 0-3-1-3 0 53-8 58-6 64-4-2 0-1 1-2 0-57 5-54 6zM239 -573l-2 0-2 1-3 1-42-8-44-6-46-5-1 0-1-1-1 0 49 4 48 7zM219 -567l-3 1-2 1-2 0-35-7-37-7-38-5 0-1 0-1 40 5 40 7zM204 -562l-2 1-3 0-2 1-31-8-32-7-34-6 1-1 0-1 36 6 35 7zM180 -555l-3 1-3 0-3 1-25-8-26-8-28-7 1 0 1-1 1-1 30 7 28 8zM120 -542l-4 0-4 1-3 0-15-9-15-9-17-9 2 0 2 0 2-1 19 8 17 9zM-138 -546l-4 0-3-1-4-1 21-9 22-8 24-7 2 0 1 1 2 0-22 8-20 8zM-101 -582l0-1-1 0 0-1 37-4 35-1 30 2-31-1-34 2zM-102 -584l0-1 0-1 39-3 34 0 29 2-30-2-35 1zM-100 -589l0-1 1 0 1-1 43-2 32 2 23 4-25-4-33-1zM-91 -594l2 0 1-1 2 0 49-1 23 3 14 6-17-5-27-3zM76 -598l1 0 1 1 2 0-55 0-16 4-9 6 5-6 10-5zM68 -569l-2 1-2 0-2 0-19-7-20-7-23-5 25 5 23 6zM62 -568l-2 1-2 0-3 0-16-7-18-7-21-6 23 5 20 7zM55 -567l-2 1-2 0-2 0-14-8-16-7-19-6 21 6 18 7zM28 -564l-3 0-2 1-3 0-6-9-6-8-8-7 11 7 9 8zM13 -563l-3 0-2 0-3 0-1-9-2-8-2-7 5 7 4 8zM-60 -567l-2-1-2 0-2 0 20-8 22-6 24-5-22 5-20 7z"/>
<path fill="#004dff" stroke="#004dff" d="M145 546l-8 1-7 0-8 1 7-10 6-10 6-11 8-1 9 0 8-1-7 11-7 10zM327 431l-31 3 21-40 34-3zM233 440l-31 3 15-40 33-3zM202 443l-30 2 12-40 33-2zM317 394l-33 3 16-42 35-3zM371 348l-36 4 16-44 37-4zM92 368l-35 1 3-44 36-1zM57 369l-34 0 1-43 36-1zM26 234l-39 1 0-48 39 0zM925 -325l-12 1-11 0-12 0-17-14-19-15-20-14 11-1 11 0 11 0 20 14 20 14zM-268 -309l-31-3 21-44 29 3zM-634 -445l-8-1-9 0-9-1 26-13 26-12 28-12 8 0 8 1 7 1-26 12-26 12zM696 -449l-9 1-9 0-9 1-26-13-27-13-29-12 8 0 8-1 8 0 30 12 28 12zM669 -447l-9 0-9 1-9 0-25-12-26-13-27-12 8-1 8 0 7-1 29 12 27 13zM642 -446l-8 1-9 1-9 1-24-13-24-13-26-12 7-1 8 0 7-1 27 12 26 13zM-202 -435l-24-3 32-38 20 3zM-233 -481l-19-2 48-34 15 2zM-430 -553l-7 0-6 0-7 0 47-10 50-8 54-9 5 1 5 0 5 0-53 8-48 9zM-450 -553l-6 0 47-10 6 0zM-403 -563l-6 0 50-9 6 1zM-353 -571l-6-1 55-8 5 0zM463 -553l-7 0-47-10 7 0zM416 -563l-7 0-50-9 6 0zM365 -572l-6 0-55-8 6 0zM456 -553l-6 0-7 0-6 0-46-9-49-9-53-8 5 0 5-1 5 0 55 8 50 9zM-194 -559l-3-1-2-1-3 0 32-8 34-7 35-6 1 1 1 1-33 6-32 7zM-202 -561l-2-1-3-1-2-1 34-8 36-6 37-6 0 1 1 0 0 1-35 6-34 7zM-237 -573l-2 0-3-1-2 0 47-8 50-6 52-4-1 0-1 1-1 0-48 5-47 6z"/>
<path fill="#0042ff" stroke="#0042ff" d="M90 520l-24 1 7-34 28-1zM301 469l-29 3 24-38 31-3zM101 486l-28 1 7-37 31-2zM18 488l-27 0-1-37 30 0zM50 450l-30 1 2-40 32 0zM351 391l-34 3 18-42 36-4zM554 243l-38 4 14-47 39-4zM490 204l-39 4 9-48 40-4zM218 228l-38 2 3-48 40-2zM180 230l-39 2 3-48 39-2zM460 160l-40 4 5-48 41-4zM978 -232l-12 0-13 1-12 1-12-16-13-16-14-15 12 0 12-1 12 0 14 15 14 15zM832 -272l-35 2-41-45 33-3zM739 -361l-31 2-55-42 29-2zM-790 -410l-10 0-10-1-11 0 25-13 26-14 28-12 9 0 10 0 9 0-27 13-25 14zM-278 -356l-29-3 27-42 27 3zM-227 -395l-26-3 27-40 24 3zM-253 -398l-27-3 31-40 23 3zM587 -485l-7 1-8 0-8 1-28-12-30-11-31-12 6 0 7-1 6 0 33 11 31 11zM564 -483l-7 1-8 0-7 1-28-12-28-11-30-12 6 0 6-1 7-1 31 12 30 11zM475 -518l-7 1-6 1-6 0-31-10-33-11-35-10 5 0 4-1 5-1 36 10 35 11zM401 -551l-5 0-5 0-5 1-41-10-43-8-47-8 3-1 3 0 4-1 49 8 45 9zM386 -550l-5 0-5 1-5 0-39-9-41-9-44-8 3 0 2-1 3 0 47 8 43 8zM371 -549l-5 1-4 1-5 0-37-9-39-9-42-8 3-1 2 0 3-1 44 8 41 9zM-209 -564l-3-1-2 0-2-1 36-8 38-6 40-6 0 1 0 1-37 6-36 6zM-216 -566l-3-1-2-1-2 0 38-8 41-6 42-5 0 1-40 6-38 6zM-230 -571l-2 0-3-1-2-1 44-7 47-6 48-5-1 1-1 0 0 1-45 5-44 6zM-244 -574l-3-1-3 0-2-1 50-7 54-6 57-5-1 1-2 0-1 1-52 4-50 6zM-98 -591l1 0 1-1 1 0 45-2 30 2 20 5-23-4-32-2zM-95 -592l1-1 2 0 1-1 47-1 27 3 17 5-20-5-30-2z"/>
<path fill="#006bff" stroke="#006bff" d="M172 445l-31 2 11-40 32-2zM284 397l-34 3 15-42 35-3zM406 345l-35 3 17-44 36-4zM516 247l-38 4 12-47 40-4zM-90 233l-38-1-3-47 39 1zM938 -278l-12 0-12 1-12 0-14-15-15-15-17-15 12-1 11 0 11-1 17 15 16 15zM902 -277l-11 1-12 0-12 1-14-15-15-15-15-15 11-1 11 0 11-1 17 15 15 15zM867 -275l-35 3-43-46 34-2zM536 -522l-8 1-7 0-7 0-35-10-38-11-40-9 6-1 6 0 5 0 42 9 39 11zM-233 -523l-5-1-5 0-4-1 22-11 23-9 25-9 3 0 3 1 3 1-23 9-22 10z"/>
<path fill="#0061ff" stroke="#0061ff" d="M141 447l-30 1 8-39 33-2zM111 448l-31 2 6-40 33-1zM23 369l-34 1-1-44 36 0zM-11 370l-35-1-2-43 36 0zM-48 326l-36-1-3-45 37 1zM-87 280l-38-2-3-46 38 1zM-13 235l-38-1-1-47 39 0zM890 -324l-11 1-11 0-12 1-17-15-18-14-19-15 11 0 11-1 10 0 20 14 19 15zM789 -318l-33 3-48-44 31-2zM-299 -312l-32-3 24-44 29 3zM-852 -411l-11 0 26-14 11 0zM-826 -425l-11 0 27-13 10 0zM-800 -438l-10 0 29-13 10 0zM874 -411l-11 0-26-14 10 0zM847 -425l-10 0-27-13 10 0zM820 -438l-10 0-29-13 10 0zM770 -409l-10 0-10 1-10 0-23-13-23-13-25-13 9-1 9 0 9-1 26 13 24 13zM711 -406l-10 1-10 1-9 1-21-14-22-13-23-13 9-1 9-1 8-1 24 14 23 13zM-608 -443l-8 0-9-1-9-1 25-13 26-12 26-12 8 0 7 1 8 1-26 12-24 13zM-226 -438l-23-3 35-37 20 2zM-249 -441l-23-2 39-38 19 3zM514 -521l-6 1-7 0-7 1-34-11-36-10-38-10 5-1 5 0 5 0 40 9 38 11zM-261 -528l-5-1-4-1-4-1 25-10 27-9 28-9 3 1 2 1 3 0-26 9-25 10z"/>
<path fill="#0057ff" stroke="#0057ff" d="M80 450l-30 0 4-39 32-1zM22 411l-33 0 0-41 34-1zM-46 369l-34-1-4-43 36 1zM498 293l-37 4 17-46 38-4zM478 251l-38 4 11-47 39-4zM530 200l-40 4 10-48 39-4zM296 222l-39 3 5-47 40-3zM-51 234l-39-1-2-47 40 1zM-310 -169l-37-3 13-48 36 3zM-439 -231l-35-4 23-46 33 4zM856 -322l-11 1-11 0-11 1-17-15-17-14-18-15 10 0 11-1 10-1 19 15 18 14zM-284 -263l-34-3 19-46 31 3zM-516 -289l-33-4 33-44 31 4zM934 -370l-11 1-12 0-11 0-22-14-23-14-24-14 11 0 10 0 11 0 25 13 23 14zM900 -369l-11 0-11 0-11 1-21-15-23-14-23-13 10-1 11 0 10 0 24 14 23 14zM802 -366l-10 1-11 1-10 0-19-14-20-14-21-14 9 0 10-1 10-1 22 14 20 14zM-560 -391l-28-3 56-40 25 3zM740 -408l-10 1-10 1-9 0-22-13-23-13-24-14 9 0 9-1 9 0 25 13 23 13zM-660 -447l-9 0-9-1-9 0 27-13 28-13 29-12 8 1 8 0 7 1-28 12-26 12zM636 -487l-8 0-9 0-8 1-31-12-32-11-34-12 7 0 7 0 8-1 35 11 33 12zM611 -486l-8 0-8 1-8 0-29-12-31-11-33-11 7-1 7 0 6-1 34 12 32 11zM-326 -542l-5 0-4-1-4-1 34-9 36-9 39-9 2 1 3 1 2 1-37 8-34 9zM-204 -517l-5-1-5-1-5-1 19-10 20-10 21-10 4 1 3 1 3 0-19 10-19 10zM-177 -554l-3-1-3-1-3-1 28-8 30-7 31-7 1 1 1 0 1 1-29 7-28 7z"/>
<path fill="#0080ff" stroke="#0080ff" d="M250 400l-33 3 13-42 35-3zM152 407l-33 2 7-42 35-2zM119 409l-33 1 6-42 34-1zM86 410l-32 1 3-42 35-1zM442 341l-36 4 18-45 37-3zM424 300l-36 4 13-45 39-4zM-12 326l-36 0-2-45 38 0zM373 216l-38 3 6-48 40-3zM-280 -401l-26-3 34-39 23 2zM-272 -443l-22-3 42-37 19 2zM-313 -539l-5-1-4-1-4-1 32-9 34-9 37-8 2 0 2 1 3 1-34 8-33 9zM-396 -551l-5 0-6-1-6 0 44-10 47-8 50-8 4 0 3 0 4 1-49 8-44 9zM-413 -552l-5 0-6-1-6 0 45-9 48-9 53-8 4 0 4 0 4 1-50 8-47 8z"/>
<path fill="#008aff" stroke="#008aff" d="M217 403l-33 2 11-42 35-2zM461 297l-37 3 16-45 38-4zM175 276l-38 2 4-46 39-2zM62 280l-37 1 1-47 38 0zM-404 -227l-35-4 21-46 33 4zM-318 -266l-33-4 20-45 32 3zM-546 -341l-30-4 43-42 28 3zM723 -450l-9 0-9 1-9 0-27-13-28-12-30-12 8-1 9 0 8 0 30 12 30 12zM-573 -523l-8 0 39-10 8 0zM-534 -533l-8 0 42-11 7 0zM-493 -544l-7 0 44-9 6 0zM589 -523l-8 0-39-10 8 0zM550 -533l-8 0-42-11 8 0zM508 -544l-8 0-44-9 7 0zM-252 -483l-7-1-6-1-6-1 16-12 18-11 18-11 5 1 5 1 5 1-17 11-16 11zM-274 -531l-5-1-4-1-5-1 28-10 28-9 30-8 3 0 2 1 3 1-28 9-27 9zM-301 -536l-4-1-4-1-4-1 30-10 33-9 34-8 2 1 2 0 3 1-32 9-31 9zM-381 -550l-5 0-5-1-5 0 42-9 44-9 49-8 3 0 3 1 3 0-46 8-43 9z"/>
<path fill="#009eff" stroke="#009eff" d="M184 405l-32 2 9-42 34-2zM161 365l-35 2 6-44 36-2zM25 281l-37 0-1-46 39-1zM-533 -387l-27-4 53-40 24 3zM-582 -440l-9-1-8-1-9-1 24-12 24-13 26-12 7 1 8 0 7 1-24 13-24 12zM688 -488l-9 0-9 0-8 0-33-12-35-11-36-11 7 0 8-1 8 0 38 11 35 12zM-508 -520l-6-1-7 0-7 0 36-11 39-10 40-10 6 0 6 1 5 0-39 10-37 10zM-339 -544l-5-1-4 0-5-1 37-9 38-9 41-9 2 1 3 1 2 0-39 9-36 9z"/>
<path fill="#0075ff" stroke="#0075ff" d="M54 411l-32 0 1-42 34 0zM335 352l-35 3 14-44 37-3zM388 304l-37 4 12-46 38-3zM-12 281l-38 0-1-47 38 1zM-50 281l-37-1-3-47 39 1zM451 208l-39 4 8-48 40-4zM412 212l-39 4 8-48 39-4zM335 219l-39 3 6-47 39-4zM-298 -217l-36-3 16-46 34 3zM-334 -220l-35-3 18-47 33 4zM823 -320l-34 2-50-43 32-3zM867 -368l-11 0-11 0-11 1-20-14-22-14-22-14 10-1 10 0 10 0 23 13 23 14zM834 -367l-10 0-11 1-11 0-20-14-20-14-22-14 10 0 10-1 10 0 22 14 22 14zM771 -364l-11 1-10 1-11 1-18-15-19-14-20-13 9-1 10-1 10-1 21 14 20 14zM-687 -448l-9-1-9 0-9-1 27-12 29-13 30-12 9 0 8 1 8 0-29 12-28 13zM581 -523l-8 0-8 1-7 0-38-11-41-10-42-10 6 0 7 0 6 0 44 9 42 11zM558 -522l-8 0-7 0-7 0-37-10-39-11-42-9 6-1 6 0 7 0 42 10 41 10zM-219 -520l-5-1-5-1-4-1 20-10 22-10 23-9 3 1 3 1 3 0-21 10-20 10z"/>
<path fill="#00d1ff" stroke="#00d1ff" d="M300 355l-35 3 12-44 37-3zM-557 -437l-9-1-8-1-8-1 22-13 24-12 24-13 7 1 7 1 8 1-24 12-22 13zM-557 -482l-7-1-8-1-8 0 30-12 30-12 32-11 7 1 6 0 7 1-31 11-30 12zM-580 -484l-7-1-8 0-8-1 30-12 32-11 33-11 7 0 7 1 6 0-32 11-30 12zM-488 -519l-6 0-7-1-7 0 36-11 37-10 39-10 5 0 5 1 5 0-37 10-36 11z"/>
<path fill="#00e5ff" stroke="#00e5ff" d="M265 358l-35 3 11-44 36-3zM-364 -365l-29-4 36-41 25 3z"/>
<path fill="#0ffff0" stroke="#0ffff0" d="M230 361l-35 2 10-44 36-2zM-331 -315l-31-3 26-44 29 3zM-505 -384l-28-3 50-41 25 4zM-336 -362l-28-3 32-42 26 3zM-532 -434l-9-1-8-1-8-1 21-13 22-13 24-12 7 1 7 1 7 1-22 12-21 13zM-450 -515l-6-1-6 0-6-1 32-11 34-10 36-10 4 1 5 0 4 1-34 10-32 10z"/>
<path fill="#00dbff" stroke="#00dbff" d="M195 363l-34 2 7-44 37-2zM132 323l-36 1 4-45 37-1zM212 274l-37 2 5-46 38-2zM-351 -270l-34-3 23-45 31 3zM-742 -450l-10-1-10 0-9 0 29-13 31-12 32-12 9 0 8 0 9 0-31 12-30 13zM-306 -404l-26-3 38-39 22 3z"/>
<path fill="#0094ff" stroke="#0094ff" d="M126 367l-34 1 4-44 36-1zM137 278l-37 1 3-46 38-1zM100 279l-38 1 2-46 39-1zM-369 -223l-35-4 19-46 34 3zM863 -411l-11 0-10 0-11 0-25-13-26-14-28-13 10 0 9 0 10 0 29 13 27 13zM-771 -451l-10 0 29-13 10 0zM-742 -464l-10 0 31-12 10 0zM-711 -476l-10 0 33-12 9 0zM791 -451l-10 0-29-13 9 0zM761 -464l-9 0-31-12 9 0zM730 -476l-9 0-33-12 9 0zM662 -488l-9 0-9 0-8 1-32-12-33-12-35-11 7 0 7 0 8 0 36 11 35 11zM-247 -525l-5-1-5-1-4-1 24-10 25-10 26-9 3 1 3 1 3 1-25 9-23 9z"/>
<path fill="#00bdff" stroke="#00bdff" d="M351 308l-37 3 12-45 37-4zM60 325l-36 1 1-45 37-1zM401 259l-38 3 10-46 39-4zM250 272l-38 2 6-46 39-3zM-714 -450l-9 0-10 0-9 0 28-13 30-13 31-12 9 0 8 1 8 0-30 12-29 13zM-332 -407l-25-3 40-40 23 4zM-603 -486l-8 0-8-1-9 0 32-12 33-11 35-11 7 0 7 0 6 1-33 11-32 11zM-290 -489l-6-1-6-1-6-1 19-12 20-11 22-10 4 1 5 0 5 1-20 11-19 11zM-308 -492l-6-1-6-1-6-1 21-12 21-11 23-10 4 1 5 1 5 1-22 10-20 11z"/>
<path fill="#00c7ff" stroke="#00c7ff" d="M314 311l-37 3 11-45 38-3zM96 324l-36 1 2-45 38-1zM-485 -333l-31-4 39-43 28 4zM-307 -359l-29-3 30-42 26 3zM-528 -521l-8-1-7 0-7 0 38-11 39-10 43-10 6 0 6 1 5 0-40 10-39 10zM-271 -486l-6-1-7-1-6-1 18-12 19-11 20-11 4 1 5 1 5 1-18 11-18 11z"/>
<path fill="#00a8ff" stroke="#00a8ff" d="M277 314l-36 3 9-45 38-3zM24 326l-36 0 0-45 37 0zM440 255l-39 4 11-47 39-4zM-484 -285l-32-4 31-44 31 4zM831 -411l-10 0-11 0-10 1-24-14-26-13-27-13 10 0 9 0 10-1 28 13 26 14zM781 -451l-10 0-9 0-10 0-29-12-30-13-31-12 8 0 9 0 9 0 33 12 31 12zM-679 -488l-9 0 34-12 8 0zM-646 -500l-8 0 35-12 9 1zM-610 -511l-9-1 38-11 8 0zM697 -488l-9 0-34-12 9 0zM663 -500l-9 0-35-12 8 0zM627 -512l-8 0-38-11 8 0zM-288 -534l-4-1-4-1-5 0 29-10 31-9 32-9 2 1 3 1 2 1-30 8-28 9zM-366 -548l-5-1-5 0-5-1 40-9 43-9 46-8 2 1 3 0 3 1-44 8-40 9z"/>
<path fill="#05fffa" stroke="#05fffa" d="M241 317l-36 2 7-45 38-2zM168 321l-36 2 5-45 38-2zM326 266l-38 3 8-47 39-3zM-418 -277l-33-4 27-45 31 4zM-507 -431l-25-3 63-38 22 3zM-653 -488l-9 0-8 0-9 0 33-12 36-11 37-12 8 1 7 0 8 0-36 11-34 11zM-317 -450l-22-3 49-36 19 3zM-361 -456l-22-3 57-36 18 3z"/>
<path fill="#38ffc7" stroke="#38ffc7" d="M205 319l-37 2 7-45 37-2zM-396 -507l-6-1-6-1-6-1 28-11 29-10 31-11 4 1 4 1 5 1-29 10-28 11z"/>
<path fill="#00faff" stroke="#00faff" d="M363 262l-37 4 9-47 38-3zM-385 -273l-33-4 25-45 31 4zM-468 -517l-7-1-6 0-7-1 34-10 36-11 37-10 5 1 5 0 5 1-36 10-34 10zM-326 -495l-6-1-6-1-6-2 22-11 23-11 25-10 4 1 4 1 5 1-23 10-21 11z"/>
<path fill="#00f0ff" stroke="#00f0ff" d="M288 269l-38 3 7-47 39-3zM-451 -281l-33-4 30-44 30 3zM-534 -480l-8-1-7-1-8 0 28-12 30-12 31-11 6 1 6 0 6 1-29 11-28 12zM-628 -487l-8 0-8-1-9 0 33-12 34-11 36-11 7 0 7 0 8 1-35 11-33 11zM-414 -510l-6-1-6-1-6-1 30-10 30-11 33-10 4 1 4 1 5 0-31 11-29 10z"/>
<path fill="#2effd1" stroke="#2effd1" d="M-362 -318l-31-4 29-43 28 3zM-490 -475l-8-1-7-1-7-1 25-12 27-11 28-12 6 1 6 1 6 1-27 11-25 12zM-512 -478l-7-1-8 0-7-1 27-12 28-12 29-11 6 1 6 1 6 0-28 12-27 11zM-379 -504l-6-1-6-1-5-1 26-11 28-11 29-10 4 1 4 1 4 1-27 10-26 10z"/>
<path fill="#24ffdb" stroke="#24ffdb" d="M-393 -322l-31-4 31-43 29 4zM-424 -326l-30-3 33-43 28 3zM-454 -329l-31-4 36-43 28 4zM-383 -459l-21-4 60-36 18 4z"/>
<path fill="#00b2ff" stroke="#00b2ff" d="M-516 -337l-30-4 41-43 28 4zM800 -410l-10 0-10 0-10 1-24-14-24-13-26-13 9 0 9-1 9 0 27 13 26 13zM752 -451l-10 1-9 0-10 0-27-13-30-12-30-12 8-1 9 0 9 0 31 12 30 13zM-294 -446l-23-4 46-36 19 3zM-550 -522l-8 0-7 0-8-1 39-10 41-11 43-9 7 0 6 0 7 0-43 10-39 10zM-353 -546l-4-1-5 0-4-1 38-9 40-9 44-8 2 0 3 1 2 0-41 9-38 9z"/>
<path fill="#6bff94" stroke="#6bff94" d="M-393 -369l-28-3 38-42 26 4zM-357 -410l-26-4 44-39 22 3z"/>
<path fill="#c7ff38" stroke="#c7ff38" d="M-421 -372l-28-4 41-41 25 3z"/>
<path fill="#57ffa8" stroke="#57ffa8" d="M-449 -376l-28-4 44-41 25 4z"/>
<path fill="#4dffb2" stroke="#4dffb2" d="M-477 -380l-28-4 47-40 25 3zM-483 -428l-24-3 60-38 21 3zM-339 -453l-22-3 53-36 18 3z"/>
<path fill="#8aff75" stroke="#8aff75" d="M-458 -424l-25-4 57-38 22 3z"/>
<path fill="#ffd100" stroke="#ffd100" d="M-383 -414l-25-3 47-39 22 3z"/>
<path fill="#fffa00" stroke="#fffa00" d="M-408 -417l-25-4 50-38 22 3z"/>
<path fill="#94ff6b" stroke="#94ff6b" d="M-433 -421l-25-3 54-39 21 4z"/>
<path fill="#f0ff0f" stroke="#f0ff0f" d="M-404 -463l-8-1-7-1-7-1 21-12 21-12 23-12 5 1 6 1 6 1-21 12-20 12z"/>
<path fill="#b3ff4c" stroke="#b3ff4c" d="M-426 -466l-7-1-7-1-7-1 21-12 23-12 24-11 6 0 6 1 6 1-23 12-21 12z"/>
<path fill="#61ff9e" stroke="#61ff9e" d="M-447 -469l-7-1-8-1-7-1 23-12 24-12 26-11 5 1 6 1 6 1-24 11-23 12zM-344 -499l-6-1-6-1-5-1 23-11 25-10 25-11 5 1 4 1 5 1-25 10-23 11z"/>
<path fill="#75ff8a" stroke="#75ff8a" d="M-469 -472l-7-1-7-1-7-1 24-12 25-12 27-11 6 1 6 1 6 1-26 11-24 12z"/>
<path fill="#42ffbd" stroke="#42ffbd" d="M-361 -502l-6-1-6-1-6 0 25-12 26-10 27-10 5 0 4 1 4 1-25 11-25 10z"/>
<path fill="#1affe5" stroke="#1affe5" d="M-432 -513l-6 0-6-1-6-1 31-11 32-10 34-10 5 1 4 0 5 1-33 10-30 11z"/>
</g></g>
<use href="#grid" fill="none" stroke="#d6d6d6" stroke-width="0.7" clip-path="url(#el)"/>
<g font-size="7.3"><text x="-108.5" y="-4.2" text-anchor="middle" fill="#fff" stroke="#666" stroke-width="0.3" paint-order="stroke">60</text>
<text x="-88.6" y="-3.1" text-anchor="middle" fill="#fff" stroke="#666" stroke-width="0.3" paint-order="stroke">30</text>
<text x="-68.7" y="-1.2" text-anchor="middle" fill="#fff" stroke="#666" stroke-width="0.3" paint-order="stroke">0</text>
<text x="-48.8" y="0.9" text-anchor="middle" fill="#fff" stroke="#666" stroke-width="0.3" paint-order="stroke">-30</text>
<text x="-28.8" y="2.8" text-anchor="middle" fill="#fff" stroke="#666" stroke-width="0.3" paint-order="stroke">-60</text>
<text x="-8.7" y="3.8" text-anchor="middle" fill="#fff" stroke="#666" stroke-width="0.3" paint-order="stroke">-90</text>
<text x="11.3" y="3.8" text-anchor="middle" fill="#fff" stroke="#666" stroke-width="0.3" paint-order="stroke">-120</text>
<text x="31.3" y="2.7" text-anchor="middle" fill="#fff" stroke="#666" stroke-width="0.3" paint-order="stroke">-150</text>
<text x="51.3" y="0.8" text-anchor="middle" fill="#fff" stroke="#666" stroke-width="0.3" paint-order="stroke">180</text>
<text x="71.2" y="-1.3" text-anchor="middle" fill="#fff" stroke="#666" stroke-width="0.3" paint-order="stroke">150</text>
<text x="91.1" y="-3.2" text-anchor="middle" fill="#fff" stroke="#666" stroke-width="0.3" paint-order="stroke">120</text>
<text x="111" y="-4.2" text-anchor="middle" fill="#fff" stroke="#666" stroke-width="0.3" paint-order="stroke">90</text>
<text x="-39.8" y="-47.3" text-anchor="middle" fill="#fff" stroke="#666" stroke-width="0.3" paint-order="stroke">60</text>
<text x="-60.6" y="-26.1" text-anchor="middle" fill="#fff" stroke="#666" stroke-width="0.3" paint-order="stroke">30</text>
<text x="-65" y="22.2" text-anchor="middle" fill="#fff" stroke="#666" stroke-width="0.3" paint-order="stroke">-30</text>
<text x="-49.1" y="43.8" text-anchor="middle" fill="#fff" stroke="#666" stroke-width="0.3" paint-order="stroke">-60</text>
<text x="0" y="-60.2" text-anchor="middle" fill="#fff" stroke="#666" stroke-width="0.3" paint-order="stroke">90</text>
<text x="-24" y="57.8" text-anchor="middle" fill="#fff" stroke="#666" stroke-width="0.3" paint-order="stroke">-90</text>
<circle cx="0.6" cy="-24.2" r="1" fill="#8b1a1a"/>
<text x="0.1" y="-26.2" text-anchor="start" fill="#8b1a1a">V1</text>
<circle cx="-2" cy="0" r="1" fill="#8b1a1a"/>
<text x="-3" y="-2.5" text-anchor="start" fill="#8b1a1a">Nose</text>
<circle cx="-20.4" cy="29" r="1" fill="#8b1a1a"/>
<text x="-20.9" y="27.5" text-anchor="start" fill="#8b1a1a">V2</text>
<circle cx="118" cy="0" r="1" fill="#8b1a1a"/>
<text x="118.2" y="-2" text-anchor="start" fill="#8b1a1a">Tail</text></g>
</g>
<text x="325.8" y="322.6" font-size="13.6" fill="#000" stroke="#000" stroke-width="0.2">2.7 keV</text>
<rect x="315" y="431.1" width="270" height="4.2" fill="url(#jet)"/>
<rect x="353.3" y="431.1" width="0.5" height="4.2" fill="#222" fill-opacity="0.3"/>
<rect x="391.9" y="431.1" width="0.5" height="4.2" fill="#222" fill-opacity="0.3"/>
<rect x="430.5" y="431.1" width="0.5" height="4.2" fill="#222" fill-opacity="0.3"/>
<rect x="469" y="431.1" width="0.5" height="4.2" fill="#222" fill-opacity="0.3"/>
<rect x="507.6" y="431.1" width="0.5" height="4.2" fill="#222" fill-opacity="0.3"/>
<rect x="546.2" y="431.1" width="0.5" height="4.2" fill="#222" fill-opacity="0.3"/>
<g font-size="8.4" fill="#7a1212" stroke="#7a1212" stroke-width="0.15"><text x="315" y="448.5" text-anchor="middle">0</text><text x="353.6" y="448.5" text-anchor="middle">5</text><text x="392.1" y="448.5" text-anchor="middle">10</text><text x="430.7" y="448.5" text-anchor="middle">15</text><text x="469.3" y="448.5" text-anchor="middle">20</text><text x="507.9" y="448.5" text-anchor="middle">25</text><text x="546.4" y="448.5" text-anchor="middle">30</text><text x="585" y="448.5" text-anchor="middle">35</text></g>
<g transform="translate(150 517.5)">
<ellipse cx="0" cy="0" rx="120.0" ry="60.0" fill="#1b1b1b"/>
<g clip-path="url(#el)"><g transform="scale(0.1)" stroke-width="6" stroke-linejoin="round">
<path fill="#009eff" stroke="#009eff" d="M680 -494l-22 0-34-12-36-11-37-11 19 0 38 11 37 11zM658 -494l-23 0-33-12-34-11-36-11 19 0 37 11 36 11zM635 -494l-23 0-31-12-33-11-35-11 19 0 36 11 34 11zM567 -494l-23 0-28-12-29-11-31-11 19 0 32 11 31 11zM-204 -494l-23 0 12-12 12-11 13-11 19 0-12 11-11 11zM0 -528l-19 0 1-11 2-10 1-9 15 0 0 9 0 10zM-19 -528l-19 0 3-11 3-10 3-9 14 0-1 9-2 10zM-532 -528l-19 0 40-11 41-10 45-9 14 0-43 9-40 10zM367 -558l-15 0-39-9-42-9-47-7 9 0 49 7 44 9zM352 -558l-15 0-37-9-41-9-44-7 9 0 47 7 42 9zM-132 -558l-15 0 17-9 17-9 20-7 9 0-17 7-16 9zM-176 -558l-15 0 22-9 22-9 26-7 9 0-23 7-21 9zM-249 -558l-15 0 29-9 32-9 35-7 9 0-33 7-30 9zM196 -583l-9 0-44-7-53-6-90-4 95 4 55 6zM187 -583l-10 0-41-7-50-6-86-4 90 4 53 6zM177 -583l-9 0-40-7-47-6-81-4 86 4 50 6z"/>
<path fill="#00d1ff" stroke="#00d1ff" d="M612 -494l-22 0-31-12-32-11-33-11 19 0 35 11 33 11zM-386 -494l-22 0 21-12 22-11 23-11 19 0-22 11-21 11zM-408 -494l-23 0 22-12 24-11 24-11 19 0-23 11-22 11zM-431 -494l-23 0 24-12 24-11 26-11 19 0-24 11-24 11zM-522 -494l-22 0 28-12 29-11 31-11 19 0-29 11-29 11zM-635 -494l-23 0 34-12 36-11 37-11 19 0-36 11-34 11zM-337 -558l-15 0 39-9 42-9 47-7 9 0-44 7-41 9z"/>
<path fill="#00bdff" stroke="#00bdff" d="M590 -494l-23 0-29-12-31-11-32-11 19 0 33 11 32 11zM-318 -494l-22 0 17-12 19-11 19-11 19 0-18 11-17 11zM-266 -528l-19 0 20-11 22-10 23-9 15 0-22 9-20 10zM-342 -528l-19 0 26-11 27-10 29-9 15 0-28 9-25 10zM-293 -558l-15 0 34-9 37-9 41-7 9 0-38 7-36 9zM-68 494l-23 0 5 12 5 11 5 11 19 0-4-11-4-11z"/>
<path fill="#0080ff" stroke="#0080ff" d="M544 -494l-22 0-27-12-29-11-29-11 19 0 31 11 29 11zM522 -494l-23 0-26-12-27-11-28-11 19 0 29 11 29 11zM499 -494l-23 0-24-12-26-11-27-11 19 0 28 11 27 11zM363 -494l-23 0-17-12-19-11-19-11 19 0 21 11 19 11zM-91 -494l-22 0 5-12 7-11 6-11 19 0-5 11-5 11zM-295 -494l-23 0 17-12 17-11 18-11 19 0-17 11-16 11zM19 -528l-19 0 0-11 0-10 0-9 15 0 1 9 2 10zM-190 -528l-19 0 15-11 16-10 17-9 14 0-15 9-14 10zM-228 -528l-19 0 18-11 18-10 20-9 15 0-18 9-18 10zM411 -558l-15 0-44-9-48-9-52-7 9 0 55 7 49 9zM396 -558l-15 0-42-9-46-9-50-7 9 0 52 7 48 9zM264 -558l-15 0-27-9-30-9-33-7 9 0 35 7 32 9zM249 -558l-14 0-26-9-29-9-31-7 10 0 33 7 30 9zM176 -558l-15 0-18-9-19-9-21-7 9 0 23 7 21 9zM-191 -558l-14 0 22-9 25-9 27-7 10 0-26 7-22 9zM-352 -558l-15 0 41-9 44-9 49-7 9 0-47 7-42 9zM-367 -558l-14 0 42-9 46-9 50-7 10 0-49 7-44 9zM23 494l-23 0 0 12 0 11 0 11 19 0 1-11 2-11zM-91 494l-22 0 5 12 7 11 6 11 19 0-5-11-5-11zM380 528l-19 0-26 11-27 10-29 9 14 0 31-9 29-10zM-103 558l-14 0 13 9 14 9 15 7 10 0-14-7-12-9z"/>
<path fill="#0038ff" stroke="#0038ff" d="M476 -494l-22 0-24-12-24-11-26-11 19 0 27 11 26 11zM454 -494l-23 0-22-12-24-11-24-11 19 0 26 11 24 11zM227 -494l-23 0-10-12-11-11-12-11 19 0 13 11 12 11zM532 -528l-19 0-37-11-39-10-41-9 15 0 43 9 40 10zM323 -528l-19 0-22-11-23-10-24-9 14 0 26 9 25 10zM114 -528l-19 0-7-11-7-10-8-9 15 0 9 9 9 10zM-76 -528l-19 0 7-11 7-10 8-9 14 0-6 9-6 10zM-73 -558l-15 0 10-9 10-9 12-7 9 0-9 7-9 9zM-159 -583l-9 0 40-7 47-6 81-4-77 4-44 6zM-168 -583l-9 0 41-7 50-6 86-4-81 4-47 6zM-177 -583l-10 0 44-7 53-6 90-4-86 4-50 6zM476 494l-22 0-24 12-24 11-26 11 19 0 27-11 26-11zM340 494l-22 0-17 12-17 11-18 11 19 0 19-11 19-11zM318 494l-23 0-15 12-16 11-17 11 19 0 18-11 17-11zM-181 494l-23 0 10 12 11 11 12 11 19 0-10-11-10-11zM-272 494l-23 0 15 12 16 11 17 11 19 0-15-11-15-11zM-454 494l-22 0 24 12 26 11 27 11 19 0-26-11-24-11zM532 528l-19 0-37 11-39 10-41 9 15 0 43-9 40-10zM513 528l-19 0-36 11-37 10-40 9 15 0 41-9 39-10zM323 528l-19 0-22 11-23 10-24 9 14 0 26-9 25-10zM247 528l-19 0-16 11-18 10-18 9 15 0 20-9 18-10zM228 528l-19 0-15 11-16 10-17 9 15 0 18-9 18-10zM-76 528l-19 0 7 11 7 10 8 9 14 0-6-9-6-10zM-95 528l-19 0 8 11 9 10 9 9 15 0-8-9-7-10zM-171 528l-19 0 14 11 14 10 15 9 15 0-14-9-13-10zM-304 528l-19 0 23 11 25 10 26 9 14 0-24-9-23-10zM-380 528l-19 0 29 11 30 10 32 9 15 0-31-9-29-10zM-551 528l-19 0 41 11 43 10 46 9 15 0-45-9-41-10zM352 558l-15 0-37 9-41 9-44 7 9 0 47-7 42-9zM264 558l-15 0-27 9-30 9-33 7 9 0 35-7 32-9zM176 558l-15 0-18 9-19 9-21 7 9 0 23-7 21-9zM59 558l-15 0-5 9-5 9-6 7 9 0 8-7 7-9zM-235 558l-14 0 27 9 30 9 33 7 10 0-31-7-29-9zM-249 558l-15 0 29 9 32 9 35 7 9 0-33-7-30-9zM-367 558l-14 0 42 9 46 9 50 7 10 0-49-7-44-9zM-396 558l-15 0 46 9 49 9 55 7 9 0-52-7-48-9zM121 583l-9 0-26 7-32 6-54 4 59-4 34-6zM112 583l-9 0-24 7-29 6-50 4 54-4 32-6zM103 583l-10 0-22 7-26 6-45 4 50-4 29-6zM93 583l-9 0-20 7-23 6-41 4 45-4 26-6zM84 583l-9 0-18 7-21 6-36 4 41-4 23-6zM75 583l-10 0-15 7-18 6-32 4 36-4 21-6zM-9 583l-10 0 5 7 5 6 9 4-5-4-2-6zM-19 583l-9 0 7 7 7 6 14 4-9-4-5-6zM-28 583l-9 0 8 7 11 6 18 4-14-4-7-6z"/>
<path fill="#008aff" stroke="#008aff" d="M431 -494l-23 0-21-12-22-11-23-11 19 0 24 11 24 11zM-136 -494l-23 0 8-12 9-11 9-11 19 0-8 11-7 11zM-181 -494l-23 0 10-12 11-11 12-11 19 0-10 11-10 11zM-227 -494l-22 0 12-12 14-11 14-11 19 0-13 11-12 11zM-272 -494l-23 0 15-12 16-11 17-11 19 0-15 11-15 11zM-494 -528l-19 0 37-11 39-10 41-9 15 0-40 9-37 10zM-513 -528l-19 0 38-11 40-10 43-9 15 0-41 9-39 10zM440 -558l-15 0-47-9-51-9-56-7 9 0 58 7 53 9zM293 -558l-14 0-31-9-34-9-37-7 10 0 38 7 36 9zM-44 -558l-15 0 7-9 7-9 8-7 9 0-6 7-5 9zM-117 -558l-15 0 15-9 16-9 17-7 9 0-15 7-14 9zM-425 -558l-15 0 49-9 53-9 58-7 9 0-56 7-51 9zM408 494l-22 0-20 12-21 11-22 11 19 0 23-11 22-11zM399 528l-19 0-27 11-29 10-31 9 15 0 32-9 30-10zM-59 558l-14 0 8 9 9 9 9 7 10 0-8-7-7-9z"/>
<path fill="#0061ff" stroke="#0061ff" d="M408 -494l-22 0-20-12-21-11-22-11 19 0 23 11 22 11zM181 -494l-22 0-8-12-9-11-9-11 19 0 10 11 10 11zM-23 -494l-22 0 2-12 2-11 3-11 19 0-1 11-2 11zM-249 -494l-23 0 14-12 15-11 15-11 19 0-14 11-14 11zM342 -528l-19 0-23-11-25-10-26-9 15 0 28 9 25 10zM247 -528l-19 0-16-11-18-10-18-9 15 0 20 9 18 10zM228 -528l-19 0-15-11-16-10-17-9 15 0 18 9 18 10zM209 -528l-19 0-14-11-14-10-15-9 14 0 17 9 16 10zM171 -528l-19 0-11-11-11-10-13-9 15 0 14 9 13 10zM133 -528l-19 0-8-11-9-10-9-9 15 0 10 9 10 10zM95 -528l-19 0-5-11-6-10-6-9 14 0 8 9 7 10zM-95 -528l-19 0 8-11 9-10 9-9 15 0-8 9-7 10zM-114 -528l-19 0 10-11 10-10 10-9 15 0-9 9-9 10zM-15 -558l-14 0 3-9 3-9 4-7 10 0-2 7-2 9zM9 -583l-9 0 0-7 0-6 0-4 5 4 2 6zM-9 -583l-10 0 5-7 5-6 9-4-5 4-2 6zM-149 -583l-10 0 38-7 44-6 77-4-72 4-42 6zM431 494l-23 0-21 12-22 11-23 11 19 0 24-11 24-11zM136 494l-23 0-5 12-7 11-6 11 19 0 8-11 7-11zM113 494l-22 0-5 12-5 11-5 11 19 0 6-11 7-11zM-45 494l-23 0 3 12 4 11 4 11 19 0-3-11-2-11zM418 528l-19 0-29 11-30 10-32 9 15 0 33-9 32-10zM-190 528l-19 0 15 11 16 10 17 9 14 0-15-9-14-10zM132 558l-15 0-13 9-14 9-15 7 9 0 17-7 16-9zM117 558l-14 0-12 9-12 9-14 7 10 0 15-7 14-9zM-323 558l-14 0 37 9 41 9 44 7 10 0-43-7-39-9z"/>
<path fill="#004dff" stroke="#004dff" d="M386 -494l-23 0-19-12-19-11-21-11 19 0 22 11 21 11zM-45 -494l-23 0 3-12 4-11 4-11 19 0-3 11-2 11zM-658 -494l-22 0 35-12 37-11 38-11 19 0-37 11-36 11zM361 -528l-19 0-25-11-25-10-28-9 15 0 29 9 27 10zM304 -528l-19 0-20-11-22-10-23-9 15 0 24 9 23 10zM57 -528l-19 0-3-11-3-10-3-9 15 0 5 9 4 10zM337 -558l-14 0-36-9-39-9-43-7 10 0 44 7 41 9zM235 -558l-15 0-24-9-27-9-29-7 9 0 31 7 29 9zM205 -558l-14 0-22-9-22-9-26-7 10 0 27 7 25 9zM191 -558l-15 0-20-9-21-9-23-7 9 0 26 7 22 9zM147 -558l-15 0-15-9-16-9-17-7 9 0 20 7 17 9zM88 -558l-15 0-8-9-9-9-9-7 9 0 12 7 10 9zM280 -583l-9 0-64-7-76-6-131-4 135 4 79 6zM271 -583l-10 0-61-7-74-6-126-4 131 4 76 6zM261 -583l-9 0-59-7-71-6-122-4 126 4 74 6zM252 -583l-9 0-57-7-69-6-117-4 122 4 71 6zM-19 -583l-9 0 7-7 7-6 14-4-9 4-5 6zM-261 -583l-10 0 64-7 76-6 131-4-126 4-74 6zM-271 -583l-9 0 66-7 79-6 135-4-131 4-76 6zM386 494l-23 0-19 12-19 11-21 11 19 0 22-11 21-11zM551 528l-19 0-38 11-40 10-43 9 14 0 45-9 41-10zM-38 528l-19 0 4 11 4 10 5 9 15 0-3-9-3-10zM-57 528l-19 0 5 11 6 10 6 9 15 0-5-9-4-10zM235 558l-15 0-24 9-27 9-29 7 9 0 31-7 29-9zM220 558l-15 0-22 9-25 9-27 7 9 0 29-7 27-9zM205 558l-14 0-22 9-22 9-26 7 10 0 27-7 25-9zM-15 558l-14 0 3 9 3 9 4 7 10 0-2-7-2-9zM-117 558l-15 0 15 9 16 9 17 7 9 0-15-7-14-9zM-132 558l-15 0 17 9 17 9 20 7 9 0-17-7-16-9zM-220 558l-15 0 26 9 29 9 31 7 9 0-29-7-27-9zM280 583l-9 0-64 7-76 6-131 4 135-4 79-6zM224 583l-9 0-51 7-60 6-104 4 108-4 63-6zM215 583l-10 0-48 7-58 6-99 4 104-4 60-6zM205 583l-9 0-46 7-55 6-95 4 99-4 58-6zM196 583l-9 0-44 7-53 6-90 4 95-4 55-6zM187 583l-10 0-41 7-50 6-86 4 90-4 53-6zM177 583l-9 0-40 7-47 6-81 4 86-4 50-6zM168 583l-9 0-38 7-44 6-77 4 81-4 47-6zM-112 583l-9 0 28 7 34 6 59 4-54-4-32-6zM-121 583l-10 0 31 7 37 6 63 4-59-4-34-6z"/>
<path fill="#0057ff" stroke="#0057ff" d="M340 -494l-22 0-17-12-17-11-18-11 19 0 19 11 19 11zM318 -494l-23 0-15-12-16-11-17-11 19 0 18 11 17 11zM136 -494l-23 0-5-12-7-11-6-11 19 0 8 11 7 11zM68 -494l-23 0-2-12-2-11-3-11 19 0 4 11 4 11zM0 -494l-23 0 1-12 2-11 1-11 19 0 0 11 0 11zM437 -528l-19 0-30-11-32-10-33-9 14 0 36 9 33 10zM76 -528l-19 0-4-11-4-10-5-9 15 0 6 9 6 10zM279 -558l-15 0-29-9-32-9-35-7 9 0 37 7 34 9zM117 -558l-14 0-12-9-12-9-14-7 10 0 15 7 14 9zM0 -558l-15 0 2-9 2-9 2-7 9 0 0 7 0 9zM-59 -558l-14 0 8-9 9-9 9-7 10 0-8 7-7 9zM-396 -558l-15 0 46-9 49-9 55-7 9 0-52 7-48 9zM-411 -558l-14 0 47-9 51-9 56-7 10 0-55 7-49 9zM131 -583l-10 0-28-7-34-6-59-4 63 4 37 6zM121 -583l-9 0-26-7-32-6-54-4 59 4 34 6zM112 -583l-9 0-24-7-29-6-50-4 54 4 32 6zM103 -583l-10 0-22-7-26-6-45-4 50 4 29 6zM93 -583l-9 0-20-7-23-6-41-4 45 4 26 6zM84 -583l-9 0-18-7-21-6-36-4 41 4 23 6zM75 -583l-10 0-15-7-18-6-32-4 36 4 21 6zM65 -583l-9 0-13-7-16-6-27-4 32 4 18 6zM56 -583l-9 0-11-7-13-6-23-4 27 4 16 6zM590 494l-23 0-29 12-31 11-32 11 19 0 33-11 32-11zM544 494l-22 0-27 12-29 11-29 11 19 0 31-11 29-11zM272 494l-23 0-12 12-14 11-14 11 19 0 15-11 15-11zM249 494l-22 0-12 12-12 11-13 11 19 0 14-11 14-11zM-113 494l-23 0 7 12 7 11 8 11 19 0-6-11-7-11zM-136 494l-23 0 8 12 9 11 9 11 19 0-8-11-7-11zM-159 494l-22 0 9 12 10 11 10 11 19 0-9-11-9-11zM-227 494l-22 0 12 12 14 11 14 11 19 0-13-11-12-11zM114 528l-19 0-7 11-7 10-8 9 15 0 9-9 9-10zM-114 528l-19 0 10 11 10 10 10 9 15 0-9-9-9-10zM88 558l-15 0-8 9-9 9-9 7 9 0 12-7 10-9zM73 558l-14 0-7 9-7 9-8 7 10 0 9-7 9-9z"/>
<path fill="#002eff" stroke="#002eff" d="M295 -494l-23 0-14-12-15-11-15-11 19 0 17 11 16 11zM159 -494l-23 0-7-12-7-11-8-11 19 0 9 11 9 11zM399 -528l-19 0-27-11-29-10-31-9 15 0 32 9 30 10zM380 -528l-19 0-26-11-27-10-29-9 14 0 31 9 29 10zM220 -558l-15 0-22-9-25-9-27-7 9 0 29 7 27 9zM-88 -558l-15 0 12-9 12-9 14-7 9 0-12 7-10 9zM149 -583l-9 0-33-7-39-6-68-4 72 4 42 6zM140 -583l-9 0-31-7-37-6-63-4 68 4 39 6zM47 -583l-10 0-8-7-11-6-18-4 23 4 13 6zM37 -583l-9 0-7-7-7-6-14-4 18 4 11 6zM0 -583l-9 0 2-7 2-6 5-4 0 4 0 6zM-28 -583l-9 0 8-7 11-6 18-4-14 4-7 6zM-37 -583l-10 0 11-7 13-6 23-4-18 4-11 6zM-47 -583l-9 0 13-7 16-6 27-4-23 4-13 6zM-121 -583l-10 0 31-7 37-6 63-4-59 4-34 6zM-131 -583l-9 0 33-7 39-6 68-4-63 4-37 6zM-140 -583l-9 0 35-7 42-6 72-4-68 4-39 6zM454 494l-23 0-22 12-24 11-24 11 19 0 26-11 24-11zM295 494l-23 0-14 12-15 11-15 11 19 0 17-11 16-11zM159 494l-23 0-7 12-7 11-8 11 19 0 9-11 9-11zM-295 494l-23 0 17 12 17 11 18 11 19 0-17-11-16-11zM-318 494l-22 0 17 12 19 11 19 11 19 0-18-11-17-11zM-386 494l-22 0 21 12 22 11 23 11 19 0-22-11-21-11zM-544 494l-23 0 29 12 31 11 32 11 19 0-31-11-29-11zM-590 494l-22 0 31 12 33 11 35 11 19 0-33-11-32-11zM361 528l-19 0-25 11-25 10-28 9 15 0 29-9 27-10zM342 528l-19 0-23 11-25 10-26 9 15 0 28-9 25-10zM209 528l-19 0-14 11-14 10-15 9 14 0 17-9 16-10zM190 528l-19 0-12 11-13 10-14 9 15 0 15-9 14-10zM133 528l-19 0-8 11-9 10-9 9 15 0 10-9 10-10zM95 528l-19 0-5 11-6 10-6 9 14 0 8-9 7-10zM38 528l-19 0-1 11-2 10-1 9 14 0 3-9 3-10zM-152 528l-19 0 12 11 13 10 14 9 15 0-13-9-11-10zM-209 528l-19 0 16 11 18 10 18 9 15 0-17-9-16-10zM-532 528l-19 0 40 11 41 10 45 9 14 0-43-9-40-10zM337 558l-14 0-36 9-39 9-43 7 10 0 44-7 41-9zM279 558l-15 0-29 9-32 9-35 7 9 0 37-7 34-9zM249 558l-14 0-26 9-29 9-31 7 10 0 33-7 30-9zM191 558l-15 0-20 9-21 9-23 7 9 0 26-7 22-9zM161 558l-14 0-17 9-17 9-20 7 10 0 21-7 19-9zM-161 558l-15 0 20 9 21 9 23 7 9 0-21-7-19-9zM-176 558l-15 0 22 9 22 9 26 7 9 0-23-7-21-9zM-191 558l-14 0 22 9 25 9 27 7 10 0-26-7-22-9zM-352 558l-15 0 41 9 44 9 49 7 9 0-47-7-42-9zM252 583l-9 0-57 7-69 6-117 4 122-4 71-6zM19 583l-10 0-2 7-2 6-5 4 9-4 5-6zM9 583l-9 0 0 7 0 6 0 4 5-4 2-6zM0 583l-9 0 2 7 2 6 5 4 0-4 0-6zM-252 583l-9 0 61 7 74 6 126 4-122-4-71-6z"/>
<path fill="#0042ff" stroke="#0042ff" d="M272 -494l-23 0-12-12-14-11-14-11 19 0 15 11 15 11zM-159 -494l-22 0 9-12 10-11 10-11 19 0-9 11-9 11zM570 -528l-19 0-40-11-41-10-45-9 15 0 46 9 43 10zM551 -528l-19 0-38-11-40-10-43-9 14 0 45 9 41 10zM425 -558l-14 0-46-9-49-9-55-7 10 0 56 7 51 9zM323 -558l-15 0-34-9-37-9-41-7 9 0 43 7 39 9zM308 -558l-15 0-32-9-36-9-38-7 9 0 41 7 37 9zM658 494l-23 0-33 12-34 11-36 11 19 0 37-11 36-11zM181 494l-22 0-8 12-9 11-9 11 19 0 10-11 10-11zM91 494l-23 0-3 12-4 11-4 11 19 0 5-11 5-11zM0 494l-23 0 1 12 2 11 1 11 19 0 0-11 0-11zM-23 494l-22 0 2 12 2 11 3 11 19 0-1-11-2-11zM-204 494l-23 0 12 12 12 11 13 11 19 0-12-11-11-11zM-431 494l-23 0 24 12 24 11 26 11 19 0-24-11-24-11zM-612 494l-23 0 33 12 34 11 36 11 19 0-35-11-33-11zM437 528l-19 0-30 11-32 10-33 9 14 0 36-9 33-10zM19 528l-19 0 0 11 0 10 0 9 15 0 1-9 2-10zM-133 528l-19 0 11 11 11 10 13 9 14 0-10-9-10-10zM-361 528l-19 0 27 11 29 10 31 9 14 0-29-9-27-10zM15 558l-15 0 0 9 0 9 0 7 9 0 2-7 2-9zM0 558l-15 0 2 9 2 9 2 7 9 0 0-7 0-9zM-29 558l-15 0 5 9 5 9 6 7 9 0-4-7-3-9zM-44 558l-15 0 7 9 7 9 8 7 9 0-6-7-5-9zM-147 558l-14 0 18 9 19 9 21 7 10 0-20-7-17-9zM-308 558l-15 0 36 9 39 9 43 7 9 0-41-7-37-9zM243 583l-10 0-55 7-65 6-113 4 117-4 69-6zM233 583l-9 0-53 7-63 6-108 4 113-4 65-6zM159 583l-10 0-35 7-42 6-72 4 77-4 44-6zM149 583l-9 0-33 7-39 6-68 4 72-4 42-6zM140 583l-9 0-31 7-37 6-63 4 68-4 39-6zM131 583l-10 0-28 7-34 6-59 4 63-4 37-6zM-56 583l-9 0 15 7 18 6 32 4-27-4-16-6zM-65 583l-10 0 18 7 21 6 36 4-32-4-18-6zM-75 583l-9 0 20 7 23 6 41 4-36-4-21-6zM-84 583l-9 0 22 7 26 6 45 4-41-4-23-6zM-93 583l-10 0 24 7 29 6 50 4-45-4-26-6zM-103 583l-9 0 26 7 32 6 54 4-50-4-29-6z"/>
<path fill="#0094ff" stroke="#0094ff" d="M249 -494l-22 0-12-12-12-11-13-11 19 0 14 11 14 11zM204 -494l-23 0-9-12-10-11-10-11 19 0 12 11 11 11zM23 -494l-23 0 0-12 0-11 0-11 19 0 1 11 2 11zM-113 -494l-23 0 7-12 7-11 8-11 19 0-6 11-7 11zM418 -528l-19 0-29-11-30-10-32-9 15 0 33 9 32 10zM285 -528l-19 0-19-11-20-10-22-9 15 0 23 9 22 10zM-133 -528l-19 0 11-11 11-10 13-9 14 0-10 9-10 10zM-152 -528l-19 0 12-11 13-10 14-9 15 0-13 9-11 10zM-323 -528l-19 0 25-11 25-10 28-9 15 0-26 9-25 10zM-551 -528l-19 0 41-11 43-10 46-9 15 0-45 9-41 10zM59 -558l-15 0-5-9-5-9-6-7 9 0 8 7 7 9zM-29 -558l-15 0 5-9 5-9 6-7 9 0-4 7-3 9z"/>
<path fill="#0075ff" stroke="#0075ff" d="M113 -494l-22 0-5-12-5-11-5-11 19 0 6 11 7 11zM91 -494l-23 0-3-12-4-11-4-11 19 0 5 11 5 11zM45 -494l-22 0-1-12-2-11-1-11 19 0 3 11 2 11zM-68 -494l-23 0 5-12 5-11 5-11 19 0-4 11-4 11zM266 -528l-19 0-18-11-18-10-20-9 14 0 22 9 20 10zM190 -528l-19 0-12-11-13-10-14-9 15 0 15 9 14 10zM38 -528l-19 0-1-11-2-10-1-9 14 0 3 9 3 10zM-209 -528l-19 0 16-11 18-10 18-9 15 0-17 9-16 10zM161 -558l-14 0-17-9-17-9-20-7 10 0 21 7 19 9zM15 -558l-15 0 0-9 0-9 0-7 9 0 2 7 2 9zM-205 -558l-15 0 24-9 27-9 29-7 9 0-27 7-25 9zM-220 -558l-15 0 26-9 29-9 31-7 9 0-29 7-27 9zM-235 -558l-14 0 27-9 30-9 33-7 10 0-31 7-29 9zM204 494l-23 0-9 12-10 11-10 11 19 0 12-11 11-11zM103 558l-15 0-10 9-10 9-12 7 9 0 14-7 12-9zM65 583l-9 0-13 7-16 6-27 4 32-4 18-6zM56 583l-9 0-11 7-13 6-23 4 27-4 16-6zM47 583l-10 0-8 7-11 6-18 4 23-4 13-6z"/>
<path fill="#1affe5" stroke="#1affe5" d="M-340 -494l-23 0 19-12 19-11 21-11 19 0-19 11-19 11zM-308 -558l-15 0 36-9 39-9 43-7 9 0-41 7-37 9zM-323 -558l-14 0 37-9 41-9 44-7 10 0-43 7-39 9z"/>
<path fill="#57ffa8" stroke="#57ffa8" d="M-363 -494l-23 0 20-12 21-11 22-11 19 0-21 11-19 11zM-437 -528l-19 0 33-11 34-10 37-9 15 0-36 9-33 10z"/>
<path fill="#42ffbd" stroke="#42ffbd" d="M-454 -494l-22 0 24-12 26-11 27-11 19 0-26 11-24 11zM-499 -494l-23 0 27-12 29-11 29-11 19 0-28 11-27 11z"/>
<path fill="#75ff8a" stroke="#75ff8a" d="M-476 -494l-23 0 26-12 27-11 28-11 19 0-27 11-26 11z"/>
<path fill="#00dbff" stroke="#00dbff" d="M-544 -494l-23 0 29-12 31-11 32-11 19 0-31 11-29 11zM-567 -494l-23 0 31-12 32-11 33-11 19 0-32 11-31 11zM-171 -528l-19 0 14-11 14-10 15-9 15 0-14 9-13 10zM-361 -528l-19 0 27-11 29-10 31-9 14 0-29 9-27 10zM-380 -528l-19 0 29-11 30-10 32-9 15 0-31 9-29 10zM-456 -528l-19 0 34-11 36-10 38-9 15 0-37 9-34 10z"/>
<path fill="#80ff80" stroke="#80ff80" d="M-590 -494l-22 0 31-12 33-11 35-11 19 0-33 11-32 11z"/>
<path fill="#0ffff0" stroke="#0ffff0" d="M-612 -494l-23 0 33-12 34-11 36-11 19 0-35 11-33 11z"/>
<path fill="#006bff" stroke="#006bff" d="M513 -528l-19 0-36-11-37-10-40-9 15 0 41 9 39 10zM494 -528l-19 0-34-11-36-10-38-9 14 0 40 9 37 10zM475 -528l-19 0-33-11-34-10-37-9 15 0 38 9 36 10zM456 -528l-19 0-31-11-33-10-36-9 15 0 37 9 34 10zM152 -528l-19 0-10-11-10-10-10-9 14 0 13 9 11 10zM-57 -528l-19 0 5-11 6-10 6-9 15 0-5 9-4 10zM-103 -558l-14 0 13-9 14-9 15-7 10 0-14 7-12 9zM-264 -558l-15 0 31-9 34-9 37-7 9 0-35 7-32 9zM-381 -558l-15 0 44-9 48-9 52-7 9 0-50 7-46 9zM28 -583l-9 0-5-7-5-6-9-4 14 4 7 6zM567 494l-23 0-28 12-29 11-31 11 19 0 32-11 31-11zM363 494l-23 0-17 12-19 11-19 11 19 0 21-11 19-11zM227 494l-23 0-10 12-11 11-12 11 19 0 13-11 12-11zM-340 494l-23 0 19 12 19 11 21 11 19 0-19-11-19-11zM-363 494l-23 0 20 12 21 11 22 11 19 0-21-11-19-11zM44 558l-15 0-3 9-3 9-4 7 9 0 6-7 5-9zM29 558l-14 0-2 9-2 9-2 7 10 0 4-7 3-9zM-73 558l-15 0 10 9 10 9 12 7 9 0-9-7-9-9zM-88 558l-15 0 12 9 12 9 14 7 9 0-12-7-10-9zM-337 558l-15 0 39 9 42 9 47 7 9 0-44-7-41-9zM271 583l-10 0-61 7-74 6-126 4 131-4 76-6zM37 583l-9 0-7 7-7 6-14 4 18-4 11-6zM28 583l-9 0-5 7-5 6-9 4 14-4 7-6z"/>
<path fill="#0024ff" stroke="#0024ff" d="M-38 -528l-19 0 4-11 4-10 5-9 15 0-3 9-3 10zM29 -558l-14 0-2-9-2-9-2-7 10 0 4 7 3 9zM612 494l-22 0-31 12-32 11-33 11 19 0 35-11 33-11zM522 494l-23 0-26 12-27 11-28 11 19 0 29-11 29-11zM68 494l-23 0-2 12-2 11-3 11 19 0 4-11 4-11zM45 494l-22 0-1 12-2 11-1 11 19 0 3-11 2-11zM-658 494l-22 0 35 12 37 11 38 11 19 0-37-11-36-11zM494 528l-19 0-34 11-36 10-38 9 14 0 40-9 37-10zM304 528l-19 0-20 11-22 10-23 9 15 0 24-9 23-10zM285 528l-19 0-19 11-20 10-22 9 15 0 23-9 22-10zM266 528l-19 0-18 11-18 10-20 9 14 0 22-9 20-10zM171 528l-19 0-11 11-11 10-13 9 15 0 14-9 13-10zM152 528l-19 0-10 11-10 10-10 9 14 0 13-9 11-10zM0 528l-19 0 1 11 2 10 1 9 15 0 0-9 0-10zM-19 528l-19 0 3 11 3 10 3 9 14 0-1-9-2-10zM-285 528l-19 0 22 11 23 10 24 9 15 0-23-9-22-10zM-323 528l-19 0 25 11 25 10 28 9 15 0-26-9-25-10zM-342 528l-19 0 26 11 27 10 29 9 15 0-28-9-25-10zM-399 528l-19 0 30 11 32 10 33 9 15 0-32-9-30-10zM-475 528l-19 0 36 11 37 10 40 9 14 0-38-9-36-10zM367 558l-15 0-39 9-42 9-47 7 9 0 49-7 44-9zM-293 558l-15 0 34 9 37 9 41 7 9 0-38-7-36-9zM-411 558l-14 0 47 9 51 9 56 7 10 0-55-7-49-9zM-425 558l-15 0 49 9 53 9 58 7 9 0-56-7-51-9zM261 583l-9 0-59 7-71 6-122 4 126-4 74-6zM-37 583l-10 0 11 7 13 6 23 4-18-4-11-6zM-47 583l-9 0 13 7 16 6 27 4-23-4-13-6z"/>
<path fill="#00c7ff" stroke="#00c7ff" d="M-247 -528l-19 0 19-11 20-10 22-9 14 0-20 9-18 10zM-279 -558l-14 0 32-9 36-9 38-7 10 0-37 7-34 9zM224 -583l-9 0-51-7-60-6-104-4 108 4 63 6zM215 -583l-10 0-48-7-58-6-99-4 104 4 60 6zM205 -583l-9 0-46-7-55-6-95-4 99 4 58 6z"/>
<path fill="#00b2ff" stroke="#00b2ff" d="M-285 -528l-19 0 22-11 23-10 24-9 15 0-23 9-22 10zM-304 -528l-19 0 23-11 25-10 26-9 14 0-24 9-23 10zM-147 -558l-14 0 18-9 19-9 21-7 10 0-20 7-17 9zM-161 -558l-15 0 20-9 21-9 23-7 9 0-21 7-19 9z"/>
<path fill="#00e5ff" stroke="#00e5ff" d="M-399 -528l-19 0 30-11 32-10 33-9 15 0-32 9-30 10zM-418 -528l-19 0 31-11 33-10 36-9 14 0-33 9-32 10zM-475 -528l-19 0 36-11 37-10 40-9 14 0-38 9-36 10z"/>
<path fill="#00a8ff" stroke="#00a8ff" d="M381 -558l-14 0-41-9-44-9-49-7 10 0 50 7 46 9zM73 -558l-14 0-7-9-7-9-8-7 10 0 9 7 9 9zM44 -558l-15 0-3-9-3-9-4-7 9 0 6 7 5 9zM243 -583l-10 0-55-7-65-6-113-4 117 4 69 6zM233 -583l-9 0-53-7-63-6-108-4 113 4 65 6zM19 -583l-10 0-2-7-2-6-5-4 9 4 5 6z"/>
<path fill="#001aff" stroke="#001aff" d="M132 -558l-15 0-13-9-14-9-15-7 9 0 17 7 16 9zM-56 -583l-9 0 15-7 18-6 32-4-27 4-16 6zM-65 -583l-10 0 18-7 21-6 36-4-32 4-18 6zM-75 -583l-9 0 20-7 23-6 41-4-36 4-21 6zM-84 -583l-9 0 22-7 26-6 45-4-41 4-23 6zM-93 -583l-10 0 24-7 29-6 50-4-45 4-26 6zM-103 -583l-9 0 26-7 32-6 54-4-50 4-29 6zM-112 -583l-9 0 28-7 34-6 59-4-54 4-32 6zM-249 494l-23 0 14 12 15 11 15 11 19 0-14-11-14-11zM-408 494l-23 0 22 12 24 11 24 11 19 0-23-11-22-11zM-476 494l-23 0 26 12 27 11 28 11 19 0-27-11-26-11zM-499 494l-23 0 27 12 29 11 29 11 19 0-28-11-27-11zM-567 494l-23 0 31 12 32 11 33 11 19 0-32-11-31-11zM-635 494l-23 0 34 12 36 11 37 11 19 0-36-11-34-11zM570 528l-19 0-40 11-41 10-45 9 15 0 46-9 43-10zM-247 528l-19 0 19 11 20 10 22 9 14 0-20-9-18-10zM-437 528l-19 0 33 11 34 10 37 9 15 0-36-9-33-10zM-494 528l-19 0 37 11 39 10 41 9 15 0-40-9-37-10zM293 558l-14 0-31 9-34 9-37 7 10 0 38-7 36-9z"/>
<path fill="#0000fa" stroke="#0000fa" d="M103 -558l-15 0-10-9-10-9-12-7 9 0 14 7 12 9zM-215 -583l-9 0 53-7 63-6 108-4-104 4-60 6zM-224 -583l-9 0 55-7 65-6 113-4-108 4-63 6zM-233 -583l-10 0 57-7 69-6 117-4-113 4-65 6zM-243 -583l-9 0 59-7 71-6 122-4-117 4-69 6zM-252 -583l-9 0 61-7 74-6 126-4-122 4-71 6zM-522 494l-22 0 28 12 29 11 31 11 19 0-29-11-29-11zM-456 528l-19 0 34 11 36 10 38 9 15 0-37-9-34-10z"/>
<path fill="#000fff" stroke="#000fff" d="M168 -583l-9 0-38-7-44-6-77-4 81 4 47 6zM159 -583l-10 0-35-7-42-6-72-4 77 4 44 6zM680 494l-22 0-34 12-36 11-37 11 19 0 38-11 37-11zM635 494l-23 0-31 12-33 11-35 11 19 0 36-11 34-11zM499 494l-23 0-24 12-26 11-27 11 19 0 28-11 27-11zM-228 528l-19 0 18 11 18 10 20 9 15 0-18-9-18-10zM-266 528l-19 0 20 11 22 10 23 9 15 0-22-9-20-10zM-418 528l-19 0 31 11 33 10 36 9 14 0-33-9-32-10zM-513 528l-19 0 38 11 40 10 43 9 15 0-41-9-39-10zM411 558l-15 0-44 9-48 9-52 7 9 0 55-7 49-9zM323 558l-15 0-34 9-37 9-41 7 9 0 43-7 39-9zM147 558l-15 0-15 9-16 9-17 7 9 0 20-7 17-9zM-205 558l-15 0 24 9 27 9 29 7 9 0-27-7-25-9zM-264 558l-15 0 31 9 34 9 37 7 9 0-35-7-32-9zM-279 558l-14 0 32 9 36 9 38 7 10 0-37-7-34-9zM-131 583l-9 0 33 7 39 6 68 4-63-4-37-6zM-140 583l-9 0 35 7 42 6 72 4-68-4-39-6zM-233 583l-10 0 57 7 69 6 117 4-113-4-65-6zM-243 583l-9 0 59 7 71 6 122 4-117-4-69-6zM-261 583l-10 0 64 7 76 6 131 4-126-4-74-6z"/>
<path fill="#0005ff" stroke="#0005ff" d="M76 528l-19 0-4 11-4 10-5 9 15 0 6-9 6-10zM57 528l-19 0-3 11-3 10-3 9 15 0 5-9 4-10zM-381 558l-15 0 44 9 48 9 52 7 9 0-50-7-46-9zM-149 583l-10 0 38 7 44 6 77 4-72-4-42-6zM-159 583l-9 0 40 7 47 6 81 4-77-4-44-6zM-168 583l-9 0 41 7 50 6 86 4-81-4-47-6zM-177 583l-10 0 44 7 53 6 90 4-86-4-50-6zM-187 583l-9 0 46 7 55 6 95 4-90-4-53-6zM-196 583l-9 0 48 7 58 6 99 4-95-4-55-6zM-205 583l-10 0 51 7 60 6 104 4-99-4-58-6zM-215 583l-9 0 53 7 63 6 108 4-104-4-60-6zM-224 583l-9 0 55 7 65 6 113 4-108-4-63-6z"/>
<path fill="#006bff" stroke="#006bff" d="M-248 587l-3-4-15-5-21-7 5 1 4 0 5 1 17 6 11 5zM248 587l-76 6-91 5-52 0 5-1 6 0 6 0 42 0 84-4zM29 598l-6 0-6 0-6 0-1-5 1-6 1-7 6-1 6 0 5 0-1 8-2 6zM453 537l-6 1-6 0-5 1 28-11 27-10 26-11 7-1 8 0 7-1-28 11-28 11zM29 579l-5 0-6 0-6 1 1-9 0-8 1-10 7 0 7 0 7 0-2 9-2 9zM-59 578l-7-1-6 0-6-1-5-8-5-8-5-10 7 1 8 0 7 0 4 10 4 9zM517 507l-7 0-8 1-7 0 24-11 23-12 21-12 9 0 8-1 9-1-23 12-24 12zM308 528l-8 1-8 1-8 1 14-10 13-11 13-11 9-2 9-1 9-1-14 12-14 11zM-300 529l-8-1-8-1-8-1-16-10-14-11-15-12 9 1 9 1 9 1 14 12 13 11zM218 510l-26 3 22-35 29-3zM507 446l-29 4 40-40 32-3zM214 478l-29 2 17-37 31-3zM518 410l-32 4 34-42 34-3zM-306 395l-33-3-20-43 35 4zM-302 312l-37-3-12-46 38 4zM296 222l-39 3 5-47 40-3zM-244 226l-39-3-6-47 40 3zM-292 127l-40-3-2-48 40 3zM-214 35l-40-3 2-49 40 3zM-252 -17l-39-3 4-49 39 3zM-291 -20l-40-3 5-49 39 3zM941 -230l-37 2-37-47 35-2zM-124 -158l-38-1 6-48 36 2zM974 -280l-12 1-12 0-12 1-15-16-16-15-17-15 12 0 11 0 12-1 17 15 17 15zM485 -236l-34 4-22-46 33-4zM-543 -243l-35-4 29-46 33 4zM-578 -247l-34-4 30-46 33 4zM678 -356l-31 3-50-42 28-3zM86 -297l-32 0-4-44 30-1zM-299 -312l-32-3 24-44 29 3zM-730 -407l-10-1-10 0-10-1 24-13 24-13 25-13 9 0 9 1 9 0-24 13-24 14zM-852 -411l-11 0 26-14 11 0zM-826 -425l-11 0 27-13 10 0zM-800 -438l-10 0 29-13 10 0zM874 -411l-11 0-26-14 10 0zM847 -425l-10 0-27-13 10 0zM820 -438l-10 0-29-13 10 0zM625 -398l-28 3-56-40 25-3zM-278 -356l-29-3 27-42 27 3zM90 -427l-24 1-9-39 21-1zM-272 -443l-22-3 42-37 19 2zM536 -522l-8 1-7 0-7 0-35-10-38-11-40-9 6-1 6 0 5 0 42 9 39 11zM514 -521l-6 1-7 0-7 1-34-11-36-10-38-10 5-1 5 0 5 0 40 9 38 11zM494 -519l-6 0-7 1-6 0-33-10-35-11-36-10 5 0 5-1 5 0 38 10 36 10zM99 -467l-21 1-14-36 17-1zM-133 -469l-21-2 28-36 17 2zM-413 -552l-5 0-6-1-6 0 45-9 48-9 53-8 4 0 4 0 4 1-50 8-47 8zM98 -504l-6 0-5 1-6 0-7-11-7-11-7-11 4 0 4 0 5-1 9 11 8 11zM-230 -571l-2 0-3-1-2-1 44-7 47-6 48-5-1 1-1 0 0 1-45 5-44 6zM131 -544l-4 0-3 1-4 1-16-10-17-9-19-8 2 0 2-1 2 0 20 8 19 8zM47 -535l-4 1-4 0-4 0-5-10-5-10-5-9 3 0 2-1 3 0 7 9 6 10zM-56 -535l-4-1-4 0-4 0 8-10 10-10 10-9 3 1 2 0 3 0-9 9-8 10zM-149 -548l-3 0-3-1-4-1 23-9 24-8 25-7 2 1 1 0 2 1-24 7-22 8zM-100 -589l0-1 1 0 1-1 43-2 32 2 23 4-25-4-33-1zM85 -596l1 1 2 0 1 1-47-2-26 4-16 5 13-6 21-4zM-82 -572l-2-1-1 0-2-1 28-6 29-5 30-2-29 3-28 5z"/>
<path fill="#001aff" stroke="#001aff" d="M-248 587l-9-4-20-6-24-7 5 1 4 0 5 0 21 7 15 5zM248 587l54-7 49-8 45-9 3 0 3 0 3 0-48 9-52 8zM248 587l12-4 21-6 24-7 4-1 5 0 4-1-27 8-25 6zM248 587l-8-2 8-5 16-6 4-1 5 0 5-1-19 7-12 5zM248 587l-34 0-12-2 3-5 5 0 5-1 5 0-6 5 6 3zM248 587l-41 1-17-2 0-4 5 0 5-1 5-1-3 5 12 2zM-248 587l36 1 14-3-2-4 5 1 5 0 5 1-1 4-19 1zM-248 587l23-1 3-3-8-5 5 0 5 1 5 0 5 5-8 3zM-248 587l17-2-2-3-12-6 5 0 5 1 5 1 8 5-3 3zM-314 569l-4-1-4 0-5 0-29-9-28-9-27-9 6 0 6 1 6 0 26 10 26 9zM-339 567l-4-1-4 0-4 0-33-9-33-9-30-10 6 0 5 1 6 0 29 10 31 9zM-362 565l-4 0-4-1-3 0-38-9-36-9-34-10 6 0 5 0 6 1 32 10 34 9zM413 563l-2 0-3 0-3 0 45-9 42-10 40-10 4-1 5 0 4 0-41 11-44 9zM235 577l-5 1-5 0-5 1 12-7 15-7 15-8 7-1 6-1 7-1-17 9-16 7zM-393 542l-6 0-6-1-6 0-27-10-25-11-25-11 8 1 7 0 8 1 23 11 24 10zM-447 538l-6-1-6 0-5 0-31-11-30-11-28-11 7 1 7 0 7 1 27 11 28 10zM-512 534l-5 0-5 0-5 0-37-11-35-11-34-12 6 1 7 0 6 0 32 11 34 11zM502 534l-5 1-5 0-6 0 33-10 32-11 30-12 6 0 7 0 7-1-32 12-32 11zM-195 565l-6-1-7-1-7-1-13-8-12-10-13-9 8 1 8 0 8 1 11 10 12 9zM-442 513l-8 0-7-1-8-1-22-11-21-12-21-12 9 1 9 1 8 1 20 12 20 11zM-594 502l-7-1-6 0-7 0-31-12-29-12-28-12 7 0 8 0 8 1 27 12 28 12zM620 501l-6 0-7 0-6 0 30-11 28-12 28-13 8 0 7 0 8 0-29 12-29 12zM560 504l-7 0-7 1-7 0 26-12 25-11 24-13 8 0 9-1 8 0-25 12-27 12zM-206 540l-8-1-7-1-8-1-11-10-11-11-11-11 9 1 9 1 9 1 9 11 10 11zM-348 524l-8-1-8-1-8-1-17-11-17-11-17-12 9 1 9 1 9 1 16 12 16 11zM-747 464l-7 0-30-13 8 0zM-776 451l-8 0-28-13 8 0zM-804 438l-8 0-27-13 8 0zM761 464l-7 0 30-13 7 0zM791 451l-7 0 28-13 8 0zM820 438l-8 0 27-13 8 0zM663 466l-8 1-8 0-8 1 24-13 23-13 22-13 9 0 9-1 9 0-23 13-24 13zM639 468l-8 0-9 1-8 0 23-12 22-13 21-13 9-1 10 0 9-1-22 13-23 13zM762 427l-9 0-9 0-9 1 22-14 21-13 20-14 10-1 10 0 10 0-21 13-22 14zM680 431l-9 1-10 0-9 1 19-13 19-14 17-13 11-1 10-1 10-1-18 14-20 14zM652 433l-9 1-10 1-9 0 18-13 18-13 16-14 11-1 10-1 10 0-17 13-19 14zM537 443l-30 3 43-39 32-3zM272 472l-29 3 22-38 31-3zM-379 461l-30-4-35-39 32 4zM486 376l-34 4 25-43 36-4zM-441 381l-34-4-26-43 36 4zM967 297l-11 0-11 1-11 0 14-15 14-15 12-16 12 0 12 0 12-1-14 16-14 15zM-412 302l-37-4-16-46 38 4zM-283 223l-39-3-6-47 39 3zM-360 217l-39-4-8-47 39 3zM1187 8l-14 0-13 0-13 1 0-17-1-16-2-17 13 0 13 0 14 0 2 16 1 17zM1184 -41l-14 0-13 0-13 0-3-16-3-17-5-16 13 0 14 0 13 0 5 16 3 17zM587 1l-40 5-5-49 39-5zM547 6l-40 4-4-49 39-4zM467 14l-40 4-3-49 39-4zM-254 32l-40-2 3-50 39 3zM-334 26l-40-3 3-49 40 3zM-374 23l-40-4 4-49 39 4zM503 -39l-40 4-7-49 39-4zM-331 -23l-40-3 6-49 39 3zM919 -130l-39 3-21-49 38-3zM842 -124l-39 3-19-48 37-4zM726 -113l-38 4-17-49 38-4zM611 -101l-39 4-13-48 37-4zM-13 -58l-39 0 1-49 38 0zM-92 -59l-39-1 3-49 38 1zM-365 -75l-39-4 9-49 38 4zM-659 -156l-37-4 22-48 36 4zM-809 -171l-37-4 27-47 36 3zM-1114 -187l-13 0 11-16 13 0zM-1103 -203l-13 0 12-16 12 0zM-1092 -219l-12 0 12-16 13 1zM1140 -187l-13 0-11-16 13 0zM1129 -203l-13 0-12-16 13 0zM1117 -219l-13 0-12-16 12 0zM859 -176l-38 3-26-47 36-3zM821 -173l-37 4-26-48 37-3zM-395 -128l-38-3 13-49 37 4zM758 -217l-36 4-29-47 34-3zM686 -209l-36 4-26-47 34-4zM100 -157l-38 1-2-48 36-1zM-820 -272l-35-2 44-45 33 2zM-891 -276l-11-1-12 0-12-1 15-15 15-15 17-15 11 0 12 1 11 1-16 15-15 15zM96 -205l-36 1-3-47 34-1zM-582 -297l-32-3 38-45 30 4zM396 -274l-34 3-21-45 31-3zM91 -252l-34 1-3-46 32 0zM-698 -358l-31-3 57-42 28 3zM-729 -361l-10 0-11-1-10-1 19-14 19-14 21-14 10 1 9 1 10 0-20 14-19 14zM708 -359l-30 3-53-42 28-3zM682 -403l-10 0-9 1-10 1-20-13-20-14-22-13 8-1 9-1 8 0 23 13 22 13zM653 -401l-9 1-9 1-10 1-19-14-20-13-20-13 8-1 8-1 9-1 22 13 20 14zM570 -392l-28 4-51-41 25-3zM542 -388l-28 3-48-40 25-4zM486 -381l-28 4-42-41 25-4zM-160 -346l-30-2 17-42 27 2zM491 -429l-25 4-54-39 21-3zM182 -391l-27 2-16-41 24-2zM-119 -387l-27-1 15-41 25 1zM498 -476l-8 1-7 1-7 1-24-12-24-12-26-11 6-1 6-1 6-1 27 11 26 12zM171 -553l-3 1-3 1-3 1-23-9-25-8-26-7 1-1 2 0 1-1 28 7 26 8zM-98 -591l1 0 1-1 1 0 45-2 30 2 20 5-23-4-32-2z"/>
<path fill="#002eff" stroke="#002eff" d="M-248 587l-16-5-23-6-27-7 5 0 4 1 4 0 24 7 20 6zM-248 587l-38-6-39-8-37-8 3 0 4 0 4 1 35 8 35 7zM248 587l-28 0-6-3 6-5 5-1 5 0 5-1-10 5 2 4zM248 587l-58 3-36 0-11-3 6 0 5-1 5 0 7 3 29 0zM248 587l-76 6-75 3-34-1 5 0 6-1 5 0 29 1 66-3zM-248 587l75 5 69 4 30-2 6 1 5 0 6 1-37 1-78-4zM-248 587l43 1 19-1 1-4 5 0 6 1 5 0-5 4-25 1zM-393 563l-3 0-3 0-3 0-44-9-42-10-39-10 5 0 5 0 5 0 37 10 40 10zM292 571l-5 0-5 1-4 0 21-7 21-8 22-9 6-1 7-1 6 0-23 9-23 8zM278 572l-5 1-5 0-4 1 18-7 20-8 20-9 7-1 6-1 7 0-22 9-21 8zM220 579l-5 0-5 1-5 0 10-6 13-7 14-8 7-1 6-1 7 0-15 8-15 7zM190 582l-5 1-5 0-6 1 6-6 10-6 11-8 7-1 7-1 7-1-13 8-11 7zM143 587l-5 1-5 1-5 0 0-5 6-6 8-7 6-1 7-1 6-1-9 8-7 6zM11 598l-5 0-6 0-6 0 1-5 0-6-1-7 6 0 6 0 6 0-1 7-1 6zM-122 590l-6-1-5 0-5-1-1-5-7-6-9-8 7 1 6 1 7 0 7 8 6 6zM-138 588l-5-1-6 0-5-1-3-5-8-7-10-7 7 1 7 0 6 1 9 8 7 6zM-430 539l-6 0-5-1-6 0-30-11-28-10-27-11 8 0 7 1 7 0 26 11 27 11zM-481 536l-5-1-6 0-5 0-34-11-32-11-31-11 7 0 6 0 7 1 30 11 31 11zM302 552l-6 1-7 1-7 0 17-9 17-9 16-11 8-1 8 0 8-1-18 10-17 10zM282 554l-7 1-6 1-7 1 16-9 15-10 15-10 8-1 8-1 8-1-16 11-17 9zM161 568l-6 1-7 1-6 1 8-9 9-9 8-9 8-1 8-1 7 0-9 9-10 9zM142 571l-7 0-6 1-7 1 8-9 7-9 8-9 7-1 8 0 7-1-8 9-9 9zM-155 569l-6-1-7 0-7-1-10-8-11-10-10-9 8 1 8 1 7 0 10 10 9 9zM403 517l-8 1-8 1-7 1 18-11 17-11 16-12 9-1 9-1 9-1-17 12-19 11zM237 536l-8 1-8 1-7 1 10-10 10-11 10-11 9-1 9-1 9-1-11 12-11 10zM190 542l-7 0-8 1-8 1 9-10 8-11 8-10 9-1 8-1 9-1-9 11-9 10zM167 544l-7 1-8 0-7 1 7-10 7-10 7-11 9-1 8-1 9 0-8 10-8 11zM122 548l-7 1-7 0-8 1 6-10 5-11 5-10 8-1 8 0 9-1-6 11-6 10zM78 551l-7 0-7 1-7 0 3-10 3-10 3-11 8 0 8 0 8-1-3 11-4 10zM35 553l-7 0-7 0-7 0 1-9 1-11 0-10 9-1 8 0 8 0-2 11-2 10zM-137 547l-8-1-7-1-8 0-8-10-8-11-7-11 8 1 9 1 8 1 7 10 7 11zM-253 535l-8-1-8-1-8-1-13-10-13-11-12-11 9 1 9 1 9 1 11 11 12 10zM-277 532l-7-1-8-1-8-1-15-10-13-11-14-12 9 1 9 2 9 1 12 11 13 11zM-324 526l-8-1-8-1-8 0-16-11-16-11-16-12 9 1 9 1 9 1 15 12 14 11zM511 478l-8 1-9 1-9 1 18-12 17-13 17-13 9-1 10-1 10 0-18 12-18 13zM244 507l-26 3 25-35 29-3zM141 517l-25 2 13-35 28-2zM-262 505l-26-2-32-36 29 3zM-423 487l-8-1-9-1-9-1-17-12-16-12-15-12 9 1 10 1 10 1 15 12 15 12zM595 438l-29 3 48-40 31-3zM768 388l-10 1-10 1-10 0 18-14 16-14 16-14 11-1 11-1 11 0-17 14-17 14zM614 401l-32 3 39-42 34-3zM582 404l-32 3 38-42 33-3zM1000 296l-11 1-11 0-11 0 15-15 14-15 14-16 11 0 12 0 12 0-14 15-15 15zM549 329l-36 4 23-44 37-4zM1079 250l-11 0-12 0-11 1 13-16 12-16 11-16 12 0 12 0 12 0-12 16-12 16zM451 208l-39 4 8-48 40-4zM302 175l-40 3 4-49 40-3zM187 85l-40 2 0-49 40-2zM581 -48l-39 5-9-49 39-5zM1114 -139l-13 1-13 0-13 0-8-16-8-16-10-16 13 0 13-1 13 0 10 16 9 16zM765 -117l-39 4-17-49 37-4zM688 -109l-39 4-15-49 37-4zM-287 -69l-39-3 7-49 38 3zM-404 -79l-39-4 10-48 38 3zM-443 -83l-39-4 11-48 38 4zM-922 -180l-38-2 31-48 37 2zM709 -162l-38 4-21-47 36-4zM596 -149l-37 4-17-48 36-4zM521 -141l-38 4-14-48 36-4zM-281 -118l-38-3 9-48 37 3zM-433 -131l-38-4 14-49 37 4zM-674 -208l-36-4 29-47 34 4zM-819 -222l-36-3 35-47 35 3zM-892 -228l-37-2 38-46 36 2zM542 -193l-37 4-20-47 35-4zM137 -158l-37 1-4-48 36-1zM62 -156l-37 1-1-48 36-1zM-87 -156l-37-2 4-47 36 1zM-199 -161l-37-2 9-48 36 2zM-383 -176l-37-4 16-47 35 4zM-457 -184l-36-4 19-47 35 4zM832 -272l-35 2-41-45 33-3zM60 -204l-36 1-1-47 34-1zM-227 -211l-36-3 13-46 33 2zM-680 -308l-32-3 45-44 30 3zM-712 -311l-33-3 47-44 31 3zM-811 -319l-12-1-11-1-11 0 17-15 18-15 18-14 11 1 10 0 11 1-18 14-17 15zM-879 -323l-11-1-12 0-11 0 18-15 19-15 20-14 11 0 11 1 10 0-19 15-18 14zM625 -302l-32 4-37-44 30-4zM560 -294l-33 4-32-44 31-4zM527 -290l-32 4-30-45 30-3zM-516 -289l-33-4 33-44 31 4zM617 -349l-31 3-44-42 28-4zM586 -346l-30 4-42-43 28-3zM-204 -304l-32-2 17-44 29 2zM-236 -306l-32-3 19-44 30 3zM-588 -394l-28-3 59-40 25 3zM430 -374l-28 4-36-41 25-4zM402 -370l-28 4-34-42 26-3zM-190 -348l-29-2 19-43 27 3zM566 -438l-9 1-8 1-8 1-21-13-22-13-22-12 7-1 7-1 8-1 23 12 23 13zM233 -439l-23 3-29-38 20-2zM210 -436l-24 2-25-38 20-2zM-82 -427l-24-1 14-38 21 1zM-155 -431l-23-2 24-38 21 2zM438 -513l-6 0-6 1-6 1-28-11-30-10-31-10 4-1 4-1 5-1 33 10 31 11zM314 -493l-6 1-6 1-6 1-19-12-19-11-20-11 5 0 4-1 5-1 22 10 20 11zM161 -472l-21 2-25-36 16-1zM344 -545l-5 1-4 1-4 1-33-10-35-9-38-8 3-1 2-1 2 0 40 8 37 9zM147 -509l-5 1-5 0-6 1-11-11-11-11-12-10 4-1 4 0 4-1 13 10 13 11zM-237 -573l-2 0-3-1-2 0 47-8 50-6 52-4-1 0-1 1-1 0-48 5-47 6zM212 -565l-3 1-2 1-3 1-32-8-35-7-36-6 1 0 0-1 38 5 37 7zM-95 -592l1-1 2 0 1-1 47-1 27 3 17 5-20-5-30-2zM-91 -594l2 0 1-1 2 0 49-1 23 3 14 6-17-5-27-3zM-77 -598l1 0-1 0-1 0 70 0 5 5 3 6-7-6-11-5zM89 -594l2 0 1 1 2 0-46-1-29 2-19 5 16-5 26-4zM-77 -571l-2 0-1-1-2 0 25-7 28-5 29-3-28 4-26 5z"/>
<path fill="#0038ff" stroke="#0038ff" d="M-248 587l-22-5-27-7-30-7 5 0 4 0 4 1 27 7 23 6zM-248 587l-43-7-42-7-40-9 3 0 4 1 4 0 37 8 39 8zM248 587l-1-3 12-5 19-7 4 0 5-1 5 0-22 7-17 5zM248 587l-21-1-2-4 10-5 5-1 5 0 4-1-12 6-4 4zM248 587l-47 2-23-1-4-4 6-1 5 0 5-1 0 4 17 2zM-248 587l55 3 31-1 8-3 5 1 6 0 5 1-12 3-38-1zM-287 571l-5 0-4 0-5-1-24-8-25-8-24-10 6 1 7 1 6 0 23 9 23 9zM-402 563l-3 0-3 0-3 0-46-10-43-9-41-11 5 0 4 1 5 0 39 10 42 10zM-411 563l-2 0-47-10 3 0zM-457 553l-3 0-44-9 4 0zM-500 544l-4 0-41-11 4 0zM416 563l-3 0 47-10 3 0zM463 553l-3 0 44-9 4 0zM508 544l-4 0 41-11 5 0zM387 564l-3 0-4 0-3 0 38-9 37-10 34-10 6 0 5 0 5-1-36 11-39 9zM377 564l-4 0-3 0-4 1 36-9 35-10 33-10 5 0 6 0 5-1-34 10-37 10zM366 565l-4 0-3 0-4 0 34-8 33-10 31-10 6 0 5 0 6-1-33 10-35 10zM205 580l-5 1-5 1-5 0 8-6 11-7 13-8 6 0 7-1 7-1-14 8-13 7zM128 589l-6 1-5 0-5 1-2-5 5-6 7-7 7-1 6-1 7 0-8 7-6 6zM112 591l-6 0-5 1-5 0-3-4 4-6 6-8 6 0 7-1 6 0-7 7-5 6zM79 594l-5 0-6 1-5 0-4-4 3-6 4-8 6 0 6-1 6 0-5 7-3 6zM63 595l-6 1-5 0-6 1-3-5 1-6 3-8 6 0 6 0 7-1-4 8-3 6zM-6 598l-5 0-6 0-6 0 2-5-1-6-2-8 6 0 6 1 6 0 1 7 0 6zM-185 583l-5-1-5 0-5-1-9-6-12-7-14-8 7 1 6 0 7 1 12 8 11 7zM-335 548l-7 0-6-1-7-1-22-9-21-11-21-10 8 1 8 0 8 1 19 11 20 10zM262 557l-7 0-6 1-7 1 14-9 14-9 14-10 8-1 8-1 8-1-15 10-15 10zM201 564l-6 1-7 0-7 1 11-8 11-9 11-10 7-1 8-1 8-1-12 10-12 9zM181 566l-6 1-7 1-7 0 10-8 10-9 9-9 8-1 8-1 8-1-11 10-11 9zM47 578l-6 1-6 0-6 0 2-8 2-9 2-9 8 0 7-1 7 0-3 10-3 8zM-255 557l-7 0-7-1-6-1-17-9-16-10-16-10 8 1 8 1 8 1 14 10 16 10zM-419 516l-8-1-7-1-8-1-21-11-20-11-20-12 9 1 9 1 9 1 18 11 19 12zM-574 503l-7-1-6 0-7 0-30-12-28-12-27-12 8 0 8 0 8 1 26 12 27 12zM639 500l-6 0-6 1-7 0 32-12 29-12 29-12 7-1 8 0 7 0-29 12-31 13zM427 515l-8 1-8 1-8 0 19-11 19-11 17-12 9 0 9-1 9-1-19 11-19 12zM284 531l-7 1-8 1-8 1 12-11 12-10 12-11 9-1 9-1 9-1-13 11-13 11zM261 534l-8 1-8 1-8 0 12-10 11-10 11-12 8 0 9-1 9-1-12 11-12 10zM-71 551l-7 0-8 0-7-1-5-10-5-10-4-11 8 1 9 0 8 1 3 10 4 11zM-160 545l-7-1-8-1-8-1-9-10-9-10-8-11 8 1 9 1 9 0 7 11 8 11zM-229 537l-8-1-8 0-8-1-12-11-12-10-11-11 9 1 8 0 9 1 11 11 11 11zM-372 521l-8-1-7-1-8-1-19-11-18-11-17-12 9 1 9 1 8 1 17 12 17 11zM754 464l-7 0-7 0-8 0 29-13 27-13 26-13 8 0 9 0 8 0-27 13-28 13zM614 469l-8 1-9 1-8 0 22-12 21-13 20-13 9-1 10 0 9-1-21 13-22 13zM458 483l-9 1-9 1-9 1 17-12 15-12 15-12 10-1 9-1 10-2-15 13-17 12zM-158 516l-25-3-21-34 28 2zM-288 503l-27-3-35-36 30 3zM-291 470l-29-3-28-38 31 3zM391 424l-32 4 25-41 34-3zM-192 443l-31-2-16-40 33 2zM-223 441l-31-3-19-40 34 3zM554 369l-34 3 29-43 35-3zM-373 388l-34-3-23-43 36 4zM-407 385l-34-4-24-43 35 4zM-324 353l-35-4-16-44 36 4zM-389 260l-38-4-11-47 39 4zM-93 89l-41-1 0-49 41 1zM-254 82l-40-3 0-49 40 2zM-13 41l-40 0 0-50 40 1zM1014 -86l-40 2-16-49 39-2zM1075 -138l-13 1-13 0-13 0-8-16-8-16-9-16 13 0 12-1 13 0 10 16 8 16zM65 -58l-39 0 0-49 38 0zM26 -58l-39 0 0-49 39 0zM-248 -66l-39-3 6-49 38 3zM1127 -187l-13 0-13 0-13 0-11-16-11-15-12-16 12 0 13 0 13-1 12 16 12 16zM1049 -186l-13 0-12 1-13 0-10-16-11-15-12-16 13-1 12 0 13 0 12 15 11 16zM897 -179l-38 3-28-47 37-3zM-319 -121l-38-3 10-48 37 3zM-855 -225l-37-3 37-46 35 2zM-929 -230l-12 0-12-1-13-1 12-15 14-16 14-15 12 1 12 0 11 1-13 15-13 16zM-966 -232l-12 0-13-1-12 0 13-16 13-15 15-15 12 0 12 1 12 0-14 15-14 16zM-1003 -233l-13 0-12-1-13 0 13-16 14-15 15-15 12 0 13 0 12 1-15 15-13 15zM-420 -180l-37-4 18-47 35 4zM-681 -259l-35-3 36-46 33 4zM867 -275l-35 3-43-46 34-2zM797 -270l-35 3-39-45 33-3zM693 -260l-35 4-33-46 33-3zM520 -240l-35 4-23-46 33-4zM-12 -203l-36 0 2-48 35 1zM-404 -227l-35-4 21-46 33 4zM-509 -239l-34-4 27-46 32 4zM995 -326l-11 0-12 0-12 0-19-14-20-15-21-14 11 0 12 0 11-1 21 15 21 14zM723 -312l-33 3-43-44 31-3zM429 -278l-33 4-24-45 31-4zM151 -300l-32 1-9-44 30-2zM119 -299l-33 2-6-45 30-1zM54 -297l-32 1-2-45 30 0zM458 -377l-28 3-39-41 25-3zM50 -341l-30 0-2-43 28 0zM441 -422l-25 4-48-39 22-4zM288 -402l-26 3-29-40 24-2zM46 -384l-28 0-2-41 25 0zM-146 -388l-27-2 18-41 24 2zM-173 -390l-27-3 22-40 23 2zM519 -479l-7 1-7 1-7 1-25-12-26-12-27-11 6-1 6-1 6 0 28 11 27 11zM-106 -428l-25-1 18-39 21 2zM558 -522l-8 0-7 0-7 0-37-10-39-11-42-9 6-1 6 0 7 0 42 10 41 10zM420 -511l-6 1-6 1-6 1-27-11-28-11-29-10 4-1 4-1 5 0 31 10 30 10zM240 -482l-20 3-41-34 15-3zM181 -474l-20 2-30-35 16-2zM-174 -473l-20-3 36-34 16 2zM305 -537l-4 1-5 0-4 1-28-9-29-10-31-8 3-1 2-1 3-1 32 9 31 9zM-252 -576l-3 0-3-1-3 0 53-8 58-6 64-4-2 0-1 1-2 0-57 5-54 6zM142 -546l-4 0-3 1-4 1-18-10-19-8-20-8 1-1 2 0 2 0 22 7 21 9zM109 -541l-4 1-4 0-4 1-13-10-14-9-15-9 3 0 2 0 2-1 17 9 15 9zM-81 -537l-4-1-4 0-4-1 12-9 13-10 15-8 2 0 2 0 2 1-12 8-11 10zM97 -591l1 0 1 1 1 0-43-2-32 1-25 4 22-5 31-1zM20 -563l-2 0-3 0-2 0-4-9-4-8-5-7 8 7 6 8zM-72 -570l-2 0-1-1-2 0 23-7 26-5 28-4-26 4-24 6zM-87 -574l-1 0-1-1-2 0 29-6 31-4 31-2-30 2-29 5z"/>
<path fill="#0000fa" stroke="#0000fa" d="M-248 587l-28-6-31-7-32-7 4 0 4 0 4 1 30 7 27 7zM-248 587l-56-7-51-8-47-9 3 0 3 0 3 0 44 9 49 8zM-248 587l76 6 78 4 37-1 5 0 6 1 6 0-45 0-87-4zM-327 568l-4-1-4 0-4 0-31-9-31-9-29-10 6 1 6 0 7 1 27 9 28 9zM-374 544l-6 0-7-1-6-1-25-10-24-10-23-11 8 1 7 1 8 0 22 11 23 10zM-411 541l-7-1-6 0-6-1-27-10-27-11-26-11 8 1 7 0 7 1 25 11 25 11zM-651 500l-6 0-34-12 6 0zM-685 488l-6 0-32-12 6 0zM-717 476l-6 0-31-12 7 0zM663 500l-6 0 34-12 6 0zM697 488l-6 0 32-12 7 0zM730 476l-7 0 31-12 7 0zM657 500l-6 0-6 0-6 0 33-11 31-13 29-12 8 0 7 0 7 0-31 12-32 12zM-725 464l-7 0-8 0-7 0-29-13-28-13-27-13 9 0 8 0 8 0 26 13 27 13zM-806 425l-8 0-8 0-9 0-25-14-25-13-23-14 9 0 10 0 9 0 23 14 23 14zM-831 425l-8 0-26-14 9 0zM-856 411l-9 0-25-13 9 0zM-881 398l-9 0-23-14 9 0zM847 425l-8 0 26-14 9 0zM874 411l-9 0 25-13 9 0zM899 398l-9 0 23-14 10 0zM814 425l-8 0-9 0-9 1 24-14 23-13 22-14 9-1 10 0 9 0-22 14-24 14zM913 384l-9 0-9 0-10 0 22-14 21-14 19-15 10 0 11 0 10 0-21 14-21 15zM828 386l-10 0-10 0-10 1 19-14 19-14 17-15 11 0 10-1 11 0-18 14-19 15zM655 359l-34 3 34-44 36-3zM452 380l-34 4 24-43 35-4zM934 298l-12 1-11 0-11 1 14-15 13-16 12-15 12-1 12 0 11-1-12 16-14 15zM536 289l-38 4 18-46 38-4zM-449 298l-37-4-17-46 38 4zM516 247l-38 4 12-47 40-4zM-503 248l-38-4-15-47 40 4zM490 204l-39 4 9-48 40-4zM460 160l-40 4 5-48 41-4zM-1090 59l-13 0-13-1-13 0-2-16-2-17-1-16 14 0 13 0 13 1 1 16 1 17zM266 129l-40 3 1-49 40-2zM1067 11l-13 0-13 1-14 0 0-16-1-17-2-16 13-1 14 0 13-1 2 17 1 16zM1064 -39l-13 1-14 0-13 1-2-16-4-17-4-16 13-1 13 0 14-1 4 17 3 16zM1024 -37l-40 2-10-49 40-2zM984 -35l-39 3-10-50 39-2zM945 -32l-40 2-9-49 39-3zM706 -11l-40 4-6-49 39-4zM187 36l-40 2-1-49 40-2zM-1080 -89l-13 0-13 0-14-1 6-16 6-16 7-16 13 0 13 0 13 1-7 16-6 16zM660 -56l-39 4-10-49 38-4zM424 -31l-40 4-6-50 39-3zM-867 -126l-39-3 22-49 38 3zM649 -105l-38 4-15-48 38-5zM-521 -91l-38-4 13-49 37 4zM-846 -175l-38-3 29-47 36 3zM559 -145l-38 4-16-48 37-4zM446 -133l-38 4-12-48 36-4zM-357 -124l-38-4 12-48 36 4zM1092 -235l-13 1-13 0-12 0-14-16-14-15-15-16 12 0 13 0 12 0 15 15 15 16zM-493 -188l-36-4 20-47 35 4zM126 -253l-35 1-5-45 33-2zM57 -251l-34 1-1-46 32-1zM465 -331l-31 4-32-43 28-4zM310 -313l-32 3-20-44 30-3zM-172 -301l-32-3 14-44 30 2zM288 -357l-30 3-22-42 26-3zM-40 -341l-30-1 6-43 27 1zM-37 -384l-27-1 7-41 24 1zM-272 -578l-4-1-4 0-4 0 59-8 67-6 81-5-1 1-2 0-1 0-72 5-63 6zM-284 -579l-5 0-5 0-5-1 61-7 70-6 90-5 1 0 1 0-1 0-81 5-67 6zM101 -583l0 1-1 1-35-4-33-3-32 1 31-1 34 1zM84 -573l-2 1-2 0-1 1-24-7-27-5-28-4 30 3 28 5z"/>
<path fill="#0005ff" stroke="#0005ff" d="M-248 587l-33-6-35-7-35-8 4 0 4 0 4 1 32 7 31 7zM248 587l-53 2-29 0-7-3 5-1 5-1 5 0 4 4 23 1zM-248 587l69 5 52 1 21-2 5 1 5 0 6 1-25 1-61-2zM-248 587l10-2-6-5-15-6 5 1 5 0 4 1 12 6 2 3zM396 563l-3 0-3 0-3 1 40-10 39-9 36-11 5 0 5 0 5 0-38 10-40 10zM-464 537l-6-1-5 0-6 0-32-11-31-11-30-11 7 0 7 1 7 0 28 11 30 11zM601 501l-7 1-7 0-6 0 28-11 28-12 26-13 8 0 8 0 8-1-28 13-28 12zM581 502l-7 1-7 0-7 1 27-12 27-12 25-12 8-1 8 0 8-1-26 13-28 12zM57 552l-7 0-7 1-8 0 2-10 2-10 2-11 8 0 8 0 9-1-3 11-3 10zM-449 484l-9-1-9 0-9-1-18-12-17-13-16-13 10 1 10 1 10 2 15 12 16 12zM-503 479l-8-1-9-1-9-1-19-12-19-12-18-13 9 1 10 1 10 0 17 13 18 13zM-655 467l-8-1-8 0-8 0-26-13-24-13-24-13 9 0 9 1 9 0 23 13 23 13zM710 465l-8 0-7 0-8 0 26-12 25-13 24-13 9-1 9 0 8 0-25 13-26 13zM798 387l-10 0-10 1-10 0 19-14 17-14 17-14 10-1 11 0 11-1-17 15-19 14zM645 398l-31 3 41-42 34-3zM788 348l-33 2 41-44 35-2zM621 362l-33 3 32-43 35-4zM573 285l-37 4 18-46 38-4zM-427 256l-38-4-12-47 39 4zM-1173 8l-14 0 0-16 14 0zM-1173 -8l-14 0 1-17 14 0zM-1172 -25l-14 0 2-16 14 0zM1200 8l-13 0 0-16 13 0zM1200 -8l-13 0-1-17 13 0zM1199 -25l-13 0-2-16 13 0zM1147 9l-13 0-14 0-13 0 0-16-1-16-2-17 13 0 14 0 13-1 2 17 1 16zM-1131 -40l-13-1-13 0-13 0 2-16 4-17 4-16 14 0 13 0 13 0-4 17-4 16zM1144 -41l-13 1-14 0-13 0-3-16-3-17-5-16 13 0 14-1 13 0 5 16 3 17zM1104 -40l-13 0-14 1-13 0-3-16-3-16-4-17 13 0 13-1 13 0 5 16 3 17zM746 -15l-40 4-7-49 40-4zM666 -7l-39 4-6-49 39-4zM627 -3l-40 4-6-49 40-4zM427 18l-40 4-3-49 40-4zM-414 19l-40-4 4-49 40 4zM-1001 -85l-39-2 17-49 39 2zM-1040 -87l-14-1-13 0-13-1 5-16 6-16 7-16 13 0 13 0 13 1-6 16-6 16zM-1160 -90l-13 0 5-17 14 1zM-1154 -106l-14-1 7-16 13 0zM-1148 -123l-13 0 7-16 13 0zM1186 -90l-13 0-5-17 13 0zM1181 -107l-13 0-7-16 14 0zM1175 -123l-14 0-7-16 13 0zM739 -64l-40 4-11-49 38-4zM699 -60l-39 4-11-49 39-4zM542 -43l-39 4-8-49 38-4zM463 -35l-39 4-7-49 39-4zM186 -13l-40 2-2-49 39-2zM-489 -38l-40-4 8-49 39 4zM-790 -120l-39-3 20-48 38 3zM-829 -123l-38-3 21-49 37 4zM-984 -134l-13-1-13 0-13-1 8-16 8-16 9-16 13 0 12 1 13 1-9 16-8 16zM495 -88l-39 4-10-49 37-4zM456 -84l-39 4-9-49 38-4zM417 -80l-39 3-8-48 38-4zM-326 -72l-39-3 8-49 38 3zM-960 -182l-13-1-12-1-13 0 10-16 11-16 11-16 13 1 12 1 12 0-11 16-10 16zM-509 -140l-37-4 17-48 36 4zM795 -220l-37 3-31-46 35-4zM650 -205l-36 4-25-47 35-4zM396 -177l-37 3-14-47 36-3zM-647 -255l-34-4 34-45 33 4zM-751 -266l-34-3 40-45 33 3zM381 -224l-36 3-16-46 33-4zM-614 -300l-33-4 40-44 31 3zM-745 -314l-33-3 49-44 31 3zM960 -326l-12 1-11 0-12 0-18-15-20-14-20-14 11-1 11 0 11 0 21 14 20 15zM160 -254l-34 1-7-46 32-1zM345 -363l-29 3-28-42 26-3zM316 -360l-28 3-26-42 26-3zM258 -354l-29 3-20-42 27-3zM229 -351l-29 2-18-42 27-2zM-202 -435l-24-3 32-38 20 3zM140 -470l-20 2-22-36 17-2zM-91 -575l-1-1-1 0-1-1 31-5 31-4 32-1-31 2-31 4z"/>
<path fill="#0061ff" stroke="#0061ff" d="M-248 587l-48-7-45-8-43-8 4 0 3 0 4 0 40 9 42 7zM-259 574l-5 0-4-1-5 0-20-8-21-8-21-9 6 1 7 1 6 0 20 9 19 8zM399 542l-6 0-6 1-7 1 24-10 23-11 23-10 7-1 8-1 8-1-24 11-24 11zM380 544l-6 0-6 1-7 1 23-10 22-10 21-11 7-1 8-1 8 0-23 10-23 11zM361 546l-6 0-7 1-6 1 21-10 20-10 20-11 8 0 8-1 8-1-21 11-22 10zM103 574l-6 1-7 0-6 1 5-8 6-9 5-9 8-1 7 0 7-1-6 9-7 9zM-135 571l-7 0-6-1-7-1-9-8-9-9-10-10 8 1 8 1 7 1 8 9 9 9zM473 510l-8 1-8 1-7 1 21-12 21-11 19-12 9-1 9-1 9 0-21 12-22 11zM380 520l-8 1-8 1-8 1 17-11 16-11 16-12 9-1 9-1 8-1-16 12-17 11zM378 492l-27 3 38-36 30-3zM116 519l-26 1 11-34 28-2zM-33 522l-24 0-7-35 27 1zM101 486l-28 1 7-37 31-2zM-176 481l-28-2-19-38 31 2zM423 421l-32 3 27-40 34-4zM-285 435l-32-3-22-40 33 3zM-348 429l-32-4-27-40 34 3zM351 391l-34 3 18-42 36-4zM-288 356l-36-3-15-44 37 3zM-339 309l-36-4-14-45 38 3zM-313 267l-38-4-9-46 38 3zM-351 263l-38-3-10-47 39 4zM373 216l-38 3 6-48 40-3zM226 132l-40 2 1-49 40-2zM-13 90l-40 0 0-49 40 0zM-214 84l-40-2 0-50 40 3zM-13 -8l-40-1 1-49 39 0zM105 -59l-40 1-1-49 38-1zM973 -183l-39 2-30-47 37-2zM-602 -200l-36-4 26-47 34 4zM-612 -251l-35-4 33-45 32 3zM-263 -214l-35-3 14-46 34 3zM-647 -304l-33-4 43-44 30 4zM-418 -277l-33-4 27-45 31 4zM-576 -345l-31-3 47-43 27 4zM647 -353l-30 4-47-43 27-3zM526 -338l-31 4-37-43 28-4zM-331 -315l-31-3 26-44 29 3zM-485 -333l-31-4 39-43 28 4zM597 -395l-27 3-54-40 25-3zM-253 -398l-27-3 31-40 23 3zM412 -464l-22 3-58-35 18-4zM346 -454l-22 3-47-36 19-3zM66 -426l-25 1-6-39 22-1zM16 -425l-24 0 1-39 21 0zM-178 -433l-24-2 28-38 20 2zM385 -505l-6 1-6 0-6 1-24-11-25-10-26-11 4-1 5 0 4-1 28 10 26 11zM35 -464l-21 0-2-36 17 0zM-271 -486l-6-1-7-1-6-1 18-12 19-11 20-11 4 1 5 1 5 1-18 11-18 11zM318 -540l-5 1-4 1-4 1-30-10-31-9-32-9 2 0 2-1 3-1 34 8 33 10zM252 -526l-5 1-4 1-5 0-21-10-22-10-24-9 3-1 3 0 3-1 25 9 24 10zM224 -521l-5 1-5 1-5 1-18-11-19-10-20-9 3-1 4-1 3 0 22 9 20 10zM194 -516l-5 1-5 1-5 1-15-11-16-10-17-10 4-1 3-1 4 0 18 9 18 11zM163 -511l-5 1-5 0-6 1-12-11-13-11-13-10 3 0 4-1 4 0 15 10 15 10zM-23 -500l-6 0-6-1-6 0 4-11 3-11 4-11 4 0 4 0 5 0-2 11-2 11zM-174 -513l-5 0-5-1-5-1 16-11 17-10 18-10 3 1 4 1 4 0-17 10-15 11zM-244 -574l-3-1-3 0-2-1 50-7 54-6 57-5-1 1-2 0-1 1-52 4-50 6zM120 -542l-4 0-4 1-3 0-15-9-15-9-17-9 2 0 2 0 2-1 19 8 17 9zM97 -539l-4 0-4 1-4 0-11-10-12-9-13-9 2 0 2 0 2-1 15 9 14 9zM85 -538l-4 1-4 0-4 0-10-10-10-9-11-9 2 0 3 0 2-1 13 9 12 9zM-93 -539l-4 0-4-1-4 0 14-10 15-9 16-8 2 0 3 0 2 1-15 8-13 10zM-105 -540l-4-1-3 0-4-1 15-9 17-9 18-8 2 0 2 0 2 1-16 8-15 9zM-81 -597l1 0 2 0 1-1 59 0 11 5 7 6-10-6-18-4zM81 -598l-3 0-1 0-1 0-61 0-10 5-5 6 1-6 3-5zM100 -581l-1 1-1 1-33-5-33-3-32 0 32-1 33 3zM-18 -563l-2 0-3 0-2-1 7-8 8-8 10-7-7 7-6 8z"/>
<path fill="#0024ff" stroke="#0024ff" d="M-248 587l-52-7-49-8-44-9 3 0 3 1 3 0 43 8 45 8zM-248 587l-60-7-53-8-50-9 3 0 3 0 3 0 47 9 51 8zM248 587l5-4 17-5 22-7 4 0 5-1 4 0-24 7-21 6zM248 587l-15-2 4-4 12-6 5 0 5-1 5 0-16 6-8 5zM248 587l-63 4-43 1-14-3 5 0 5-1 5-1 11 3 36 0zM248 587l-76 6-84 4-42 0 6-1 5 0 6-1 34 1 75-3zM-248 587l3-3-11-5-17-6 5 0 4 1 5 0 15 6 6 5zM-351 566l-4-1-4 0-3 0-36-9-34-9-32-10 5 0 6 0 6 1 30 10 33 9zM355 565l-4 1-4 0-4 0 32-8 31-10 30-9 5-1 6 0 6-1-31 10-33 10zM-23 598l-6 0-5-1-6 0 3-5-2-6-2-7 6 0 6 0 5 0 2 8 1 6zM-230 578l-5-1-5-1-5 0-15-7-18-8-18-8 7 1 7 0 7 1 16 8 16 8zM-355 546l-6 0-7-1-6-1-23-10-23-10-22-11 8 1 7 1 8 1 21 10 21 11zM-527 534l-5 0-4-1-5 0-38-10-37-11-35-12 6 0 6 0 6 0 34 12 35 11zM-541 533l-4 0-39-10 5 0zM-579 523l-5 0-38-11 6 0zM-616 512l-6 0-35-12 6 0zM550 533l-5 0 39-10 5 0zM589 523l-5 0 38-11 5 0zM627 512l-5 0 35-12 6 0zM486 535l-5 1-6 0-5 0 31-10 30-11 29-11 7-1 7 0 7-1-30 12-32 11zM418 540l-7 1-6 0-6 1 26-10 24-11 24-11 7 0 8-1 7-1-25 11-26 11zM242 559l-7 1-7 1-6 0 13-8 13-9 13-10 8-1 8-1 7-1-14 10-14 9zM222 561l-7 1-7 1-7 1 12-9 12-9 12-10 8 0 8-1 8-1-13 10-13 9zM-235 560l-7-1-7-1-6-1-15-8-16-10-14-10 8 1 8 1 7 1 14 10 14 9zM-275 555l-7-1-7 0-7-1-17-9-18-10-17-10 8 0 8 1 8 1 16 10 16 10zM-296 553l-6-1-7-1-7-1-19-9-18-10-19-10 8 1 8 1 8 1 17 10 18 10zM145 546l-8 1-7 0-8 1 7-10 6-10 6-11 8-1 9 0 8-1-7 11-7 10zM-7 553l-7 0-7 0-7 0-2-10-1-10-2-11 8 0 9 1 8 0 0 10 1 11zM687 465l-8 1-8 0-8 0 25-12 24-13 23-13 9-1 9 0 9 0-24 13-25 13zM66 521l-25 1 5-34 27-1zM41 522l-25 1 2-35 28 0zM-396 490l-9-1-9-1-9-1-15-12-15-12-15-12 10 1 10 1 10 1 13 12 15 13zM73 487l-27 1 4-38 30 0zM-412 422l-32-4-31-41 34 4zM620 322l-36 4 26-45 37-4zM-394 346l-36-4-19-44 37 4zM461 297l-37 3 16-45 38-4zM478 251l-38 4 11-47 39-4zM335 219l-39 3 6-47 39-4zM-322 220l-38-3-8-48 40 4zM341 171l-39 4 4-49 40-3zM-328 173l-40-4-4-48 40 3zM-334 76l-40-4 0-49 40 3zM786 -19l-40 4-7-49 39-4zM507 10l-40 4-4-49 40-4zM-294 30l-40-4 3-49 40 3zM1133 -90l-13 0-14 1-13 0-5-16-6-17-7-16 13 0 13 0 13-1 8 17 6 16zM778 -68l-39 4-13-49 39-4zM621 -52l-40 4-9-49 39-4zM-371 -26l-39-4 6-49 39 4zM-945 -132l-39-2 24-48 38 2zM1154 -139l-13 0-13 0-14 0-7-16-9-16-10-16 13 0 13 0 13 0 10 16 9 16zM958 -133l-39 3-22-49 37-2zM144 -60l-39 1-3-49 39-1zM-696 -160l-38-4 24-48 36 4zM-734 -164l-37-4 25-48 36 4zM-884 -178l-38-2 30-48 37 3zM-998 -184l-13-1-13 0-12-1 10-16 11-15 12-16 12 0 13 1 12 0-11 16-11 16zM934 -181l-37 2-29-47 36-2zM784 -169l-38 3-24-47 36-4zM671 -158l-37 4-20-47 36-4zM634 -154l-38 5-18-48 36-4zM483 -137l-37 4-14-48 37-4zM64 -107l-38 0-1-48 37-1zM26 -107l-39 0 1-48 37 0zM-90 -108l-38-1 4-49 37 2zM-166 -111l-39-2 6-48 37 2zM-205 -113l-38-2 7-48 37 2zM-243 -115l-38-3 8-48 37 3zM-621 -152l-38-4 21-48 36 4zM-783 -219l-36-3 34-47 34 3zM-1041 -234l-13 0-12 0-13 0 14-16 14-16 15-15 13 0 12 0 12 1-15 15-14 15zM-1079 -234l-13-1 14-15 13 0zM-1065 -250l-13 0 15-16 12 0zM-1051 -266l-12 0 15-15 12 0zM1104 -235l-12 0-14-15 13 0zM1091 -250l-13 0-15-16 13 0zM1076 -266l-13 0-15-15 12 0zM978 -232l-12 0-13 1-12 1-12-16-13-16-14-15 12 0 12-1 12 0 14 15 14 15zM722 -213l-36 4-28-47 35-4zM469 -185l-37 4-16-47 35-4zM25 -155l-37 0 0-48 36 0zM-50 -156l-37 0 3-48 36 1zM-785 -269l-35-3 42-45 33 3zM-926 -278l-12 0-12-1-12 0 15-16 16-15 18-14 11 0 12 0 11 1-17 15-15 15zM727 -263l-34 3-35-45 32-4zM658 -256l-34 4-31-46 32-4zM589 -248l-34 4-28-46 33-4zM24 -203l-36 0 1-47 34 0zM-439 -231l-35-4 23-46 33 4zM-474 -235l-35-4 25-46 33 4zM-778 -317l-33-2 51-44 31 2zM-217 -258l-33-2 14-46 32 2zM-484 -285l-32-4 31-44 31 4zM495 -334l-30 3-35-43 28-3zM22 -296l-33 0 1-45 30 0zM514 -385l-28 4-45-41 25-3zM374 -366l-29 3-31-42 26-3zM140 -345l-30 2-9-43 27-1zM591 -441l-9 1-8 1-8 1-22-13-23-13-23-12 7-1 7-1 7-1 25 13 24 12zM516 -432l-25 3-58-38 21-3zM262 -399l-26 3-26-40 23-3zM238 -524l-5 1-4 1-5 1-20-10-20-10-22-9 3-1 3-1 3-1 24 9 22 10zM-58 -501l-6-1-6 0-5 0 6-12 6-11 7-10 4 0 5 0 4 1-5 10-5 11zM239 -573l-2 0-2 1-3 1-42-8-44-6-46-5-1 0-1-1-1 0 49 4 48 7zM152 -548l-3 0-4 1-3 1-20-9-21-9-22-7 1-1 2 0 2-1 24 8 23 8zM-43 -534l-4-1-5 0-4 0 7-10 8-10 9-9 2 0 2 0 3 0-7 10-6 9zM-102 -587l1-1 0-1 1 0 42-3 33 1 25 4-27-3-34 0zM28 -564l-3 0-2 1-3 0-6-9-6-8-8-7 11 7 9 8zM-94 -577l-1-1-1 0-1-1 32-5 33-3 32 0-32 1-31 4z"/>
<path fill="#0057ff" stroke="#0057ff" d="M-248 587l-61-7 1 0zM-308 580l-1 0-54-8 2 0zM-361 572l-2 0-50-9 2 0zM248 587l61-7 1 0zM310 580l-1 0 54-8 2 0zM365 572l-2 0 50-9 3 0zM-273 573l-5-1-4 0-5-1-22-7-23-9-23-9 7 1 6 1 7 0 21 9 21 8zM305 570l-4 0-5 1-4 0 23-8 23-8 23-9 7-1 6-1 6 0-24 9-26 9zM470 536l-6 1-5 0-6 0 30-10 28-11 28-11 7 0 7-1 7 0-29 11-30 11zM436 539l-6 0-6 1-6 0 26-10 26-11 25-11 7 0 8-1 7 0-26 11-27 10zM66 577l-7 1-6 0-6 0 4-8 3-8 3-10 7 0 7-1 7 0-4 9-4 9zM539 505l-7 1-8 0-7 1 25-12 24-12 23-12 8 0 9-1 8-1-24 13-25 11zM214 539l-8 1-8 1-8 1 10-11 9-10 9-11 9-1 8-1 9-1-10 11-10 11zM100 550l-7 0-7 1-8 0 5-10 4-10 3-11 9 0 8-1 9 0-5 10-5 11zM-93 550l-7 0-8-1-7 0-6-10-6-11-5-10 8 0 8 1 9 0 4 11 5 10zM-183 542l-7 0-8-1-8-1-10-10-10-11-9-11 8 1 9 1 9 1 8 11 9 10zM431 486l-8 1-9 1-9 1 15-12 14-12 14-12 10-1 10-1 10-1-15 12-15 12zM297 502l-26 2 30-35 29-3zM-107 519l-25-1-16-35 28 2zM-132 518l-26-2-18-35 28 2zM-342 496l-27-3-40-36 30 4zM478 450l-30 3 38-39 32-4zM359 463l-29 3 29-38 32-4zM185 480l-28 2 15-37 30-2zM46 488l-28 0 2-37 30-1zM-254 438l-31-3-21-40 33 3zM-317 432l-31-3-25-41 34 4zM-339 392l-34-4-21-42 35 3zM-359 349l-35-3-18-44 37 3zM381 168l-40 3 5-48 39-3zM146 -11l-40 1-1-49 39-1zM-170 -62l-39-2 4-49 39 2zM-128 -109l-38-2 4-48 38 1zM-638 -204l-36-4 27-47 35 4zM505 -189l-36 4-18-47 34-4zM-12 -155l-38-1 2-47 36 0zM-236 -163l-37-3 10-48 36 3zM-347 -172l-36-4 14-47 35 3zM-1036 -281l-12 0 17-15 12 0zM-1019 -296l-12 0 17-15 12 0zM-1002 -311l-12 0 19-15 11 0zM1060 -281l-12 0-17-15 13 0zM1044 -296l-13 0-17-15 12 0zM1026 -311l-12 0-19-15 12 0zM-845 -321l-11-1-12-1-11 0 18-15 18-14 19-15 11 1 11 0 10 1-18 14-18 15zM462 -282l-33 4-26-45 31-4zM-549 -293l-33-4 36-44 30 4zM-667 -355l-31-3 54-42 28 3zM-824 -367l-10 0-11-1-11 0 21-14 22-14 23-14 10 0 10 1 10 0-22 14-21 14zM434 -327l-31 4-29-43 28-4zM-516 -337l-30-4 41-43 28 4zM-821 -411l-10 0-11 0-10 0 26-14 26-13 29-13 9 0 10 0 10 1-28 12-26 14zM711 -406l-10 1-10 1-9 1-21-14-22-13-23-13 9-1 9-1 8-1 24 14 23 13zM80 -342l-30 1-4-43 27-1zM-532 -434l-9-1-8-1-8-1 21-13 22-13 24-12 7 1 7 1 7 1-22 12-21 13zM642 -446l-8 1-9 1-9 1-24-13-24-13-26-12 7-1 8 0 7-1 27 12 26 13zM616 -443l-8 0-9 1-8 1-23-13-24-12-25-13 8 0 7-1 8-1 26 12 24 13zM416 -418l-25 3-45-39 22-3zM391 -415l-25 4-42-40 22-3zM340 -408l-26 3-35-39 23-4zM314 -405l-26 3-31-39 22-3zM18 -384l-27 0 1-41 24 0zM475 -518l-7 1-6 1-6 0-31-10-33-11-35-10 5 0 4-1 5-1 36 10 35 11zM332 -496l-6 1-6 1-6 1-20-12-20-11-22-10 5-1 4-1 5-1 23 10 22 11zM201 -476l-20 2-34-35 16-2zM-430 -553l-7 0-6 0-7 0 47-10 50-8 54-9 5 1 5 0 5 0-53 8-48 9zM131 -507l-5 0-6 1-5 0-10-11-10-10-10-11 4 0 4-1 4 0 12 10 11 11zM64 -502l-6 1-6 0-6 0-3-11-4-11-4-11 4 0 4 0 4-1 6 11 6 11zM-6 -500l-6 0-5 0-6 0 2-12 2-11 2-11 4 1 4 0 5 0-1 10 0 11zM-158 -510l-5-1-6-1-5-1 15-10 15-11 17-10 3 1 4 1 4 0-15 10-14 11zM232 -571l-2 0-2 1-3 1-39-8-42-6-43-5 0-1-1 0 0-1 46 5 44 6zM162 -550l-3 0-4 1-3 1-21-9-23-8-24-8 1 0 2-1 1 0 26 7 25 8zM73 -537l-5 1-4 0-4 0-8-10-8-9-9-9 2 0 3-1 2 0 11 9 10 9zM-78 -598l-3 0 166 0-4 0-77 0-3 5-1 6-3-6-5-5zM94 -593l1 1 1 0 1 1-44-2-31 1-22 5 19-5 29-2zM88 -574l-1 0-2 1-1 0-26-6-28-5-30-3 31 2 29 5zM-3 -563l-2 0-3 0-2 0 3-9 3-8 4-7-1 7-1 8zM-60 -567l-2-1-2 0-2 0 20-8 22-6 24-5-22 5-20 7z"/>
<path fill="#004dff" stroke="#004dff" d="M248 587l45-7 43-7 41-9 3 0 4 0 3 0-43 8-46 8zM248 587l-71 5-58 2-23-2 5 0 5-1 6 0 19 2 49-2zM248 587l-73 6-95 5-69 0 6 0 6 0 6 0 52 0 91-5zM248 587l-72 6-1 0zM175 593l1 0-94 5-2 0zM80 598l2 0-76 0 5 0zM176 593l-353 0 92 5 167 0zM82 598l-167 0 85 0 6 0zM-248 587l72 6-1 0zM-177 593l1 0 94 5-3 0zM-85 598l3 0 76 0 6 0zM405 563l-3 0-3 0-3 0 43-9 40-10 38-10 5 0 5 0 5 0-40 10-42 10zM174 584l-5 0-5 1-5 1 4-6 8-6 10-8 7-1 7 0 6-1-11 8-10 6zM159 586l-5 0-5 1-6 0 2-5 7-6 9-8 7 0 7-1 6-1-10 8-8 6zM-74 594l-5 0-6-1-5 0 3-5-4-6-6-7 7 0 6 1 6 0 5 8 3 6zM-169 584l-5 0-6-1-5 0-7-6-11-7-12-8 7 1 7 1 6 1 11 7 10 7zM-6 580l-6 0-6-1-6 0-1-8-2-9-1-9 7 0 7 0 7 0 0 10 1 9zM-97 575l-6-1-6 0-7-1-7-8-7-9-7-9 7 0 8 1 7 1 6 9 6 9zM332 525l-8 1-8 1-8 1 15-10 14-11 14-12 9-1 9-1 9-1-15 12-15 11zM-28 553l-7 0-8 0-7-1-2-9-3-11-2-10 8 0 8 0 8 0 2 11 1 10zM-50 552l-7 0-7 0-7-1-4-9-4-11-3-10 8 0 8 0 9 1 2 10 3 11zM538 476l-9 0-9 1-9 1 19-12 18-13 18-12 10-1 9-1 10-1-18 13-20 12zM324 499l-27 3 33-36 29-3zM-209 511l-26-3-27-35 29 3zM-369 493l-27-3-42-36 29 3zM566 441l-29 2 45-39 32-3zM-262 473l-29-3-26-38 32 3zM-320 467l-30-3-30-39 32 4zM520 372l-34 4 27-43 36-4zM513 333l-36 4 21-44 38-4zM424 300l-36 4 13-45 39-4zM440 255l-39 4 11-47 39-4zM-275 270l-38-3-9-47 39 3zM262 178l-39 2 3-48 40-3zM-131 -60l-39-2 4-49 38 2zM-209 -64l-39-2 5-49 38 2zM614 -201l-36 4-23-47 34-4zM578 -197l-36 4-22-47 35-4zM-999 -280l-12-1-12 0-13 0 17-15 17-15 18-15 12 0 12 0 12 1-18 14-17 16zM823 -320l-34 2-50-43 32-3zM789 -318l-33 3-48-44 31-2zM-889 -369l-11 0-11 0-12 0 23-15 23-14 25-13 10 0 11 0 10 0-24 14-22 14zM403 -323l-31 4-27-44 29-3zM-268 -309l-31-3 21-44 29 3zM-672 -403l-10 0-9-1-10-1 21-13 23-14 23-13 9 1 9 1 8 0-22 14-22 13zM-701 -405l-10-1-9 0-10-1 22-13 24-14 24-13 9 1 9 0 8 1-23 13-23 14zM110 -343l-30 1-7-43 28-1zM-219 -350l-30-3 22-42 27 2zM541 -435l-25 3-62-38 22-3zM-227 -395l-26-3 27-40 24 3zM-679 -488l-9 0 34-12 8 0zM-646 -500l-8 0 35-12 9 1zM-610 -511l-9-1 38-11 8 0zM697 -488l-9 0-34-12 9 0zM663 -500l-9 0-35-12 8 0zM627 -512l-8 0-38-11 8 0zM433 -467l-7 1-7 1-7 1-20-12-21-12-21-12 6-1 5-1 6-1 23 12 22 12zM-57 -426l-25-1 11-38 21 0zM-131 -429l-24-2 22-38 20 1zM-226 -438l-23-3 35-37 20 2zM367 -503l-6 1-5 1-6 1-23-11-23-11-25-10 4-1 5-1 4-1 26 11 25 10zM386 -550l-5 0-5 1-5 0-39-9-41-9-44-8 3 0 2-1 3 0 47 8 43 8zM331 -542l-5 0-4 1-4 1-32-9-33-10-34-8 2-1 2 0 2-1 38 8 35 9zM292 -535l-4 1-5 1-4 1-26-10-28-9-28-9 2-1 3 0 2-1 31 8 29 10zM-41 -501l-5 0-6 0-6 0 5-12 5-11 5-10 4 0 4 0 5 0-4 11-3 11zM-299 -580l-5 0 61-7 5 0zM-238 -587l-5 0 71-6 4 0zM-168 -593l-4 0 91-5 3 0zM-172 -593l349 0-92-5-166 0zM310 -580l-6 0-61-7 5 0zM248 -587l-5 0-71-6 5 0zM177 -593l-5 0-91-5 4 0zM304 -580l-5 0-5 1-5 0-60-8-68-6-85-5 1 0 1 0 3 0 91 5 71 6zM219 -567l-3 1-2 1-2 0-35-7-37-7-38-5 0-1 0-1 40 5 40 7zM204 -562l-2 1-3 0-2 1-31-8-32-7-34-6 1-1 0-1 36 6 35 7zM180 -555l-3 1-3 0-3 1-25-8-26-8-28-7 1 0 1-1 1-1 30 7 28 8zM60 -536l-4 1-4 0-5 0-6-10-6-10-7-9 2 0 2 0 3 0 9 9 8 9zM-30 -534l-5 0-4 0-4 0 5-11 6-9 7-10 2 1 3 0 2 0-4 9-4 10zM-86 -595l1-1 2 0 2-1 53 0 18 4 10 6-14-6-23-3zM102 -584l0 1-1 0-36-4-34-1-31 1 30-2 34 1zM74 -570l-2 0-2 1-2 0-20-7-23-6-25-5 27 4 24 6zM-53 -566l-2-1-3 0-2 0 18-8 20-7 22-5-20 6-18 7z"/>
<path fill="#0042ff" stroke="#0042ff" d="M248 587l40-6 40-8 38-8 4-1 3 0 4 0-41 9-43 7zM248 587l-74 5-66 3-29-1 6-1 5 0 6-1 23 2 58-2zM318 568l-4 1-5 0-4 1 25-8 26-9 24-9 7-1 6-1 6 0-26 9-27 9zM96 592l-6 1-5 0-6 1-3-5 3-6 5-7 6-1 7 0 6-1-6 8-4 6zM-40 597l-6 0-6-1-5 0 3-5-2-6-3-7 6 0 6 0 6 1 2 7 2 6zM-57 596l-6-1-5 0-6-1 4-4-3-6-5-8 6 1 6 0 7 1 3 7 2 6zM-245 576l-4-1-5 0-5-1-18-7-19-8-20-9 7 1 7 1 6 1 18 8 18 8zM-497 535l-5-1-5 0-5 0-36-11-34-11-32-11 7 0 6 0 7 1 31 11 32 11zM532 534l-5 0-5 0-5 0 36-11 35-11 32-11 7 0 6-1 6 0-34 12-36 11zM12 580l-6 0-6 0-6 0 0-8-1-9 0-10 7 0 7 0 7 0-1 10 0 8zM-24 579l-5 0-6 0-6 0-3-8-3-9-3-10 7 1 8 0 7 0 1 9 2 9zM-116 573l-6 0-7-1-6-1-8-8-9-9-8-9 8 0 7 1 8 1 7 9 7 9zM-316 550l-6 0-7-1-6-1-21-9-20-10-19-11 8 1 7 1 8 1 19 10 18 10zM-395 518l-8-1-8 0-8-1-20-11-19-12-18-11 9 1 9 0 9 1 17 12 18 11zM495 508l-7 1-8 1-7 0 22-11 22-11 21-12 8-1 9-1 8-1-21 12-23 12zM14 553l-7 0-7 0-7 0 0-9-1-11 0-10 8 0 8 0 8 0 0 10-1 11zM-115 549l-7-1-8-1-7 0-7-10-7-11-7-10 9 0 8 1 9 1 5 10 6 11zM732 464l-7 0-8 0-7 1 27-13 26-13 25-13 9-1 9 0 8 0-26 13-27 13zM589 471l-9 1-8 1-9 0 21-12 20-13 20-13 9 0 10-1 9-1-20 13-21 13zM485 481l-9 1-9 1-9 0 17-12 17-12 15-13 10-1 10-1 10-1-17 13-17 13zM271 504l-27 3 28-35 29-3zM166 515l-25 2 16-35 28-2zM90 520l-24 1 7-34 28-1zM-8 523l-25-1-4-34 28 0zM-183 513l-26-2-24-35 29 3zM-37 488l-27-1-6-37 30 1zM-380 425l-32-3-29-41 34 4zM588 365l-34 4 30-43 36-4zM418 384l-34 3 22-42 36-4zM584 326l-35 3 24-44 37-4zM477 337l-35 4 19-44 37-4zM-375 305l-37-3-15-46 38 4zM420 164l-39 4 4-48 40-4zM-294 79l-40-3 0-50 40 4zM147 38l-40 2-1-50 40-1zM-53 41l-40-1 0-49 40 0zM1093 -89l-13 0-13 1-13 0-6-16-5-16-7-17 13 0 13 0 13-1 7 16 6 17zM1054 -88l-14 1-13 0-13 1-5-16-6-17-6-16 13 0 13-1 13-1 7 17 5 16zM-410 -30l-40-4 7-49 39 4zM1036 -137l-13 1-13 1-13 0-8-16-8-16-8-16 12-1 13 0 13-1 9 16 8 16zM1088 -187l-13 0-13 1-13 0-10-16-11-16-12-15 12-1 13 0 13 0 12 16 11 15zM1011 -185l-13 1-13 0-12 1-10-16-11-16-11-15 12-1 13-1 12 0 12 16 11 15zM746 -166l-37 4-23-47 36-4zM-13 -107l-38 0 1-49 38 1zM-710 -212l-36-4 30-46 35 3zM-566 -196l-36-4 24-47 35 4zM-962 -279l-12-1-13 0-12 0 16-15 17-16 18-14 11 0 12 0 12 1-18 14-16 15zM555 -244l-35 4-25-46 32-4zM-913 -324l-12-1-12 0-11 0 19-15 19-15 21-14 11 0 11 1 11 0-20 14-19 15zM756 -315l-33 3-45-44 30-3zM690 -309l-32 4-41-44 30-4zM658 -305l-33 3-39-44 31-3zM-250 -260l-34-3 16-46 32 3zM-451 -281l-33-4 30-44 30 3zM-637 -352l-30-3 51-42 28 3zM-856 -368l-11 0-11-1-11 0 22-14 22-14 24-14 11 0 10 1 10 0-23 14-22 14zM739 -361l-31 2-55-42 29-2zM556 -342l-30 4-40-43 28-4zM-616 -397l-28-3 62-40 25 3zM-644 -400l-9-1-10-1-9-1 20-13 22-13 22-14 9 1 8 1 9 1-22 13-20 13zM20 -341l-30 0 1-43 27 0zM-249 -353l-29-3 25-42 26 3zM466 -425l-25 3-51-39 22-3zM366 -411l-26 3-38-40 22-3zM236 -396l-27 3-23-41 24-2zM209 -393l-27 2-19-41 23-2zM476 -473l-7 1-7 1-8 1-22-12-23-12-24-11 6-1 5-1 6-1 26 11 24 12zM454 -470l-7 1-7 1-7 1-21-12-22-12-23-12 6-1 6 0 6-1 24 11 23 12zM324 -451l-22 3-43-36 18-3zM186 -434l-23 2-23-38 21-2zM41 -425l-25 0-2-39 21 0zM581 -523l-8 0-8 1-7 0-38-11-41-10-42-10 6 0 7 0 6 0 44 9 42 11zM296 -490l-6 1-6 1-7 1-17-12-17-11-19-11 5-1 4-1 5-1 20 11 19 11zM277 -487l-6 1-6 1-6 1-16-12-16-11-18-11 5-1 5-1 5-1 19 11 17 11zM78 -466l-21 1-11-36 18-1zM57 -465l-22 1-6-36 17-1zM456 -553l-6 0-7 0-6 0-46-9-49-9-53-8 5 0 5-1 5 0 55 8 50 9zM371 -549l-5 1-4 1-5 0-37-9-39-9-42-8 3-1 2 0 3-1 44 8 41 9zM-142 -508l-5-1-6-1-5 0 13-11 14-11 15-10 4 1 3 0 4 1-13 10-12 11zM-68 -536l-5-1-4 0-4 0 11-10 11-10 12-8 3 0 2 0 2 0-10 9-10 10zM-138 -546l-4 0-3-1-4-1 21-9 22-8 24-7 2 0 1 1 2 0-22 8-20 8zM-102 -584l0-1 0-1 39-3 34 0 29 2-30-2-35 1z"/>
<path fill="#000fff" stroke="#000fff" d="M248 587l35-6 36-7 36-9 4 0 3 0 4 0-38 8-40 8zM-248 587l76 6 87 4 45 0 6 0 5 1 6 0-57 0-93-5zM-248 587l72 5 61 2 25-1 5 0 6 1 5 0-30 2-69-4zM-301 570l-4 0-4-1-5 0-27-8-26-9-26-10 6 1 7 1 6 0 24 10 25 8zM-373 564l-4 0-3 0-4 0-39-9-38-10-36-10 5 0 6 0 5 1 34 10 36 9zM-384 564l-3 0-3-1-3 0-42-9-40-10-37-10 5 0 5 0 5 1 36 10 38 10zM264 574l-5 0-5 1-5 0 17-7 18-7 18-9 7-1 7-1 6 0-20 9-20 8zM-90 593l-6-1-5 0-5-1 1-4-4-7-7-7 7 1 6 0 6 1 6 7 4 6zM-154 586l-5 0-5-1-5-1-5-5-10-7-11-7 7 0 7 1 6 1 10 7 8 7zM-200 581l-5-1-5 0-5-1-11-6-14-7-15-9 6 1 7 1 7 1 14 8 12 7zM-215 579l-5 0-5-1-5 0-13-7-16-8-16-8 6 1 7 1 7 0 15 9 14 7zM545 533l-4 0-5 0-4 1 37-11 36-11 34-12 6 0 6 0 6 0-35 12-38 11zM517 534l-5 0-5 0-5 0 35-10 32-11 32-12 6 0 7 0 6 0-32 11-35 11zM122 573l-6 0-7 1-6 0 6-8 7-9 6-9 8-1 7 0 8-1-8 9-7 9zM-175 567l-6-1-7-1-7 0-11-9-12-9-11-10 8 1 7 1 8 1 10 9 11 10zM-215 562l-7-1-6 0-7-1-14-9-14-9-14-10 8 1 8 1 8 1 13 9 12 10zM450 513l-8 0-8 1-7 1 20-11 19-12 19-11 9-1 9-1 8-1-19 12-21 11zM563 473l-8 1-9 1-8 1 19-13 20-12 18-13 9-1 10-1 10-1-20 13-20 13zM-235 508l-27-3-29-35 29 3zM-315 500l-27-4-37-35 29 3zM788 426l-8 0-9 0-9 1 23-14 22-14 21-13 9-1 10 0 10 0-22 14-23 13zM708 429l-9 1-10 0-9 1 20-13 20-14 18-14 10 0 10-1 10-1-19 14-20 14zM-350 464l-29-3-33-39 32 3zM-904 384l-9 0-23-14 10 0zM-926 370l-10 0-21-15 10 0zM-947 355l-10 0-21-14 10 0zM923 384l-10 0 23-14 9 0zM945 370l-9 0 21-15 10 0zM967 355l-10 0 21-14 10 0zM738 390l-10 1-10 1-11 1 17-14 16-15 15-14 11-1 11 0 11-1-16 14-16 14zM821 346l-11 0-11 1-11 1 15-15 14-15 14-14 12-1 11-1 11-1-14 15-15 15zM1033 296l-11 0-11 0-11 0 16-15 15-15 14-15 11-1 12 0 11 0-14 16-16 15zM1045 251l-12 0-12 0-11 0 12-15 12-16 10-16 13 0 12 0 12-1-11 16-12 16zM1117 203l-12 0-12 0-12 0 10-15 10-16 8-16 13-1 12 0 13 0-9 16-10 16zM1081 203l-12 1-12 0-13 0 10-16 9-16 8-16 13 0 13 0 12 0-8 16-10 16zM-465 252l-38-4-13-47 39 4zM-368 169l-39-3-5-49 40 4zM-332 124l-40-3-2-49 40 4zM1107 9l-13 1-14 0-13 1 0-17-1-16-2-17 13 0 14-1 13 0 2 17 1 16zM-53 90l-40-1 0-49 40 1zM-1170 -41l-14 0 3-16 13 0zM-1168 -57l-13 0 3-17 14 0zM-1164 -74l-14 0 5-16 13 0zM1197 -41l-13 0-3-16 13-1zM1194 -58l-13 1-3-17 13 0zM1191 -74l-13 0-5-16 13 0zM825 -23l-39 4-8-49 39-4zM-1120 -90l-13 0-13 0-14 0 6-16 6-17 7-16 13 0 14 0 13 1-7 16-6 16zM1173 -90l-13 0-14 0-13 0-5-16-6-16-8-17 14 0 13 0 13 0 7 16 7 16zM-450 -34l-39-4 7-49 39 4zM-906 -129l-39-3 23-48 38 2zM-1141 -139l-13 0 8-16 13 0zM-1133 -155l-13 0 9-16 13 0zM-1124 -171l-13 0 10-16 13 0zM1167 -139l-13 0-8-16 13 0zM1159 -155l-13 0-9-16 13 0zM1150 -171l-13 0-10-16 13 0zM803 -121l-38 4-19-49 38-3zM572 -97l-39 5-12-49 38-4zM533 -92l-38 4-12-49 38-4zM-482 -87l-39-4 12-49 38 5zM-636 -104l-39-4 16-48 38 4zM-771 -168l-38-3 26-48 37 3zM141 -109l-39 1-2-49 37-1zM102 -108l-38 1-2-49 38-1zM-471 -135l-38-5 16-48 36 4zM-746 -216l-37-3 32-47 35 4zM432 -181l-36 4-15-47 35-4zM-162 -159l-37-2 8-48 35 2zM-529 -192l-37-4 23-47 34 4zM451 -232l-35 4-20-46 33-4zM416 -228l-35 4-19-47 34-3zM593 -298l-33 4-34-44 30-4zM495 -286l-33 4-28-45 31-4zM23 -250l-34 0 0-46 33 0zM-546 -341l-30-4 43-42 28 3zM-792 -365l-10-1-11 0-11-1 21-14 21-14 22-14 10 1 10 0 10 1-22 14-20 14zM372 -319l-31 3-25-44 29-3zM155 -389l-27 2-14-41 25-2zM163 -432l-24 2-19-38 20-2zM255 -576l-3 0-2 1-3 0-48-7-52-6-53-5-2 0-1-1-2 0 59 4 56 6zM247 -575l-3 1-2 0-3 1-45-7-48-7-49-4-1-1-1 0-1-1 53 5 52 6zM-102 -586l0-1 41-3 34 0 27 3-29-2-34 0zM79 -571l-2 0-2 0-1 1-23-7-24-6-27-4 28 4 27 5zM35 -564l-3 0-2 0-2 0-8-8-9-8-11-7 13 7 12 7z"/>
<path fill="#0075ff" stroke="#0075ff" d="M46 597l-6 0-6 0-5 1-3-5 2-6 1-8 6 0 6 0 6-1-3 8-1 6zM84 576l-6 0-6 1-6 0 4-8 4-9 4-9 8 0 7-1 7 0-5 9-6 9zM192 513l-26 2 19-35 29-2zM448 453l-29 3 35-39 32-3zM419 456l-30 3 34-38 31-4zM157 482l-28 2 12-37 31-2zM-204 479l-29-3-21-38 31 3zM-233 476l-29-3-23-38 31 3zM-40 451l-30-1-6-40 33 1zM-162 277l-38-2-5-47 38 2zM-237 272l-38-2-8-47 39 3zM412 212l-39 4 8-48 39-4zM-249 179l-40-3-3-49 40 3zM-289 176l-39-3-4-49 40 3zM147 87l-40 2 0-49 40-2zM66 -9l-39 1-1-50 39 0zM-172 -12l-40-2 3-50 39 2zM868 -226l-37 3-34-47 35-2zM831 -223l-36 3-33-47 35-3zM-948 -325l-12-1-12 0-12 0 20-15 20-14 21-14 12 0 11 0 11 0-21 14-19 15zM-284 -263l-34-3 19-46 31 3zM-607 -348l-30-4 49-42 28 3zM-790 -410l-10 0-10-1-11 0 25-13 26-14 28-12 9 0 10 0 9 0-27 13-25 14zM73 -385l-27 1-5-41 25-1zM-306 -404l-26-3 38-39 22 3zM-357 -410l-26-4 44-39 22 3zM257 -441l-24 2-32-37 19-3zM114 -428l-24 1-12-39 21-1zM-8 -425l-25 0 5-39 21 0zM-33 -425l-24-1 7-39 22 1zM-249 -441l-23-2 39-38 19 3zM266 -529l-5 1-4 1-5 1-23-10-24-10-25-9 3-1 3-1 3 0 27 8 25 10zM209 -518l-5 1-5 0-5 1-16-10-18-11-18-9 3-1 4-1 3 0 20 9 19 10zM115 -506l-6 1-5 0-6 1-8-11-8-11-9-11 4 0 4 0 4-1 10 11 10 10zM81 -503l-6 1-5 0-6 0-5-11-6-11-6-11 5 0 4 0 4-1 7 11 7 11zM46 -501l-5 0-6 0-6 1-2-12-3-11-2-11 4 0 4 0 5 0 4 11 4 11zM-75 -502l-6-1-6 0-5-1 7-11 8-11 9-10 4 0 4 0 4 1-7 10-6 11zM-233 -523l-5-1-5 0-4-1 22-11 23-9 25-9 3 0 3 1 3 1-23 9-22 10zM-209 -564l-3-1-2 0-2-1 36-8 38-6 40-6 0 1 0 1-37 6-36 6zM-216 -566l-3-1-2-1-2 0 38-8 41-6 42-5 0 1-40 6-38 6zM189 -557l-3 0-3 1-3 1-27-8-28-8-30-7 1 0 1-1 1 0 32 6 30 7zM35 -534l-5 0-4 0-4 0-3-10-3-10-3-9 2 0 3 0 2 0 5 9 5 10zM-127 -544l-4 0-4-1-3-1 19-9 20-8 22-8 2 0 1 1 2 0-20 8-18 9zM100 -590l0 1 1 0 0 1-40-3-34 1-27 3 25-4 32-1zM95 -578l-1 1-1 1-1 0-30-6-31-3-31-2 32 1 32 3zM13 -563l-3 0-2 0-3 0-1-9-2-8-2-7 5 7 4 8z"/>
<path fill="#008aff" stroke="#008aff" d="M342 548l-7 0-6 1-7 1 20-10 19-10 19-10 7-1 8-1 8-1-20 11-20 10zM-41 579l-6-1-6 0-6 0-4-8-4-9-4-10 7 1 7 0 7 0 3 10 3 9zM356 523l-8 1-8 0-8 1 16-10 15-11 15-12 9-1 9-1 9-1-16 12-16 11zM351 495l-27 4 35-36 30-4zM330 466l-29 3 26-38 32-3zM243 475l-29 3 19-38 32-3zM550 407l-32 3 36-41 34-4zM454 417l-31 4 29-41 34-4zM296 434l-31 3 19-40 33-3zM80 450l-30 0 4-39 32-1zM-219 361l-34-2-12-44 36 3zM60 325l-36 1 1-45 37-1zM-265 315l-37-3-11-45 38 3zM175 276l-38 2 4-46 39-2zM-13 187l-39 0-1-48 40 0zM-174 86l-40-2 0-49 40 2zM107 40l-40 0-1-49 40-1zM27 41l-40 0 0-49 40 0zM-134 39l-40-2 2-49 39 1zM-212 -14l-40-3 4-49 39 2zM-52 -58l-40-1 2-49 39 1zM-528 -521l-8-1-7 0-7 0 38-11 39-10 43-10 6 0 6 1 5 0-40 10-39 10zM402 -508l-6 1-5 1-6 1-26-11-26-11-28-10 4-1 4-1 5-1 29 10 28 11zM14 -464l-21 0 1-36 18 0zM-214 -478l-19-3 44-34 15 2zM-252 -483l-7-1-6-1-6-1 16-12 18-11 18-11 5 1 5 1 5 1-17 11-16 11zM-290 -489l-6-1-6-1-6-1 19-12 20-11 22-10 4 1 5 0 5 1-20 11-19 11zM-450 -553l-6 0 47-10 6 0zM-403 -563l-6 0 50-9 6 1zM-353 -571l-6-1 55-8 5 0zM463 -553l-7 0-47-10 7 0zM416 -563l-7 0-50-9 6 0zM365 -572l-6 0-55-8 6 0zM357 -547l-4 1-5 1-4 0-35-9-37-9-40-8 3-1 2-1 2 0 42 8 39 9zM-126 -507l-5 0-6-1-5 0 12-11 12-11 13-10 4 0 4 1 4 0-11 11-11 10zM-159 -550l-3 0-3-1-3-1 24-9 26-7 27-7 2 0 1 1 1 0-25 7-24 8zM-10 -563l-3 0-2 0-3 0 5-9 6-8 7-7-4 7-3 8zM-47 -565l-2-1-2 0-2 0 15-8 18-7 20-6-18 6-15 7zM-97 -579l-1 0-1-1 34-5 33-2 32 0-32 0-33 3z"/>
<path fill="#0080ff" stroke="#0080ff" d="M322 550l-6 0-7 1-7 1 19-9 17-10 18-10 8-1 8-1 8-1-19 10-19 10zM-78 576l-6 0-6-1-7 0-6-8-6-9-6-9 7 0 8 1 7 0 5 10 5 8zM16 523l-24 0-1-35 27 0zM-82 521l-25-2-13-34 28 1zM389 459l-30 4 32-39 32-3zM301 469l-29 3 24-38 31-3zM359 428l-32 3 24-40 33-4zM384 387l-33 4 20-43 35-3zM388 304l-37 4 12-46 38-3zM-229 318l-36-3-10-45 38 2zM-134 88l-40-2 0-49 40 2zM-174 37l-40-2 2-49 40 2zM-93 -9l-40-2 2-49 39 1zM-133 -11l-39-1 2-50 39 2zM-51 -107l-39-1 3-48 37 0zM904 -228l-36 2-36-46 35-3zM-984 -326l-11 0 19-15 12 0zM-964 -341l-12 0 21-14 11 0zM-944 -355l-11 0 21-15 11 1zM1007 -326l-12 0-19-15 12 0zM988 -341l-12 0-21-14 12 0zM967 -355l-12 0-21-15 11 0zM-923 -369l-11-1 23-14 11 0zM-900 -384l-11 0 23-14 11 0zM-877 -398l-11 0 25-13 11 0zM945 -370l-11 0-23-14 12 0zM923 -384l-12 0-23-14 11 0zM899 -398l-11 0-25-13 11 0zM128 -387l-27 1-11-41 24-1zM-200 -393l-27-2 25-40 24 2zM564 -483l-7 1-8 0-7 1-28-12-28-11-30-12 6 0 6-1 7-1 31 12 30 11zM542 -481l-8 1-7 1-8 0-26-12-27-11-28-11 6-1 6-1 6-1 30 12 28 11zM279 -444l-22 3-37-38 20-3zM-294 -446l-23-4 46-36 19 3zM-317 -450l-22-3 49-36 19 3zM350 -500l-6 1-6 2-6 1-21-12-22-11-23-10 4-1 4-1 5-1 25 10 23 11zM-71 -465l-21-1 17-36 17 1zM-113 -468l-20-1 24-36 17 1zM-154 -471l-20-2 32-35 16 1zM-308 -492l-6-1-6-1-6-1 21-12 21-11 23-10 4 1 5 1 5 1-22 10-20 11zM-396 -551l-5 0-6-1-6 0 44-10 47-8 50-8 4 0 3 0 4 1-49 8-44 9zM437 -553l-7 0-6 0-6 1-44-10-47-9-51-8 4 0 4 0 5 0 53 8 49 9zM-92 -504l-6 0-6-1-5 0 9-11 9-11 10-10 4 0 4 0 5 1-9 10-8 11zM-219 -520l-5-1-5-1-4-1 20-10 22-10 23-9 3 1 3 1 3 0-21 10-20 10zM-247 -525l-5-1-5-1-4-1 24-10 25-10 26-9 3 1 3 1 3 1-25 9-23 9zM-202 -561l-2-1-3-1-2-1 34-8 36-6 37-6 0 1 1 0 0 1-35 6-34 7zM225 -569l-2 1-2 0-2 1-37-7-40-7-40-5 0-1-1-1 43 5 42 6zM197 -560l-3 1-3 1-2 1-29-9-30-7-32-6 1-1 1-1 34 6 32 7zM22 -534l-5 0-4 1-4 0-1-11-2-9-1-10 3 0 2 0 3 0 3 9 3 10zM9 -533l-5 0-4 0-4 0 0-11 1-9 0-10 3 0 3 0 2 0 1 10 2 9zM98 -579l-1 0-1 1-1 0-31-5-32-3-32-1 32 0 33 3zM92 -576l-1 1-2 0-1 1-28-6-29-5-31-2 31 2 31 3zM49 -566l-2 1-3 0-2 0-12-8-14-8-16-6 19 6 16 7zM5 -563l-2 0-3 0-3 0 1-9 1-8 1-7 2 7 2 8zM-66 -568l-2-1-2 0-2-1 22-7 24-6 26-4-24 5-22 6z"/>
<path fill="#0094ff" stroke="#0094ff" d="M405 489l-27 3 41-36 29-3zM-9 488l-28 0-3-37 30 0zM327 431l-31 3 21-40 34-3zM50 450l-30 1 2-40 32 0zM-10 451l-30 0-3-40 32 0zM-162 446l-30-3-14-40 33 3zM217 403l-33 2 11-42 35-2zM-76 410l-32-1-7-42 35 1zM-239 401l-34-3-15-42 35 3zM-273 398l-33-3-18-42 36 3zM-200 275l-37-3-7-46 39 2zM180 230l-39 2 3-48 39-2zM223 180l-40 2 3-48 40-2zM186 134l-40 2 1-49 40-2zM-252 130l-40-3-2-48 40 3zM107 89l-40 1 0-50 40 0zM67 40l-40 1 0-49 39-1zM-93 40l-41-1 1-50 40 2zM997 -135l-39 2-24-48 39-2zM771 -364l-11 1-10 1-11 1-18-15-19-14-20-13 9-1 10-1 10-1 21 14 20 14zM-449 -376l-28-4 44-41 25 4zM-634 -445l-8-1-9 0-9-1 26-13 26-12 28-12 8 0 8 1 7 1-26 12-26 12zM-771 -451l-10 0 29-13 10 0zM-742 -464l-10 0 31-12 10 0zM-711 -476l-10 0 33-12 9 0zM791 -451l-10 0-29-13 9 0zM761 -464l-9 0-31-12 9 0zM730 -476l-9 0-33-12 9 0zM368 -457l-22 3-50-36 18-3zM-573 -523l-8 0 39-10 8 0zM-534 -533l-8 0 42-11 7 0zM-493 -544l-7 0 44-9 6 0zM589 -523l-8 0-39-10 8 0zM550 -533l-8 0-42-11 8 0zM508 -544l-8 0-44-9 7 0zM456 -516l-6 1-6 1-6 1-30-11-31-11-33-10 4 0 5-1 4-1 35 10 33 11zM259 -484l-19 2-46-34 15-2zM220 -479l-19 3-38-35 16-2zM-7 -464l-21 0 5-36 17 0zM-28 -464l-22-1 9-36 18 1zM-50 -465l-21 0 13-36 17 0zM-301 -536l-4-1-4-1-4-1 30-10 33-9 34-8 2 1 2 0 3 1-32 9-31 9zM279 -532l-5 1-4 1-4 1-25-10-25-10-27-8 2-1 3-1 3-1 28 9 28 9zM12 -500l-6 0-6 0-6 0 1-12 0-11 1-10 4 0 4 0 5 0 1 10 1 11zM-109 -505l-6-1-5 0-6-1 11-11 11-10 11-11 4 1 4 0 4 1-10 10-9 11zM-189 -515l-5-1-5-1-5 0 17-11 19-10 19-10 4 1 3 1 4 0-18 10-17 10zM-116 -542l-4 0-4-1-3-1 17-9 18-9 20-8 2 1 2 0 2 1-18 8-17 9zM102 -586l0 1 0 1-38-4-34-1-30 2 29-3 34 1zM55 -567l-2 1-2 0-2 0-14-8-16-7-19-6 21 6 18 7zM-32 -564l-3 0-2 0-3-1 12-8 13-8 15-6-13 7-10 7zM-40 -565l-2 0-2 0-3 0 14-9 15-7 18-6-15 6-13 8z"/>
<path fill="#00bdff" stroke="#00bdff" d="M-57 522l-25-1-10-35 28 1zM20 451l-30 0-1-40 33 0zM-108 409l-33-1-8-42 34 1zM230 361l-35 2 10-44 36-2zM-50 281l-37-1-3-47 39 1zM26 234l-39 1 0-48 39 0zM-167 230l-38-2-5-47 40 2zM183 182l-39 2 2-48 40-2zM105 186l-40 1 1-49 40-1zM-93 138l-40-1-1-49 41 1zM-212 133l-40-3-2-48 40 2zM-298 -217l-36-3 16-46 34 3zM-507 -431l-25-3 63-38 22 3zM611 -486l-8 0-8 1-8 0-29-12-31-11-33-11 7-1 7 0 6-1 34 12 32 11zM-326 -495l-6-1-6-1-6-2 22-11 23-11 25-10 4 1 4 1 5 1-23 10-21 11zM-274 -531l-5-1-4-1-5-1 28-10 28-9 30-8 3 0 2 1 3 1-28 9-27 9zM-313 -539l-5-1-4-1-4-1 32-9 34-9 37-8 2 0 2 1 3 1-34 8-33 9zM-353 -546l-4-1-5 0-4-1 38-9 40-9 44-8 2 0 3 1 2 0-41 9-38 9zM179 -513l-5 0-5 1-6 1-13-11-15-10-15-10 4-1 3-1 4 0 17 10 16 10zM62 -568l-2 1-2 0-3 0-16-7-18-7-21-6 23 5 20 7z"/>
<path fill="#009eff" stroke="#009eff" d="M129 484l-28 2 10-38 30-1zM-148 483l-28-2-16-38 30 3zM486 414l-32 3 32-41 34-4zM317 394l-33 3 16-42 35-3zM-43 411l-33-1-4-42 34 1zM-206 403l-33-2-14-42 34 2zM442 341l-36 4 18-45 37-3zM371 348l-36 4 16-44 37-4zM-253 359l-35-3-14-44 37 3zM401 259l-38 3 10-46 39-4zM326 266l-38 3 8-47 39-3zM27 90l-40 0 0-49 40 0zM106 -10l-40 1-1-49 40-1zM27 -8l-40 0 0-50 39 0zM-53 -9l-40 0 1-50 40 1zM-273 -166l-37-3 12-48 35 3zM938 -278l-12 0-12 1-12 0-14-15-15-15-17-15 12-1 11 0 11-1 17 15 16 15zM900 -369l-11 0-11 0-11 1-21-15-23-14-23-13 10-1 11 0 10 0 24 14 23 14zM-424 -326l-30-3 33-43 28 3zM-454 -329l-31-4 36-43 28 4zM-505 -384l-28-3 50-41 25 4zM-760 -409l-10 0-10-1-10 0 24-13 25-14 27-13 9 1 9 0 9 1-25 13-24 13zM-393 -369l-28-3 38-42 26 4zM-557 -437l-9-1-8-1-8-1 22-13 24-12 24-13 7 1 7 1 8 1-24 12-22 13zM101 -386l-28 1-7-41 24-1zM688 -488l-9 0-9 0-8 0-33-12-35-11-36-11 7 0 8-1 8 0 38 11 35 12zM662 -488l-9 0-9 0-8 1-32-12-33-12-35-11 7 0 7 0 8 0 36 11 35 11zM587 -485l-7 1-8 0-8 1-28-12-30-11-31-12 6 0 7-1 6 0 33 11 31 11zM390 -461l-22 4-54-36 18-3zM302 -448l-23 4-39-38 19-2zM-550 -522l-8 0-7 0-8-1 39-10 41-11 43-9 7 0 6 0 7 0-43 10-39 10zM-92 -466l-21-2 21-36 17 2zM-194 -476l-20-2 40-35 16 3zM-233 -481l-19-2 48-34 15 2zM401 -551l-5 0-5 0-5 1-41-10-43-8-47-8 3-1 3 0 4-1 49 8 45 9zM29 -500l-6 0-6 0-5 0-1-12-1-11-1-10 4 0 4-1 5 0 2 11 3 11zM-194 -559l-3-1-2-1-3 0 32-8 34-7 35-6 1 1 1 1-33 6-32 7zM-223 -568l-2-1-3-1-2-1 41-7 44-6 45-5-1 0 0 1-1 1-42 5-41 6zM265 -578l-4 1-3 0-3 1-51-8-56-6-59-4-1-1-2 0-1-1 65 5 61 6zM-4 -533l-5 0-4 0-4-1 2-10 2-10 3-9 2 0 3 0 2 0 0 10-1 9zM-17 -534l-5 0-4 0-4 0 4-10 4-10 4-9 3 0 2 0 3 0-3 9-2 10zM-168 -552l-3-1-3-1-3 0 26-9 28-7 29-7 1 1 1 0 1 1-27 7-26 7zM101 -588l1 1 0 1-39-3-34-1-29 3 27-3 34-1z"/>
<path fill="#00d1ff" stroke="#00d1ff" d="M18 488l-27 0-1-37 30 0zM-92 486l-28-1-11-38 30 2zM265 437l-32 3 17-40 34-3zM172 445l-31 2 11-40 32-2zM265 358l-35 3 11-44 36-3zM126 367l-34 1 4-44 36-1zM-115 367l-34-1-7-44 36 2zM168 321l-36 2 5-45 38-2zM-351 -270l-34-3 23-45 31 3zM863 -411l-11 0-10 0-11 0-25-13-26-14-28-13 10 0 9 0 10 0 29 13 27 13zM800 -410l-10 0-10 0-10 1-24-14-24-13-26-13 9 0 9-1 9 0 27 13 26 13zM-336 -362l-28-3 32-42 26 3zM-608 -443l-8 0-9-1-9-1 25-13 26-12 26-12 8 0 7 1 8 1-26 12-24 13zM-557 -482l-7-1-8-1-8 0 30-12 30-12 32-11 7 1 6 0 7 1-31 11-30 12zM-653 -488l-9 0-8 0-9 0 33-12 36-11 37-12 8 1 7 0 8 0-36 11-34 11zM636 -487l-8 0-9 0-8 1-31-12-32-11-34-12 7 0 7 0 8-1 35 11 33 12zM-379 -504l-6-1-6-1-5-1 26-11 28-11 29-10 4 1 4 1 4 1-27 10-26 10zM-396 -507l-6-1-6-1-6-1 28-11 29-10 31-11 4 1 4 1 5 1-29 10-28 11zM-381 -550l-5 0-5-1-5 0 42-9 44-9 49-8 3 0 3 1 3 0-46 8-43 9z"/>
<path fill="#00faff" stroke="#00faff" d="M-64 487l-28-1-9-37 31 1zM-131 447l-31-1-11-40 32 2zM351 308l-37 3 12-45 37-4zM-92 186l-39-1-2-48 40 1zM-53 139l-40-1 0-49 40 1zM-334 -220l-35-3 18-47 33 4zM740 -408l-10 1-10 1-9 0-22-13-23-13-24-14 9 0 9-1 9 0 25 13 23 13zM-421 -372l-28-4 41-41 25 3z"/>
<path fill="#00b2ff" stroke="#00b2ff" d="M-120 485l-28-2-14-37 31 1zM161 365l-35 2 6-44 36-2zM-156 322l-37-2-7-45 38 2zM-193 320l-36-2-8-46 37 3zM257 225l-39 3 5-48 39-2zM-173 135l-39-2-2-49 40 2zM856 -322l-11 1-11 0-11 1-17-15-17-14-18-15 10 0 11-1 10-1 19 15 18 14zM-742 -450l-10-1-10 0-9 0 29-13 31-12 32-12 9 0 8 0 9 0-31 12-30 13zM669 -447l-9 0-9 1-9 0-25-12-26-13-27-12 8-1 8 0 7-1 29 12 27 13zM-280 -401l-26-3 34-39 23 2zM-288 -534l-4-1-4-1-5 0 29-10 31-9 32-9 2 1 3 1 2 1-30 8-28 9zM-177 -554l-3-1-3-1-3-1 28-8 30-7 31-7 1 1 1 0 1 1-29 7-28 7zM-186 -557l-3 0-2-1-3-1 30-8 32-7 33-6 1 1 1 0-31 7-30 7zM-101 -582l0-1-1 0 0-1 37-4 35-1 30 2-31-1-34 2z"/>
<path fill="#00c7ff" stroke="#00c7ff" d="M233 440l-31 3 15-40 33-3zM111 448l-31 2 6-40 33-1zM-149 366l-35-2-9-44 37 2zM-128 232l-39-2-3-47 39 2zM26 187l-39 0 0-48 40 0zM-52 187l-40-1-1-48 40 1zM-170 183l-40-2-2-48 39 2zM146 136l-40 1 1-48 40-2zM67 90l-40 0 0-49 40-1zM925 -325l-12 1-11 0-12 0-17-14-19-15-20-14 11-1 11 0 11 0 20 14 20 14zM-560 -391l-28-3 56-40 25 3zM-332 -407l-25-3 40-40 23 4zM-339 -544l-5-1-4 0-5-1 37-9 38-9 41-9 2 1 3 1 2 0-39 9-36 9zM-261 -528l-5-1-4-1-4-1 25-10 27-9 28-9 3 1 2 1 3 0-26 9-25 10zM276 -579l-4 1-4 0-3 0-54-7-61-6-65-5-2 0-2-1-1 0 74 5 65 6zM-99 -580l-1-1-1-1 36-4 34-2 31 1-32 0-33 2z"/>
<path fill="#00dbff" stroke="#00dbff" d="M202 443l-30 2 12-40 33-2zM152 407l-33 2 7-42 35-2zM-11 411l-32 0-3-42 35 1zM-173 406l-33-3-13-42 35 3zM-51 234l-39-1-2-47 40 1zM144 184l-39 2 1-49 40-1zM-13 139l-40 0 0-49 40 0zM-310 -169l-37-3 13-48 36 3zM-318 -266l-33-4 20-45 32 3zM-714 -450l-9 0-10 0-9 0 28-13 30-13 31-12 9 0 8 1 8 0-30 12-29 13zM723 -450l-9 0-9 1-9 0-27-13-28-12-30-12 8-1 9 0 8 0 30 12 30 12zM-469 -472l-7-1-7-1-7-1 24-12 25-12 27-11 6 1 6 1 6 1-26 11-24 12zM-580 -484l-7-1-8 0-8-1 30-12 32-11 33-11 7 0 7 1 6 0-32 11-30 12zM-432 -513l-6 0-6-1-6-1 31-11 32-10 34-10 5 1 4 0 5 1-33 10-30 11zM-488 -519l-6 0-7-1-7 0 36-11 37-10 39-10 5 0 5 1 5 0-37 10-36 11zM-326 -542l-5 0-4-1-4-1 34-9 36-9 39-9 2 1 3 1 2 1-37 8-34 9zM-204 -517l-5-1-5-1-5-1 19-10 20-10 21-10 4 1 3 1 3 0-19 10-19 10z"/>
<path fill="#00e5ff" stroke="#00e5ff" d="M141 447l-30 1 8-39 33-2zM-70 450l-31-1-7-40 32 1zM284 397l-34 3 15-42 35-3zM54 411l-32 0 1-42 34 0zM22 411l-33 0 0-41 34-1zM-120 324l-36-2-6-45 37 1zM212 274l-37 2 5-46 38-2zM-125 278l-37-1-5-47 39 2zM218 228l-38 2 3-48 40-2zM103 233l-39 1 1-47 40-1zM-90 233l-38-1-3-47 39 1zM-205 228l-39-2-5-47 39 2zM106 137l-40 1 1-48 40-1zM-133 137l-40-2-1-49 40 2zM890 -324l-11 1-11 0-12 1-17-15-18-14-19-15 11 0 11-1 10 0 20 14 19 15zM934 -370l-11 1-12 0-11 0-22-14-23-14-24-14 11 0 10 0 11 0 25 13 23 14zM-533 -387l-27-4 53-40 24 3zM-477 -380l-28-4 47-40 25 3zM-582 -440l-9-1-8-1-9-1 24-12 24-13 26-12 7 1 8 0 7 1-24 13-24 12zM781 -451l-10 0-9 0-10 0-29-12-30-13-31-12 8 0 9 0 9 0 33 12 31 12zM-414 -510l-6-1-6-1-6-1 30-10 30-11 33-10 4 1 4 1 5 0-31 11-29 10zM-450 -515l-6-1-6 0-6-1 32-11 34-10 36-10 4 1 5 0 4 1-34 10-32 10zM-508 -520l-6-1-7 0-7 0 36-11 39-10 40-10 6 0 6 1 5 0-39 10-37 10z"/>
<path fill="#00f0ff" stroke="#00f0ff" d="M-101 449l-30-2-10-39 33 1zM57 369l-34 0 1-43 36-1zM205 319l-37 2 7-45 37-2zM-13 235l-38-1-1-47 39 0zM65 187l-39 0 1-48 39-1zM27 139l-40 0 0-49 40 0zM802 -366l-10 1-11 1-10 0-19-14-20-14-21-14 9 0 10-1 10-1 22 14 20 14zM-362 -318l-31-4 29-43 28 3zM-483 -428l-24-3 60-38 21 3zM-687 -448l-9-1-9 0-9-1 27-12 29-13 30-12 9 0 8 1 8 0-29 12-28 13z"/>
<path fill="#00a8ff" stroke="#00a8ff" d="M250 400l-33 3 13-42 35-3zM184 405l-32 2 9-42 34-2zM406 345l-35 3 17-44 36-4zM-184 364l-35-3-10-43 36 2zM363 262l-37 4 9-47 38-3zM62 280l-37 1 1-47 38 0zM64 234l-38 0 0-47 39 0zM-210 181l-39-2-3-49 40 3zM902 -277l-11 1-12 0-12 1-14-15-15-15-15-15 11-1 11 0 11-1 17 15 15 15zM-369 -223l-35-4 19-46 34 3zM-385 -273l-33-4 25-45 31 4zM-307 -359l-29-3 30-42 26 3zM-660 -447l-9 0-9-1-9 0 27-13 28-13 29-12 8 1 8 0 7 1-28 12-26 12zM418 -552l-5 0-6 0-6 1-42-10-45-9-49-8 3 0 4 0 4-1 51 8 47 9zM289 -579l-5 0-4 0-4 0-57-7-65-6-74-5-2 0-1-1-1 0 85 5 68 6zM76 -598l1 0 1 1 2 0-55 0-16 4-9 6 5-6 10-5zM80 -597l1 0 2 1 2 0-51-1-21 4-13 6 9-6 16-4zM68 -569l-2 1-2 0-2 0-19-7-20-7-23-5 25 5 23 6zM42 -565l-2 0-3 1-2 0-10-9-12-7-13-7 16 6 14 8zM-25 -564l-3 0-2 0-2 0 9-9 10-7 13-7-10 7-8 8z"/>
<path fill="#2effd1" stroke="#2effd1" d="M119 409l-33 1 6-42 34-1zM132 323l-36 1 4-45 37-1zM-84 325l-36-1-5-46 38 2zM867 -368l-11 0-11 0-11 1-20-14-22-14-22-14 10-1 10 0 10 0 23 13 23 14z"/>
<path fill="#1affe5" stroke="#1affe5" d="M86 410l-32 1 3-42 35-1zM-141 408l-32-2-11-42 35 2zM300 355l-35 3 12-44 37-3zM96 324l-36 1 2-45 38-1zM696 -449l-9 1-9 0-9 1-26-13-27-13-29-12 8 0 8-1 8 0 30 12 28 12zM-447 -469l-7-1-8-1-7-1 23-12 24-12 26-11 5 1 6 1 6 1-24 11-23 12zM-344 -499l-6-1-6-1-5-1 23-11 25-10 25-11 5 1 4 1 5 1-25 10-23 11zM-366 -548l-5-1-5 0-5-1 40-9 43-9 46-8 2 1 3 0 3 1-44 8-40 9z"/>
<path fill="#24ffdb" stroke="#24ffdb" d="M335 352l-35 3 14-44 37-3zM92 368l-35 1 3-44 36-1zM-361 -456l-22-3 57-36 18 3z"/>
<path fill="#05fffa" stroke="#05fffa" d="M195 363l-34 2 7-44 37-2zM23 369l-34 1-1-44 36 0zM24 326l-36 0 0-45 37 0zM288 269l-38 3 7-47 39-3zM-458 -424l-25-4 57-38 22 3zM-383 -459l-21-4 60-36 18 4z"/>
<path fill="#4dffb2" stroke="#4dffb2" d="M-11 370l-35-1-2-43 36 0zM241 317l-36 2 7-45 38-2zM-48 326l-36-1-3-45 37 1zM-339 -453l-22-3 53-36 18 3z"/>
<path fill="#38ffc7" stroke="#38ffc7" d="M-46 369l-34-1-4-43 36 1zM250 272l-38 2 6-46 39-3zM25 281l-37 0-1-46 39-1zM-131 185l-39-2-3-48 40 2zM831 -411l-10 0-11 0-10 1-24-14-26-13-27-13 10 0 9 0 10-1 28 13 26 14z"/>
<path fill="#0ffff0" stroke="#0ffff0" d="M-80 368l-35-1-5-43 36 1zM314 311l-37 3 11-45 38-3zM-87 280l-38-2-3-46 38 1zM141 232l-38 1 2-47 39-2zM66 138l-39 1 0-49 40 0zM752 -451l-10 1-9 0-10 0-27-13-30-12-30-12 8-1 9 0 9 0 31 12 30 13zM-628 -487l-8 0-8-1-9 0 33-12 34-11 36-11 7 0 7 0 8 1-35 11-33 11z"/>
<path fill="#75ff8a" stroke="#75ff8a" d="M277 314l-36 3 9-45 38-3zM834 -367l-10 0-11 1-11 0-20-14-20-14-22-14 10 0 10-1 10 0 22 14 22 14zM-512 -478l-7-1-8 0-7-1 27-12 28-12 29-11 6 1 6 1 6 0-28 12-27 11z"/>
<path fill="#a8ff57" stroke="#a8ff57" d="M-12 326l-36 0-2-45 38 0zM-404 -463l-8-1-7-1-7-1 21-12 21-12 23-12 5 1 6 1 6 1-21 12-20 12z"/>
<path fill="#94ff6b" stroke="#94ff6b" d="M137 278l-37 1 3-46 38-1zM-12 281l-38 0-1-47 38 1z"/>
<path fill="#80ff80" stroke="#80ff80" d="M100 279l-38 1 2-46 39-1zM-383 -414l-25-3 47-39 22 3zM-603 -486l-8 0-8-1-9 0 32-12 33-11 35-11 7 0 7 0 6 1-33 11-32 11z"/>
<path fill="#42ffbd" stroke="#42ffbd" d="M-393 -322l-31-4 31-43 29 4zM-408 -417l-25-4 50-38 22 3zM-490 -475l-8-1-7-1-7-1 25-12 27-11 28-12 6 1 6 1 6 1-27 11-25 12zM-534 -480l-8-1-7-1-8 0 28-12 30-12 31-11 6 1 6 0 6 1-29 11-28 12z"/>
<path fill="#6bff94" stroke="#6bff94" d="M770 -409l-10 0-10 1-10 0-23-13-23-13-25-13 9-1 9 0 9-1 26 13 24 13z"/>
<path fill="#61ff9e" stroke="#61ff9e" d="M-364 -365l-29-4 36-41 25 3zM-433 -421l-25-3 54-39 21 4z"/>
<path fill="#f0ff0f" stroke="#f0ff0f" d="M-426 -466l-7-1-7-1-7-1 21-12 23-12 24-11 6 0 6 1 6 1-23 12-21 12z"/>
<path fill="#57ffa8" stroke="#57ffa8" d="M-361 -502l-6-1-6-1-6 0 25-12 26-10 27-10 5 0 4 1 4 1-25 11-25 10zM-468 -517l-7-1-6 0-7-1 34-10 36-11 37-10 5 1 5 0 5 1-36 10-34 10z"/>
</g></g>
<use href="#grid" fill="none" stroke="#d6d6d6" stroke-width="0.7" clip-path="url(#el)"/>
<g font-size="7.3"><text x="-108.5" y="-4.2" text-anchor="middle" fill="#fff" stroke="#666" stroke-width="0.3" paint-order="stroke">60</text>
<text x="-88.6" y="-3.1" text-anchor="middle" fill="#fff" stroke="#666" stroke-width="0.3" paint-order="stroke">30</text>
<text x="-68.7" y="-1.2" text-anchor="middle" fill="#fff" stroke="#666" stroke-width="0.3" paint-order="stroke">0</text>
<text x="-48.8" y="0.9" text-anchor="middle" fill="#fff" stroke="#666" stroke-width="0.3" paint-order="stroke">-30</text>
<text x="-28.8" y="2.8" text-anchor="middle" fill="#fff" stroke="#666" stroke-width="0.3" paint-order="stroke">-60</text>
<text x="-8.7" y="3.8" text-anchor="middle" fill="#fff" stroke="#666" stroke-width="0.3" paint-order="stroke">-90</text>
<text x="11.3" y="3.8" text-anchor="middle" fill="#fff" stroke="#666" stroke-width="0.3" paint-order="stroke">-120</text>
<text x="31.3" y="2.7" text-anchor="middle" fill="#fff" stroke="#666" stroke-width="0.3" paint-order="stroke">-150</text>
<text x="51.3" y="0.8" text-anchor="middle" fill="#fff" stroke="#666" stroke-width="0.3" paint-order="stroke">180</text>
<text x="71.2" y="-1.3" text-anchor="middle" fill="#fff" stroke="#666" stroke-width="0.3" paint-order="stroke">150</text>
<text x="91.1" y="-3.2" text-anchor="middle" fill="#fff" stroke="#666" stroke-width="0.3" paint-order="stroke">120</text>
<text x="111" y="-4.2" text-anchor="middle" fill="#fff" stroke="#666" stroke-width="0.3" paint-order="stroke">90</text>
<text x="-39.8" y="-47.3" text-anchor="middle" fill="#fff" stroke="#666" stroke-width="0.3" paint-order="stroke">60</text>
<text x="-60.6" y="-26.1" text-anchor="middle" fill="#fff" stroke="#666" stroke-width="0.3" paint-order="stroke">30</text>
<text x="-65" y="22.2" text-anchor="middle" fill="#fff" stroke="#666" stroke-width="0.3" paint-order="stroke">-30</text>
<text x="-49.1" y="43.8" text-anchor="middle" fill="#fff" stroke="#666" stroke-width="0.3" paint-order="stroke">-60</text>
<text x="0" y="-60.2" text-anchor="middle" fill="#fff" stroke="#666" stroke-width="0.3" paint-order="stroke">90</text>
<text x="-24" y="57.8" text-anchor="middle" fill="#fff" stroke="#666" stroke-width="0.3" paint-order="stroke">-90</text>
<circle cx="0.6" cy="-24.2" r="1" fill="#8b1a1a"/>
<text x="0.1" y="-26.2" text-anchor="start" fill="#8b1a1a">V1</text>
<circle cx="-2" cy="0" r="1" fill="#8b1a1a"/>
<text x="-3" y="-2.5" text-anchor="start" fill="#8b1a1a">Nose</text>
<circle cx="-20.4" cy="29" r="1" fill="#111"/>
<text x="-20.9" y="27.5" text-anchor="start" fill="#111">V2</text>
<circle cx="118" cy="0" r="1" fill="#8b1a1a"/>
<text x="118.2" y="-2" text-anchor="start" fill="#8b1a1a">Tail</text></g>
</g>
<text x="24.2" y="471.7" font-size="13.6" fill="#000" stroke="#000" stroke-width="0.2">4.3 keV</text>
<rect x="15" y="581.1" width="270" height="4.2" fill="url(#jet)"/>
<rect x="68.8" y="581.1" width="0.5" height="4.2" fill="#222" fill-opacity="0.3"/>
<rect x="122.8" y="581.1" width="0.5" height="4.2" fill="#222" fill-opacity="0.3"/>
<rect x="176.8" y="581.1" width="0.5" height="4.2" fill="#222" fill-opacity="0.3"/>
<rect x="230.8" y="581.1" width="0.5" height="4.2" fill="#222" fill-opacity="0.3"/>
<g font-size="8.4" fill="#7a1212" stroke="#7a1212" stroke-width="0.15"><text x="15" y="598.5" text-anchor="middle">0</text><text x="69" y="598.5" text-anchor="middle">2</text><text x="123" y="598.5" text-anchor="middle">4</text><text x="177" y="598.5" text-anchor="middle">6</text><text x="231" y="598.5" text-anchor="middle">8</text><text x="285" y="598.5" text-anchor="middle">10</text></g>
<text x="406.5" y="470" font-size="13.6" fill="#000" stroke="#000" stroke-width="0.15">ENA/(cm<tspan font-size="8.5" dy="-5">2</tspan><tspan dy="5"> s sr keV)</tspan></text>
</svg></body></html>
